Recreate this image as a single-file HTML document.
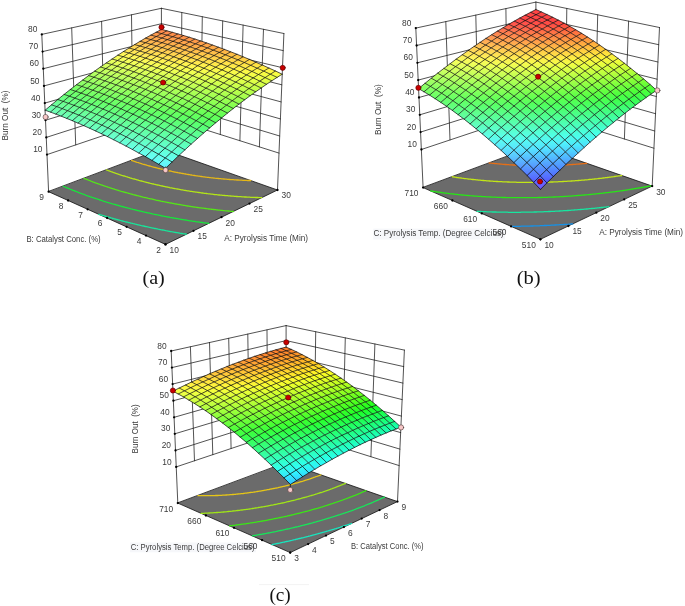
<!DOCTYPE html>
<html><head><meta charset="utf-8"><style>html,body{margin:0;padding:0;background:#fff}svg{display:block}</style></head><body>
<svg width="685" height="606" viewBox="0 0 685 606">
<defs><linearGradient id="A1" gradientUnits="userSpaceOnUse" x1="161.2" y1="33.5" x2="161.9" y2="29.5"><stop stop-color="#ff934d"/><stop offset="1" stop-color="#ff854d"/></linearGradient><linearGradient id="A2" gradientUnits="userSpaceOnUse" x1="155.9" y1="36.4" x2="156.7" y2="32.3"><stop stop-color="#ffa14e"/><stop offset="1" stop-color="#ff934e"/></linearGradient><linearGradient id="A3" gradientUnits="userSpaceOnUse" x1="166.6" y1="35" x2="167.4" y2="30.9"><stop stop-color="#ff944c"/><stop offset="1" stop-color="#ff864c"/></linearGradient><linearGradient id="A4" gradientUnits="userSpaceOnUse" x1="150.5" y1="39.5" x2="151.4" y2="35.2"><stop stop-color="#ffaf50"/><stop offset="1" stop-color="#ffa150"/></linearGradient><linearGradient id="A5" gradientUnits="userSpaceOnUse" x1="161.3" y1="38" x2="162.1" y2="33.7"><stop stop-color="#ffa24e"/><stop offset="1" stop-color="#ff944e"/></linearGradient><linearGradient id="A6" gradientUnits="userSpaceOnUse" x1="172.2" y1="36.6" x2="172.8" y2="32.4"><stop stop-color="#ff964b"/><stop offset="1" stop-color="#ff884b"/></linearGradient><linearGradient id="A7" gradientUnits="userSpaceOnUse" x1="145.1" y1="42.6" x2="146" y2="38.2"><stop stop-color="#ffbe52"/><stop offset="1" stop-color="#ffaf52"/></linearGradient><linearGradient id="A8" gradientUnits="userSpaceOnUse" x1="156" y1="41" x2="156.8" y2="36.6"><stop stop-color="#ffb150"/><stop offset="1" stop-color="#ffa250"/></linearGradient><linearGradient id="A9" gradientUnits="userSpaceOnUse" x1="166.9" y1="39.6" x2="167.6" y2="35.2"><stop stop-color="#ffa44d"/><stop offset="1" stop-color="#ff954d"/></linearGradient><linearGradient id="A10" gradientUnits="userSpaceOnUse" x1="177.8" y1="38.3" x2="178.4" y2="33.9"><stop stop-color="#ff994b"/><stop offset="1" stop-color="#ff8a4b"/></linearGradient><linearGradient id="A11" gradientUnits="userSpaceOnUse" x1="139.6" y1="45.9" x2="140.6" y2="41.4"><stop stop-color="#ffce54"/><stop offset="1" stop-color="#ffbe54"/></linearGradient><linearGradient id="A12" gradientUnits="userSpaceOnUse" x1="150.5" y1="44.2" x2="151.4" y2="39.7"><stop stop-color="#ffc051"/><stop offset="1" stop-color="#ffb051"/></linearGradient><linearGradient id="A13" gradientUnits="userSpaceOnUse" x1="161.5" y1="42.6" x2="162.3" y2="38.1"><stop stop-color="#ffb34f"/><stop offset="1" stop-color="#ffa34f"/></linearGradient><linearGradient id="A14" gradientUnits="userSpaceOnUse" x1="172.5" y1="41.2" x2="173.1" y2="36.8"><stop stop-color="#ffa74d"/><stop offset="1" stop-color="#ff974d"/></linearGradient><linearGradient id="A15" gradientUnits="userSpaceOnUse" x1="183.4" y1="40" x2="184" y2="35.6"><stop stop-color="#ff9c4a"/><stop offset="1" stop-color="#ff8c4a"/></linearGradient><linearGradient id="A16" gradientUnits="userSpaceOnUse" x1="134" y1="49.4" x2="135.1" y2="44.7"><stop stop-color="#ffde56"/><stop offset="1" stop-color="#ffcd56"/></linearGradient><linearGradient id="A17" gradientUnits="userSpaceOnUse" x1="145" y1="47.5" x2="146" y2="42.8"><stop stop-color="#ffcf53"/><stop offset="1" stop-color="#ffbf53"/></linearGradient><linearGradient id="A18" gradientUnits="userSpaceOnUse" x1="156.1" y1="45.8" x2="156.9" y2="41.2"><stop stop-color="#ffc251"/><stop offset="1" stop-color="#ffb151"/></linearGradient><linearGradient id="A19" gradientUnits="userSpaceOnUse" x1="167.1" y1="44.3" x2="167.8" y2="39.7"><stop stop-color="#ffb54e"/><stop offset="1" stop-color="#ffa54e"/></linearGradient><linearGradient id="A20" gradientUnits="userSpaceOnUse" x1="178.1" y1="43" x2="178.8" y2="38.4"><stop stop-color="#ffaa4c"/><stop offset="1" stop-color="#ff9a4c"/></linearGradient><linearGradient id="A21" gradientUnits="userSpaceOnUse" x1="189.2" y1="41.9" x2="189.7" y2="37.3"><stop stop-color="#ffa04a"/><stop offset="1" stop-color="#ff8f4a"/></linearGradient><linearGradient id="A22" gradientUnits="userSpaceOnUse" x1="128.4" y1="52.9" x2="129.5" y2="48.1"><stop stop-color="#ffee57"/><stop offset="1" stop-color="#ffdd57"/></linearGradient><linearGradient id="A23" gradientUnits="userSpaceOnUse" x1="139.5" y1="51" x2="140.5" y2="46.1"><stop stop-color="#ffdf55"/><stop offset="1" stop-color="#ffce55"/></linearGradient><linearGradient id="A24" gradientUnits="userSpaceOnUse" x1="150.6" y1="49.2" x2="151.5" y2="44.4"><stop stop-color="#ffd153"/><stop offset="1" stop-color="#ffc053"/></linearGradient><linearGradient id="A25" gradientUnits="userSpaceOnUse" x1="161.7" y1="47.6" x2="162.4" y2="42.8"><stop stop-color="#ffc450"/><stop offset="1" stop-color="#ffb350"/></linearGradient><linearGradient id="A26" gradientUnits="userSpaceOnUse" x1="172.7" y1="46.1" x2="173.4" y2="41.4"><stop stop-color="#ffb84e"/><stop offset="1" stop-color="#ffa74e"/></linearGradient><linearGradient id="A27" gradientUnits="userSpaceOnUse" x1="183.8" y1="44.9" x2="184.4" y2="40.2"><stop stop-color="#ffad4c"/><stop offset="1" stop-color="#ff9d4c"/></linearGradient><linearGradient id="A28" gradientUnits="userSpaceOnUse" x1="194.9" y1="43.8" x2="195.4" y2="39.1"><stop stop-color="#ffa449"/><stop offset="1" stop-color="#ff9349"/></linearGradient><linearGradient id="A29" gradientUnits="userSpaceOnUse" x1="122.7" y1="56.6" x2="123.9" y2="51.6"><stop stop-color="#fffe59"/><stop offset="1" stop-color="#ffed59"/></linearGradient><linearGradient id="A30" gradientUnits="userSpaceOnUse" x1="133.9" y1="54.5" x2="134.9" y2="49.6"><stop stop-color="#ffef57"/><stop offset="1" stop-color="#ffde57"/></linearGradient><linearGradient id="A31" gradientUnits="userSpaceOnUse" x1="145" y1="52.6" x2="146" y2="47.7"><stop stop-color="#ffe154"/><stop offset="1" stop-color="#ffd054"/></linearGradient><linearGradient id="A32" gradientUnits="userSpaceOnUse" x1="156.2" y1="50.9" x2="157" y2="46"><stop stop-color="#ffd352"/><stop offset="1" stop-color="#ffc252"/></linearGradient><linearGradient id="A33" gradientUnits="userSpaceOnUse" x1="167.3" y1="49.4" x2="168.1" y2="44.5"><stop stop-color="#ffc750"/><stop offset="1" stop-color="#ffb650"/></linearGradient><linearGradient id="A34" gradientUnits="userSpaceOnUse" x1="178.5" y1="48" x2="179.1" y2="43.1"><stop stop-color="#ffbc4d"/><stop offset="1" stop-color="#ffaa4d"/></linearGradient><linearGradient id="A35" gradientUnits="userSpaceOnUse" x1="189.6" y1="46.8" x2="190.2" y2="42"><stop stop-color="#ffb24b"/><stop offset="1" stop-color="#ffa04b"/></linearGradient><linearGradient id="A36" gradientUnits="userSpaceOnUse" x1="200.8" y1="45.8" x2="201.2" y2="41"><stop stop-color="#ffa949"/><stop offset="1" stop-color="#ff9749"/></linearGradient><linearGradient id="A37" gradientUnits="userSpaceOnUse" x1="117" y1="60.4" x2="118.3" y2="55.3"><stop stop-color="#efff5b"/><stop offset="1" stop-color="#fffe5b"/></linearGradient><linearGradient id="A38" gradientUnits="userSpaceOnUse" x1="128.2" y1="58.2" x2="129.3" y2="53.1"><stop stop-color="#feff59"/><stop offset="1" stop-color="#ffee59"/></linearGradient><linearGradient id="A39" gradientUnits="userSpaceOnUse" x1="139.4" y1="56.2" x2="140.4" y2="51.2"><stop stop-color="#fff156"/><stop offset="1" stop-color="#ffdf56"/></linearGradient><linearGradient id="A40" gradientUnits="userSpaceOnUse" x1="150.6" y1="54.4" x2="151.5" y2="49.4"><stop stop-color="#ffe354"/><stop offset="1" stop-color="#ffd154"/></linearGradient><linearGradient id="A41" gradientUnits="userSpaceOnUse" x1="161.8" y1="52.8" x2="162.6" y2="47.7"><stop stop-color="#ffd652"/><stop offset="1" stop-color="#ffc552"/></linearGradient><linearGradient id="A42" gradientUnits="userSpaceOnUse" x1="173" y1="51.3" x2="173.7" y2="46.3"><stop stop-color="#ffcb4f"/><stop offset="1" stop-color="#ffb94f"/></linearGradient><linearGradient id="A43" gradientUnits="userSpaceOnUse" x1="184.3" y1="50" x2="184.9" y2="45"><stop stop-color="#ffc04d"/><stop offset="1" stop-color="#ffae4d"/></linearGradient><linearGradient id="A44" gradientUnits="userSpaceOnUse" x1="195.5" y1="48.8" x2="196" y2="43.9"><stop stop-color="#ffb64a"/><stop offset="1" stop-color="#ffa44a"/></linearGradient><linearGradient id="A45" gradientUnits="userSpaceOnUse" x1="206.7" y1="47.9" x2="207.1" y2="43"><stop stop-color="#ffae48"/><stop offset="1" stop-color="#ff9c48"/></linearGradient><linearGradient id="A46" gradientUnits="userSpaceOnUse" x1="111.2" y1="64.4" x2="112.5" y2="59.1"><stop stop-color="#ddff5d"/><stop offset="1" stop-color="#f0ff5d"/></linearGradient><linearGradient id="A47" gradientUnits="userSpaceOnUse" x1="122.5" y1="62.1" x2="123.7" y2="56.8"><stop stop-color="#edff5a"/><stop offset="1" stop-color="#fffe5a"/></linearGradient><linearGradient id="A48" gradientUnits="userSpaceOnUse" x1="133.7" y1="60" x2="134.8" y2="54.7"><stop stop-color="#fcff58"/><stop offset="1" stop-color="#ffef58"/></linearGradient><linearGradient id="A49" gradientUnits="userSpaceOnUse" x1="145" y1="58" x2="146" y2="52.8"><stop stop-color="#fff356"/><stop offset="1" stop-color="#ffe156"/></linearGradient><linearGradient id="A50" gradientUnits="userSpaceOnUse" x1="156.3" y1="56.3" x2="157.1" y2="51.1"><stop stop-color="#ffe653"/><stop offset="1" stop-color="#ffd453"/></linearGradient><linearGradient id="A51" gradientUnits="userSpaceOnUse" x1="167.5" y1="54.7" x2="168.3" y2="49.5"><stop stop-color="#ffda51"/><stop offset="1" stop-color="#ffc751"/></linearGradient><linearGradient id="A52" gradientUnits="userSpaceOnUse" x1="178.8" y1="53.3" x2="179.5" y2="48.1"><stop stop-color="#ffcf4f"/><stop offset="1" stop-color="#ffbc4f"/></linearGradient><linearGradient id="A53" gradientUnits="userSpaceOnUse" x1="190.1" y1="52" x2="190.7" y2="46.9"><stop stop-color="#ffc54c"/><stop offset="1" stop-color="#ffb24c"/></linearGradient><linearGradient id="A54" gradientUnits="userSpaceOnUse" x1="201.4" y1="51" x2="201.9" y2="45.9"><stop stop-color="#ffbc4a"/><stop offset="1" stop-color="#ffa94a"/></linearGradient><linearGradient id="A55" gradientUnits="userSpaceOnUse" x1="212.7" y1="50.1" x2="213.1" y2="45"><stop stop-color="#ffb448"/><stop offset="1" stop-color="#ffa248"/></linearGradient><linearGradient id="A56" gradientUnits="userSpaceOnUse" x1="105.3" y1="68.5" x2="106.8" y2="63"><stop stop-color="#ccff5f"/><stop offset="1" stop-color="#deff5f"/></linearGradient><linearGradient id="A57" gradientUnits="userSpaceOnUse" x1="116.7" y1="66.1" x2="118" y2="60.7"><stop stop-color="#dcff5c"/><stop offset="1" stop-color="#efff5c"/></linearGradient><linearGradient id="A58" gradientUnits="userSpaceOnUse" x1="128" y1="63.8" x2="129.1" y2="58.5"><stop stop-color="#ecff5a"/><stop offset="1" stop-color="#feff5a"/></linearGradient><linearGradient id="A59" gradientUnits="userSpaceOnUse" x1="139.3" y1="61.8" x2="140.4" y2="56.4"><stop stop-color="#faff58"/><stop offset="1" stop-color="#fff158"/></linearGradient><linearGradient id="A60" gradientUnits="userSpaceOnUse" x1="150.6" y1="59.9" x2="151.6" y2="54.6"><stop stop-color="#fff655"/><stop offset="1" stop-color="#ffe355"/></linearGradient><linearGradient id="A61" gradientUnits="userSpaceOnUse" x1="162" y1="58.2" x2="162.8" y2="52.9"><stop stop-color="#ffea53"/><stop offset="1" stop-color="#ffd753"/></linearGradient><linearGradient id="A62" gradientUnits="userSpaceOnUse" x1="173.3" y1="56.7" x2="174.1" y2="51.4"><stop stop-color="#ffde50"/><stop offset="1" stop-color="#ffcb50"/></linearGradient><linearGradient id="A63" gradientUnits="userSpaceOnUse" x1="184.7" y1="55.3" x2="185.3" y2="50.1"><stop stop-color="#ffd34e"/><stop offset="1" stop-color="#ffc04e"/></linearGradient><linearGradient id="A64" gradientUnits="userSpaceOnUse" x1="196" y1="54.2" x2="196.6" y2="49"><stop stop-color="#ffca4c"/><stop offset="1" stop-color="#ffb74c"/></linearGradient><linearGradient id="A65" gradientUnits="userSpaceOnUse" x1="218.7" y1="52.4" x2="219.1" y2="47.2"><stop stop-color="#ffbb47"/><stop offset="1" stop-color="#ffa847"/></linearGradient><linearGradient id="A66" gradientUnits="userSpaceOnUse" x1="207.4" y1="53.2" x2="207.8" y2="48"><stop stop-color="#ffc249"/><stop offset="1" stop-color="#ffaf49"/></linearGradient><linearGradient id="A67" gradientUnits="userSpaceOnUse" x1="99.4" y1="72.7" x2="100.9" y2="67.1"><stop stop-color="#baff60"/><stop offset="1" stop-color="#cdff60"/></linearGradient><linearGradient id="A68" gradientUnits="userSpaceOnUse" x1="110.8" y1="70.2" x2="112.2" y2="64.6"><stop stop-color="#cbff5e"/><stop offset="1" stop-color="#deff5e"/></linearGradient><linearGradient id="A69" gradientUnits="userSpaceOnUse" x1="122.2" y1="67.9" x2="123.4" y2="62.3"><stop stop-color="#daff5c"/><stop offset="1" stop-color="#edff5c"/></linearGradient><linearGradient id="A70" gradientUnits="userSpaceOnUse" x1="133.6" y1="65.7" x2="134.7" y2="60.2"><stop stop-color="#e9ff59"/><stop offset="1" stop-color="#fcff59"/></linearGradient><linearGradient id="A71" gradientUnits="userSpaceOnUse" x1="145" y1="63.7" x2="146" y2="58.2"><stop stop-color="#f7ff57"/><stop offset="1" stop-color="#fff357"/></linearGradient><linearGradient id="A72" gradientUnits="userSpaceOnUse" x1="156.4" y1="61.9" x2="157.3" y2="56.4"><stop stop-color="#fffa55"/><stop offset="1" stop-color="#ffe655"/></linearGradient><linearGradient id="A73" gradientUnits="userSpaceOnUse" x1="167.8" y1="60.2" x2="168.6" y2="54.8"><stop stop-color="#ffed52"/><stop offset="1" stop-color="#ffda52"/></linearGradient><linearGradient id="A74" gradientUnits="userSpaceOnUse" x1="179.2" y1="58.8" x2="179.9" y2="53.4"><stop stop-color="#ffe250"/><stop offset="1" stop-color="#ffcf50"/></linearGradient><linearGradient id="A75" gradientUnits="userSpaceOnUse" x1="190.6" y1="57.5" x2="191.2" y2="52.1"><stop stop-color="#ffd84e"/><stop offset="1" stop-color="#ffc54e"/></linearGradient><linearGradient id="A76" gradientUnits="userSpaceOnUse" x1="224.8" y1="54.8" x2="225.1" y2="49.5"><stop stop-color="#ffc246"/><stop offset="1" stop-color="#ffae46"/></linearGradient><linearGradient id="A77" gradientUnits="userSpaceOnUse" x1="202" y1="56.4" x2="202.5" y2="51.1"><stop stop-color="#ffd04b"/><stop offset="1" stop-color="#ffbc4b"/></linearGradient><linearGradient id="A78" gradientUnits="userSpaceOnUse" x1="213.4" y1="55.5" x2="213.8" y2="50.2"><stop stop-color="#ffc849"/><stop offset="1" stop-color="#ffb549"/></linearGradient><linearGradient id="A79" gradientUnits="userSpaceOnUse" x1="93.4" y1="77.1" x2="95" y2="71.3"><stop stop-color="#a8ff62"/><stop offset="1" stop-color="#bbff62"/></linearGradient><linearGradient id="A80" gradientUnits="userSpaceOnUse" x1="104.9" y1="74.5" x2="106.3" y2="68.7"><stop stop-color="#b9ff60"/><stop offset="1" stop-color="#ccff60"/></linearGradient><linearGradient id="A81" gradientUnits="userSpaceOnUse" x1="116.3" y1="72" x2="117.6" y2="66.3"><stop stop-color="#c9ff5e"/><stop offset="1" stop-color="#dcff5e"/></linearGradient><linearGradient id="A82" gradientUnits="userSpaceOnUse" x1="127.7" y1="69.7" x2="129" y2="64.1"><stop stop-color="#d8ff5b"/><stop offset="1" stop-color="#ecff5b"/></linearGradient><linearGradient id="A83" gradientUnits="userSpaceOnUse" x1="139.2" y1="67.6" x2="140.3" y2="62"><stop stop-color="#e6ff59"/><stop offset="1" stop-color="#faff59"/></linearGradient><linearGradient id="A84" gradientUnits="userSpaceOnUse" x1="150.7" y1="65.7" x2="151.6" y2="60.1"><stop stop-color="#f4ff56"/><stop offset="1" stop-color="#fff656"/></linearGradient><linearGradient id="A85" gradientUnits="userSpaceOnUse" x1="162.1" y1="63.9" x2="163" y2="58.4"><stop stop-color="#fffe54"/><stop offset="1" stop-color="#ffea54"/></linearGradient><linearGradient id="A86" gradientUnits="userSpaceOnUse" x1="173.6" y1="62.4" x2="174.4" y2="56.8"><stop stop-color="#fff252"/><stop offset="1" stop-color="#ffde52"/></linearGradient><linearGradient id="A87" gradientUnits="userSpaceOnUse" x1="185.1" y1="61" x2="185.8" y2="55.5"><stop stop-color="#ffe84f"/><stop offset="1" stop-color="#ffd44f"/></linearGradient><linearGradient id="A88" gradientUnits="userSpaceOnUse" x1="196.6" y1="59.8" x2="197.1" y2="54.3"><stop stop-color="#ffde4d"/><stop offset="1" stop-color="#ffca4d"/></linearGradient><linearGradient id="A89" gradientUnits="userSpaceOnUse" x1="231" y1="57.2" x2="231.3" y2="51.8"><stop stop-color="#ffc946"/><stop offset="1" stop-color="#ffb546"/></linearGradient><linearGradient id="A90" gradientUnits="userSpaceOnUse" x1="208.1" y1="58.7" x2="208.5" y2="53.3"><stop stop-color="#ffd64b"/><stop offset="1" stop-color="#ffc24b"/></linearGradient><linearGradient id="A91" gradientUnits="userSpaceOnUse" x1="219.5" y1="57.9" x2="219.9" y2="52.5"><stop stop-color="#ffcf48"/><stop offset="1" stop-color="#ffbb48"/></linearGradient><linearGradient id="A92" gradientUnits="userSpaceOnUse" x1="87.4" y1="81.6" x2="89.1" y2="75.7"><stop stop-color="#96ff64"/><stop offset="1" stop-color="#aaff64"/></linearGradient><linearGradient id="A93" gradientUnits="userSpaceOnUse" x1="98.9" y1="78.9" x2="100.4" y2="73"><stop stop-color="#a7ff62"/><stop offset="1" stop-color="#bbff62"/></linearGradient><linearGradient id="A94" gradientUnits="userSpaceOnUse" x1="110.4" y1="76.3" x2="111.8" y2="70.4"><stop stop-color="#b7ff5f"/><stop offset="1" stop-color="#cbff5f"/></linearGradient><linearGradient id="A95" gradientUnits="userSpaceOnUse" x1="121.9" y1="73.9" x2="123.2" y2="68.1"><stop stop-color="#c7ff5d"/><stop offset="1" stop-color="#dbff5d"/></linearGradient><linearGradient id="A96" gradientUnits="userSpaceOnUse" x1="133.4" y1="71.7" x2="134.6" y2="65.9"><stop stop-color="#d5ff5b"/><stop offset="1" stop-color="#e9ff5b"/></linearGradient><linearGradient id="A97" gradientUnits="userSpaceOnUse" x1="144.9" y1="69.6" x2="146" y2="63.9"><stop stop-color="#e3ff58"/><stop offset="1" stop-color="#f7ff58"/></linearGradient><linearGradient id="A98" gradientUnits="userSpaceOnUse" x1="156.5" y1="67.8" x2="157.4" y2="62.1"><stop stop-color="#f0ff56"/><stop offset="1" stop-color="#fffa56"/></linearGradient><linearGradient id="A99" gradientUnits="userSpaceOnUse" x1="168" y1="66.1" x2="168.8" y2="60.4"><stop stop-color="#fcff54"/><stop offset="1" stop-color="#ffee54"/></linearGradient><linearGradient id="A100" gradientUnits="userSpaceOnUse" x1="179.5" y1="64.6" x2="180.3" y2="58.9"><stop stop-color="#fff751"/><stop offset="1" stop-color="#ffe351"/></linearGradient><linearGradient id="A101" gradientUnits="userSpaceOnUse" x1="191.1" y1="63.3" x2="191.7" y2="57.6"><stop stop-color="#ffed4f"/><stop offset="1" stop-color="#ffd94f"/></linearGradient><linearGradient id="A102" gradientUnits="userSpaceOnUse" x1="237.3" y1="59.8" x2="237.5" y2="54.3"><stop stop-color="#ffd245"/><stop offset="1" stop-color="#ffbd45"/></linearGradient><linearGradient id="A103" gradientUnits="userSpaceOnUse" x1="202.6" y1="62.1" x2="203.2" y2="56.5"><stop stop-color="#ffe44c"/><stop offset="1" stop-color="#ffd04c"/></linearGradient><linearGradient id="A104" gradientUnits="userSpaceOnUse" x1="225.7" y1="60.4" x2="226.1" y2="54.8"><stop stop-color="#ffd748"/><stop offset="1" stop-color="#ffc248"/></linearGradient><linearGradient id="A105" gradientUnits="userSpaceOnUse" x1="214.2" y1="61.2" x2="214.6" y2="55.6"><stop stop-color="#ffdd4a"/><stop offset="1" stop-color="#ffc84a"/></linearGradient><linearGradient id="A106" gradientUnits="userSpaceOnUse" x1="81.3" y1="86.3" x2="83.1" y2="80.2"><stop stop-color="#83ff66"/><stop offset="1" stop-color="#98ff66"/></linearGradient><linearGradient id="A107" gradientUnits="userSpaceOnUse" x1="92.8" y1="83.4" x2="94.5" y2="77.4"><stop stop-color="#95ff64"/><stop offset="1" stop-color="#a9ff64"/></linearGradient><linearGradient id="A108" gradientUnits="userSpaceOnUse" x1="104.4" y1="80.7" x2="105.9" y2="74.7"><stop stop-color="#a5ff61"/><stop offset="1" stop-color="#b9ff61"/></linearGradient><linearGradient id="A109" gradientUnits="userSpaceOnUse" x1="115.9" y1="78.2" x2="117.3" y2="72.2"><stop stop-color="#b5ff5f"/><stop offset="1" stop-color="#c9ff5f"/></linearGradient><linearGradient id="A110" gradientUnits="userSpaceOnUse" x1="127.5" y1="75.9" x2="128.8" y2="69.9"><stop stop-color="#c4ff5c"/><stop offset="1" stop-color="#d8ff5c"/></linearGradient><linearGradient id="A111" gradientUnits="userSpaceOnUse" x1="139.1" y1="73.7" x2="140.2" y2="67.8"><stop stop-color="#d2ff5a"/><stop offset="1" stop-color="#e7ff5a"/></linearGradient><linearGradient id="A112" gradientUnits="userSpaceOnUse" x1="150.7" y1="71.8" x2="151.7" y2="65.9"><stop stop-color="#dfff58"/><stop offset="1" stop-color="#f4ff58"/></linearGradient><linearGradient id="A113" gradientUnits="userSpaceOnUse" x1="162.3" y1="70" x2="163.2" y2="64.1"><stop stop-color="#ecff55"/><stop offset="1" stop-color="#fffe55"/></linearGradient><linearGradient id="A114" gradientUnits="userSpaceOnUse" x1="173.9" y1="68.3" x2="174.7" y2="62.5"><stop stop-color="#f7ff53"/><stop offset="1" stop-color="#fff253"/></linearGradient><linearGradient id="A115" gradientUnits="userSpaceOnUse" x1="185.5" y1="66.9" x2="186.2" y2="61.1"><stop stop-color="#fffd51"/><stop offset="1" stop-color="#ffe851"/></linearGradient><linearGradient id="A116" gradientUnits="userSpaceOnUse" x1="243.6" y1="62.5" x2="243.8" y2="56.8"><stop stop-color="#ffdb45"/><stop offset="1" stop-color="#ffc645"/></linearGradient><linearGradient id="A117" gradientUnits="userSpaceOnUse" x1="197.2" y1="65.7" x2="197.7" y2="59.9"><stop stop-color="#fff34e"/><stop offset="1" stop-color="#ffde4e"/></linearGradient><linearGradient id="A118" gradientUnits="userSpaceOnUse" x1="232" y1="63" x2="232.3" y2="57.3"><stop stop-color="#ffdf47"/><stop offset="1" stop-color="#ffca47"/></linearGradient><linearGradient id="A119" gradientUnits="userSpaceOnUse" x1="208.8" y1="64.6" x2="209.3" y2="58.8"><stop stop-color="#ffeb4c"/><stop offset="1" stop-color="#ffd64c"/></linearGradient><linearGradient id="A120" gradientUnits="userSpaceOnUse" x1="220.4" y1="63.7" x2="220.8" y2="58"><stop stop-color="#ffe549"/><stop offset="1" stop-color="#ffcf49"/></linearGradient><linearGradient id="A121" gradientUnits="userSpaceOnUse" x1="75.1" y1="91.1" x2="77" y2="84.9"><stop stop-color="#71ff68"/><stop offset="1" stop-color="#85ff68"/></linearGradient><linearGradient id="A122" gradientUnits="userSpaceOnUse" x1="86.7" y1="88.1" x2="88.5" y2="81.9"><stop stop-color="#82ff65"/><stop offset="1" stop-color="#97ff65"/></linearGradient><linearGradient id="A123" gradientUnits="userSpaceOnUse" x1="98.3" y1="85.3" x2="99.9" y2="79.1"><stop stop-color="#93ff63"/><stop offset="1" stop-color="#a8ff63"/></linearGradient><linearGradient id="A124" gradientUnits="userSpaceOnUse" x1="109.9" y1="82.7" x2="111.4" y2="76.5"><stop stop-color="#a3ff61"/><stop offset="1" stop-color="#b8ff61"/></linearGradient><linearGradient id="A125" gradientUnits="userSpaceOnUse" x1="121.6" y1="80.2" x2="122.9" y2="74.1"><stop stop-color="#b2ff5e"/><stop offset="1" stop-color="#c7ff5e"/></linearGradient><linearGradient id="A126" gradientUnits="userSpaceOnUse" x1="133.2" y1="78" x2="134.4" y2="71.9"><stop stop-color="#c1ff5c"/><stop offset="1" stop-color="#d6ff5c"/></linearGradient><linearGradient id="A127" gradientUnits="userSpaceOnUse" x1="144.9" y1="75.9" x2="146" y2="69.8"><stop stop-color="#ceff59"/><stop offset="1" stop-color="#e3ff59"/></linearGradient><linearGradient id="A128" gradientUnits="userSpaceOnUse" x1="156.6" y1="74" x2="157.5" y2="68"><stop stop-color="#dbff57"/><stop offset="1" stop-color="#f0ff57"/></linearGradient><linearGradient id="A129" gradientUnits="userSpaceOnUse" x1="168.2" y1="72.2" x2="169.1" y2="66.3"><stop stop-color="#e7ff55"/><stop offset="1" stop-color="#fcff55"/></linearGradient><linearGradient id="A130" gradientUnits="userSpaceOnUse" x1="179.9" y1="70.7" x2="180.7" y2="64.7"><stop stop-color="#f1ff52"/><stop offset="1" stop-color="#fff752"/></linearGradient><linearGradient id="A131" gradientUnits="userSpaceOnUse" x1="250" y1="65.3" x2="250.1" y2="59.4"><stop stop-color="#ffe444"/><stop offset="1" stop-color="#ffcf44"/></linearGradient><linearGradient id="A132" gradientUnits="userSpaceOnUse" x1="191.6" y1="69.3" x2="192.3" y2="63.4"><stop stop-color="#fbff50"/><stop offset="1" stop-color="#ffed50"/></linearGradient><linearGradient id="A133" gradientUnits="userSpaceOnUse" x1="238.3" y1="65.7" x2="238.6" y2="59.9"><stop stop-color="#ffe847"/><stop offset="1" stop-color="#ffd247"/></linearGradient><linearGradient id="A134" gradientUnits="userSpaceOnUse" x1="203.3" y1="68.1" x2="203.8" y2="62.2"><stop stop-color="#fffa4e"/><stop offset="1" stop-color="#ffe54e"/></linearGradient><linearGradient id="A135" gradientUnits="userSpaceOnUse" x1="226.6" y1="66.3" x2="227" y2="60.5"><stop stop-color="#ffed49"/><stop offset="1" stop-color="#ffd749"/></linearGradient><linearGradient id="A136" gradientUnits="userSpaceOnUse" x1="215" y1="67.2" x2="215.4" y2="61.3"><stop stop-color="#fff34b"/><stop offset="1" stop-color="#ffdd4b"/></linearGradient><linearGradient id="A137" gradientUnits="userSpaceOnUse" x1="68.9" y1="96.1" x2="70.9" y2="89.7"><stop stop-color="#6aff75"/><stop offset="1" stop-color="#73ff6a"/></linearGradient><linearGradient id="A138" gradientUnits="userSpaceOnUse" x1="80.5" y1="93" x2="82.4" y2="86.6"><stop stop-color="#70ff67"/><stop offset="1" stop-color="#84ff67"/></linearGradient><linearGradient id="A139" gradientUnits="userSpaceOnUse" x1="92.2" y1="90" x2="93.9" y2="83.7"><stop stop-color="#80ff65"/><stop offset="1" stop-color="#95ff65"/></linearGradient><linearGradient id="A140" gradientUnits="userSpaceOnUse" x1="103.9" y1="87.3" x2="105.4" y2="81"><stop stop-color="#91ff62"/><stop offset="1" stop-color="#a6ff62"/></linearGradient><linearGradient id="A141" gradientUnits="userSpaceOnUse" x1="115.6" y1="84.7" x2="117" y2="78.5"><stop stop-color="#a0ff60"/><stop offset="1" stop-color="#b5ff60"/></linearGradient><linearGradient id="A142" gradientUnits="userSpaceOnUse" x1="127.3" y1="82.3" x2="128.6" y2="76.1"><stop stop-color="#afff5e"/><stop offset="1" stop-color="#c4ff5e"/></linearGradient><linearGradient id="A143" gradientUnits="userSpaceOnUse" x1="139" y1="80.1" x2="140.2" y2="73.9"><stop stop-color="#bdff5b"/><stop offset="1" stop-color="#d2ff5b"/></linearGradient><linearGradient id="A144" gradientUnits="userSpaceOnUse" x1="150.7" y1="78.1" x2="151.8" y2="71.9"><stop stop-color="#caff59"/><stop offset="1" stop-color="#e0ff59"/></linearGradient><linearGradient id="A145" gradientUnits="userSpaceOnUse" x1="162.5" y1="76.3" x2="163.4" y2="70.1"><stop stop-color="#d6ff57"/><stop offset="1" stop-color="#ecff57"/></linearGradient><linearGradient id="A146" gradientUnits="userSpaceOnUse" x1="174.2" y1="74.6" x2="175.1" y2="68.5"><stop stop-color="#e1ff54"/><stop offset="1" stop-color="#f7ff54"/></linearGradient><linearGradient id="A147" gradientUnits="userSpaceOnUse" x1="256.5" y1="68.1" x2="256.6" y2="62.2"><stop stop-color="#ffee44"/><stop offset="1" stop-color="#ffd844"/></linearGradient><linearGradient id="A148" gradientUnits="userSpaceOnUse" x1="186" y1="73.1" x2="186.7" y2="67.1"><stop stop-color="#ebff52"/><stop offset="1" stop-color="#fffd52"/></linearGradient><linearGradient id="A149" gradientUnits="userSpaceOnUse" x1="244.7" y1="68.5" x2="244.9" y2="62.5"><stop stop-color="#fff146"/><stop offset="1" stop-color="#ffdb46"/></linearGradient><linearGradient id="A150" gradientUnits="userSpaceOnUse" x1="197.7" y1="71.8" x2="198.4" y2="65.8"><stop stop-color="#f4ff4f"/><stop offset="1" stop-color="#fff44f"/></linearGradient><linearGradient id="A151" gradientUnits="userSpaceOnUse" x1="233" y1="69.1" x2="233.3" y2="63.1"><stop stop-color="#fff548"/><stop offset="1" stop-color="#ffdf48"/></linearGradient><linearGradient id="A152" gradientUnits="userSpaceOnUse" x1="209.5" y1="70.7" x2="210" y2="64.7"><stop stop-color="#fcff4d"/><stop offset="1" stop-color="#ffec4d"/></linearGradient><linearGradient id="A153" gradientUnits="userSpaceOnUse" x1="221.2" y1="69.8" x2="221.6" y2="63.8"><stop stop-color="#fffb4b"/><stop offset="1" stop-color="#ffe54b"/></linearGradient><linearGradient id="A154" gradientUnits="userSpaceOnUse" x1="62.6" y1="101.2" x2="64.7" y2="94.6"><stop stop-color="#6bff8b"/><stop offset="1" stop-color="#6bff76"/></linearGradient><linearGradient id="A155" gradientUnits="userSpaceOnUse" x1="74.3" y1="98" x2="76.2" y2="91.4"><stop stop-color="#69ff75"/><stop offset="1" stop-color="#72ff69"/></linearGradient><linearGradient id="A156" gradientUnits="userSpaceOnUse" x1="86" y1="94.9" x2="87.8" y2="88.4"><stop stop-color="#6eff67"/><stop offset="1" stop-color="#83ff67"/></linearGradient><linearGradient id="A157" gradientUnits="userSpaceOnUse" x1="97.7" y1="92.1" x2="99.4" y2="85.6"><stop stop-color="#7eff64"/><stop offset="1" stop-color="#94ff64"/></linearGradient><linearGradient id="A158" gradientUnits="userSpaceOnUse" x1="109.5" y1="89.4" x2="111" y2="82.9"><stop stop-color="#8eff62"/><stop offset="1" stop-color="#a4ff62"/></linearGradient><linearGradient id="A159" gradientUnits="userSpaceOnUse" x1="121.3" y1="86.9" x2="122.7" y2="80.5"><stop stop-color="#9dff5f"/><stop offset="1" stop-color="#b3ff5f"/></linearGradient><linearGradient id="A160" gradientUnits="userSpaceOnUse" x1="133.1" y1="84.6" x2="134.3" y2="78.2"><stop stop-color="#abff5d"/><stop offset="1" stop-color="#c1ff5d"/></linearGradient><linearGradient id="A161" gradientUnits="userSpaceOnUse" x1="144.9" y1="82.4" x2="146" y2="76.1"><stop stop-color="#b9ff5b"/><stop offset="1" stop-color="#cfff5b"/></linearGradient><linearGradient id="A162" gradientUnits="userSpaceOnUse" x1="156.7" y1="80.5" x2="157.7" y2="74.1"><stop stop-color="#c5ff58"/><stop offset="1" stop-color="#dbff58"/></linearGradient><linearGradient id="A163" gradientUnits="userSpaceOnUse" x1="168.5" y1="78.7" x2="169.4" y2="72.4"><stop stop-color="#d1ff56"/><stop offset="1" stop-color="#e7ff56"/></linearGradient><linearGradient id="A164" gradientUnits="userSpaceOnUse" x1="56.2" y1="106.4" x2="58.4" y2="99.7"><stop stop-color="#6dffa2"/><stop offset="1" stop-color="#6dff8d"/></linearGradient><linearGradient id="A165" gradientUnits="userSpaceOnUse" x1="263" y1="71.1" x2="263.1" y2="65"><stop stop-color="#fff943"/><stop offset="1" stop-color="#ffe243"/></linearGradient><linearGradient id="A166" gradientUnits="userSpaceOnUse" x1="180.3" y1="77.1" x2="181.1" y2="70.8"><stop stop-color="#dbff54"/><stop offset="1" stop-color="#f2ff54"/></linearGradient><linearGradient id="A167" gradientUnits="userSpaceOnUse" x1="251.2" y1="71.4" x2="251.4" y2="65.3"><stop stop-color="#fffb45"/><stop offset="1" stop-color="#ffe445"/></linearGradient><linearGradient id="A168" gradientUnits="userSpaceOnUse" x1="192.1" y1="75.7" x2="192.8" y2="69.5"><stop stop-color="#e5ff51"/><stop offset="1" stop-color="#fbff51"/></linearGradient><linearGradient id="A169" gradientUnits="userSpaceOnUse" x1="239.4" y1="71.9" x2="239.7" y2="65.8"><stop stop-color="#ffff48"/><stop offset="1" stop-color="#ffe848"/></linearGradient><linearGradient id="A170" gradientUnits="userSpaceOnUse" x1="203.9" y1="74.5" x2="204.5" y2="68.3"><stop stop-color="#edff4f"/><stop offset="1" stop-color="#fffa4f"/></linearGradient><linearGradient id="A171" gradientUnits="userSpaceOnUse" x1="227.6" y1="72.6" x2="228" y2="66.4"><stop stop-color="#faff4a"/><stop offset="1" stop-color="#ffed4a"/></linearGradient><linearGradient id="A172" gradientUnits="userSpaceOnUse" x1="215.8" y1="73.4" x2="216.2" y2="67.2"><stop stop-color="#f4ff4d"/><stop offset="1" stop-color="#fff34d"/></linearGradient><linearGradient id="A173" gradientUnits="userSpaceOnUse" x1="68" y1="103.1" x2="70" y2="96.4"><stop stop-color="#6bff8c"/><stop offset="1" stop-color="#6bff76"/></linearGradient><linearGradient id="A174" gradientUnits="userSpaceOnUse" x1="79.7" y1="100" x2="81.7" y2="93.3"><stop stop-color="#68ff76"/><stop offset="1" stop-color="#71ff68"/></linearGradient><linearGradient id="A175" gradientUnits="userSpaceOnUse" x1="91.5" y1="97" x2="93.3" y2="90.3"><stop stop-color="#6cff66"/><stop offset="1" stop-color="#81ff66"/></linearGradient><linearGradient id="A176" gradientUnits="userSpaceOnUse" x1="103.4" y1="94.2" x2="105" y2="87.6"><stop stop-color="#7bff64"/><stop offset="1" stop-color="#91ff64"/></linearGradient><linearGradient id="A177" gradientUnits="userSpaceOnUse" x1="115.2" y1="91.6" x2="116.7" y2="85"><stop stop-color="#8bff61"/><stop offset="1" stop-color="#a1ff61"/></linearGradient><linearGradient id="A178" gradientUnits="userSpaceOnUse" x1="127.1" y1="89.1" x2="128.4" y2="82.6"><stop stop-color="#99ff5f"/><stop offset="1" stop-color="#afff5f"/></linearGradient><linearGradient id="A179" gradientUnits="userSpaceOnUse" x1="138.9" y1="86.9" x2="140.1" y2="80.3"><stop stop-color="#a7ff5d"/><stop offset="1" stop-color="#bdff5d"/></linearGradient><linearGradient id="A180" gradientUnits="userSpaceOnUse" x1="150.8" y1="84.8" x2="151.9" y2="78.3"><stop stop-color="#b4ff5a"/><stop offset="1" stop-color="#caff5a"/></linearGradient><linearGradient id="A181" gradientUnits="userSpaceOnUse" x1="49.8" y1="111.9" x2="52.1" y2="105"><stop stop-color="#6fffb9"/><stop offset="1" stop-color="#6fffa3"/></linearGradient><linearGradient id="A182" gradientUnits="userSpaceOnUse" x1="162.7" y1="82.9" x2="163.6" y2="76.4"><stop stop-color="#c0ff58"/><stop offset="1" stop-color="#d6ff58"/></linearGradient><linearGradient id="A183" gradientUnits="userSpaceOnUse" x1="174.5" y1="81.2" x2="175.4" y2="74.8"><stop stop-color="#cbff55"/><stop offset="1" stop-color="#e1ff55"/></linearGradient><linearGradient id="A184" gradientUnits="userSpaceOnUse" x1="269.6" y1="74.2" x2="269.6" y2="68"><stop stop-color="#f9ff43"/><stop offset="1" stop-color="#ffed43"/></linearGradient><linearGradient id="A185" gradientUnits="userSpaceOnUse" x1="186.4" y1="79.7" x2="187.2" y2="73.3"><stop stop-color="#d5ff53"/><stop offset="1" stop-color="#ecff53"/></linearGradient><linearGradient id="A186" gradientUnits="userSpaceOnUse" x1="257.7" y1="74.4" x2="257.9" y2="68.2"><stop stop-color="#f8ff45"/><stop offset="1" stop-color="#ffef45"/></linearGradient><linearGradient id="A187" gradientUnits="userSpaceOnUse" x1="61.6" y1="108.4" x2="63.8" y2="101.6"><stop stop-color="#6dffa2"/><stop offset="1" stop-color="#6dff8c"/></linearGradient><linearGradient id="A188" gradientUnits="userSpaceOnUse" x1="198.3" y1="78.3" x2="199" y2="72"><stop stop-color="#deff51"/><stop offset="1" stop-color="#f5ff51"/></linearGradient><linearGradient id="A189" gradientUnits="userSpaceOnUse" x1="245.9" y1="74.8" x2="246.1" y2="68.6"><stop stop-color="#f5ff47"/><stop offset="1" stop-color="#fff147"/></linearGradient><linearGradient id="A190" gradientUnits="userSpaceOnUse" x1="210.2" y1="77.2" x2="210.8" y2="70.8"><stop stop-color="#e5ff4e"/><stop offset="1" stop-color="#fcff4e"/></linearGradient><linearGradient id="A191" gradientUnits="userSpaceOnUse" x1="234" y1="75.4" x2="234.3" y2="69.1"><stop stop-color="#f1ff4a"/><stop offset="1" stop-color="#fff54a"/></linearGradient><linearGradient id="A192" gradientUnits="userSpaceOnUse" x1="222.1" y1="76.2" x2="222.5" y2="69.9"><stop stop-color="#ecff4c"/><stop offset="1" stop-color="#fffb4c"/></linearGradient><linearGradient id="A193" gradientUnits="userSpaceOnUse" x1="73.4" y1="105.1" x2="75.4" y2="98.3"><stop stop-color="#6aff8c"/><stop offset="1" stop-color="#6aff76"/></linearGradient><linearGradient id="A194" gradientUnits="userSpaceOnUse" x1="85.3" y1="102" x2="87.1" y2="95.2"><stop stop-color="#68ff77"/><stop offset="1" stop-color="#6fff68"/></linearGradient><linearGradient id="A195" gradientUnits="userSpaceOnUse" x1="97.2" y1="99.1" x2="98.9" y2="92.3"><stop stop-color="#69ff65"/><stop offset="1" stop-color="#7fff65"/></linearGradient><linearGradient id="A196" gradientUnits="userSpaceOnUse" x1="109.1" y1="96.4" x2="110.6" y2="89.6"><stop stop-color="#78ff63"/><stop offset="1" stop-color="#8fff63"/></linearGradient><linearGradient id="A197" gradientUnits="userSpaceOnUse" x1="121" y1="93.8" x2="122.4" y2="87.1"><stop stop-color="#87ff61"/><stop offset="1" stop-color="#9eff61"/></linearGradient><linearGradient id="A198" gradientUnits="userSpaceOnUse" x1="132.9" y1="91.5" x2="134.2" y2="84.8"><stop stop-color="#95ff5e"/><stop offset="1" stop-color="#acff5e"/></linearGradient><linearGradient id="A199" gradientUnits="userSpaceOnUse" x1="144.8" y1="89.3" x2="146" y2="82.6"><stop stop-color="#a2ff5c"/><stop offset="1" stop-color="#b9ff5c"/></linearGradient><linearGradient id="A200" gradientUnits="userSpaceOnUse" x1="156.8" y1="87.3" x2="157.8" y2="80.6"><stop stop-color="#aeff5a"/><stop offset="1" stop-color="#c5ff5a"/></linearGradient><linearGradient id="A201" gradientUnits="userSpaceOnUse" x1="55.1" y1="113.9" x2="57.4" y2="106.8"><stop stop-color="#6effb9"/><stop offset="1" stop-color="#6effa3"/></linearGradient><linearGradient id="A202" gradientUnits="userSpaceOnUse" x1="168.7" y1="85.4" x2="169.7" y2="78.8"><stop stop-color="#baff57"/><stop offset="1" stop-color="#d1ff57"/></linearGradient><linearGradient id="A203" gradientUnits="userSpaceOnUse" x1="276.3" y1="77.4" x2="276.3" y2="71"><stop stop-color="#edff42"/><stop offset="1" stop-color="#fff942"/></linearGradient><linearGradient id="A204" gradientUnits="userSpaceOnUse" x1="180.7" y1="83.8" x2="181.5" y2="77.2"><stop stop-color="#c4ff55"/><stop offset="1" stop-color="#dbff55"/></linearGradient><linearGradient id="A205" gradientUnits="userSpaceOnUse" x1="264.4" y1="77.6" x2="264.4" y2="71.1"><stop stop-color="#edff44"/><stop offset="1" stop-color="#fff944"/></linearGradient><linearGradient id="A206" gradientUnits="userSpaceOnUse" x1="192.6" y1="82.3" x2="193.4" y2="75.8"><stop stop-color="#ceff53"/><stop offset="1" stop-color="#e5ff53"/></linearGradient><linearGradient id="A207" gradientUnits="userSpaceOnUse" x1="252.4" y1="77.9" x2="252.6" y2="71.5"><stop stop-color="#ebff47"/><stop offset="1" stop-color="#fffb47"/></linearGradient><linearGradient id="A208" gradientUnits="userSpaceOnUse" x1="204.6" y1="81.1" x2="205.2" y2="74.6"><stop stop-color="#d6ff50"/><stop offset="1" stop-color="#edff50"/></linearGradient><linearGradient id="A209" gradientUnits="userSpaceOnUse" x1="240.5" y1="78.4" x2="240.8" y2="72"><stop stop-color="#e7ff49"/><stop offset="1" stop-color="#ffff49"/></linearGradient><linearGradient id="A210" gradientUnits="userSpaceOnUse" x1="216.6" y1="80" x2="217.1" y2="73.5"><stop stop-color="#ddff4e"/><stop offset="1" stop-color="#f5ff4e"/></linearGradient><linearGradient id="A211" gradientUnits="userSpaceOnUse" x1="228.5" y1="79.1" x2="228.9" y2="72.6"><stop stop-color="#e3ff4b"/><stop offset="1" stop-color="#fbff4b"/></linearGradient><linearGradient id="A212" gradientUnits="userSpaceOnUse" x1="67" y1="110.5" x2="69.2" y2="103.5"><stop stop-color="#6cffa3"/><stop offset="1" stop-color="#6cff8d"/></linearGradient><linearGradient id="A213" gradientUnits="userSpaceOnUse" x1="78.9" y1="107.3" x2="80.9" y2="100.3"><stop stop-color="#6aff8e"/><stop offset="1" stop-color="#6aff77"/></linearGradient><linearGradient id="A214" gradientUnits="userSpaceOnUse" x1="90.9" y1="104.2" x2="92.7" y2="97.3"><stop stop-color="#67ff79"/><stop offset="1" stop-color="#6dff67"/></linearGradient><linearGradient id="A215" gradientUnits="userSpaceOnUse" x1="102.8" y1="101.4" x2="104.5" y2="94.5"><stop stop-color="#66ff65"/><stop offset="1" stop-color="#7cff65"/></linearGradient><linearGradient id="A216" gradientUnits="userSpaceOnUse" x1="114.8" y1="98.7" x2="116.3" y2="91.8"><stop stop-color="#75ff63"/><stop offset="1" stop-color="#8cff63"/></linearGradient><linearGradient id="A217" gradientUnits="userSpaceOnUse" x1="126.8" y1="96.2" x2="128.2" y2="89.3"><stop stop-color="#83ff60"/><stop offset="1" stop-color="#9aff60"/></linearGradient><linearGradient id="A218" gradientUnits="userSpaceOnUse" x1="138.8" y1="93.9" x2="140.1" y2="87.1"><stop stop-color="#90ff5e"/><stop offset="1" stop-color="#a8ff5e"/></linearGradient><linearGradient id="A219" gradientUnits="userSpaceOnUse" x1="150.8" y1="91.8" x2="152" y2="85"><stop stop-color="#9dff5b"/><stop offset="1" stop-color="#b4ff5b"/></linearGradient><linearGradient id="A220" gradientUnits="userSpaceOnUse" x1="162.8" y1="89.8" x2="163.9" y2="83.1"><stop stop-color="#a9ff59"/><stop offset="1" stop-color="#c0ff59"/></linearGradient><linearGradient id="A221" gradientUnits="userSpaceOnUse" x1="174.9" y1="88.1" x2="175.8" y2="81.3"><stop stop-color="#b3ff57"/><stop offset="1" stop-color="#cbff57"/></linearGradient><linearGradient id="A222" gradientUnits="userSpaceOnUse" x1="271.1" y1="80.8" x2="271.1" y2="74.2"><stop stop-color="#e1ff44"/><stop offset="1" stop-color="#f9ff44"/></linearGradient><linearGradient id="A223" gradientUnits="userSpaceOnUse" x1="186.9" y1="86.5" x2="187.7" y2="79.8"><stop stop-color="#bdff54"/><stop offset="1" stop-color="#d5ff54"/></linearGradient><linearGradient id="A224" gradientUnits="userSpaceOnUse" x1="60.6" y1="116" x2="62.8" y2="108.8"><stop stop-color="#6effba"/><stop offset="1" stop-color="#6effa3"/></linearGradient><linearGradient id="A225" gradientUnits="userSpaceOnUse" x1="259.1" y1="81" x2="259.2" y2="74.5"><stop stop-color="#e0ff46"/><stop offset="1" stop-color="#f8ff46"/></linearGradient><linearGradient id="A226" gradientUnits="userSpaceOnUse" x1="198.9" y1="85.1" x2="199.6" y2="78.5"><stop stop-color="#c6ff52"/><stop offset="1" stop-color="#deff52"/></linearGradient><linearGradient id="A227" gradientUnits="userSpaceOnUse" x1="247.1" y1="81.5" x2="247.3" y2="74.9"><stop stop-color="#ddff49"/><stop offset="1" stop-color="#f5ff49"/></linearGradient><linearGradient id="A228" gradientUnits="userSpaceOnUse" x1="211" y1="83.9" x2="211.5" y2="77.3"><stop stop-color="#cdff50"/><stop offset="1" stop-color="#e5ff50"/></linearGradient><linearGradient id="A229" gradientUnits="userSpaceOnUse" x1="235" y1="82.1" x2="235.4" y2="75.5"><stop stop-color="#d9ff4b"/><stop offset="1" stop-color="#f1ff4b"/></linearGradient><linearGradient id="A230" gradientUnits="userSpaceOnUse" x1="223" y1="82.9" x2="223.5" y2="76.3"><stop stop-color="#d4ff4d"/><stop offset="1" stop-color="#ecff4d"/></linearGradient><linearGradient id="A231" gradientUnits="userSpaceOnUse" x1="72.5" y1="112.6" x2="74.6" y2="105.5"><stop stop-color="#6bffa4"/><stop offset="1" stop-color="#6bff8d"/></linearGradient><linearGradient id="A232" gradientUnits="userSpaceOnUse" x1="84.5" y1="109.5" x2="86.5" y2="102.4"><stop stop-color="#69ff8f"/><stop offset="1" stop-color="#69ff78"/></linearGradient><linearGradient id="A233" gradientUnits="userSpaceOnUse" x1="96.6" y1="106.5" x2="98.3" y2="99.4"><stop stop-color="#67ff7b"/><stop offset="1" stop-color="#6aff67"/></linearGradient><linearGradient id="A234" gradientUnits="userSpaceOnUse" x1="108.6" y1="103.7" x2="110.2" y2="96.7"><stop stop-color="#64ff67"/><stop offset="1" stop-color="#79ff64"/></linearGradient><linearGradient id="A235" gradientUnits="userSpaceOnUse" x1="120.7" y1="101.1" x2="122.1" y2="94.1"><stop stop-color="#70ff62"/><stop offset="1" stop-color="#88ff62"/></linearGradient><linearGradient id="A236" gradientUnits="userSpaceOnUse" x1="132.7" y1="98.7" x2="134.1" y2="91.7"><stop stop-color="#7eff60"/><stop offset="1" stop-color="#96ff60"/></linearGradient><linearGradient id="A237" gradientUnits="userSpaceOnUse" x1="144.8" y1="96.4" x2="146" y2="89.5"><stop stop-color="#8bff5d"/><stop offset="1" stop-color="#a3ff5d"/></linearGradient><linearGradient id="A238" gradientUnits="userSpaceOnUse" x1="156.9" y1="94.4" x2="158" y2="87.4"><stop stop-color="#97ff5b"/><stop offset="1" stop-color="#afff5b"/></linearGradient><linearGradient id="A239" gradientUnits="userSpaceOnUse" x1="169" y1="92.5" x2="170" y2="85.6"><stop stop-color="#a2ff59"/><stop offset="1" stop-color="#baff59"/></linearGradient><linearGradient id="A240" gradientUnits="userSpaceOnUse" x1="181.1" y1="90.8" x2="181.9" y2="83.9"><stop stop-color="#acff56"/><stop offset="1" stop-color="#c5ff56"/></linearGradient><linearGradient id="A241" gradientUnits="userSpaceOnUse" x1="265.8" y1="84.3" x2="265.9" y2="77.6"><stop stop-color="#d4ff46"/><stop offset="1" stop-color="#edff46"/></linearGradient><linearGradient id="A242" gradientUnits="userSpaceOnUse" x1="193.2" y1="89.3" x2="193.9" y2="82.5"><stop stop-color="#b5ff54"/><stop offset="1" stop-color="#ceff54"/></linearGradient><linearGradient id="A243" gradientUnits="userSpaceOnUse" x1="253.7" y1="84.7" x2="253.9" y2="77.9"><stop stop-color="#d2ff48"/><stop offset="1" stop-color="#ebff48"/></linearGradient><linearGradient id="A244" gradientUnits="userSpaceOnUse" x1="205.3" y1="88" x2="205.9" y2="81.2"><stop stop-color="#beff51"/><stop offset="1" stop-color="#d6ff51"/></linearGradient><linearGradient id="A245" gradientUnits="userSpaceOnUse" x1="241.6" y1="85.2" x2="241.9" y2="78.5"><stop stop-color="#cfff4a"/><stop offset="1" stop-color="#e8ff4a"/></linearGradient><linearGradient id="A246" gradientUnits="userSpaceOnUse" x1="217.4" y1="86.9" x2="217.9" y2="80.1"><stop stop-color="#c4ff4f"/><stop offset="1" stop-color="#ddff4f"/></linearGradient><linearGradient id="A247" gradientUnits="userSpaceOnUse" x1="229.5" y1="86" x2="229.9" y2="79.2"><stop stop-color="#caff4d"/><stop offset="1" stop-color="#e3ff4d"/></linearGradient><linearGradient id="A248" gradientUnits="userSpaceOnUse" x1="66.1" y1="118.2" x2="68.3" y2="110.9"><stop stop-color="#6dffbb"/><stop offset="1" stop-color="#6dffa4"/></linearGradient><linearGradient id="A249" gradientUnits="userSpaceOnUse" x1="78.1" y1="114.9" x2="80.2" y2="107.6"><stop stop-color="#6bffa6"/><stop offset="1" stop-color="#6bff8e"/></linearGradient><linearGradient id="A250" gradientUnits="userSpaceOnUse" x1="90.2" y1="111.8" x2="92.1" y2="104.5"><stop stop-color="#69ff91"/><stop offset="1" stop-color="#69ff7a"/></linearGradient><linearGradient id="A251" gradientUnits="userSpaceOnUse" x1="102.3" y1="108.9" x2="104" y2="101.7"><stop stop-color="#66ff7d"/><stop offset="1" stop-color="#67ff66"/></linearGradient><linearGradient id="A252" gradientUnits="userSpaceOnUse" x1="114.4" y1="106.2" x2="116" y2="99"><stop stop-color="#64ff6a"/><stop offset="1" stop-color="#76ff64"/></linearGradient><linearGradient id="A253" gradientUnits="userSpaceOnUse" x1="126.6" y1="103.6" x2="128" y2="96.4"><stop stop-color="#6cff61"/><stop offset="1" stop-color="#84ff61"/></linearGradient><linearGradient id="A254" gradientUnits="userSpaceOnUse" x1="138.7" y1="101.2" x2="140" y2="94.1"><stop stop-color="#79ff5f"/><stop offset="1" stop-color="#91ff5f"/></linearGradient><linearGradient id="A255" gradientUnits="userSpaceOnUse" x1="150.9" y1="99.1" x2="152" y2="92"><stop stop-color="#85ff5d"/><stop offset="1" stop-color="#9eff5d"/></linearGradient><linearGradient id="A256" gradientUnits="userSpaceOnUse" x1="163" y1="97.1" x2="164.1" y2="90"><stop stop-color="#91ff5a"/><stop offset="1" stop-color="#a9ff5a"/></linearGradient><linearGradient id="A257" gradientUnits="userSpaceOnUse" x1="175.2" y1="95.3" x2="176.1" y2="88.2"><stop stop-color="#9bff58"/><stop offset="1" stop-color="#b4ff58"/></linearGradient><linearGradient id="A258" gradientUnits="userSpaceOnUse" x1="187.4" y1="93.7" x2="188.2" y2="86.6"><stop stop-color="#a5ff56"/><stop offset="1" stop-color="#beff56"/></linearGradient><linearGradient id="A259" gradientUnits="userSpaceOnUse" x1="260.4" y1="87.9" x2="260.6" y2="81.1"><stop stop-color="#c6ff47"/><stop offset="1" stop-color="#e0ff47"/></linearGradient><linearGradient id="A260" gradientUnits="userSpaceOnUse" x1="199.6" y1="92.2" x2="200.3" y2="85.3"><stop stop-color="#adff53"/><stop offset="1" stop-color="#c6ff53"/></linearGradient><linearGradient id="A261" gradientUnits="userSpaceOnUse" x1="248.2" y1="88.4" x2="248.5" y2="81.5"><stop stop-color="#c4ff4a"/><stop offset="1" stop-color="#ddff4a"/></linearGradient><linearGradient id="A262" gradientUnits="userSpaceOnUse" x1="211.7" y1="91" x2="212.3" y2="84"><stop stop-color="#b5ff51"/><stop offset="1" stop-color="#ceff51"/></linearGradient><linearGradient id="A263" gradientUnits="userSpaceOnUse" x1="236.1" y1="89.1" x2="236.5" y2="82.2"><stop stop-color="#c0ff4c"/><stop offset="1" stop-color="#d9ff4c"/></linearGradient><linearGradient id="A264" gradientUnits="userSpaceOnUse" x1="223.9" y1="89.9" x2="224.4" y2="83"><stop stop-color="#bbff4f"/><stop offset="1" stop-color="#d4ff4f"/></linearGradient><linearGradient id="A265" gradientUnits="userSpaceOnUse" x1="71.7" y1="120.5" x2="73.8" y2="113"><stop stop-color="#6dffbd"/><stop offset="1" stop-color="#6dffa5"/></linearGradient><linearGradient id="A266" gradientUnits="userSpaceOnUse" x1="83.8" y1="117.3" x2="85.8" y2="109.8"><stop stop-color="#6affa8"/><stop offset="1" stop-color="#6aff90"/></linearGradient><linearGradient id="A267" gradientUnits="userSpaceOnUse" x1="96" y1="114.2" x2="97.8" y2="106.8"><stop stop-color="#68ff94"/><stop offset="1" stop-color="#68ff7c"/></linearGradient><linearGradient id="A268" gradientUnits="userSpaceOnUse" x1="108.1" y1="111.4" x2="109.8" y2="104"><stop stop-color="#66ff80"/><stop offset="1" stop-color="#66ff68"/></linearGradient><linearGradient id="A269" gradientUnits="userSpaceOnUse" x1="120.3" y1="108.7" x2="121.9" y2="101.4"><stop stop-color="#63ff6d"/><stop offset="1" stop-color="#72ff63"/></linearGradient><linearGradient id="A270" gradientUnits="userSpaceOnUse" x1="132.5" y1="106.2" x2="133.9" y2="98.9"><stop stop-color="#67ff61"/><stop offset="1" stop-color="#7fff61"/></linearGradient><linearGradient id="A271" gradientUnits="userSpaceOnUse" x1="144.8" y1="103.9" x2="146" y2="96.6"><stop stop-color="#73ff5f"/><stop offset="1" stop-color="#8cff5f"/></linearGradient><linearGradient id="A272" gradientUnits="userSpaceOnUse" x1="157" y1="101.8" x2="158.1" y2="94.6"><stop stop-color="#7fff5c"/><stop offset="1" stop-color="#98ff5c"/></linearGradient><linearGradient id="A273" gradientUnits="userSpaceOnUse" x1="169.2" y1="99.9" x2="170.3" y2="92.7"><stop stop-color="#8aff5a"/><stop offset="1" stop-color="#a3ff5a"/></linearGradient><linearGradient id="A274" gradientUnits="userSpaceOnUse" x1="181.5" y1="98.2" x2="182.4" y2="91"><stop stop-color="#94ff57"/><stop offset="1" stop-color="#adff57"/></linearGradient><linearGradient id="A275" gradientUnits="userSpaceOnUse" x1="193.7" y1="96.6" x2="194.5" y2="89.5"><stop stop-color="#9dff55"/><stop offset="1" stop-color="#b6ff55"/></linearGradient><linearGradient id="A276" gradientUnits="userSpaceOnUse" x1="255" y1="91.8" x2="255.2" y2="84.7"><stop stop-color="#b8ff49"/><stop offset="1" stop-color="#d2ff49"/></linearGradient><linearGradient id="A277" gradientUnits="userSpaceOnUse" x1="206" y1="95.3" x2="206.7" y2="88.1"><stop stop-color="#a5ff53"/><stop offset="1" stop-color="#beff53"/></linearGradient><linearGradient id="A278" gradientUnits="userSpaceOnUse" x1="242.7" y1="92.3" x2="243.1" y2="85.3"><stop stop-color="#b5ff4c"/><stop offset="1" stop-color="#cfff4c"/></linearGradient><linearGradient id="A279" gradientUnits="userSpaceOnUse" x1="218.2" y1="94.1" x2="218.8" y2="87"><stop stop-color="#abff50"/><stop offset="1" stop-color="#c5ff50"/></linearGradient><linearGradient id="A280" gradientUnits="userSpaceOnUse" x1="230.5" y1="93.1" x2="230.9" y2="86"><stop stop-color="#b1ff4e"/><stop offset="1" stop-color="#cbff4e"/></linearGradient><linearGradient id="A281" gradientUnits="userSpaceOnUse" x1="77.3" y1="122.9" x2="79.4" y2="115.3"><stop stop-color="#6cffbf"/><stop offset="1" stop-color="#6cffa7"/></linearGradient><linearGradient id="A282" gradientUnits="userSpaceOnUse" x1="89.5" y1="119.7" x2="91.5" y2="112.1"><stop stop-color="#6affaa"/><stop offset="1" stop-color="#6aff92"/></linearGradient><linearGradient id="A283" gradientUnits="userSpaceOnUse" x1="101.8" y1="116.8" x2="103.6" y2="109.2"><stop stop-color="#67ff97"/><stop offset="1" stop-color="#67ff7e"/></linearGradient><linearGradient id="A284" gradientUnits="userSpaceOnUse" x1="114" y1="114" x2="115.7" y2="106.4"><stop stop-color="#65ff84"/><stop offset="1" stop-color="#65ff6b"/></linearGradient><linearGradient id="A285" gradientUnits="userSpaceOnUse" x1="126.3" y1="111.4" x2="127.8" y2="103.9"><stop stop-color="#63ff71"/><stop offset="1" stop-color="#6dff63"/></linearGradient><linearGradient id="A286" gradientUnits="userSpaceOnUse" x1="138.6" y1="108.9" x2="140" y2="101.5"><stop stop-color="#61ff60"/><stop offset="1" stop-color="#7aff60"/></linearGradient><linearGradient id="A287" gradientUnits="userSpaceOnUse" x1="150.9" y1="106.7" x2="152.1" y2="99.3"><stop stop-color="#6dff5e"/><stop offset="1" stop-color="#86ff5e"/></linearGradient><linearGradient id="A288" gradientUnits="userSpaceOnUse" x1="163.2" y1="104.7" x2="164.3" y2="97.3"><stop stop-color="#78ff5c"/><stop offset="1" stop-color="#92ff5c"/></linearGradient><linearGradient id="A289" gradientUnits="userSpaceOnUse" x1="175.5" y1="102.8" x2="176.5" y2="95.4"><stop stop-color="#82ff59"/><stop offset="1" stop-color="#9cff59"/></linearGradient><linearGradient id="A290" gradientUnits="userSpaceOnUse" x1="187.9" y1="101.2" x2="188.7" y2="93.8"><stop stop-color="#8cff57"/><stop offset="1" stop-color="#a5ff57"/></linearGradient><linearGradient id="A291" gradientUnits="userSpaceOnUse" x1="200.2" y1="99.7" x2="200.9" y2="92.4"><stop stop-color="#94ff55"/><stop offset="1" stop-color="#aeff55"/></linearGradient><linearGradient id="A292" gradientUnits="userSpaceOnUse" x1="249.5" y1="95.7" x2="249.8" y2="88.5"><stop stop-color="#aaff4b"/><stop offset="1" stop-color="#c4ff4b"/></linearGradient><linearGradient id="A293" gradientUnits="userSpaceOnUse" x1="212.5" y1="98.4" x2="213.1" y2="91.1"><stop stop-color="#9bff52"/><stop offset="1" stop-color="#b5ff52"/></linearGradient><linearGradient id="A294" gradientUnits="userSpaceOnUse" x1="237.2" y1="96.4" x2="237.6" y2="89.2"><stop stop-color="#a6ff4d"/><stop offset="1" stop-color="#c0ff4d"/></linearGradient><linearGradient id="A295" gradientUnits="userSpaceOnUse" x1="224.8" y1="97.3" x2="225.3" y2="90"><stop stop-color="#a1ff50"/><stop offset="1" stop-color="#bbff50"/></linearGradient><linearGradient id="A296" gradientUnits="userSpaceOnUse" x1="83" y1="125.4" x2="85.1" y2="117.6"><stop stop-color="#6cffc1"/><stop offset="1" stop-color="#6cffa9"/></linearGradient><linearGradient id="A297" gradientUnits="userSpaceOnUse" x1="95.3" y1="122.3" x2="97.2" y2="114.5"><stop stop-color="#69ffad"/><stop offset="1" stop-color="#69ff95"/></linearGradient><linearGradient id="A298" gradientUnits="userSpaceOnUse" x1="107.7" y1="119.4" x2="109.4" y2="111.7"><stop stop-color="#67ff9a"/><stop offset="1" stop-color="#67ff81"/></linearGradient><linearGradient id="A299" gradientUnits="userSpaceOnUse" x1="120" y1="116.7" x2="121.6" y2="109"><stop stop-color="#65ff88"/><stop offset="1" stop-color="#65ff6f"/></linearGradient><linearGradient id="A300" gradientUnits="userSpaceOnUse" x1="132.4" y1="114.1" x2="133.8" y2="106.5"><stop stop-color="#62ff76"/><stop offset="1" stop-color="#68ff62"/></linearGradient><linearGradient id="A301" gradientUnits="userSpaceOnUse" x1="144.7" y1="111.8" x2="146.1" y2="104.1"><stop stop-color="#60ff65"/><stop offset="1" stop-color="#74ff60"/></linearGradient><linearGradient id="A302" gradientUnits="userSpaceOnUse" x1="157.1" y1="109.6" x2="158.3" y2="102"><stop stop-color="#66ff5d"/><stop offset="1" stop-color="#80ff5d"/></linearGradient><linearGradient id="A303" gradientUnits="userSpaceOnUse" x1="169.5" y1="107.6" x2="170.6" y2="100.1"><stop stop-color="#71ff5b"/><stop offset="1" stop-color="#8bff5b"/></linearGradient><linearGradient id="A304" gradientUnits="userSpaceOnUse" x1="181.9" y1="105.8" x2="182.8" y2="98.3"><stop stop-color="#7aff59"/><stop offset="1" stop-color="#95ff59"/></linearGradient><linearGradient id="A305" gradientUnits="userSpaceOnUse" x1="194.3" y1="104.3" x2="195.1" y2="96.8"><stop stop-color="#83ff56"/><stop offset="1" stop-color="#9dff56"/></linearGradient><linearGradient id="A306" gradientUnits="userSpaceOnUse" x1="206.7" y1="102.9" x2="207.4" y2="95.4"><stop stop-color="#8bff54"/><stop offset="1" stop-color="#a5ff54"/></linearGradient><linearGradient id="A307" gradientUnits="userSpaceOnUse" x1="219.1" y1="101.6" x2="219.7" y2="94.2"><stop stop-color="#91ff52"/><stop offset="1" stop-color="#acff52"/></linearGradient><linearGradient id="A308" gradientUnits="userSpaceOnUse" x1="243.9" y1="99.8" x2="244.3" y2="92.4"><stop stop-color="#9bff4d"/><stop offset="1" stop-color="#b6ff4d"/></linearGradient><linearGradient id="A309" gradientUnits="userSpaceOnUse" x1="231.5" y1="100.6" x2="232" y2="93.2"><stop stop-color="#97ff4f"/><stop offset="1" stop-color="#b1ff4f"/></linearGradient><linearGradient id="A310" gradientUnits="userSpaceOnUse" x1="88.8" y1="128" x2="90.9" y2="120.1"><stop stop-color="#6bffc4"/><stop offset="1" stop-color="#6bffab"/></linearGradient><linearGradient id="A311" gradientUnits="userSpaceOnUse" x1="101.2" y1="125" x2="103.1" y2="117.1"><stop stop-color="#69ffb1"/><stop offset="1" stop-color="#69ff98"/></linearGradient><linearGradient id="A312" gradientUnits="userSpaceOnUse" x1="113.6" y1="122.1" x2="115.3" y2="114.2"><stop stop-color="#66ff9e"/><stop offset="1" stop-color="#66ff85"/></linearGradient><linearGradient id="A313" gradientUnits="userSpaceOnUse" x1="126.1" y1="119.5" x2="127.6" y2="111.6"><stop stop-color="#64ff8c"/><stop offset="1" stop-color="#64ff73"/></linearGradient><linearGradient id="A314" gradientUnits="userSpaceOnUse" x1="138.5" y1="117" x2="139.9" y2="109.2"><stop stop-color="#62ff7b"/><stop offset="1" stop-color="#62ff62"/></linearGradient><linearGradient id="A315" gradientUnits="userSpaceOnUse" x1="150.9" y1="114.7" x2="152.2" y2="106.9"><stop stop-color="#5fff6a"/><stop offset="1" stop-color="#6eff5f"/></linearGradient><linearGradient id="A316" gradientUnits="userSpaceOnUse" x1="163.4" y1="112.6" x2="164.6" y2="104.9"><stop stop-color="#5fff5d"/><stop offset="1" stop-color="#79ff5d"/></linearGradient><linearGradient id="A317" gradientUnits="userSpaceOnUse" x1="175.9" y1="110.7" x2="176.9" y2="103"><stop stop-color="#69ff5a"/><stop offset="1" stop-color="#83ff5a"/></linearGradient><linearGradient id="A318" gradientUnits="userSpaceOnUse" x1="188.3" y1="109" x2="189.2" y2="101.3"><stop stop-color="#72ff58"/><stop offset="1" stop-color="#8dff58"/></linearGradient><linearGradient id="A319" gradientUnits="userSpaceOnUse" x1="200.8" y1="107.5" x2="201.6" y2="99.8"><stop stop-color="#7aff56"/><stop offset="1" stop-color="#95ff56"/></linearGradient><linearGradient id="A320" gradientUnits="userSpaceOnUse" x1="213.3" y1="106.1" x2="214" y2="98.5"><stop stop-color="#81ff53"/><stop offset="1" stop-color="#9cff53"/></linearGradient><linearGradient id="A321" gradientUnits="userSpaceOnUse" x1="225.8" y1="105" x2="226.3" y2="97.4"><stop stop-color="#87ff51"/><stop offset="1" stop-color="#a2ff51"/></linearGradient><linearGradient id="A322" gradientUnits="userSpaceOnUse" x1="238.2" y1="104.1" x2="238.7" y2="96.5"><stop stop-color="#8cff4f"/><stop offset="1" stop-color="#a7ff4f"/></linearGradient><linearGradient id="A323" gradientUnits="userSpaceOnUse" x1="94.7" y1="130.7" x2="96.7" y2="122.6"><stop stop-color="#6bffc8"/><stop offset="1" stop-color="#6bffae"/></linearGradient><linearGradient id="A324" gradientUnits="userSpaceOnUse" x1="107.2" y1="127.7" x2="109" y2="119.7"><stop stop-color="#68ffb5"/><stop offset="1" stop-color="#68ff9b"/></linearGradient><linearGradient id="A325" gradientUnits="userSpaceOnUse" x1="119.7" y1="125" x2="121.3" y2="116.9"><stop stop-color="#66ffa3"/><stop offset="1" stop-color="#66ff89"/></linearGradient><linearGradient id="A326" gradientUnits="userSpaceOnUse" x1="132.2" y1="122.4" x2="133.7" y2="114.4"><stop stop-color="#63ff91"/><stop offset="1" stop-color="#63ff77"/></linearGradient><linearGradient id="A327" gradientUnits="userSpaceOnUse" x1="144.7" y1="120" x2="146.1" y2="112"><stop stop-color="#61ff80"/><stop offset="1" stop-color="#61ff66"/></linearGradient><linearGradient id="A328" gradientUnits="userSpaceOnUse" x1="157.2" y1="117.7" x2="158.5" y2="109.8"><stop stop-color="#5fff71"/><stop offset="1" stop-color="#67ff5f"/></linearGradient><linearGradient id="A329" gradientUnits="userSpaceOnUse" x1="169.8" y1="115.7" x2="170.9" y2="107.8"><stop stop-color="#5cff61"/><stop offset="1" stop-color="#72ff5c"/></linearGradient><linearGradient id="A330" gradientUnits="userSpaceOnUse" x1="182.3" y1="113.9" x2="183.3" y2="106"><stop stop-color="#61ff5a"/><stop offset="1" stop-color="#7bff5a"/></linearGradient><linearGradient id="A331" gradientUnits="userSpaceOnUse" x1="194.9" y1="112.2" x2="195.7" y2="104.4"><stop stop-color="#69ff58"/><stop offset="1" stop-color="#84ff58"/></linearGradient><linearGradient id="A332" gradientUnits="userSpaceOnUse" x1="207.4" y1="110.8" x2="208.2" y2="103"><stop stop-color="#70ff55"/><stop offset="1" stop-color="#8cff55"/></linearGradient><linearGradient id="A333" gradientUnits="userSpaceOnUse" x1="220" y1="109.5" x2="220.6" y2="101.8"><stop stop-color="#77ff53"/><stop offset="1" stop-color="#92ff53"/></linearGradient><linearGradient id="A334" gradientUnits="userSpaceOnUse" x1="232.5" y1="108.5" x2="233" y2="100.7"><stop stop-color="#7cff50"/><stop offset="1" stop-color="#97ff50"/></linearGradient><linearGradient id="A335" gradientUnits="userSpaceOnUse" x1="100.7" y1="133.5" x2="102.6" y2="125.3"><stop stop-color="#6affcc"/><stop offset="1" stop-color="#6affb2"/></linearGradient><linearGradient id="A336" gradientUnits="userSpaceOnUse" x1="113.2" y1="130.6" x2="115" y2="122.4"><stop stop-color="#68ffb9"/><stop offset="1" stop-color="#68ff9f"/></linearGradient><linearGradient id="A337" gradientUnits="userSpaceOnUse" x1="125.8" y1="127.9" x2="127.4" y2="119.7"><stop stop-color="#65ffa8"/><stop offset="1" stop-color="#65ff8d"/></linearGradient><linearGradient id="A338" gradientUnits="userSpaceOnUse" x1="138.4" y1="125.4" x2="139.9" y2="117.2"><stop stop-color="#63ff97"/><stop offset="1" stop-color="#63ff7c"/></linearGradient><linearGradient id="A339" gradientUnits="userSpaceOnUse" x1="151" y1="123" x2="152.3" y2="114.9"><stop stop-color="#60ff87"/><stop offset="1" stop-color="#60ff6c"/></linearGradient><linearGradient id="A340" gradientUnits="userSpaceOnUse" x1="163.6" y1="120.9" x2="164.8" y2="112.8"><stop stop-color="#5eff77"/><stop offset="1" stop-color="#60ff5e"/></linearGradient><linearGradient id="A341" gradientUnits="userSpaceOnUse" x1="176.2" y1="118.9" x2="177.3" y2="110.9"><stop stop-color="#5cff69"/><stop offset="1" stop-color="#6aff5c"/></linearGradient><linearGradient id="A342" gradientUnits="userSpaceOnUse" x1="188.8" y1="117.2" x2="189.8" y2="109.2"><stop stop-color="#59ff5b"/><stop offset="1" stop-color="#73ff59"/></linearGradient><linearGradient id="A343" gradientUnits="userSpaceOnUse" x1="201.5" y1="115.6" x2="202.3" y2="107.6"><stop stop-color="#5fff57"/><stop offset="1" stop-color="#7bff57"/></linearGradient><linearGradient id="A344" gradientUnits="userSpaceOnUse" x1="214.1" y1="114.2" x2="214.8" y2="106.3"><stop stop-color="#66ff55"/><stop offset="1" stop-color="#82ff55"/></linearGradient><linearGradient id="A345" gradientUnits="userSpaceOnUse" x1="226.7" y1="113.1" x2="227.3" y2="105.1"><stop stop-color="#6cff52"/><stop offset="1" stop-color="#88ff52"/></linearGradient><linearGradient id="A346" gradientUnits="userSpaceOnUse" x1="106.7" y1="136.5" x2="108.6" y2="128.1"><stop stop-color="#69ffd0"/><stop offset="1" stop-color="#69ffb5"/></linearGradient><linearGradient id="A347" gradientUnits="userSpaceOnUse" x1="119.3" y1="133.6" x2="121.1" y2="125.2"><stop stop-color="#67ffbe"/><stop offset="1" stop-color="#67ffa3"/></linearGradient><linearGradient id="A348" gradientUnits="userSpaceOnUse" x1="132" y1="131" x2="133.6" y2="122.6"><stop stop-color="#65ffad"/><stop offset="1" stop-color="#65ff92"/></linearGradient><linearGradient id="A349" gradientUnits="userSpaceOnUse" x1="144.7" y1="128.5" x2="146.1" y2="120.2"><stop stop-color="#62ff9d"/><stop offset="1" stop-color="#62ff81"/></linearGradient><linearGradient id="A350" gradientUnits="userSpaceOnUse" x1="157.3" y1="126.2" x2="158.6" y2="118"><stop stop-color="#60ff8d"/><stop offset="1" stop-color="#60ff72"/></linearGradient><linearGradient id="A351" gradientUnits="userSpaceOnUse" x1="170" y1="124.2" x2="171.2" y2="115.9"><stop stop-color="#5eff7e"/><stop offset="1" stop-color="#5eff63"/></linearGradient><linearGradient id="A352" gradientUnits="userSpaceOnUse" x1="182.7" y1="122.3" x2="183.8" y2="114.1"><stop stop-color="#5bff70"/><stop offset="1" stop-color="#62ff5b"/></linearGradient><linearGradient id="A353" gradientUnits="userSpaceOnUse" x1="195.4" y1="120.6" x2="196.4" y2="112.4"><stop stop-color="#59ff64"/><stop offset="1" stop-color="#6aff59"/></linearGradient><linearGradient id="A354" gradientUnits="userSpaceOnUse" x1="208.2" y1="119.1" x2="208.9" y2="110.9"><stop stop-color="#56ff58"/><stop offset="1" stop-color="#71ff56"/></linearGradient><linearGradient id="A355" gradientUnits="userSpaceOnUse" x1="220.9" y1="117.8" x2="221.5" y2="109.7"><stop stop-color="#5bff54"/><stop offset="1" stop-color="#78ff54"/></linearGradient><linearGradient id="A356" gradientUnits="userSpaceOnUse" x1="112.8" y1="139.5" x2="114.6" y2="130.9"><stop stop-color="#69ffd5"/><stop offset="1" stop-color="#69ffba"/></linearGradient><linearGradient id="A357" gradientUnits="userSpaceOnUse" x1="125.5" y1="136.7" x2="127.2" y2="128.2"><stop stop-color="#66ffc4"/><stop offset="1" stop-color="#66ffa8"/></linearGradient><linearGradient id="A358" gradientUnits="userSpaceOnUse" x1="138.3" y1="134.1" x2="139.8" y2="125.6"><stop stop-color="#64ffb3"/><stop offset="1" stop-color="#64ff98"/></linearGradient><linearGradient id="A359" gradientUnits="userSpaceOnUse" x1="151" y1="131.8" x2="152.4" y2="123.3"><stop stop-color="#62ffa3"/><stop offset="1" stop-color="#62ff87"/></linearGradient><linearGradient id="A360" gradientUnits="userSpaceOnUse" x1="163.8" y1="129.6" x2="165.1" y2="121.1"><stop stop-color="#5fff94"/><stop offset="1" stop-color="#5fff78"/></linearGradient><linearGradient id="A361" gradientUnits="userSpaceOnUse" x1="176.6" y1="127.5" x2="177.7" y2="119.1"><stop stop-color="#5dff86"/><stop offset="1" stop-color="#5dff6a"/></linearGradient><linearGradient id="A362" gradientUnits="userSpaceOnUse" x1="189.4" y1="125.7" x2="190.3" y2="117.4"><stop stop-color="#5bff79"/><stop offset="1" stop-color="#5bff5c"/></linearGradient><linearGradient id="A363" gradientUnits="userSpaceOnUse" x1="202.1" y1="124.1" x2="203" y2="115.8"><stop stop-color="#58ff6d"/><stop offset="1" stop-color="#61ff58"/></linearGradient><linearGradient id="A364" gradientUnits="userSpaceOnUse" x1="214.9" y1="122.7" x2="215.7" y2="114.4"><stop stop-color="#56ff61"/><stop offset="1" stop-color="#67ff56"/></linearGradient><linearGradient id="A365" gradientUnits="userSpaceOnUse" x1="119" y1="142.7" x2="120.8" y2="133.9"><stop stop-color="#68ffda"/><stop offset="1" stop-color="#68ffbf"/></linearGradient><linearGradient id="A366" gradientUnits="userSpaceOnUse" x1="131.8" y1="140" x2="133.5" y2="131.2"><stop stop-color="#66ffca"/><stop offset="1" stop-color="#66ffae"/></linearGradient><linearGradient id="A367" gradientUnits="userSpaceOnUse" x1="144.6" y1="137.4" x2="146.1" y2="128.8"><stop stop-color="#64ffb9"/><stop offset="1" stop-color="#64ff9d"/></linearGradient><linearGradient id="A368" gradientUnits="userSpaceOnUse" x1="157.5" y1="135.1" x2="158.8" y2="126.5"><stop stop-color="#61ffaa"/><stop offset="1" stop-color="#61ff8e"/></linearGradient><linearGradient id="A369" gradientUnits="userSpaceOnUse" x1="170.3" y1="133" x2="171.5" y2="124.4"><stop stop-color="#5fff9c"/><stop offset="1" stop-color="#5fff7f"/></linearGradient><linearGradient id="A370" gradientUnits="userSpaceOnUse" x1="183.2" y1="131.1" x2="184.3" y2="122.5"><stop stop-color="#5cff8e"/><stop offset="1" stop-color="#5cff72"/></linearGradient><linearGradient id="A371" gradientUnits="userSpaceOnUse" x1="196" y1="129.3" x2="197" y2="120.8"><stop stop-color="#5aff82"/><stop offset="1" stop-color="#5aff65"/></linearGradient><linearGradient id="A372" gradientUnits="userSpaceOnUse" x1="208.9" y1="127.8" x2="209.7" y2="119.3"><stop stop-color="#58ff76"/><stop offset="1" stop-color="#58ff59"/></linearGradient><linearGradient id="A373" gradientUnits="userSpaceOnUse" x1="125.2" y1="145.9" x2="127" y2="137"><stop stop-color="#68ffe0"/><stop offset="1" stop-color="#68ffc4"/></linearGradient><linearGradient id="A374" gradientUnits="userSpaceOnUse" x1="138.1" y1="143.3" x2="139.8" y2="134.4"><stop stop-color="#65ffd0"/><stop offset="1" stop-color="#65ffb4"/></linearGradient><linearGradient id="A375" gradientUnits="userSpaceOnUse" x1="151.1" y1="140.8" x2="152.5" y2="132"><stop stop-color="#63ffc0"/><stop offset="1" stop-color="#63ffa4"/></linearGradient><linearGradient id="A376" gradientUnits="userSpaceOnUse" x1="164" y1="138.6" x2="165.3" y2="129.8"><stop stop-color="#61ffb2"/><stop offset="1" stop-color="#61ff95"/></linearGradient><linearGradient id="A377" gradientUnits="userSpaceOnUse" x1="176.9" y1="136.5" x2="178.1" y2="127.8"><stop stop-color="#5effa4"/><stop offset="1" stop-color="#5eff87"/></linearGradient><linearGradient id="A378" gradientUnits="userSpaceOnUse" x1="189.9" y1="134.7" x2="190.9" y2="125.9"><stop stop-color="#5cff97"/><stop offset="1" stop-color="#5cff7a"/></linearGradient><linearGradient id="A379" gradientUnits="userSpaceOnUse" x1="202.8" y1="133" x2="203.7" y2="124.3"><stop stop-color="#5aff8b"/><stop offset="1" stop-color="#5aff6e"/></linearGradient><linearGradient id="A380" gradientUnits="userSpaceOnUse" x1="131.6" y1="149.3" x2="133.3" y2="140.2"><stop stop-color="#67ffe7"/><stop offset="1" stop-color="#67ffca"/></linearGradient><linearGradient id="A381" gradientUnits="userSpaceOnUse" x1="144.6" y1="146.8" x2="146.2" y2="137.7"><stop stop-color="#65ffd7"/><stop offset="1" stop-color="#65ffba"/></linearGradient><linearGradient id="A382" gradientUnits="userSpaceOnUse" x1="157.6" y1="144.4" x2="159" y2="135.4"><stop stop-color="#62ffc8"/><stop offset="1" stop-color="#62ffab"/></linearGradient><linearGradient id="A383" gradientUnits="userSpaceOnUse" x1="170.6" y1="142.2" x2="171.9" y2="133.2"><stop stop-color="#60ffba"/><stop offset="1" stop-color="#60ff9d"/></linearGradient><linearGradient id="A384" gradientUnits="userSpaceOnUse" x1="183.6" y1="140.2" x2="184.8" y2="131.3"><stop stop-color="#5effad"/><stop offset="1" stop-color="#5eff8f"/></linearGradient><linearGradient id="A385" gradientUnits="userSpaceOnUse" x1="196.6" y1="138.4" x2="197.7" y2="129.5"><stop stop-color="#5bffa0"/><stop offset="1" stop-color="#5bff83"/></linearGradient><linearGradient id="A386" gradientUnits="userSpaceOnUse" x1="138" y1="152.8" x2="139.7" y2="143.6"><stop stop-color="#67ffed"/><stop offset="1" stop-color="#67ffd0"/></linearGradient><linearGradient id="A387" gradientUnits="userSpaceOnUse" x1="151.1" y1="150.3" x2="152.6" y2="141.1"><stop stop-color="#64ffde"/><stop offset="1" stop-color="#64ffc1"/></linearGradient><linearGradient id="A388" gradientUnits="userSpaceOnUse" x1="164.2" y1="148" x2="165.6" y2="138.8"><stop stop-color="#62ffd0"/><stop offset="1" stop-color="#62ffb2"/></linearGradient><linearGradient id="A389" gradientUnits="userSpaceOnUse" x1="177.3" y1="145.9" x2="178.5" y2="136.8"><stop stop-color="#60ffc3"/><stop offset="1" stop-color="#60ffa5"/></linearGradient><linearGradient id="A390" gradientUnits="userSpaceOnUse" x1="190.4" y1="144" x2="191.5" y2="134.9"><stop stop-color="#5dffb6"/><stop offset="1" stop-color="#5dff98"/></linearGradient><linearGradient id="A391" gradientUnits="userSpaceOnUse" x1="144.5" y1="156.5" x2="146.2" y2="147"><stop stop-color="#66fff5"/><stop offset="1" stop-color="#66ffd7"/></linearGradient><linearGradient id="A392" gradientUnits="userSpaceOnUse" x1="157.7" y1="154" x2="159.2" y2="144.6"><stop stop-color="#64ffe6"/><stop offset="1" stop-color="#64ffc8"/></linearGradient><linearGradient id="A393" gradientUnits="userSpaceOnUse" x1="170.9" y1="151.8" x2="172.2" y2="142.4"><stop stop-color="#61ffd9"/><stop offset="1" stop-color="#61ffba"/></linearGradient><linearGradient id="A394" gradientUnits="userSpaceOnUse" x1="184.1" y1="149.8" x2="185.3" y2="140.4"><stop stop-color="#5fffcc"/><stop offset="1" stop-color="#5fffad"/></linearGradient><linearGradient id="A395" gradientUnits="userSpaceOnUse" x1="151.1" y1="160.2" x2="152.8" y2="150.6"><stop stop-color="#66fffd"/><stop offset="1" stop-color="#66ffdf"/></linearGradient><linearGradient id="A396" gradientUnits="userSpaceOnUse" x1="164.4" y1="157.9" x2="165.9" y2="148.3"><stop stop-color="#63ffef"/><stop offset="1" stop-color="#63ffd0"/></linearGradient><linearGradient id="A397" gradientUnits="userSpaceOnUse" x1="177.7" y1="155.7" x2="179" y2="146.1"><stop stop-color="#61ffe2"/><stop offset="1" stop-color="#61ffc3"/></linearGradient><linearGradient id="A398" gradientUnits="userSpaceOnUse" x1="157.8" y1="164.1" x2="159.4" y2="154.3"><stop stop-color="#65f9ff"/><stop offset="1" stop-color="#65ffe6"/></linearGradient><linearGradient id="A399" gradientUnits="userSpaceOnUse" x1="171.2" y1="161.8" x2="172.6" y2="152.1"><stop stop-color="#63fff8"/><stop offset="1" stop-color="#63ffd9"/></linearGradient><linearGradient id="A400" gradientUnits="userSpaceOnUse" x1="164.6" y1="168.1" x2="166.2" y2="158.1"><stop stop-color="#64f0ff"/><stop offset="1" stop-color="#64ffef"/></linearGradient><linearGradient id="B401" gradientUnits="userSpaceOnUse" x1="535.9" y1="14.7" x2="536.1" y2="9.5"><stop stop-color="#ff4545"/><stop offset="1" stop-color="#ff4545"/></linearGradient><linearGradient id="B402" gradientUnits="userSpaceOnUse" x1="541.5" y1="17.2" x2="541.6" y2="11.9"><stop stop-color="#ff4444"/><stop offset="1" stop-color="#ff4444"/></linearGradient><linearGradient id="B403" gradientUnits="userSpaceOnUse" x1="530.6" y1="17.5" x2="530.7" y2="12.3"><stop stop-color="#ff4747"/><stop offset="1" stop-color="#ff4747"/></linearGradient><linearGradient id="B404" gradientUnits="userSpaceOnUse" x1="547.1" y1="20" x2="547.1" y2="14.5"><stop stop-color="#ff4444"/><stop offset="1" stop-color="#ff4444"/></linearGradient><linearGradient id="B405" gradientUnits="userSpaceOnUse" x1="536.1" y1="20.1" x2="536.2" y2="14.7"><stop stop-color="#ff4646"/><stop offset="1" stop-color="#ff4646"/></linearGradient><linearGradient id="B406" gradientUnits="userSpaceOnUse" x1="525.1" y1="20.5" x2="525.3" y2="15.1"><stop stop-color="#ff4949"/><stop offset="1" stop-color="#ff4949"/></linearGradient><linearGradient id="B407" gradientUnits="userSpaceOnUse" x1="552.8" y1="22.9" x2="552.8" y2="17.2"><stop stop-color="#ff4343"/><stop offset="1" stop-color="#ff4343"/></linearGradient><linearGradient id="B408" gradientUnits="userSpaceOnUse" x1="541.8" y1="22.9" x2="541.8" y2="17.2"><stop stop-color="#ff4645"/><stop offset="1" stop-color="#ff4545"/></linearGradient><linearGradient id="B409" gradientUnits="userSpaceOnUse" x1="530.7" y1="23.2" x2="530.8" y2="17.5"><stop stop-color="#ff4a48"/><stop offset="1" stop-color="#ff4848"/></linearGradient><linearGradient id="B410" gradientUnits="userSpaceOnUse" x1="519.7" y1="23.6" x2="519.9" y2="18"><stop stop-color="#ff504a"/><stop offset="1" stop-color="#ff4a4a"/></linearGradient><linearGradient id="B411" gradientUnits="userSpaceOnUse" x1="558.6" y1="26" x2="558.4" y2="20.1"><stop stop-color="#ff5242"/><stop offset="1" stop-color="#ff4242"/></linearGradient><linearGradient id="B412" gradientUnits="userSpaceOnUse" x1="547.5" y1="25.9" x2="547.4" y2="20"><stop stop-color="#ff5345"/><stop offset="1" stop-color="#ff4545"/></linearGradient><linearGradient id="B413" gradientUnits="userSpaceOnUse" x1="536.3" y1="26" x2="536.4" y2="20.1"><stop stop-color="#ff5647"/><stop offset="1" stop-color="#ff4747"/></linearGradient><linearGradient id="B414" gradientUnits="userSpaceOnUse" x1="525.2" y1="26.3" x2="525.4" y2="20.5"><stop stop-color="#ff5a4a"/><stop offset="1" stop-color="#ff4a4a"/></linearGradient><linearGradient id="B415" gradientUnits="userSpaceOnUse" x1="514.1" y1="26.9" x2="514.4" y2="21.1"><stop stop-color="#ff614c"/><stop offset="1" stop-color="#ff4c4c"/></linearGradient><linearGradient id="B416" gradientUnits="userSpaceOnUse" x1="564.4" y1="29.2" x2="564.2" y2="23.1"><stop stop-color="#ff6141"/><stop offset="1" stop-color="#ff4441"/></linearGradient><linearGradient id="B417" gradientUnits="userSpaceOnUse" x1="553.2" y1="29" x2="553.1" y2="22.9"><stop stop-color="#ff6144"/><stop offset="1" stop-color="#ff4444"/></linearGradient><linearGradient id="B418" gradientUnits="userSpaceOnUse" x1="542" y1="29" x2="542" y2="22.9"><stop stop-color="#ff6246"/><stop offset="1" stop-color="#ff4746"/></linearGradient><linearGradient id="B419" gradientUnits="userSpaceOnUse" x1="530.9" y1="29.1" x2="531" y2="23.2"><stop stop-color="#ff6649"/><stop offset="1" stop-color="#ff4b49"/></linearGradient><linearGradient id="B420" gradientUnits="userSpaceOnUse" x1="519.7" y1="29.6" x2="519.9" y2="23.6"><stop stop-color="#ff6b4b"/><stop offset="1" stop-color="#ff514b"/></linearGradient><linearGradient id="B421" gradientUnits="userSpaceOnUse" x1="508.5" y1="30.2" x2="508.8" y2="24.3"><stop stop-color="#ff724e"/><stop offset="1" stop-color="#ff594e"/></linearGradient><linearGradient id="B422" gradientUnits="userSpaceOnUse" x1="570.2" y1="32.7" x2="570" y2="26.3"><stop stop-color="#ff7240"/><stop offset="1" stop-color="#ff5340"/></linearGradient><linearGradient id="B423" gradientUnits="userSpaceOnUse" x1="559" y1="32.3" x2="558.9" y2="26"><stop stop-color="#ff7043"/><stop offset="1" stop-color="#ff5243"/></linearGradient><linearGradient id="B424" gradientUnits="userSpaceOnUse" x1="547.8" y1="32.1" x2="547.7" y2="25.9"><stop stop-color="#ff7145"/><stop offset="1" stop-color="#ff5445"/></linearGradient><linearGradient id="B425" gradientUnits="userSpaceOnUse" x1="536.5" y1="32.2" x2="536.6" y2="26"><stop stop-color="#ff7348"/><stop offset="1" stop-color="#ff5648"/></linearGradient><linearGradient id="B426" gradientUnits="userSpaceOnUse" x1="525.3" y1="32.5" x2="525.5" y2="26.3"><stop stop-color="#ff774b"/><stop offset="1" stop-color="#ff5b4b"/></linearGradient><linearGradient id="B427" gradientUnits="userSpaceOnUse" x1="502.9" y1="33.7" x2="503.2" y2="27.7"><stop stop-color="#ff8450"/><stop offset="1" stop-color="#ff6a50"/></linearGradient><linearGradient id="B428" gradientUnits="userSpaceOnUse" x1="514.1" y1="33" x2="514.3" y2="26.9"><stop stop-color="#ff7c4d"/><stop offset="1" stop-color="#ff624d"/></linearGradient><linearGradient id="B429" gradientUnits="userSpaceOnUse" x1="576.1" y1="36.3" x2="575.8" y2="29.7"><stop stop-color="#ff8440"/><stop offset="1" stop-color="#ff6440"/></linearGradient><linearGradient id="B430" gradientUnits="userSpaceOnUse" x1="564.8" y1="35.7" x2="564.6" y2="29.2"><stop stop-color="#ff8142"/><stop offset="1" stop-color="#ff6242"/></linearGradient><linearGradient id="B431" gradientUnits="userSpaceOnUse" x1="553.6" y1="35.4" x2="553.5" y2="29"><stop stop-color="#ff8045"/><stop offset="1" stop-color="#ff6245"/></linearGradient><linearGradient id="B432" gradientUnits="userSpaceOnUse" x1="542.3" y1="35.4" x2="542.3" y2="29"><stop stop-color="#ff8147"/><stop offset="1" stop-color="#ff6347"/></linearGradient><linearGradient id="B433" gradientUnits="userSpaceOnUse" x1="531" y1="35.5" x2="531.1" y2="29.2"><stop stop-color="#ff844a"/><stop offset="1" stop-color="#ff674a"/></linearGradient><linearGradient id="B434" gradientUnits="userSpaceOnUse" x1="497.1" y1="37.4" x2="497.5" y2="31.1"><stop stop-color="#ff9651"/><stop offset="1" stop-color="#ff7b51"/></linearGradient><linearGradient id="B435" gradientUnits="userSpaceOnUse" x1="519.7" y1="35.9" x2="519.9" y2="29.6"><stop stop-color="#ff884c"/><stop offset="1" stop-color="#ff6c4c"/></linearGradient><linearGradient id="B436" gradientUnits="userSpaceOnUse" x1="508.4" y1="36.5" x2="508.7" y2="30.2"><stop stop-color="#ff8e4f"/><stop offset="1" stop-color="#ff734f"/></linearGradient><linearGradient id="B437" gradientUnits="userSpaceOnUse" x1="582.1" y1="40" x2="581.7" y2="33.3"><stop stop-color="#ff983f"/><stop offset="1" stop-color="#ff763f"/></linearGradient><linearGradient id="B438" gradientUnits="userSpaceOnUse" x1="570.8" y1="39.4" x2="570.5" y2="32.7"><stop stop-color="#ff9341"/><stop offset="1" stop-color="#ff7341"/></linearGradient><linearGradient id="B439" gradientUnits="userSpaceOnUse" x1="559.4" y1="38.9" x2="559.3" y2="32.3"><stop stop-color="#ff9144"/><stop offset="1" stop-color="#ff7144"/></linearGradient><linearGradient id="B440" gradientUnits="userSpaceOnUse" x1="548.1" y1="38.7" x2="548" y2="32.1"><stop stop-color="#ff9046"/><stop offset="1" stop-color="#ff7146"/></linearGradient><linearGradient id="B441" gradientUnits="userSpaceOnUse" x1="536.8" y1="38.7" x2="536.8" y2="32.2"><stop stop-color="#ff9249"/><stop offset="1" stop-color="#ff7349"/></linearGradient><linearGradient id="B442" gradientUnits="userSpaceOnUse" x1="491.4" y1="41.1" x2="491.8" y2="34.7"><stop stop-color="#ffa853"/><stop offset="1" stop-color="#ff8d53"/></linearGradient><linearGradient id="B443" gradientUnits="userSpaceOnUse" x1="525.4" y1="39" x2="525.5" y2="32.5"><stop stop-color="#ff954b"/><stop offset="1" stop-color="#ff774b"/></linearGradient><linearGradient id="B444" gradientUnits="userSpaceOnUse" x1="502.7" y1="40.2" x2="503.1" y2="33.7"><stop stop-color="#ffa050"/><stop offset="1" stop-color="#ff8450"/></linearGradient><linearGradient id="B445" gradientUnits="userSpaceOnUse" x1="514.1" y1="39.5" x2="514.3" y2="33"><stop stop-color="#ff9a4e"/><stop offset="1" stop-color="#ff7d4e"/></linearGradient><linearGradient id="B446" gradientUnits="userSpaceOnUse" x1="588.1" y1="44" x2="587.7" y2="37"><stop stop-color="#ffac3e"/><stop offset="1" stop-color="#ff8a3e"/></linearGradient><linearGradient id="B447" gradientUnits="userSpaceOnUse" x1="576.7" y1="43.2" x2="576.4" y2="36.3"><stop stop-color="#ffa741"/><stop offset="1" stop-color="#ff8541"/></linearGradient><linearGradient id="B448" gradientUnits="userSpaceOnUse" x1="565.4" y1="42.6" x2="565.1" y2="35.7"><stop stop-color="#ffa343"/><stop offset="1" stop-color="#ff8243"/></linearGradient><linearGradient id="B449" gradientUnits="userSpaceOnUse" x1="554" y1="42.3" x2="553.8" y2="35.4"><stop stop-color="#ffa146"/><stop offset="1" stop-color="#ff8146"/></linearGradient><linearGradient id="B450" gradientUnits="userSpaceOnUse" x1="542.6" y1="42.1" x2="542.5" y2="35.4"><stop stop-color="#ffa148"/><stop offset="1" stop-color="#ff8148"/></linearGradient><linearGradient id="B451" gradientUnits="userSpaceOnUse" x1="485.5" y1="45" x2="486" y2="38.4"><stop stop-color="#ffbb55"/><stop offset="1" stop-color="#ffa055"/></linearGradient><linearGradient id="B452" gradientUnits="userSpaceOnUse" x1="531.2" y1="42.2" x2="531.2" y2="35.5"><stop stop-color="#ffa34b"/><stop offset="1" stop-color="#ff844b"/></linearGradient><linearGradient id="B453" gradientUnits="userSpaceOnUse" x1="496.9" y1="44" x2="497.3" y2="37.4"><stop stop-color="#ffb352"/><stop offset="1" stop-color="#ff9752"/></linearGradient><linearGradient id="B454" gradientUnits="userSpaceOnUse" x1="519.8" y1="42.6" x2="519.9" y2="35.9"><stop stop-color="#ffa64d"/><stop offset="1" stop-color="#ff894d"/></linearGradient><linearGradient id="B455" gradientUnits="userSpaceOnUse" x1="508.3" y1="43.2" x2="508.6" y2="36.5"><stop stop-color="#ffac50"/><stop offset="1" stop-color="#ff8f50"/></linearGradient><linearGradient id="B456" gradientUnits="userSpaceOnUse" x1="594.2" y1="48.1" x2="593.7" y2="40.9"><stop stop-color="#ffc33d"/><stop offset="1" stop-color="#ff9f3d"/></linearGradient><linearGradient id="B457" gradientUnits="userSpaceOnUse" x1="582.8" y1="47.2" x2="582.4" y2="40"><stop stop-color="#ffbb40"/><stop offset="1" stop-color="#ff9840"/></linearGradient><linearGradient id="B458" gradientUnits="userSpaceOnUse" x1="571.3" y1="46.5" x2="571" y2="39.4"><stop stop-color="#ffb642"/><stop offset="1" stop-color="#ff9442"/></linearGradient><linearGradient id="B459" gradientUnits="userSpaceOnUse" x1="559.9" y1="46" x2="559.7" y2="38.9"><stop stop-color="#ffb345"/><stop offset="1" stop-color="#ff9145"/></linearGradient><linearGradient id="B460" gradientUnits="userSpaceOnUse" x1="548.4" y1="45.7" x2="548.3" y2="38.7"><stop stop-color="#ffb147"/><stop offset="1" stop-color="#ff9147"/></linearGradient><linearGradient id="B461" gradientUnits="userSpaceOnUse" x1="537" y1="45.7" x2="537" y2="38.7"><stop stop-color="#ffb24a"/><stop offset="1" stop-color="#ff924a"/></linearGradient><linearGradient id="B462" gradientUnits="userSpaceOnUse" x1="479.6" y1="49" x2="480.2" y2="42.3"><stop stop-color="#ffcf56"/><stop offset="1" stop-color="#ffb356"/></linearGradient><linearGradient id="B463" gradientUnits="userSpaceOnUse" x1="525.5" y1="45.9" x2="525.6" y2="39"><stop stop-color="#ffb44c"/><stop offset="1" stop-color="#ff954c"/></linearGradient><linearGradient id="B464" gradientUnits="userSpaceOnUse" x1="491.1" y1="47.9" x2="491.5" y2="41.1"><stop stop-color="#ffc654"/><stop offset="1" stop-color="#ffa954"/></linearGradient><linearGradient id="B465" gradientUnits="userSpaceOnUse" x1="514" y1="46.3" x2="514.3" y2="39.5"><stop stop-color="#ffb94f"/><stop offset="1" stop-color="#ff9a4f"/></linearGradient><linearGradient id="B466" gradientUnits="userSpaceOnUse" x1="502.6" y1="47" x2="502.9" y2="40.2"><stop stop-color="#ffbe51"/><stop offset="1" stop-color="#ffa151"/></linearGradient><linearGradient id="B467" gradientUnits="userSpaceOnUse" x1="600.3" y1="52.5" x2="599.7" y2="45"><stop stop-color="#ffda3c"/><stop offset="1" stop-color="#ffb53c"/></linearGradient><linearGradient id="B468" gradientUnits="userSpaceOnUse" x1="588.8" y1="51.4" x2="588.4" y2="44"><stop stop-color="#ffd13f"/><stop offset="1" stop-color="#ffad3f"/></linearGradient><linearGradient id="B469" gradientUnits="userSpaceOnUse" x1="577.4" y1="50.5" x2="577" y2="43.2"><stop stop-color="#ffcb41"/><stop offset="1" stop-color="#ffa741"/></linearGradient><linearGradient id="B470" gradientUnits="userSpaceOnUse" x1="565.9" y1="49.9" x2="565.6" y2="42.6"><stop stop-color="#ffc644"/><stop offset="1" stop-color="#ffa344"/></linearGradient><linearGradient id="B471" gradientUnits="userSpaceOnUse" x1="554.4" y1="49.5" x2="554.2" y2="42.3"><stop stop-color="#ffc346"/><stop offset="1" stop-color="#ffa146"/></linearGradient><linearGradient id="B472" gradientUnits="userSpaceOnUse" x1="542.8" y1="49.3" x2="542.8" y2="42.1"><stop stop-color="#ffc349"/><stop offset="1" stop-color="#ffa149"/></linearGradient><linearGradient id="B473" gradientUnits="userSpaceOnUse" x1="473.7" y1="53.2" x2="474.3" y2="46.3"><stop stop-color="#ffe258"/><stop offset="1" stop-color="#ffc658"/></linearGradient><linearGradient id="B474" gradientUnits="userSpaceOnUse" x1="531.3" y1="49.4" x2="531.4" y2="42.2"><stop stop-color="#ffc44c"/><stop offset="1" stop-color="#ffa34c"/></linearGradient><linearGradient id="B475" gradientUnits="userSpaceOnUse" x1="485.2" y1="52" x2="485.7" y2="45"><stop stop-color="#ffd956"/><stop offset="1" stop-color="#ffbc56"/></linearGradient><linearGradient id="B476" gradientUnits="userSpaceOnUse" x1="519.8" y1="49.7" x2="520" y2="42.6"><stop stop-color="#ffc64e"/><stop offset="1" stop-color="#ffa74e"/></linearGradient><linearGradient id="B477" gradientUnits="userSpaceOnUse" x1="496.7" y1="51" x2="497.1" y2="44"><stop stop-color="#ffd153"/><stop offset="1" stop-color="#ffb353"/></linearGradient><linearGradient id="B478" gradientUnits="userSpaceOnUse" x1="508.3" y1="50.2" x2="508.5" y2="43.2"><stop stop-color="#ffcb51"/><stop offset="1" stop-color="#ffac51"/></linearGradient><linearGradient id="B479" gradientUnits="userSpaceOnUse" x1="606.5" y1="57" x2="605.9" y2="49.3"><stop stop-color="#fff33c"/><stop offset="1" stop-color="#ffcc3c"/></linearGradient><linearGradient id="B480" gradientUnits="userSpaceOnUse" x1="595" y1="55.7" x2="594.5" y2="48.1"><stop stop-color="#ffe93e"/><stop offset="1" stop-color="#ffc33e"/></linearGradient><linearGradient id="B481" gradientUnits="userSpaceOnUse" x1="583.5" y1="54.7" x2="583" y2="47.2"><stop stop-color="#ffe141"/><stop offset="1" stop-color="#ffbc41"/></linearGradient><linearGradient id="B482" gradientUnits="userSpaceOnUse" x1="571.9" y1="54" x2="571.6" y2="46.5"><stop stop-color="#ffdb43"/><stop offset="1" stop-color="#ffb643"/></linearGradient><linearGradient id="B483" gradientUnits="userSpaceOnUse" x1="560.3" y1="53.4" x2="560.1" y2="46"><stop stop-color="#ffd646"/><stop offset="1" stop-color="#ffb346"/></linearGradient><linearGradient id="B484" gradientUnits="userSpaceOnUse" x1="548.8" y1="53.1" x2="548.7" y2="45.7"><stop stop-color="#ffd448"/><stop offset="1" stop-color="#ffb248"/></linearGradient><linearGradient id="B485" gradientUnits="userSpaceOnUse" x1="467.7" y1="57.5" x2="468.3" y2="50.4"><stop stop-color="#fff65a"/><stop offset="1" stop-color="#ffd95a"/></linearGradient><linearGradient id="B486" gradientUnits="userSpaceOnUse" x1="537.2" y1="53" x2="537.2" y2="45.7"><stop stop-color="#ffd44b"/><stop offset="1" stop-color="#ffb24b"/></linearGradient><linearGradient id="B487" gradientUnits="userSpaceOnUse" x1="479.3" y1="56.2" x2="479.8" y2="49.1"><stop stop-color="#ffec57"/><stop offset="1" stop-color="#ffcf57"/></linearGradient><linearGradient id="B488" gradientUnits="userSpaceOnUse" x1="525.6" y1="53.2" x2="525.7" y2="45.9"><stop stop-color="#ffd64d"/><stop offset="1" stop-color="#ffb54d"/></linearGradient><linearGradient id="B489" gradientUnits="userSpaceOnUse" x1="490.8" y1="55.1" x2="491.3" y2="47.9"><stop stop-color="#ffe455"/><stop offset="1" stop-color="#ffc655"/></linearGradient><linearGradient id="B490" gradientUnits="userSpaceOnUse" x1="514" y1="53.6" x2="514.2" y2="46.3"><stop stop-color="#ffd950"/><stop offset="1" stop-color="#ffb950"/></linearGradient><linearGradient id="B491" gradientUnits="userSpaceOnUse" x1="502.4" y1="54.2" x2="502.7" y2="47"><stop stop-color="#ffde52"/><stop offset="1" stop-color="#ffbf52"/></linearGradient><linearGradient id="B492" gradientUnits="userSpaceOnUse" x1="612.7" y1="61.7" x2="612" y2="53.8"><stop stop-color="#f0ff3b"/><stop offset="1" stop-color="#ffe53b"/></linearGradient><linearGradient id="B493" gradientUnits="userSpaceOnUse" x1="601.2" y1="60.3" x2="600.6" y2="52.4"><stop stop-color="#fcff3d"/><stop offset="1" stop-color="#ffda3d"/></linearGradient><linearGradient id="B494" gradientUnits="userSpaceOnUse" x1="589.6" y1="59.1" x2="589.1" y2="51.3"><stop stop-color="#fff840"/><stop offset="1" stop-color="#ffd240"/></linearGradient><linearGradient id="B495" gradientUnits="userSpaceOnUse" x1="578" y1="58.2" x2="577.6" y2="50.5"><stop stop-color="#fff042"/><stop offset="1" stop-color="#ffcb42"/></linearGradient><linearGradient id="B496" gradientUnits="userSpaceOnUse" x1="566.4" y1="57.5" x2="566.1" y2="49.9"><stop stop-color="#ffeb45"/><stop offset="1" stop-color="#ffc645"/></linearGradient><linearGradient id="B497" gradientUnits="userSpaceOnUse" x1="554.8" y1="57.1" x2="554.6" y2="49.5"><stop stop-color="#ffe747"/><stop offset="1" stop-color="#ffc447"/></linearGradient><linearGradient id="B498" gradientUnits="userSpaceOnUse" x1="461.6" y1="62" x2="462.3" y2="54.7"><stop stop-color="#f4ff5c"/><stop offset="1" stop-color="#ffed5c"/></linearGradient><linearGradient id="B499" gradientUnits="userSpaceOnUse" x1="543.1" y1="56.9" x2="543.1" y2="49.3"><stop stop-color="#ffe64a"/><stop offset="1" stop-color="#ffc34a"/></linearGradient><linearGradient id="B500" gradientUnits="userSpaceOnUse" x1="473.3" y1="60.6" x2="473.8" y2="53.2"><stop stop-color="#feff59"/><stop offset="1" stop-color="#ffe259"/></linearGradient><linearGradient id="B501" gradientUnits="userSpaceOnUse" x1="531.5" y1="56.9" x2="531.5" y2="49.4"><stop stop-color="#ffe64c"/><stop offset="1" stop-color="#ffc44c"/></linearGradient><linearGradient id="B502" gradientUnits="userSpaceOnUse" x1="484.9" y1="59.4" x2="485.4" y2="52"><stop stop-color="#fff857"/><stop offset="1" stop-color="#ffd957"/></linearGradient><linearGradient id="B503" gradientUnits="userSpaceOnUse" x1="519.8" y1="57.2" x2="520" y2="49.7"><stop stop-color="#ffe84f"/><stop offset="1" stop-color="#ffc74f"/></linearGradient><linearGradient id="B504" gradientUnits="userSpaceOnUse" x1="496.5" y1="58.4" x2="496.9" y2="51"><stop stop-color="#fff154"/><stop offset="1" stop-color="#ffd154"/></linearGradient><linearGradient id="B505" gradientUnits="userSpaceOnUse" x1="508.2" y1="57.7" x2="508.4" y2="50.2"><stop stop-color="#ffec52"/><stop offset="1" stop-color="#ffcb52"/></linearGradient><linearGradient id="B506" gradientUnits="userSpaceOnUse" x1="619" y1="66.5" x2="618.2" y2="58.4"><stop stop-color="#d4ff3a"/><stop offset="1" stop-color="#feff3a"/></linearGradient><linearGradient id="B507" gradientUnits="userSpaceOnUse" x1="607.4" y1="65" x2="606.8" y2="56.9"><stop stop-color="#e2ff3c"/><stop offset="1" stop-color="#fff33c"/></linearGradient><linearGradient id="B508" gradientUnits="userSpaceOnUse" x1="595.8" y1="63.7" x2="595.2" y2="55.7"><stop stop-color="#edff3f"/><stop offset="1" stop-color="#ffe93f"/></linearGradient><linearGradient id="B509" gradientUnits="userSpaceOnUse" x1="584.2" y1="62.7" x2="583.7" y2="54.7"><stop stop-color="#f6ff42"/><stop offset="1" stop-color="#ffe142"/></linearGradient><linearGradient id="B510" gradientUnits="userSpaceOnUse" x1="572.5" y1="61.8" x2="572.1" y2="53.9"><stop stop-color="#fdff44"/><stop offset="1" stop-color="#ffdb44"/></linearGradient><linearGradient id="B511" gradientUnits="userSpaceOnUse" x1="560.8" y1="61.3" x2="560.6" y2="53.4"><stop stop-color="#fffc47"/><stop offset="1" stop-color="#ffd747"/></linearGradient><linearGradient id="B512" gradientUnits="userSpaceOnUse" x1="455.5" y1="66.6" x2="456.3" y2="59.1"><stop stop-color="#e0ff5d"/><stop offset="1" stop-color="#fdff5d"/></linearGradient><linearGradient id="B513" gradientUnits="userSpaceOnUse" x1="549.1" y1="60.9" x2="549" y2="53.1"><stop stop-color="#fff949"/><stop offset="1" stop-color="#ffd549"/></linearGradient><linearGradient id="B514" gradientUnits="userSpaceOnUse" x1="467.2" y1="65" x2="467.8" y2="57.5"><stop stop-color="#eaff5b"/><stop offset="1" stop-color="#fff65b"/></linearGradient><linearGradient id="B515" gradientUnits="userSpaceOnUse" x1="537.4" y1="60.8" x2="537.4" y2="53"><stop stop-color="#fff84c"/><stop offset="1" stop-color="#ffd44c"/></linearGradient><linearGradient id="B516" gradientUnits="userSpaceOnUse" x1="478.9" y1="63.8" x2="479.4" y2="56.2"><stop stop-color="#f2ff58"/><stop offset="1" stop-color="#ffec58"/></linearGradient><linearGradient id="B517" gradientUnits="userSpaceOnUse" x1="525.7" y1="60.9" x2="525.8" y2="53.2"><stop stop-color="#fff84e"/><stop offset="1" stop-color="#ffd64e"/></linearGradient><linearGradient id="B518" gradientUnits="userSpaceOnUse" x1="490.6" y1="62.7" x2="491" y2="55.1"><stop stop-color="#f9ff56"/><stop offset="1" stop-color="#ffe556"/></linearGradient><linearGradient id="B519" gradientUnits="userSpaceOnUse" x1="514" y1="61.3" x2="514.2" y2="53.6"><stop stop-color="#fffb51"/><stop offset="1" stop-color="#ffd951"/></linearGradient><linearGradient id="B520" gradientUnits="userSpaceOnUse" x1="502.3" y1="61.9" x2="502.6" y2="54.2"><stop stop-color="#ffff53"/><stop offset="1" stop-color="#ffde53"/></linearGradient><linearGradient id="B521" gradientUnits="userSpaceOnUse" x1="625.4" y1="71.6" x2="624.5" y2="63.2"><stop stop-color="#b7ff39"/><stop offset="1" stop-color="#e2ff39"/></linearGradient><linearGradient id="B522" gradientUnits="userSpaceOnUse" x1="613.7" y1="69.9" x2="613" y2="61.6"><stop stop-color="#c6ff3c"/><stop offset="1" stop-color="#f0ff3c"/></linearGradient><linearGradient id="B523" gradientUnits="userSpaceOnUse" x1="602.1" y1="68.5" x2="601.4" y2="60.3"><stop stop-color="#d3ff3e"/><stop offset="1" stop-color="#fcff3e"/></linearGradient><linearGradient id="B524" gradientUnits="userSpaceOnUse" x1="590.4" y1="67.3" x2="589.8" y2="59.1"><stop stop-color="#deff41"/><stop offset="1" stop-color="#fff841"/></linearGradient><linearGradient id="B525" gradientUnits="userSpaceOnUse" x1="578.7" y1="66.3" x2="578.2" y2="58.2"><stop stop-color="#e6ff43"/><stop offset="1" stop-color="#fff143"/></linearGradient><linearGradient id="B526" gradientUnits="userSpaceOnUse" x1="566.9" y1="65.6" x2="566.6" y2="57.5"><stop stop-color="#edff46"/><stop offset="1" stop-color="#ffeb46"/></linearGradient><linearGradient id="B527" gradientUnits="userSpaceOnUse" x1="555.2" y1="65.1" x2="555" y2="57.1"><stop stop-color="#f1ff48"/><stop offset="1" stop-color="#ffe848"/></linearGradient><linearGradient id="B528" gradientUnits="userSpaceOnUse" x1="449.3" y1="71.3" x2="450.1" y2="63.7"><stop stop-color="#cbff5f"/><stop offset="1" stop-color="#e9ff5f"/></linearGradient><linearGradient id="B529" gradientUnits="userSpaceOnUse" x1="543.4" y1="64.9" x2="543.3" y2="56.9"><stop stop-color="#f3ff4b"/><stop offset="1" stop-color="#ffe64b"/></linearGradient><linearGradient id="B530" gradientUnits="userSpaceOnUse" x1="461" y1="69.7" x2="461.7" y2="62"><stop stop-color="#d5ff5d"/><stop offset="1" stop-color="#f4ff5d"/></linearGradient><linearGradient id="B531" gradientUnits="userSpaceOnUse" x1="631.8" y1="76.9" x2="630.8" y2="68.3"><stop stop-color="#98ff38"/><stop offset="1" stop-color="#c5ff38"/></linearGradient><linearGradient id="B532" gradientUnits="userSpaceOnUse" x1="531.7" y1="64.8" x2="531.7" y2="56.9"><stop stop-color="#f4ff4d"/><stop offset="1" stop-color="#ffe64d"/></linearGradient><linearGradient id="B533" gradientUnits="userSpaceOnUse" x1="472.8" y1="68.3" x2="473.4" y2="60.6"><stop stop-color="#deff5a"/><stop offset="1" stop-color="#feff5a"/></linearGradient><linearGradient id="B534" gradientUnits="userSpaceOnUse" x1="519.9" y1="65.1" x2="520" y2="57.2"><stop stop-color="#f3ff50"/><stop offset="1" stop-color="#ffe850"/></linearGradient><linearGradient id="B535" gradientUnits="userSpaceOnUse" x1="484.6" y1="67.1" x2="485" y2="59.4"><stop stop-color="#e6ff57"/><stop offset="1" stop-color="#fff857"/></linearGradient><linearGradient id="B536" gradientUnits="userSpaceOnUse" x1="508.1" y1="65.5" x2="508.3" y2="57.7"><stop stop-color="#f0ff52"/><stop offset="1" stop-color="#ffec52"/></linearGradient><linearGradient id="B537" gradientUnits="userSpaceOnUse" x1="496.3" y1="66.2" x2="496.7" y2="58.4"><stop stop-color="#ecff55"/><stop offset="1" stop-color="#fff155"/></linearGradient><linearGradient id="B538" gradientUnits="userSpaceOnUse" x1="620.1" y1="75.1" x2="619.3" y2="66.5"><stop stop-color="#a9ff3b"/><stop offset="1" stop-color="#d5ff3b"/></linearGradient><linearGradient id="B539" gradientUnits="userSpaceOnUse" x1="608.4" y1="73.5" x2="607.7" y2="65"><stop stop-color="#b8ff3d"/><stop offset="1" stop-color="#e2ff3d"/></linearGradient><linearGradient id="B540" gradientUnits="userSpaceOnUse" x1="596.6" y1="72.1" x2="596" y2="63.7"><stop stop-color="#c4ff40"/><stop offset="1" stop-color="#edff40"/></linearGradient><linearGradient id="B541" gradientUnits="userSpaceOnUse" x1="584.9" y1="71" x2="584.4" y2="62.7"><stop stop-color="#ceff42"/><stop offset="1" stop-color="#f6ff42"/></linearGradient><linearGradient id="B542" gradientUnits="userSpaceOnUse" x1="573.1" y1="70.2" x2="572.7" y2="61.8"><stop stop-color="#d6ff45"/><stop offset="1" stop-color="#fdff45"/></linearGradient><linearGradient id="B543" gradientUnits="userSpaceOnUse" x1="561.3" y1="69.5" x2="561" y2="61.3"><stop stop-color="#dbff48"/><stop offset="1" stop-color="#fffc48"/></linearGradient><linearGradient id="B544" gradientUnits="userSpaceOnUse" x1="443.1" y1="76.2" x2="444" y2="68.4"><stop stop-color="#b6ff61"/><stop offset="1" stop-color="#d5ff61"/></linearGradient><linearGradient id="B545" gradientUnits="userSpaceOnUse" x1="638.3" y1="82.3" x2="637.2" y2="73.5"><stop stop-color="#78ff38"/><stop offset="1" stop-color="#a6ff38"/></linearGradient><linearGradient id="B546" gradientUnits="userSpaceOnUse" x1="549.5" y1="69.1" x2="549.3" y2="60.9"><stop stop-color="#dfff4a"/><stop offset="1" stop-color="#fff94a"/></linearGradient><linearGradient id="B547" gradientUnits="userSpaceOnUse" x1="454.9" y1="74.5" x2="455.6" y2="66.6"><stop stop-color="#c1ff5e"/><stop offset="1" stop-color="#e0ff5e"/></linearGradient><linearGradient id="B548" gradientUnits="userSpaceOnUse" x1="537.7" y1="69" x2="537.6" y2="60.8"><stop stop-color="#e1ff4d"/><stop offset="1" stop-color="#fff84d"/></linearGradient><linearGradient id="B549" gradientUnits="userSpaceOnUse" x1="466.7" y1="73" x2="467.3" y2="65.1"><stop stop-color="#caff5c"/><stop offset="1" stop-color="#eaff5c"/></linearGradient><linearGradient id="B550" gradientUnits="userSpaceOnUse" x1="525.8" y1="69" x2="525.9" y2="60.9"><stop stop-color="#e1ff4f"/><stop offset="1" stop-color="#fff84f"/></linearGradient><linearGradient id="B551" gradientUnits="userSpaceOnUse" x1="478.5" y1="71.7" x2="479" y2="63.8"><stop stop-color="#d2ff59"/><stop offset="1" stop-color="#f2ff59"/></linearGradient><linearGradient id="B552" gradientUnits="userSpaceOnUse" x1="514" y1="69.3" x2="514.2" y2="61.3"><stop stop-color="#e0ff52"/><stop offset="1" stop-color="#fffb52"/></linearGradient><linearGradient id="B553" gradientUnits="userSpaceOnUse" x1="490.3" y1="70.7" x2="490.7" y2="62.7"><stop stop-color="#d8ff57"/><stop offset="1" stop-color="#f9ff57"/></linearGradient><linearGradient id="B554" gradientUnits="userSpaceOnUse" x1="626.5" y1="80.4" x2="625.6" y2="71.6"><stop stop-color="#8bff3a"/><stop offset="1" stop-color="#b7ff3a"/></linearGradient><linearGradient id="B555" gradientUnits="userSpaceOnUse" x1="502.2" y1="69.9" x2="502.4" y2="61.9"><stop stop-color="#ddff54"/><stop offset="1" stop-color="#ffff54"/></linearGradient><linearGradient id="B556" gradientUnits="userSpaceOnUse" x1="614.8" y1="78.6" x2="614" y2="69.9"><stop stop-color="#9bff3d"/><stop offset="1" stop-color="#c7ff3d"/></linearGradient><linearGradient id="B557" gradientUnits="userSpaceOnUse" x1="603" y1="77.2" x2="602.3" y2="68.5"><stop stop-color="#a8ff3f"/><stop offset="1" stop-color="#d3ff3f"/></linearGradient><linearGradient id="B558" gradientUnits="userSpaceOnUse" x1="591.2" y1="75.9" x2="590.6" y2="67.3"><stop stop-color="#b4ff42"/><stop offset="1" stop-color="#deff42"/></linearGradient><linearGradient id="B559" gradientUnits="userSpaceOnUse" x1="579.3" y1="74.9" x2="578.9" y2="66.3"><stop stop-color="#bdff44"/><stop offset="1" stop-color="#e6ff44"/></linearGradient><linearGradient id="B560" gradientUnits="userSpaceOnUse" x1="644.8" y1="88" x2="643.6" y2="78.9"><stop stop-color="#56ff37"/><stop offset="1" stop-color="#86ff37"/></linearGradient><linearGradient id="B561" gradientUnits="userSpaceOnUse" x1="567.5" y1="74.1" x2="567.1" y2="65.6"><stop stop-color="#c4ff47"/><stop offset="1" stop-color="#edff47"/></linearGradient><linearGradient id="B562" gradientUnits="userSpaceOnUse" x1="436.7" y1="81.3" x2="437.7" y2="73.2"><stop stop-color="#a1ff62"/><stop offset="1" stop-color="#c0ff62"/></linearGradient><linearGradient id="B563" gradientUnits="userSpaceOnUse" x1="555.6" y1="73.6" x2="555.4" y2="65.1"><stop stop-color="#caff49"/><stop offset="1" stop-color="#f1ff49"/></linearGradient><linearGradient id="B564" gradientUnits="userSpaceOnUse" x1="448.6" y1="79.4" x2="449.4" y2="71.3"><stop stop-color="#acff60"/><stop offset="1" stop-color="#cbff60"/></linearGradient><linearGradient id="B565" gradientUnits="userSpaceOnUse" x1="633" y1="85.9" x2="632" y2="76.8"><stop stop-color="#6aff39"/><stop offset="1" stop-color="#99ff39"/></linearGradient><linearGradient id="B566" gradientUnits="userSpaceOnUse" x1="543.7" y1="73.3" x2="543.6" y2="64.9"><stop stop-color="#cdff4c"/><stop offset="1" stop-color="#f3ff4c"/></linearGradient><linearGradient id="B567" gradientUnits="userSpaceOnUse" x1="460.5" y1="77.8" x2="461.2" y2="69.7"><stop stop-color="#b5ff5d"/><stop offset="1" stop-color="#d6ff5d"/></linearGradient><linearGradient id="B568" gradientUnits="userSpaceOnUse" x1="531.8" y1="73.2" x2="531.8" y2="64.8"><stop stop-color="#cfff4e"/><stop offset="1" stop-color="#f4ff4e"/></linearGradient><linearGradient id="B569" gradientUnits="userSpaceOnUse" x1="472.4" y1="76.4" x2="472.9" y2="68.3"><stop stop-color="#bdff5b"/><stop offset="1" stop-color="#deff5b"/></linearGradient><linearGradient id="B570" gradientUnits="userSpaceOnUse" x1="519.9" y1="73.4" x2="520" y2="65.1"><stop stop-color="#ceff51"/><stop offset="1" stop-color="#f3ff51"/></linearGradient><linearGradient id="B571" gradientUnits="userSpaceOnUse" x1="484.2" y1="75.3" x2="484.7" y2="67.1"><stop stop-color="#c4ff58"/><stop offset="1" stop-color="#e6ff58"/></linearGradient><linearGradient id="B572" gradientUnits="userSpaceOnUse" x1="508" y1="73.8" x2="508.2" y2="65.5"><stop stop-color="#ccff53"/><stop offset="1" stop-color="#f0ff53"/></linearGradient><linearGradient id="B573" gradientUnits="userSpaceOnUse" x1="496.1" y1="74.4" x2="496.5" y2="66.2"><stop stop-color="#c9ff56"/><stop offset="1" stop-color="#ecff56"/></linearGradient><linearGradient id="B574" gradientUnits="userSpaceOnUse" x1="621.2" y1="84" x2="620.3" y2="75"><stop stop-color="#7cff3c"/><stop offset="1" stop-color="#aaff3c"/></linearGradient><linearGradient id="B575" gradientUnits="userSpaceOnUse" x1="609.4" y1="82.4" x2="608.6" y2="73.5"><stop stop-color="#8bff3e"/><stop offset="1" stop-color="#b8ff3e"/></linearGradient><linearGradient id="B576" gradientUnits="userSpaceOnUse" x1="597.5" y1="81" x2="596.8" y2="72.1"><stop stop-color="#99ff41"/><stop offset="1" stop-color="#c4ff41"/></linearGradient><linearGradient id="B577" gradientUnits="userSpaceOnUse" x1="585.6" y1="79.8" x2="585.1" y2="71"><stop stop-color="#a3ff43"/><stop offset="1" stop-color="#ceff43"/></linearGradient><linearGradient id="B578" gradientUnits="userSpaceOnUse" x1="651.4" y1="93.8" x2="650.1" y2="84.5"><stop stop-color="#36ff39"/><stop offset="1" stop-color="#64ff36"/></linearGradient><linearGradient id="B579" gradientUnits="userSpaceOnUse" x1="573.7" y1="78.9" x2="573.3" y2="70.1"><stop stop-color="#acff46"/><stop offset="1" stop-color="#d6ff46"/></linearGradient><linearGradient id="B580" gradientUnits="userSpaceOnUse" x1="430.4" y1="86.4" x2="431.4" y2="78.2"><stop stop-color="#8cff64"/><stop offset="1" stop-color="#abff64"/></linearGradient><linearGradient id="B581" gradientUnits="userSpaceOnUse" x1="639.6" y1="91.6" x2="638.4" y2="82.3"><stop stop-color="#49ff38"/><stop offset="1" stop-color="#79ff38"/></linearGradient><linearGradient id="B582" gradientUnits="userSpaceOnUse" x1="561.8" y1="78.2" x2="561.5" y2="69.5"><stop stop-color="#b3ff48"/><stop offset="1" stop-color="#dcff48"/></linearGradient><linearGradient id="B583" gradientUnits="userSpaceOnUse" x1="442.3" y1="84.5" x2="443.2" y2="76.2"><stop stop-color="#97ff62"/><stop offset="1" stop-color="#b7ff62"/></linearGradient><linearGradient id="B584" gradientUnits="userSpaceOnUse" x1="549.8" y1="77.8" x2="549.6" y2="69.1"><stop stop-color="#b8ff4b"/><stop offset="1" stop-color="#dfff4b"/></linearGradient><linearGradient id="B585" gradientUnits="userSpaceOnUse" x1="454.2" y1="82.8" x2="455" y2="74.5"><stop stop-color="#a0ff5f"/><stop offset="1" stop-color="#c1ff5f"/></linearGradient><linearGradient id="B586" gradientUnits="userSpaceOnUse" x1="537.9" y1="77.5" x2="537.8" y2="69"><stop stop-color="#bbff4d"/><stop offset="1" stop-color="#e1ff4d"/></linearGradient><linearGradient id="B587" gradientUnits="userSpaceOnUse" x1="466.1" y1="81.3" x2="466.8" y2="73"><stop stop-color="#a9ff5d"/><stop offset="1" stop-color="#caff5d"/></linearGradient><linearGradient id="B588" gradientUnits="userSpaceOnUse" x1="627.7" y1="89.6" x2="626.7" y2="80.4"><stop stop-color="#5cff3b"/><stop offset="1" stop-color="#8bff3b"/></linearGradient><linearGradient id="B589" gradientUnits="userSpaceOnUse" x1="525.9" y1="77.6" x2="526" y2="69"><stop stop-color="#bcff50"/><stop offset="1" stop-color="#e2ff50"/></linearGradient><linearGradient id="B590" gradientUnits="userSpaceOnUse" x1="478.1" y1="80.1" x2="478.6" y2="71.7"><stop stop-color="#afff5a"/><stop offset="1" stop-color="#d2ff5a"/></linearGradient><linearGradient id="B591" gradientUnits="userSpaceOnUse" x1="514" y1="77.9" x2="514.1" y2="69.3"><stop stop-color="#bbff53"/><stop offset="1" stop-color="#e0ff53"/></linearGradient><linearGradient id="B592" gradientUnits="userSpaceOnUse" x1="490.1" y1="79.1" x2="490.4" y2="70.7"><stop stop-color="#b5ff58"/><stop offset="1" stop-color="#d8ff58"/></linearGradient><linearGradient id="B593" gradientUnits="userSpaceOnUse" x1="502" y1="78.4" x2="502.3" y2="69.9"><stop stop-color="#b9ff55"/><stop offset="1" stop-color="#ddff55"/></linearGradient><linearGradient id="B594" gradientUnits="userSpaceOnUse" x1="615.8" y1="87.8" x2="614.9" y2="78.6"><stop stop-color="#6dff3e"/><stop offset="1" stop-color="#9bff3e"/></linearGradient><linearGradient id="B595" gradientUnits="userSpaceOnUse" x1="603.9" y1="86.2" x2="603.2" y2="77.1"><stop stop-color="#7cff40"/><stop offset="1" stop-color="#a9ff40"/></linearGradient><linearGradient id="B596" gradientUnits="userSpaceOnUse" x1="592" y1="84.9" x2="591.3" y2="75.9"><stop stop-color="#88ff43"/><stop offset="1" stop-color="#b4ff43"/></linearGradient><linearGradient id="B597" gradientUnits="userSpaceOnUse" x1="580" y1="83.9" x2="579.5" y2="74.9"><stop stop-color="#93ff45"/><stop offset="1" stop-color="#bdff45"/></linearGradient><linearGradient id="B598" gradientUnits="userSpaceOnUse" x1="646.2" y1="97.5" x2="644.9" y2="88"><stop stop-color="#38ff49"/><stop offset="1" stop-color="#57ff38"/></linearGradient><linearGradient id="B599" gradientUnits="userSpaceOnUse" x1="423.9" y1="91.8" x2="425.1" y2="83.3"><stop stop-color="#77ff66"/><stop offset="1" stop-color="#96ff66"/></linearGradient><linearGradient id="B600" gradientUnits="userSpaceOnUse" x1="568" y1="83" x2="567.6" y2="74.1"><stop stop-color="#9bff48"/><stop offset="1" stop-color="#c5ff48"/></linearGradient><linearGradient id="B601" gradientUnits="userSpaceOnUse" x1="435.9" y1="89.7" x2="436.9" y2="81.3"><stop stop-color="#82ff63"/><stop offset="1" stop-color="#a2ff63"/></linearGradient><linearGradient id="B602" gradientUnits="userSpaceOnUse" x1="556" y1="82.4" x2="555.8" y2="73.6"><stop stop-color="#a1ff4a"/><stop offset="1" stop-color="#caff4a"/></linearGradient><linearGradient id="B603" gradientUnits="userSpaceOnUse" x1="634.3" y1="95.3" x2="633.1" y2="85.9"><stop stop-color="#3bff3a"/><stop offset="1" stop-color="#6bff3a"/></linearGradient><linearGradient id="B604" gradientUnits="userSpaceOnUse" x1="447.9" y1="87.9" x2="448.7" y2="79.4"><stop stop-color="#8bff61"/><stop offset="1" stop-color="#acff61"/></linearGradient><linearGradient id="B605" gradientUnits="userSpaceOnUse" x1="544" y1="82.1" x2="543.9" y2="73.3"><stop stop-color="#a5ff4d"/><stop offset="1" stop-color="#cdff4d"/></linearGradient><linearGradient id="B606" gradientUnits="userSpaceOnUse" x1="459.9" y1="86.4" x2="460.6" y2="77.8"><stop stop-color="#94ff5e"/><stop offset="1" stop-color="#b6ff5e"/></linearGradient><linearGradient id="B607" gradientUnits="userSpaceOnUse" x1="532" y1="82" x2="532" y2="73.2"><stop stop-color="#a8ff4f"/><stop offset="1" stop-color="#cfff4f"/></linearGradient><linearGradient id="B608" gradientUnits="userSpaceOnUse" x1="471.9" y1="85" x2="472.5" y2="76.5"><stop stop-color="#9bff5c"/><stop offset="1" stop-color="#beff5c"/></linearGradient><linearGradient id="B609" gradientUnits="userSpaceOnUse" x1="520" y1="82.1" x2="520.1" y2="73.4"><stop stop-color="#a8ff52"/><stop offset="1" stop-color="#cfff52"/></linearGradient><linearGradient id="B610" gradientUnits="userSpaceOnUse" x1="483.9" y1="83.9" x2="484.3" y2="75.3"><stop stop-color="#a0ff59"/><stop offset="1" stop-color="#c4ff59"/></linearGradient><linearGradient id="B611" gradientUnits="userSpaceOnUse" x1="508" y1="82.5" x2="508.1" y2="73.8"><stop stop-color="#a7ff54"/><stop offset="1" stop-color="#cdff54"/></linearGradient><linearGradient id="B612" gradientUnits="userSpaceOnUse" x1="495.9" y1="83.1" x2="496.2" y2="74.4"><stop stop-color="#a5ff57"/><stop offset="1" stop-color="#c9ff57"/></linearGradient><linearGradient id="B613" gradientUnits="userSpaceOnUse" x1="622.3" y1="93.4" x2="621.4" y2="84"><stop stop-color="#4eff3d"/><stop offset="1" stop-color="#7dff3d"/></linearGradient><linearGradient id="B614" gradientUnits="userSpaceOnUse" x1="610.4" y1="91.7" x2="609.5" y2="82.4"><stop stop-color="#5eff3f"/><stop offset="1" stop-color="#8cff3f"/></linearGradient><linearGradient id="B615" gradientUnits="userSpaceOnUse" x1="598.4" y1="90.3" x2="597.7" y2="81"><stop stop-color="#6cff42"/><stop offset="1" stop-color="#99ff42"/></linearGradient><linearGradient id="B616" gradientUnits="userSpaceOnUse" x1="586.4" y1="89" x2="585.8" y2="79.8"><stop stop-color="#78ff44"/><stop offset="1" stop-color="#a4ff44"/></linearGradient><linearGradient id="B617" gradientUnits="userSpaceOnUse" x1="574.3" y1="88.1" x2="573.9" y2="78.9"><stop stop-color="#81ff47"/><stop offset="1" stop-color="#adff47"/></linearGradient><linearGradient id="B618" gradientUnits="userSpaceOnUse" x1="640.9" y1="101.3" x2="639.7" y2="91.6"><stop stop-color="#39ff5b"/><stop offset="1" stop-color="#4aff39"/></linearGradient><linearGradient id="B619" gradientUnits="userSpaceOnUse" x1="562.3" y1="87.3" x2="561.9" y2="78.2"><stop stop-color="#89ff49"/><stop offset="1" stop-color="#b3ff49"/></linearGradient><linearGradient id="B620" gradientUnits="userSpaceOnUse" x1="429.5" y1="95.1" x2="430.5" y2="86.5"><stop stop-color="#6dff65"/><stop offset="1" stop-color="#8dff65"/></linearGradient><linearGradient id="B621" gradientUnits="userSpaceOnUse" x1="550.2" y1="86.8" x2="550" y2="77.8"><stop stop-color="#8fff4c"/><stop offset="1" stop-color="#b8ff4c"/></linearGradient><linearGradient id="B622" gradientUnits="userSpaceOnUse" x1="441.5" y1="93.2" x2="442.4" y2="84.5"><stop stop-color="#76ff63"/><stop offset="1" stop-color="#98ff63"/></linearGradient><linearGradient id="B623" gradientUnits="userSpaceOnUse" x1="538.1" y1="86.6" x2="538" y2="77.5"><stop stop-color="#92ff4e"/><stop offset="1" stop-color="#bbff4e"/></linearGradient><linearGradient id="B624" gradientUnits="userSpaceOnUse" x1="453.6" y1="91.5" x2="454.3" y2="82.8"><stop stop-color="#7fff60"/><stop offset="1" stop-color="#a1ff60"/></linearGradient><linearGradient id="B625" gradientUnits="userSpaceOnUse" x1="628.9" y1="99.2" x2="627.8" y2="89.6"><stop stop-color="#3cff4b"/><stop offset="1" stop-color="#5dff3c"/></linearGradient><linearGradient id="B626" gradientUnits="userSpaceOnUse" x1="526.1" y1="86.6" x2="526.1" y2="77.6"><stop stop-color="#94ff51"/><stop offset="1" stop-color="#bcff51"/></linearGradient><linearGradient id="B627" gradientUnits="userSpaceOnUse" x1="465.6" y1="90.1" x2="466.2" y2="81.3"><stop stop-color="#86ff5e"/><stop offset="1" stop-color="#a9ff5e"/></linearGradient><linearGradient id="B628" gradientUnits="userSpaceOnUse" x1="514" y1="86.8" x2="514.1" y2="77.9"><stop stop-color="#95ff53"/><stop offset="1" stop-color="#bbff53"/></linearGradient><linearGradient id="B629" gradientUnits="userSpaceOnUse" x1="477.7" y1="88.9" x2="478.2" y2="80.1"><stop stop-color="#8cff5b"/><stop offset="1" stop-color="#b0ff5b"/></linearGradient><linearGradient id="B630" gradientUnits="userSpaceOnUse" x1="501.9" y1="87.3" x2="502.1" y2="78.4"><stop stop-color="#93ff56"/><stop offset="1" stop-color="#b9ff56"/></linearGradient><linearGradient id="B631" gradientUnits="userSpaceOnUse" x1="489.8" y1="88" x2="490.2" y2="79.1"><stop stop-color="#90ff58"/><stop offset="1" stop-color="#b5ff58"/></linearGradient><linearGradient id="B632" gradientUnits="userSpaceOnUse" x1="616.9" y1="97.4" x2="615.9" y2="87.8"><stop stop-color="#3eff3f"/><stop offset="1" stop-color="#6eff3e"/></linearGradient><linearGradient id="B633" gradientUnits="userSpaceOnUse" x1="604.8" y1="95.8" x2="604" y2="86.2"><stop stop-color="#4eff41"/><stop offset="1" stop-color="#7cff41"/></linearGradient><linearGradient id="B634" gradientUnits="userSpaceOnUse" x1="592.8" y1="94.4" x2="592.1" y2="84.9"><stop stop-color="#5bff43"/><stop offset="1" stop-color="#89ff43"/></linearGradient><linearGradient id="B635" gradientUnits="userSpaceOnUse" x1="580.7" y1="93.3" x2="580.1" y2="83.9"><stop stop-color="#66ff46"/><stop offset="1" stop-color="#93ff46"/></linearGradient><linearGradient id="B636" gradientUnits="userSpaceOnUse" x1="568.6" y1="92.4" x2="568.2" y2="83"><stop stop-color="#70ff49"/><stop offset="1" stop-color="#9bff49"/></linearGradient><linearGradient id="B637" gradientUnits="userSpaceOnUse" x1="556.5" y1="91.8" x2="556.2" y2="82.4"><stop stop-color="#77ff4b"/><stop offset="1" stop-color="#a1ff4b"/></linearGradient><linearGradient id="B638" gradientUnits="userSpaceOnUse" x1="635.5" y1="105.2" x2="634.3" y2="95.3"><stop stop-color="#3bff6c"/><stop offset="1" stop-color="#3cff3b"/></linearGradient><linearGradient id="B639" gradientUnits="userSpaceOnUse" x1="435.1" y1="98.7" x2="436" y2="89.7"><stop stop-color="#64ff68"/><stop offset="1" stop-color="#83ff64"/></linearGradient><linearGradient id="B640" gradientUnits="userSpaceOnUse" x1="544.3" y1="91.4" x2="544.1" y2="82.1"><stop stop-color="#7cff4e"/><stop offset="1" stop-color="#a6ff4e"/></linearGradient><linearGradient id="B641" gradientUnits="userSpaceOnUse" x1="447.2" y1="96.9" x2="448" y2="87.9"><stop stop-color="#6aff62"/><stop offset="1" stop-color="#8cff62"/></linearGradient><linearGradient id="B642" gradientUnits="userSpaceOnUse" x1="532.2" y1="91.2" x2="532.1" y2="82"><stop stop-color="#7fff50"/><stop offset="1" stop-color="#a8ff50"/></linearGradient><linearGradient id="B643" gradientUnits="userSpaceOnUse" x1="459.3" y1="95.4" x2="460" y2="86.4"><stop stop-color="#71ff5f"/><stop offset="1" stop-color="#94ff5f"/></linearGradient><linearGradient id="B644" gradientUnits="userSpaceOnUse" x1="520" y1="91.3" x2="520.1" y2="82.1"><stop stop-color="#81ff53"/><stop offset="1" stop-color="#a9ff53"/></linearGradient><linearGradient id="B645" gradientUnits="userSpaceOnUse" x1="471.4" y1="94.1" x2="472" y2="85"><stop stop-color="#77ff5d"/><stop offset="1" stop-color="#9bff5d"/></linearGradient><linearGradient id="B646" gradientUnits="userSpaceOnUse" x1="623.4" y1="103.2" x2="622.4" y2="93.4"><stop stop-color="#3eff5e"/><stop offset="1" stop-color="#4eff3e"/></linearGradient><linearGradient id="B647" gradientUnits="userSpaceOnUse" x1="507.9" y1="91.6" x2="508.1" y2="82.5"><stop stop-color="#81ff55"/><stop offset="1" stop-color="#a8ff55"/></linearGradient><linearGradient id="B648" gradientUnits="userSpaceOnUse" x1="483.6" y1="93" x2="484" y2="83.9"><stop stop-color="#7cff5a"/><stop offset="1" stop-color="#a1ff5a"/></linearGradient><linearGradient id="B649" gradientUnits="userSpaceOnUse" x1="495.7" y1="92.2" x2="496" y2="83.1"><stop stop-color="#7fff58"/><stop offset="1" stop-color="#a5ff58"/></linearGradient><linearGradient id="B650" gradientUnits="userSpaceOnUse" x1="611.4" y1="101.5" x2="610.5" y2="91.7"><stop stop-color="#40ff52"/><stop offset="1" stop-color="#5fff40"/></linearGradient><linearGradient id="B651" gradientUnits="userSpaceOnUse" x1="599.2" y1="100" x2="598.5" y2="90.2"><stop stop-color="#43ff48"/><stop offset="1" stop-color="#6cff43"/></linearGradient><linearGradient id="B652" gradientUnits="userSpaceOnUse" x1="587.1" y1="98.7" x2="586.5" y2="89"><stop stop-color="#4aff45"/><stop offset="1" stop-color="#78ff45"/></linearGradient><linearGradient id="B653" gradientUnits="userSpaceOnUse" x1="574.9" y1="97.7" x2="574.4" y2="88.1"><stop stop-color="#55ff48"/><stop offset="1" stop-color="#82ff48"/></linearGradient><linearGradient id="B654" gradientUnits="userSpaceOnUse" x1="562.8" y1="96.9" x2="562.4" y2="87.3"><stop stop-color="#5dff4a"/><stop offset="1" stop-color="#8aff4a"/></linearGradient><linearGradient id="B655" gradientUnits="userSpaceOnUse" x1="550.6" y1="96.4" x2="550.3" y2="86.8"><stop stop-color="#64ff4d"/><stop offset="1" stop-color="#8fff4d"/></linearGradient><linearGradient id="B656" gradientUnits="userSpaceOnUse" x1="440.7" y1="102.4" x2="441.6" y2="93.2"><stop stop-color="#64ff73"/><stop offset="1" stop-color="#77ff64"/></linearGradient><linearGradient id="B657" gradientUnits="userSpaceOnUse" x1="630.1" y1="109.3" x2="628.9" y2="99.2"><stop stop-color="#3dff7f"/><stop offset="1" stop-color="#3dff4c"/></linearGradient><linearGradient id="B658" gradientUnits="userSpaceOnUse" x1="538.4" y1="96.1" x2="538.2" y2="86.6"><stop stop-color="#69ff4f"/><stop offset="1" stop-color="#93ff4f"/></linearGradient><linearGradient id="B659" gradientUnits="userSpaceOnUse" x1="452.9" y1="100.7" x2="453.7" y2="91.6"><stop stop-color="#61ff66"/><stop offset="1" stop-color="#7fff61"/></linearGradient><linearGradient id="B660" gradientUnits="userSpaceOnUse" x1="526.2" y1="96" x2="526.2" y2="86.6"><stop stop-color="#6cff52"/><stop offset="1" stop-color="#95ff52"/></linearGradient><linearGradient id="B661" gradientUnits="userSpaceOnUse" x1="465.1" y1="99.3" x2="465.7" y2="90.1"><stop stop-color="#62ff5e"/><stop offset="1" stop-color="#87ff5e"/></linearGradient><linearGradient id="B662" gradientUnits="userSpaceOnUse" x1="514" y1="96.2" x2="514.1" y2="86.8"><stop stop-color="#6dff54"/><stop offset="1" stop-color="#95ff54"/></linearGradient><linearGradient id="B663" gradientUnits="userSpaceOnUse" x1="477.3" y1="98.2" x2="477.8" y2="88.9"><stop stop-color="#67ff5c"/><stop offset="1" stop-color="#8dff5c"/></linearGradient><linearGradient id="B664" gradientUnits="userSpaceOnUse" x1="501.7" y1="96.6" x2="502" y2="87.3"><stop stop-color="#6dff57"/><stop offset="1" stop-color="#94ff57"/></linearGradient><linearGradient id="B665" gradientUnits="userSpaceOnUse" x1="489.5" y1="97.3" x2="489.9" y2="88"><stop stop-color="#6bff59"/><stop offset="1" stop-color="#91ff59"/></linearGradient><linearGradient id="B666" gradientUnits="userSpaceOnUse" x1="617.9" y1="107.4" x2="616.9" y2="97.4"><stop stop-color="#3fff71"/><stop offset="1" stop-color="#3fff3f"/></linearGradient><linearGradient id="B667" gradientUnits="userSpaceOnUse" x1="605.8" y1="105.8" x2="604.9" y2="95.8"><stop stop-color="#42ff65"/><stop offset="1" stop-color="#4fff42"/></linearGradient><linearGradient id="B668" gradientUnits="userSpaceOnUse" x1="593.6" y1="104.3" x2="592.9" y2="94.4"><stop stop-color="#44ff5c"/><stop offset="1" stop-color="#5cff44"/></linearGradient><linearGradient id="B669" gradientUnits="userSpaceOnUse" x1="581.4" y1="103.2" x2="580.8" y2="93.3"><stop stop-color="#47ff55"/><stop offset="1" stop-color="#67ff47"/></linearGradient><linearGradient id="B670" gradientUnits="userSpaceOnUse" x1="569.1" y1="102.2" x2="568.7" y2="92.4"><stop stop-color="#49ff50"/><stop offset="1" stop-color="#70ff49"/></linearGradient><linearGradient id="B671" gradientUnits="userSpaceOnUse" x1="556.9" y1="101.5" x2="556.6" y2="91.8"><stop stop-color="#4cff4d"/><stop offset="1" stop-color="#77ff4c"/></linearGradient><linearGradient id="B672" gradientUnits="userSpaceOnUse" x1="544.6" y1="101.1" x2="544.4" y2="91.4"><stop stop-color="#51ff4e"/><stop offset="1" stop-color="#7dff4e"/></linearGradient><linearGradient id="B673" gradientUnits="userSpaceOnUse" x1="446.4" y1="106.3" x2="447.3" y2="96.9"><stop stop-color="#63ff7f"/><stop offset="1" stop-color="#6aff63"/></linearGradient><linearGradient id="B674" gradientUnits="userSpaceOnUse" x1="532.4" y1="100.9" x2="532.3" y2="91.2"><stop stop-color="#55ff51"/><stop offset="1" stop-color="#80ff51"/></linearGradient><linearGradient id="B675" gradientUnits="userSpaceOnUse" x1="624.6" y1="113.5" x2="623.5" y2="103.2"><stop stop-color="#3fff92"/><stop offset="1" stop-color="#3fff5f"/></linearGradient><linearGradient id="B676" gradientUnits="userSpaceOnUse" x1="458.7" y1="104.8" x2="459.4" y2="95.4"><stop stop-color="#60ff73"/><stop offset="1" stop-color="#72ff60"/></linearGradient><linearGradient id="B677" gradientUnits="userSpaceOnUse" x1="520.1" y1="100.9" x2="520.1" y2="91.3"><stop stop-color="#58ff54"/><stop offset="1" stop-color="#82ff54"/></linearGradient><linearGradient id="B678" gradientUnits="userSpaceOnUse" x1="471" y1="103.5" x2="471.5" y2="94.1"><stop stop-color="#5eff69"/><stop offset="1" stop-color="#78ff5e"/></linearGradient><linearGradient id="B679" gradientUnits="userSpaceOnUse" x1="507.8" y1="101.2" x2="508" y2="91.6"><stop stop-color="#59ff56"/><stop offset="1" stop-color="#81ff56"/></linearGradient><linearGradient id="B680" gradientUnits="userSpaceOnUse" x1="483.2" y1="102.5" x2="483.7" y2="93"><stop stop-color="#5bff60"/><stop offset="1" stop-color="#7dff5b"/></linearGradient><linearGradient id="B681" gradientUnits="userSpaceOnUse" x1="495.5" y1="101.7" x2="495.8" y2="92.2"><stop stop-color="#59ff59"/><stop offset="1" stop-color="#80ff59"/></linearGradient><linearGradient id="B682" gradientUnits="userSpaceOnUse" x1="612.4" y1="111.7" x2="611.4" y2="101.5"><stop stop-color="#41ff84"/><stop offset="1" stop-color="#41ff53"/></linearGradient><linearGradient id="B683" gradientUnits="userSpaceOnUse" x1="600.1" y1="110.2" x2="599.3" y2="100"><stop stop-color="#44ff7a"/><stop offset="1" stop-color="#44ff49"/></linearGradient><linearGradient id="B684" gradientUnits="userSpaceOnUse" x1="587.9" y1="108.9" x2="587.2" y2="98.7"><stop stop-color="#46ff71"/><stop offset="1" stop-color="#4bff46"/></linearGradient><linearGradient id="B685" gradientUnits="userSpaceOnUse" x1="575.6" y1="107.8" x2="575" y2="97.7"><stop stop-color="#49ff6a"/><stop offset="1" stop-color="#56ff49"/></linearGradient><linearGradient id="B686" gradientUnits="userSpaceOnUse" x1="563.3" y1="106.9" x2="562.9" y2="96.9"><stop stop-color="#4bff66"/><stop offset="1" stop-color="#5eff4b"/></linearGradient><linearGradient id="B687" gradientUnits="userSpaceOnUse" x1="551" y1="106.3" x2="550.7" y2="96.4"><stop stop-color="#4eff63"/><stop offset="1" stop-color="#65ff4e"/></linearGradient><linearGradient id="B688" gradientUnits="userSpaceOnUse" x1="538.6" y1="106" x2="538.5" y2="96.1"><stop stop-color="#50ff63"/><stop offset="1" stop-color="#6aff50"/></linearGradient><linearGradient id="B689" gradientUnits="userSpaceOnUse" x1="452.2" y1="110.4" x2="453" y2="100.7"><stop stop-color="#62ff8c"/><stop offset="1" stop-color="#62ff67"/></linearGradient><linearGradient id="B690" gradientUnits="userSpaceOnUse" x1="526.3" y1="105.9" x2="526.2" y2="96"><stop stop-color="#53ff64"/><stop offset="1" stop-color="#6dff53"/></linearGradient><linearGradient id="B691" gradientUnits="userSpaceOnUse" x1="464.6" y1="109" x2="465.2" y2="99.3"><stop stop-color="#5fff82"/><stop offset="1" stop-color="#63ff5f"/></linearGradient><linearGradient id="B692" gradientUnits="userSpaceOnUse" x1="514" y1="106" x2="514" y2="96.2"><stop stop-color="#55ff67"/><stop offset="1" stop-color="#6eff55"/></linearGradient><linearGradient id="B693" gradientUnits="userSpaceOnUse" x1="476.9" y1="107.9" x2="477.4" y2="98.2"><stop stop-color="#5dff79"/><stop offset="1" stop-color="#68ff5d"/></linearGradient><linearGradient id="B694" gradientUnits="userSpaceOnUse" x1="501.6" y1="106.4" x2="501.8" y2="96.6"><stop stop-color="#58ff6b"/><stop offset="1" stop-color="#6dff58"/></linearGradient><linearGradient id="B695" gradientUnits="userSpaceOnUse" x1="619" y1="117.9" x2="618" y2="107.4"><stop stop-color="#40ffa5"/><stop offset="1" stop-color="#40ff72"/></linearGradient><linearGradient id="B696" gradientUnits="userSpaceOnUse" x1="489.3" y1="107" x2="489.6" y2="97.3"><stop stop-color="#5aff71"/><stop offset="1" stop-color="#6bff5a"/></linearGradient><linearGradient id="B697" gradientUnits="userSpaceOnUse" x1="606.7" y1="116.2" x2="605.8" y2="105.8"><stop stop-color="#43ff98"/><stop offset="1" stop-color="#43ff66"/></linearGradient><linearGradient id="B698" gradientUnits="userSpaceOnUse" x1="594.4" y1="114.7" x2="593.6" y2="104.3"><stop stop-color="#45ff8e"/><stop offset="1" stop-color="#45ff5d"/></linearGradient><linearGradient id="B699" gradientUnits="userSpaceOnUse" x1="582.1" y1="113.5" x2="581.4" y2="103.2"><stop stop-color="#48ff86"/><stop offset="1" stop-color="#48ff56"/></linearGradient><linearGradient id="B700" gradientUnits="userSpaceOnUse" x1="569.7" y1="112.5" x2="569.2" y2="102.2"><stop stop-color="#4aff80"/><stop offset="1" stop-color="#4aff51"/></linearGradient><linearGradient id="B701" gradientUnits="userSpaceOnUse" x1="557.4" y1="111.8" x2="557" y2="101.5"><stop stop-color="#4dff7c"/><stop offset="1" stop-color="#4dff4e"/></linearGradient><linearGradient id="B702" gradientUnits="userSpaceOnUse" x1="545" y1="111.3" x2="544.7" y2="101.1"><stop stop-color="#4fff7a"/><stop offset="1" stop-color="#52ff4f"/></linearGradient><linearGradient id="B703" gradientUnits="userSpaceOnUse" x1="532.6" y1="111" x2="532.4" y2="100.9"><stop stop-color="#52ff7a"/><stop offset="1" stop-color="#56ff52"/></linearGradient><linearGradient id="B704" gradientUnits="userSpaceOnUse" x1="520.2" y1="111" x2="520.2" y2="100.9"><stop stop-color="#54ff7b"/><stop offset="1" stop-color="#59ff54"/></linearGradient><linearGradient id="B705" gradientUnits="userSpaceOnUse" x1="458.1" y1="114.7" x2="458.8" y2="104.8"><stop stop-color="#61ff9b"/><stop offset="1" stop-color="#61ff74"/></linearGradient><linearGradient id="B706" gradientUnits="userSpaceOnUse" x1="507.7" y1="111.3" x2="507.9" y2="101.2"><stop stop-color="#57ff7e"/><stop offset="1" stop-color="#5aff57"/></linearGradient><linearGradient id="B707" gradientUnits="userSpaceOnUse" x1="470.5" y1="113.5" x2="471" y2="103.5"><stop stop-color="#5fff91"/><stop offset="1" stop-color="#5fff6a"/></linearGradient><linearGradient id="B708" gradientUnits="userSpaceOnUse" x1="495.3" y1="111.8" x2="495.6" y2="101.7"><stop stop-color="#5aff83"/><stop offset="1" stop-color="#5aff5a"/></linearGradient><linearGradient id="B709" gradientUnits="userSpaceOnUse" x1="482.9" y1="112.5" x2="483.3" y2="102.5"><stop stop-color="#5cff89"/><stop offset="1" stop-color="#5cff61"/></linearGradient><linearGradient id="B710" gradientUnits="userSpaceOnUse" x1="613.4" y1="122.5" x2="612.4" y2="111.7"><stop stop-color="#42ffb9"/><stop offset="1" stop-color="#42ff85"/></linearGradient><linearGradient id="B711" gradientUnits="userSpaceOnUse" x1="601" y1="120.8" x2="600.2" y2="110.2"><stop stop-color="#44ffad"/><stop offset="1" stop-color="#44ff7a"/></linearGradient><linearGradient id="B712" gradientUnits="userSpaceOnUse" x1="588.6" y1="119.5" x2="587.9" y2="108.9"><stop stop-color="#47ffa3"/><stop offset="1" stop-color="#47ff72"/></linearGradient><linearGradient id="B713" gradientUnits="userSpaceOnUse" x1="576.2" y1="118.3" x2="575.6" y2="107.8"><stop stop-color="#4aff9c"/><stop offset="1" stop-color="#4aff6b"/></linearGradient><linearGradient id="B714" gradientUnits="userSpaceOnUse" x1="563.8" y1="117.4" x2="563.3" y2="106.9"><stop stop-color="#4cff96"/><stop offset="1" stop-color="#4cff67"/></linearGradient><linearGradient id="B715" gradientUnits="userSpaceOnUse" x1="551.4" y1="116.8" x2="551" y2="106.3"><stop stop-color="#4fff92"/><stop offset="1" stop-color="#4fff64"/></linearGradient><linearGradient id="B716" gradientUnits="userSpaceOnUse" x1="538.9" y1="116.4" x2="538.7" y2="106"><stop stop-color="#51ff91"/><stop offset="1" stop-color="#51ff63"/></linearGradient><linearGradient id="B717" gradientUnits="userSpaceOnUse" x1="526.4" y1="116.3" x2="526.3" y2="105.9"><stop stop-color="#54ff91"/><stop offset="1" stop-color="#54ff64"/></linearGradient><linearGradient id="B718" gradientUnits="userSpaceOnUse" x1="513.9" y1="116.3" x2="514" y2="106"><stop stop-color="#56ff93"/><stop offset="1" stop-color="#56ff67"/></linearGradient><linearGradient id="B719" gradientUnits="userSpaceOnUse" x1="464" y1="119.2" x2="464.6" y2="109"><stop stop-color="#60ffaa"/><stop offset="1" stop-color="#60ff82"/></linearGradient><linearGradient id="B720" gradientUnits="userSpaceOnUse" x1="501.5" y1="116.7" x2="501.7" y2="106.4"><stop stop-color="#59ff96"/><stop offset="1" stop-color="#59ff6c"/></linearGradient><linearGradient id="B721" gradientUnits="userSpaceOnUse" x1="476.5" y1="118.1" x2="477" y2="107.9"><stop stop-color="#5effa2"/><stop offset="1" stop-color="#5eff7a"/></linearGradient><linearGradient id="B722" gradientUnits="userSpaceOnUse" x1="489" y1="117.3" x2="489.3" y2="107"><stop stop-color="#5bff9b"/><stop offset="1" stop-color="#5bff72"/></linearGradient><linearGradient id="B723" gradientUnits="userSpaceOnUse" x1="607.7" y1="127.1" x2="606.7" y2="116.2"><stop stop-color="#44ffcd"/><stop offset="1" stop-color="#44ff99"/></linearGradient><linearGradient id="B724" gradientUnits="userSpaceOnUse" x1="595.3" y1="125.6" x2="594.4" y2="114.7"><stop stop-color="#46ffc2"/><stop offset="1" stop-color="#46ff8f"/></linearGradient><linearGradient id="B725" gradientUnits="userSpaceOnUse" x1="582.8" y1="124.3" x2="582.1" y2="113.5"><stop stop-color="#49ffb8"/><stop offset="1" stop-color="#49ff87"/></linearGradient><linearGradient id="B726" gradientUnits="userSpaceOnUse" x1="570.3" y1="123.3" x2="569.8" y2="112.5"><stop stop-color="#4bffb1"/><stop offset="1" stop-color="#4bff81"/></linearGradient><linearGradient id="B727" gradientUnits="userSpaceOnUse" x1="557.8" y1="122.5" x2="557.4" y2="111.8"><stop stop-color="#4effac"/><stop offset="1" stop-color="#4eff7d"/></linearGradient><linearGradient id="B728" gradientUnits="userSpaceOnUse" x1="545.3" y1="122" x2="545" y2="111.3"><stop stop-color="#50ffa9"/><stop offset="1" stop-color="#50ff7b"/></linearGradient><linearGradient id="B729" gradientUnits="userSpaceOnUse" x1="532.8" y1="121.7" x2="532.6" y2="111"><stop stop-color="#53ffa8"/><stop offset="1" stop-color="#53ff7a"/></linearGradient><linearGradient id="B730" gradientUnits="userSpaceOnUse" x1="520.2" y1="121.6" x2="520.2" y2="111"><stop stop-color="#55ffa8"/><stop offset="1" stop-color="#55ff7c"/></linearGradient><linearGradient id="B731" gradientUnits="userSpaceOnUse" x1="507.7" y1="121.8" x2="507.8" y2="111.3"><stop stop-color="#58ffab"/><stop offset="1" stop-color="#58ff7f"/></linearGradient><linearGradient id="B732" gradientUnits="userSpaceOnUse" x1="470" y1="123.9" x2="470.6" y2="113.5"><stop stop-color="#5fffbb"/><stop offset="1" stop-color="#5fff92"/></linearGradient><linearGradient id="B733" gradientUnits="userSpaceOnUse" x1="495.1" y1="122.3" x2="495.4" y2="111.8"><stop stop-color="#5affae"/><stop offset="1" stop-color="#5aff84"/></linearGradient><linearGradient id="B734" gradientUnits="userSpaceOnUse" x1="482.6" y1="122.9" x2="483" y2="112.5"><stop stop-color="#5dffb4"/><stop offset="1" stop-color="#5dff8a"/></linearGradient><linearGradient id="B735" gradientUnits="userSpaceOnUse" x1="602" y1="132" x2="601" y2="120.8"><stop stop-color="#45ffe1"/><stop offset="1" stop-color="#45ffad"/></linearGradient><linearGradient id="B736" gradientUnits="userSpaceOnUse" x1="589.4" y1="130.6" x2="588.6" y2="119.5"><stop stop-color="#48ffd7"/><stop offset="1" stop-color="#48ffa4"/></linearGradient><linearGradient id="B737" gradientUnits="userSpaceOnUse" x1="576.9" y1="129.4" x2="576.2" y2="118.3"><stop stop-color="#4affce"/><stop offset="1" stop-color="#4aff9c"/></linearGradient><linearGradient id="B738" gradientUnits="userSpaceOnUse" x1="564.3" y1="128.4" x2="563.8" y2="117.4"><stop stop-color="#4dffc8"/><stop offset="1" stop-color="#4dff97"/></linearGradient><linearGradient id="B739" gradientUnits="userSpaceOnUse" x1="551.8" y1="127.7" x2="551.4" y2="116.8"><stop stop-color="#50ffc3"/><stop offset="1" stop-color="#50ff93"/></linearGradient><linearGradient id="B740" gradientUnits="userSpaceOnUse" x1="539.2" y1="127.3" x2="538.9" y2="116.4"><stop stop-color="#52ffc0"/><stop offset="1" stop-color="#52ff91"/></linearGradient><linearGradient id="B741" gradientUnits="userSpaceOnUse" x1="526.6" y1="127.1" x2="526.4" y2="116.3"><stop stop-color="#55ffbf"/><stop offset="1" stop-color="#55ff91"/></linearGradient><linearGradient id="B742" gradientUnits="userSpaceOnUse" x1="513.9" y1="127.1" x2="514" y2="116.3"><stop stop-color="#57ffc0"/><stop offset="1" stop-color="#57ff93"/></linearGradient><linearGradient id="B743" gradientUnits="userSpaceOnUse" x1="501.3" y1="127.4" x2="501.5" y2="116.7"><stop stop-color="#5affc3"/><stop offset="1" stop-color="#5aff97"/></linearGradient><linearGradient id="B744" gradientUnits="userSpaceOnUse" x1="476.1" y1="128.8" x2="476.5" y2="118.1"><stop stop-color="#5fffcc"/><stop offset="1" stop-color="#5fffa3"/></linearGradient><linearGradient id="B745" gradientUnits="userSpaceOnUse" x1="488.7" y1="128" x2="489" y2="117.3"><stop stop-color="#5cffc7"/><stop offset="1" stop-color="#5cff9c"/></linearGradient><linearGradient id="B746" gradientUnits="userSpaceOnUse" x1="596.1" y1="137" x2="595.2" y2="125.6"><stop stop-color="#47fff6"/><stop offset="1" stop-color="#47ffc2"/></linearGradient><linearGradient id="B747" gradientUnits="userSpaceOnUse" x1="583.5" y1="135.6" x2="582.8" y2="124.3"><stop stop-color="#4affec"/><stop offset="1" stop-color="#4affb9"/></linearGradient><linearGradient id="B748" gradientUnits="userSpaceOnUse" x1="570.9" y1="134.6" x2="570.3" y2="123.3"><stop stop-color="#4cffe4"/><stop offset="1" stop-color="#4cffb2"/></linearGradient><linearGradient id="B749" gradientUnits="userSpaceOnUse" x1="558.3" y1="133.7" x2="557.8" y2="122.5"><stop stop-color="#4fffde"/><stop offset="1" stop-color="#4fffad"/></linearGradient><linearGradient id="B750" gradientUnits="userSpaceOnUse" x1="545.6" y1="133.1" x2="545.3" y2="122"><stop stop-color="#51ffda"/><stop offset="1" stop-color="#51ffaa"/></linearGradient><linearGradient id="B751" gradientUnits="userSpaceOnUse" x1="533" y1="132.8" x2="532.8" y2="121.7"><stop stop-color="#54ffd8"/><stop offset="1" stop-color="#54ffa8"/></linearGradient><linearGradient id="B752" gradientUnits="userSpaceOnUse" x1="520.3" y1="132.7" x2="520.2" y2="121.6"><stop stop-color="#56ffd7"/><stop offset="1" stop-color="#56ffa9"/></linearGradient><linearGradient id="B753" gradientUnits="userSpaceOnUse" x1="507.6" y1="132.8" x2="507.7" y2="121.8"><stop stop-color="#59ffd8"/><stop offset="1" stop-color="#59ffab"/></linearGradient><linearGradient id="B754" gradientUnits="userSpaceOnUse" x1="494.9" y1="133.2" x2="495.1" y2="122.3"><stop stop-color="#5bffdb"/><stop offset="1" stop-color="#5bffaf"/></linearGradient><linearGradient id="B755" gradientUnits="userSpaceOnUse" x1="482.2" y1="133.9" x2="482.6" y2="122.9"><stop stop-color="#5effdf"/><stop offset="1" stop-color="#5effb4"/></linearGradient><linearGradient id="B756" gradientUnits="userSpaceOnUse" x1="590.2" y1="142.1" x2="589.4" y2="130.6"><stop stop-color="#49f2ff"/><stop offset="1" stop-color="#49ffd7"/></linearGradient><linearGradient id="B757" gradientUnits="userSpaceOnUse" x1="577.6" y1="140.9" x2="576.8" y2="129.4"><stop stop-color="#4bfcff"/><stop offset="1" stop-color="#4bffce"/></linearGradient><linearGradient id="B758" gradientUnits="userSpaceOnUse" x1="564.9" y1="139.9" x2="564.3" y2="128.4"><stop stop-color="#4efffb"/><stop offset="1" stop-color="#4effc8"/></linearGradient><linearGradient id="B759" gradientUnits="userSpaceOnUse" x1="552.2" y1="139.2" x2="551.7" y2="127.7"><stop stop-color="#50fff5"/><stop offset="1" stop-color="#50ffc3"/></linearGradient><linearGradient id="B760" gradientUnits="userSpaceOnUse" x1="539.4" y1="138.7" x2="539.1" y2="127.3"><stop stop-color="#53fff1"/><stop offset="1" stop-color="#53ffc1"/></linearGradient><linearGradient id="B761" gradientUnits="userSpaceOnUse" x1="526.7" y1="138.4" x2="526.5" y2="127.1"><stop stop-color="#55ffef"/><stop offset="1" stop-color="#55ffc0"/></linearGradient><linearGradient id="B762" gradientUnits="userSpaceOnUse" x1="514" y1="138.4" x2="513.9" y2="127.1"><stop stop-color="#58ffef"/><stop offset="1" stop-color="#58ffc1"/></linearGradient><linearGradient id="B763" gradientUnits="userSpaceOnUse" x1="501.2" y1="138.7" x2="501.3" y2="127.4"><stop stop-color="#5bfff1"/><stop offset="1" stop-color="#5bffc3"/></linearGradient><linearGradient id="B764" gradientUnits="userSpaceOnUse" x1="488.5" y1="139.2" x2="488.7" y2="128"><stop stop-color="#5dfff4"/><stop offset="1" stop-color="#5dffc7"/></linearGradient><linearGradient id="B765" gradientUnits="userSpaceOnUse" x1="584.3" y1="147.5" x2="583.5" y2="135.7"><stop stop-color="#4bdcff"/><stop offset="1" stop-color="#4bffec"/></linearGradient><linearGradient id="B766" gradientUnits="userSpaceOnUse" x1="571.5" y1="146.3" x2="570.9" y2="134.6"><stop stop-color="#4de6ff"/><stop offset="1" stop-color="#4dffe4"/></linearGradient><linearGradient id="B767" gradientUnits="userSpaceOnUse" x1="558.8" y1="145.4" x2="558.2" y2="133.7"><stop stop-color="#50edff"/><stop offset="1" stop-color="#50ffde"/></linearGradient><linearGradient id="B768" gradientUnits="userSpaceOnUse" x1="546" y1="144.8" x2="545.6" y2="133.1"><stop stop-color="#52f2ff"/><stop offset="1" stop-color="#52ffda"/></linearGradient><linearGradient id="B769" gradientUnits="userSpaceOnUse" x1="533.2" y1="144.4" x2="532.9" y2="132.8"><stop stop-color="#55f5ff"/><stop offset="1" stop-color="#55ffd8"/></linearGradient><linearGradient id="B770" gradientUnits="userSpaceOnUse" x1="520.4" y1="144.3" x2="520.3" y2="132.7"><stop stop-color="#57f7ff"/><stop offset="1" stop-color="#57ffd7"/></linearGradient><linearGradient id="B771" gradientUnits="userSpaceOnUse" x1="507.5" y1="144.4" x2="507.6" y2="132.8"><stop stop-color="#5af7ff"/><stop offset="1" stop-color="#5affd9"/></linearGradient><linearGradient id="B772" gradientUnits="userSpaceOnUse" x1="494.7" y1="144.7" x2="494.9" y2="133.2"><stop stop-color="#5cf5ff"/><stop offset="1" stop-color="#5cffdb"/></linearGradient><linearGradient id="B773" gradientUnits="userSpaceOnUse" x1="578.3" y1="152.9" x2="577.5" y2="140.9"><stop stop-color="#4cc6ff"/><stop offset="1" stop-color="#4cfcff"/></linearGradient><linearGradient id="B774" gradientUnits="userSpaceOnUse" x1="565.4" y1="151.9" x2="564.8" y2="139.9"><stop stop-color="#4fcfff"/><stop offset="1" stop-color="#4ffffb"/></linearGradient><linearGradient id="B775" gradientUnits="userSpaceOnUse" x1="552.6" y1="151.1" x2="552.1" y2="139.2"><stop stop-color="#51d6ff"/><stop offset="1" stop-color="#51fff5"/></linearGradient><linearGradient id="B776" gradientUnits="userSpaceOnUse" x1="539.7" y1="150.6" x2="539.4" y2="138.7"><stop stop-color="#54dbff"/><stop offset="1" stop-color="#54fff1"/></linearGradient><linearGradient id="B777" gradientUnits="userSpaceOnUse" x1="526.8" y1="150.3" x2="526.7" y2="138.4"><stop stop-color="#56deff"/><stop offset="1" stop-color="#56ffef"/></linearGradient><linearGradient id="B778" gradientUnits="userSpaceOnUse" x1="514" y1="150.2" x2="513.9" y2="138.4"><stop stop-color="#59dfff"/><stop offset="1" stop-color="#59ffef"/></linearGradient><linearGradient id="B779" gradientUnits="userSpaceOnUse" x1="501.1" y1="150.4" x2="501.2" y2="138.7"><stop stop-color="#5bdeff"/><stop offset="1" stop-color="#5bfff1"/></linearGradient><linearGradient id="B780" gradientUnits="userSpaceOnUse" x1="572.2" y1="158.6" x2="571.4" y2="146.3"><stop stop-color="#4eb0ff"/><stop offset="1" stop-color="#4ee6ff"/></linearGradient><linearGradient id="B781" gradientUnits="userSpaceOnUse" x1="559.2" y1="157.7" x2="558.7" y2="145.4"><stop stop-color="#51b8ff"/><stop offset="1" stop-color="#51edff"/></linearGradient><linearGradient id="B782" gradientUnits="userSpaceOnUse" x1="546.3" y1="157" x2="545.9" y2="144.8"><stop stop-color="#53bfff"/><stop offset="1" stop-color="#53f2ff"/></linearGradient><linearGradient id="B783" gradientUnits="userSpaceOnUse" x1="533.4" y1="156.5" x2="533.1" y2="144.4"><stop stop-color="#56c3ff"/><stop offset="1" stop-color="#56f5ff"/></linearGradient><linearGradient id="B784" gradientUnits="userSpaceOnUse" x1="520.4" y1="156.3" x2="520.3" y2="144.3"><stop stop-color="#58c6ff"/><stop offset="1" stop-color="#58f7ff"/></linearGradient><linearGradient id="B785" gradientUnits="userSpaceOnUse" x1="507.5" y1="156.4" x2="507.5" y2="144.4"><stop stop-color="#5bc7ff"/><stop offset="1" stop-color="#5bf7ff"/></linearGradient><linearGradient id="B786" gradientUnits="userSpaceOnUse" x1="566" y1="164.4" x2="565.3" y2="151.9"><stop stop-color="#5099ff"/><stop offset="1" stop-color="#50cfff"/></linearGradient><linearGradient id="B787" gradientUnits="userSpaceOnUse" x1="553" y1="163.6" x2="552.5" y2="151.1"><stop stop-color="#52a1ff"/><stop offset="1" stop-color="#52d6ff"/></linearGradient><linearGradient id="B788" gradientUnits="userSpaceOnUse" x1="540" y1="163" x2="539.6" y2="150.6"><stop stop-color="#55a7ff"/><stop offset="1" stop-color="#55dbff"/></linearGradient><linearGradient id="B789" gradientUnits="userSpaceOnUse" x1="527" y1="162.6" x2="526.8" y2="150.3"><stop stop-color="#57abff"/><stop offset="1" stop-color="#57deff"/></linearGradient><linearGradient id="B790" gradientUnits="userSpaceOnUse" x1="514" y1="162.6" x2="513.9" y2="150.2"><stop stop-color="#5aaeff"/><stop offset="1" stop-color="#5adfff"/></linearGradient><linearGradient id="B791" gradientUnits="userSpaceOnUse" x1="559.7" y1="170.4" x2="559.1" y2="157.7"><stop stop-color="#5183ff"/><stop offset="1" stop-color="#51b9ff"/></linearGradient><linearGradient id="B792" gradientUnits="userSpaceOnUse" x1="546.7" y1="169.7" x2="546.2" y2="157"><stop stop-color="#548aff"/><stop offset="1" stop-color="#54bfff"/></linearGradient><linearGradient id="B793" gradientUnits="userSpaceOnUse" x1="533.6" y1="169.2" x2="533.3" y2="156.5"><stop stop-color="#568fff"/><stop offset="1" stop-color="#56c3ff"/></linearGradient><linearGradient id="B794" gradientUnits="userSpaceOnUse" x1="520.5" y1="168.9" x2="520.3" y2="156.3"><stop stop-color="#5993ff"/><stop offset="1" stop-color="#59c6ff"/></linearGradient><linearGradient id="B795" gradientUnits="userSpaceOnUse" x1="553.4" y1="176.6" x2="552.8" y2="163.6"><stop stop-color="#536bff"/><stop offset="1" stop-color="#53a2ff"/></linearGradient><linearGradient id="B796" gradientUnits="userSpaceOnUse" x1="540.3" y1="175.9" x2="539.9" y2="163"><stop stop-color="#5672ff"/><stop offset="1" stop-color="#56a8ff"/></linearGradient><linearGradient id="B797" gradientUnits="userSpaceOnUse" x1="527.1" y1="175.5" x2="526.9" y2="162.6"><stop stop-color="#5878ff"/><stop offset="1" stop-color="#58acff"/></linearGradient><linearGradient id="B798" gradientUnits="userSpaceOnUse" x1="547.1" y1="182.9" x2="546.5" y2="169.7"><stop stop-color="#5655ff"/><stop offset="1" stop-color="#558bff"/></linearGradient><linearGradient id="B799" gradientUnits="userSpaceOnUse" x1="533.8" y1="182.4" x2="533.5" y2="169.2"><stop stop-color="#575bff"/><stop offset="1" stop-color="#5790ff"/></linearGradient><linearGradient id="B800" gradientUnits="userSpaceOnUse" x1="540.6" y1="189.4" x2="540.1" y2="175.9"><stop stop-color="#7157ff"/><stop offset="1" stop-color="#5773ff"/></linearGradient><linearGradient id="C801" gradientUnits="userSpaceOnUse" x1="286.6" y1="350.7" x2="285.8" y2="347.1"><stop stop-color="#ff832b"/><stop offset="1" stop-color="#ff772b"/></linearGradient><linearGradient id="C802" gradientUnits="userSpaceOnUse" x1="291.9" y1="353.2" x2="291.1" y2="349.5"><stop stop-color="#ff8f2a"/><stop offset="1" stop-color="#ff812a"/></linearGradient><linearGradient id="C803" gradientUnits="userSpaceOnUse" x1="281.4" y1="352.1" x2="280.7" y2="348.5"><stop stop-color="#ff852c"/><stop offset="1" stop-color="#ff782c"/></linearGradient><linearGradient id="C804" gradientUnits="userSpaceOnUse" x1="297.3" y1="355.9" x2="296.4" y2="352"><stop stop-color="#ff9d28"/><stop offset="1" stop-color="#ff8e28"/></linearGradient><linearGradient id="C805" gradientUnits="userSpaceOnUse" x1="286.8" y1="354.7" x2="286" y2="350.8"><stop stop-color="#ff912b"/><stop offset="1" stop-color="#ff832b"/></linearGradient><linearGradient id="C806" gradientUnits="userSpaceOnUse" x1="276.2" y1="353.7" x2="275.6" y2="349.9"><stop stop-color="#ff882d"/><stop offset="1" stop-color="#ff7b2d"/></linearGradient><linearGradient id="C807" gradientUnits="userSpaceOnUse" x1="302.7" y1="358.8" x2="301.7" y2="354.7"><stop stop-color="#ffac27"/><stop offset="1" stop-color="#ff9c27"/></linearGradient><linearGradient id="C808" gradientUnits="userSpaceOnUse" x1="292.1" y1="357.4" x2="291.3" y2="353.3"><stop stop-color="#ff9f2a"/><stop offset="1" stop-color="#ff8f2a"/></linearGradient><linearGradient id="C809" gradientUnits="userSpaceOnUse" x1="281.6" y1="356.2" x2="280.9" y2="352.2"><stop stop-color="#ff942c"/><stop offset="1" stop-color="#ff852c"/></linearGradient><linearGradient id="C810" gradientUnits="userSpaceOnUse" x1="271" y1="355.3" x2="270.4" y2="351.4"><stop stop-color="#ff8c2f"/><stop offset="1" stop-color="#ff7e2f"/></linearGradient><linearGradient id="C811" gradientUnits="userSpaceOnUse" x1="308.2" y1="361.8" x2="307.1" y2="357.5"><stop stop-color="#ffbd26"/><stop offset="1" stop-color="#ffab26"/></linearGradient><linearGradient id="C812" gradientUnits="userSpaceOnUse" x1="297.6" y1="360.2" x2="296.6" y2="356"><stop stop-color="#ffae29"/><stop offset="1" stop-color="#ff9d29"/></linearGradient><linearGradient id="C813" gradientUnits="userSpaceOnUse" x1="286.9" y1="358.9" x2="286.2" y2="354.8"><stop stop-color="#ffa22b"/><stop offset="1" stop-color="#ff922b"/></linearGradient><linearGradient id="C814" gradientUnits="userSpaceOnUse" x1="276.3" y1="357.8" x2="275.7" y2="353.8"><stop stop-color="#ff982e"/><stop offset="1" stop-color="#ff882e"/></linearGradient><linearGradient id="C815" gradientUnits="userSpaceOnUse" x1="265.7" y1="357" x2="265.1" y2="352.9"><stop stop-color="#ff9030"/><stop offset="1" stop-color="#ff8230"/></linearGradient><linearGradient id="C816" gradientUnits="userSpaceOnUse" x1="313.7" y1="365" x2="312.6" y2="360.5"><stop stop-color="#ffd025"/><stop offset="1" stop-color="#ffbc25"/></linearGradient><linearGradient id="C817" gradientUnits="userSpaceOnUse" x1="303" y1="363.3" x2="302" y2="358.9"><stop stop-color="#ffbf28"/><stop offset="1" stop-color="#ffac28"/></linearGradient><linearGradient id="C818" gradientUnits="userSpaceOnUse" x1="292.4" y1="361.8" x2="291.5" y2="357.5"><stop stop-color="#ffb12a"/><stop offset="1" stop-color="#ff9f2a"/></linearGradient><linearGradient id="C819" gradientUnits="userSpaceOnUse" x1="281.7" y1="360.6" x2="281" y2="356.3"><stop stop-color="#ffa52d"/><stop offset="1" stop-color="#ff942d"/></linearGradient><linearGradient id="C820" gradientUnits="userSpaceOnUse" x1="271" y1="359.6" x2="270.4" y2="355.4"><stop stop-color="#ff9c2f"/><stop offset="1" stop-color="#ff8c2f"/></linearGradient><linearGradient id="C821" gradientUnits="userSpaceOnUse" x1="260.3" y1="358.8" x2="259.8" y2="354.6"><stop stop-color="#ff9532"/><stop offset="1" stop-color="#ff8632"/></linearGradient><linearGradient id="C822" gradientUnits="userSpaceOnUse" x1="319.3" y1="368.3" x2="318.1" y2="363.7"><stop stop-color="#ffe424"/><stop offset="1" stop-color="#ffcf24"/></linearGradient><linearGradient id="C823" gradientUnits="userSpaceOnUse" x1="308.6" y1="366.5" x2="307.5" y2="361.9"><stop stop-color="#ffd127"/><stop offset="1" stop-color="#ffbd27"/></linearGradient><linearGradient id="C824" gradientUnits="userSpaceOnUse" x1="297.9" y1="364.9" x2="296.9" y2="360.4"><stop stop-color="#ffc129"/><stop offset="1" stop-color="#ffae29"/></linearGradient><linearGradient id="C825" gradientUnits="userSpaceOnUse" x1="287.1" y1="363.5" x2="286.3" y2="359"><stop stop-color="#ffb42c"/><stop offset="1" stop-color="#ffa22c"/></linearGradient><linearGradient id="C826" gradientUnits="userSpaceOnUse" x1="276.4" y1="362.3" x2="275.7" y2="357.9"><stop stop-color="#ffa92e"/><stop offset="1" stop-color="#ff982e"/></linearGradient><linearGradient id="C827" gradientUnits="userSpaceOnUse" x1="265.6" y1="361.4" x2="265.1" y2="357"><stop stop-color="#ffa130"/><stop offset="1" stop-color="#ff9030"/></linearGradient><linearGradient id="C828" gradientUnits="userSpaceOnUse" x1="254.9" y1="360.6" x2="254.5" y2="356.4"><stop stop-color="#ff9a33"/><stop offset="1" stop-color="#ff8b33"/></linearGradient><linearGradient id="C829" gradientUnits="userSpaceOnUse" x1="324.9" y1="371.9" x2="323.6" y2="367.1"><stop stop-color="#fffa23"/><stop offset="1" stop-color="#ffe323"/></linearGradient><linearGradient id="C830" gradientUnits="userSpaceOnUse" x1="314.2" y1="369.9" x2="313" y2="365.1"><stop stop-color="#ffe526"/><stop offset="1" stop-color="#ffd026"/></linearGradient><linearGradient id="C831" gradientUnits="userSpaceOnUse" x1="303.4" y1="368.1" x2="302.4" y2="363.4"><stop stop-color="#ffd428"/><stop offset="1" stop-color="#ffbf28"/></linearGradient><linearGradient id="C832" gradientUnits="userSpaceOnUse" x1="292.6" y1="366.6" x2="291.7" y2="361.9"><stop stop-color="#ffc52b"/><stop offset="1" stop-color="#ffb12b"/></linearGradient><linearGradient id="C833" gradientUnits="userSpaceOnUse" x1="281.8" y1="365.2" x2="281.1" y2="360.7"><stop stop-color="#ffb82d"/><stop offset="1" stop-color="#ffa52d"/></linearGradient><linearGradient id="C834" gradientUnits="userSpaceOnUse" x1="271" y1="364.1" x2="270.4" y2="359.6"><stop stop-color="#ffae2f"/><stop offset="1" stop-color="#ff9c2f"/></linearGradient><linearGradient id="C835" gradientUnits="userSpaceOnUse" x1="260.2" y1="363.3" x2="259.7" y2="358.8"><stop stop-color="#ffa632"/><stop offset="1" stop-color="#ff9532"/></linearGradient><linearGradient id="C836" gradientUnits="userSpaceOnUse" x1="330.6" y1="375.6" x2="329.2" y2="370.6"><stop stop-color="#edff22"/><stop offset="1" stop-color="#fff922"/></linearGradient><linearGradient id="C837" gradientUnits="userSpaceOnUse" x1="249.4" y1="362.6" x2="249" y2="358.2"><stop stop-color="#ffa034"/><stop offset="1" stop-color="#ff9034"/></linearGradient><linearGradient id="C838" gradientUnits="userSpaceOnUse" x1="319.8" y1="373.4" x2="318.6" y2="368.5"><stop stop-color="#fffb25"/><stop offset="1" stop-color="#ffe425"/></linearGradient><linearGradient id="C839" gradientUnits="userSpaceOnUse" x1="309" y1="371.5" x2="307.9" y2="366.7"><stop stop-color="#ffe827"/><stop offset="1" stop-color="#ffd227"/></linearGradient><linearGradient id="C840" gradientUnits="userSpaceOnUse" x1="298.2" y1="369.8" x2="297.2" y2="365"><stop stop-color="#ffd72a"/><stop offset="1" stop-color="#ffc22a"/></linearGradient><linearGradient id="C841" gradientUnits="userSpaceOnUse" x1="287.3" y1="368.3" x2="286.5" y2="363.6"><stop stop-color="#ffc82c"/><stop offset="1" stop-color="#ffb42c"/></linearGradient><linearGradient id="C842" gradientUnits="userSpaceOnUse" x1="276.5" y1="367.1" x2="275.8" y2="362.4"><stop stop-color="#ffbc2e"/><stop offset="1" stop-color="#ffa92e"/></linearGradient><linearGradient id="C843" gradientUnits="userSpaceOnUse" x1="336.3" y1="379.5" x2="334.9" y2="374.3"><stop stop-color="#d4ff21"/><stop offset="1" stop-color="#edff21"/></linearGradient><linearGradient id="C844" gradientUnits="userSpaceOnUse" x1="265.6" y1="366" x2="265" y2="361.4"><stop stop-color="#ffb331"/><stop offset="1" stop-color="#ffa131"/></linearGradient><linearGradient id="C845" gradientUnits="userSpaceOnUse" x1="254.7" y1="365.2" x2="254.3" y2="360.7"><stop stop-color="#ffac33"/><stop offset="1" stop-color="#ff9b33"/></linearGradient><linearGradient id="C846" gradientUnits="userSpaceOnUse" x1="325.5" y1="377.2" x2="324.2" y2="372.1"><stop stop-color="#ecff24"/><stop offset="1" stop-color="#fffa24"/></linearGradient><linearGradient id="C847" gradientUnits="userSpaceOnUse" x1="243.8" y1="364.7" x2="243.5" y2="360.2"><stop stop-color="#ffa736"/><stop offset="1" stop-color="#ff9736"/></linearGradient><linearGradient id="C848" gradientUnits="userSpaceOnUse" x1="314.7" y1="375.1" x2="313.5" y2="370"><stop stop-color="#fffd26"/><stop offset="1" stop-color="#ffe526"/></linearGradient><linearGradient id="C849" gradientUnits="userSpaceOnUse" x1="303.8" y1="373.3" x2="302.7" y2="368.3"><stop stop-color="#ffea29"/><stop offset="1" stop-color="#ffd429"/></linearGradient><linearGradient id="C850" gradientUnits="userSpaceOnUse" x1="292.9" y1="371.6" x2="292" y2="366.7"><stop stop-color="#ffda2b"/><stop offset="1" stop-color="#ffc52b"/></linearGradient><linearGradient id="C851" gradientUnits="userSpaceOnUse" x1="282" y1="370.2" x2="281.2" y2="365.3"><stop stop-color="#ffcd2d"/><stop offset="1" stop-color="#ffb82d"/></linearGradient><linearGradient id="C852" gradientUnits="userSpaceOnUse" x1="342.1" y1="383.6" x2="340.6" y2="378.2"><stop stop-color="#b9ff20"/><stop offset="1" stop-color="#d4ff20"/></linearGradient><linearGradient id="C853" gradientUnits="userSpaceOnUse" x1="271.1" y1="369" x2="270.4" y2="364.2"><stop stop-color="#ffc230"/><stop offset="1" stop-color="#ffae30"/></linearGradient><linearGradient id="C854" gradientUnits="userSpaceOnUse" x1="260.1" y1="368.1" x2="259.6" y2="363.3"><stop stop-color="#ffb932"/><stop offset="1" stop-color="#ffa632"/></linearGradient><linearGradient id="C855" gradientUnits="userSpaceOnUse" x1="331.3" y1="381.1" x2="329.8" y2="375.8"><stop stop-color="#d3ff23"/><stop offset="1" stop-color="#edff23"/></linearGradient><linearGradient id="C856" gradientUnits="userSpaceOnUse" x1="249.2" y1="367.3" x2="248.8" y2="362.6"><stop stop-color="#ffb335"/><stop offset="1" stop-color="#ffa135"/></linearGradient><linearGradient id="C857" gradientUnits="userSpaceOnUse" x1="238.2" y1="366.8" x2="238" y2="362.2"><stop stop-color="#ffae37"/><stop offset="1" stop-color="#ff9d37"/></linearGradient><linearGradient id="C858" gradientUnits="userSpaceOnUse" x1="320.4" y1="378.9" x2="319.1" y2="373.6"><stop stop-color="#eaff25"/><stop offset="1" stop-color="#fffb25"/></linearGradient><linearGradient id="C859" gradientUnits="userSpaceOnUse" x1="309.4" y1="376.9" x2="308.3" y2="371.7"><stop stop-color="#feff28"/><stop offset="1" stop-color="#ffe828"/></linearGradient><linearGradient id="C860" gradientUnits="userSpaceOnUse" x1="298.5" y1="375.1" x2="297.5" y2="370"><stop stop-color="#ffee2a"/><stop offset="1" stop-color="#ffd72a"/></linearGradient><linearGradient id="C861" gradientUnits="userSpaceOnUse" x1="348" y1="387.8" x2="346.3" y2="382.3"><stop stop-color="#9cff1f"/><stop offset="1" stop-color="#b9ff1f"/></linearGradient><linearGradient id="C862" gradientUnits="userSpaceOnUse" x1="287.5" y1="373.5" x2="286.7" y2="368.5"><stop stop-color="#ffde2c"/><stop offset="1" stop-color="#ffc82c"/></linearGradient><linearGradient id="C863" gradientUnits="userSpaceOnUse" x1="276.6" y1="372.2" x2="275.8" y2="367.2"><stop stop-color="#ffd22f"/><stop offset="1" stop-color="#ffbd2f"/></linearGradient><linearGradient id="C864" gradientUnits="userSpaceOnUse" x1="337.1" y1="385.2" x2="335.6" y2="379.7"><stop stop-color="#b8ff22"/><stop offset="1" stop-color="#d4ff22"/></linearGradient><linearGradient id="C865" gradientUnits="userSpaceOnUse" x1="265.6" y1="371.1" x2="265" y2="366.1"><stop stop-color="#ffc731"/><stop offset="1" stop-color="#ffb331"/></linearGradient><linearGradient id="C866" gradientUnits="userSpaceOnUse" x1="254.6" y1="370.2" x2="254.1" y2="365.3"><stop stop-color="#ffbf34"/><stop offset="1" stop-color="#ffac34"/></linearGradient><linearGradient id="C867" gradientUnits="userSpaceOnUse" x1="326.1" y1="382.8" x2="324.8" y2="377.4"><stop stop-color="#d1ff24"/><stop offset="1" stop-color="#ecff24"/></linearGradient><linearGradient id="C868" gradientUnits="userSpaceOnUse" x1="243.6" y1="369.5" x2="243.2" y2="364.7"><stop stop-color="#ffba36"/><stop offset="1" stop-color="#ffa736"/></linearGradient><linearGradient id="C869" gradientUnits="userSpaceOnUse" x1="232.6" y1="369.1" x2="232.3" y2="364.3"><stop stop-color="#ffb638"/><stop offset="1" stop-color="#ffa538"/></linearGradient><linearGradient id="C870" gradientUnits="userSpaceOnUse" x1="315.2" y1="380.7" x2="313.9" y2="375.3"><stop stop-color="#e7ff27"/><stop offset="1" stop-color="#fffd27"/></linearGradient><linearGradient id="C871" gradientUnits="userSpaceOnUse" x1="304.2" y1="378.7" x2="303.1" y2="373.4"><stop stop-color="#fbff29"/><stop offset="1" stop-color="#ffea29"/></linearGradient><linearGradient id="C872" gradientUnits="userSpaceOnUse" x1="353.9" y1="392.3" x2="352.1" y2="386.5"><stop stop-color="#7eff1e"/><stop offset="1" stop-color="#9cff1e"/></linearGradient><linearGradient id="C873" gradientUnits="userSpaceOnUse" x1="293.2" y1="377" x2="292.2" y2="371.7"><stop stop-color="#fff22b"/><stop offset="1" stop-color="#ffda2b"/></linearGradient><linearGradient id="C874" gradientUnits="userSpaceOnUse" x1="342.9" y1="389.5" x2="341.3" y2="383.8"><stop stop-color="#9cff21"/><stop offset="1" stop-color="#b9ff21"/></linearGradient><linearGradient id="C875" gradientUnits="userSpaceOnUse" x1="282.1" y1="375.5" x2="281.3" y2="370.3"><stop stop-color="#ffe32e"/><stop offset="1" stop-color="#ffcd2e"/></linearGradient><linearGradient id="C876" gradientUnits="userSpaceOnUse" x1="271.1" y1="374.2" x2="270.4" y2="369.1"><stop stop-color="#ffd730"/><stop offset="1" stop-color="#ffc230"/></linearGradient><linearGradient id="C877" gradientUnits="userSpaceOnUse" x1="331.9" y1="387" x2="330.5" y2="381.3"><stop stop-color="#b7ff23"/><stop offset="1" stop-color="#d3ff23"/></linearGradient><linearGradient id="C878" gradientUnits="userSpaceOnUse" x1="260" y1="373.2" x2="259.5" y2="368.1"><stop stop-color="#ffce33"/><stop offset="1" stop-color="#ffb933"/></linearGradient><linearGradient id="C879" gradientUnits="userSpaceOnUse" x1="249" y1="372.4" x2="248.5" y2="367.4"><stop stop-color="#ffc635"/><stop offset="1" stop-color="#ffb335"/></linearGradient><linearGradient id="C880" gradientUnits="userSpaceOnUse" x1="320.9" y1="384.6" x2="319.6" y2="379.1"><stop stop-color="#cfff25"/><stop offset="1" stop-color="#eaff25"/></linearGradient><linearGradient id="C881" gradientUnits="userSpaceOnUse" x1="237.9" y1="371.8" x2="237.6" y2="366.9"><stop stop-color="#ffc137"/><stop offset="1" stop-color="#ffaf37"/></linearGradient><linearGradient id="C882" gradientUnits="userSpaceOnUse" x1="226.8" y1="371.4" x2="226.6" y2="366.6"><stop stop-color="#ffbf3a"/><stop offset="1" stop-color="#ffad3a"/></linearGradient><linearGradient id="C883" gradientUnits="userSpaceOnUse" x1="359.9" y1="396.9" x2="358" y2="391"><stop stop-color="#5eff1d"/><stop offset="1" stop-color="#7dff1d"/></linearGradient><linearGradient id="C884" gradientUnits="userSpaceOnUse" x1="309.9" y1="382.5" x2="308.7" y2="377"><stop stop-color="#e4ff28"/><stop offset="1" stop-color="#feff28"/></linearGradient><linearGradient id="C885" gradientUnits="userSpaceOnUse" x1="298.8" y1="380.7" x2="297.8" y2="375.2"><stop stop-color="#f7ff2a"/><stop offset="1" stop-color="#ffee2a"/></linearGradient><linearGradient id="C886" gradientUnits="userSpaceOnUse" x1="348.9" y1="394" x2="347.1" y2="388.1"><stop stop-color="#7eff20"/><stop offset="1" stop-color="#9cff20"/></linearGradient><linearGradient id="C887" gradientUnits="userSpaceOnUse" x1="287.8" y1="379" x2="286.8" y2="373.6"><stop stop-color="#fff72d"/><stop offset="1" stop-color="#ffdf2d"/></linearGradient><linearGradient id="C888" gradientUnits="userSpaceOnUse" x1="276.7" y1="377.6" x2="275.9" y2="372.3"><stop stop-color="#ffe92f"/><stop offset="1" stop-color="#ffd22f"/></linearGradient><linearGradient id="C889" gradientUnits="userSpaceOnUse" x1="337.8" y1="391.3" x2="336.2" y2="385.4"><stop stop-color="#9bff22"/><stop offset="1" stop-color="#b8ff22"/></linearGradient><linearGradient id="C890" gradientUnits="userSpaceOnUse" x1="265.6" y1="376.4" x2="264.9" y2="371.1"><stop stop-color="#ffde32"/><stop offset="1" stop-color="#ffc732"/></linearGradient><linearGradient id="C891" gradientUnits="userSpaceOnUse" x1="326.8" y1="388.8" x2="325.3" y2="383"><stop stop-color="#b5ff24"/><stop offset="1" stop-color="#d1ff24"/></linearGradient><linearGradient id="C892" gradientUnits="userSpaceOnUse" x1="254.4" y1="375.4" x2="253.9" y2="370.2"><stop stop-color="#ffd534"/><stop offset="1" stop-color="#ffc034"/></linearGradient><linearGradient id="C893" gradientUnits="userSpaceOnUse" x1="243.3" y1="374.7" x2="242.9" y2="369.6"><stop stop-color="#ffce36"/><stop offset="1" stop-color="#ffba36"/></linearGradient><linearGradient id="C894" gradientUnits="userSpaceOnUse" x1="365.9" y1="401.7" x2="363.9" y2="395.6"><stop stop-color="#3cff1c"/><stop offset="1" stop-color="#5dff1c"/></linearGradient><linearGradient id="C895" gradientUnits="userSpaceOnUse" x1="232.2" y1="374.2" x2="231.9" y2="369.1"><stop stop-color="#ffca39"/><stop offset="1" stop-color="#ffb639"/></linearGradient><linearGradient id="C896" gradientUnits="userSpaceOnUse" x1="315.7" y1="386.5" x2="314.4" y2="380.8"><stop stop-color="#ccff27"/><stop offset="1" stop-color="#e8ff27"/></linearGradient><linearGradient id="C897" gradientUnits="userSpaceOnUse" x1="221" y1="373.9" x2="220.9" y2="368.9"><stop stop-color="#ffc73b"/><stop offset="1" stop-color="#ffb53b"/></linearGradient><linearGradient id="C898" gradientUnits="userSpaceOnUse" x1="304.6" y1="384.5" x2="303.4" y2="378.9"><stop stop-color="#e1ff29"/><stop offset="1" stop-color="#fbff29"/></linearGradient><linearGradient id="C899" gradientUnits="userSpaceOnUse" x1="354.8" y1="398.7" x2="353" y2="392.6"><stop stop-color="#5eff1f"/><stop offset="1" stop-color="#7eff1f"/></linearGradient><linearGradient id="C900" gradientUnits="userSpaceOnUse" x1="293.4" y1="382.7" x2="292.4" y2="377.1"><stop stop-color="#f3ff2c"/><stop offset="1" stop-color="#fff22c"/></linearGradient><linearGradient id="C901" gradientUnits="userSpaceOnUse" x1="343.8" y1="395.8" x2="342.1" y2="389.8"><stop stop-color="#7dff21"/><stop offset="1" stop-color="#9cff21"/></linearGradient><linearGradient id="C902" gradientUnits="userSpaceOnUse" x1="282.3" y1="381.1" x2="281.4" y2="375.6"><stop stop-color="#fffc2e"/><stop offset="1" stop-color="#ffe32e"/></linearGradient><linearGradient id="C903" gradientUnits="userSpaceOnUse" x1="271.1" y1="379.8" x2="270.4" y2="374.3"><stop stop-color="#ffef31"/><stop offset="1" stop-color="#ffd731"/></linearGradient><linearGradient id="C904" gradientUnits="userSpaceOnUse" x1="332.6" y1="393.2" x2="331.1" y2="387.2"><stop stop-color="#99ff23"/><stop offset="1" stop-color="#b7ff23"/></linearGradient><linearGradient id="C905" gradientUnits="userSpaceOnUse" x1="260" y1="378.6" x2="259.3" y2="373.3"><stop stop-color="#ffe433"/><stop offset="1" stop-color="#ffce33"/></linearGradient><linearGradient id="C906" gradientUnits="userSpaceOnUse" x1="371.9" y1="406.7" x2="369.8" y2="400.4"><stop stop-color="#1bff1e"/><stop offset="1" stop-color="#3bff1b"/></linearGradient><linearGradient id="C907" gradientUnits="userSpaceOnUse" x1="248.8" y1="377.7" x2="248.3" y2="372.4"><stop stop-color="#ffdc35"/><stop offset="1" stop-color="#ffc735"/></linearGradient><linearGradient id="C908" gradientUnits="userSpaceOnUse" x1="321.5" y1="390.7" x2="320.1" y2="384.8"><stop stop-color="#b2ff26"/><stop offset="1" stop-color="#cfff26"/></linearGradient><linearGradient id="C909" gradientUnits="userSpaceOnUse" x1="237.6" y1="377.1" x2="237.2" y2="371.8"><stop stop-color="#ffd638"/><stop offset="1" stop-color="#ffc238"/></linearGradient><linearGradient id="C910" gradientUnits="userSpaceOnUse" x1="226.4" y1="376.6" x2="226.1" y2="371.5"><stop stop-color="#ffd23a"/><stop offset="1" stop-color="#ffbf3a"/></linearGradient><linearGradient id="C911" gradientUnits="userSpaceOnUse" x1="360.8" y1="403.5" x2="358.9" y2="397.2"><stop stop-color="#3cff1e"/><stop offset="1" stop-color="#5eff1e"/></linearGradient><linearGradient id="C912" gradientUnits="userSpaceOnUse" x1="215.2" y1="376.4" x2="215.1" y2="371.3"><stop stop-color="#ffd13d"/><stop offset="1" stop-color="#ffbe3d"/></linearGradient><linearGradient id="C913" gradientUnits="userSpaceOnUse" x1="310.4" y1="388.5" x2="309.1" y2="382.7"><stop stop-color="#c8ff28"/><stop offset="1" stop-color="#e4ff28"/></linearGradient><linearGradient id="C914" gradientUnits="userSpaceOnUse" x1="299.2" y1="386.6" x2="298.1" y2="380.8"><stop stop-color="#dcff2b"/><stop offset="1" stop-color="#f7ff2b"/></linearGradient><linearGradient id="C915" gradientUnits="userSpaceOnUse" x1="349.7" y1="400.5" x2="347.9" y2="394.3"><stop stop-color="#5dff20"/><stop offset="1" stop-color="#7eff20"/></linearGradient><linearGradient id="C916" gradientUnits="userSpaceOnUse" x1="288" y1="384.8" x2="287" y2="379.1"><stop stop-color="#eeff2d"/><stop offset="1" stop-color="#fff72d"/></linearGradient><linearGradient id="C917" gradientUnits="userSpaceOnUse" x1="338.6" y1="397.7" x2="337" y2="391.5"><stop stop-color="#7bff22"/><stop offset="1" stop-color="#9bff22"/></linearGradient><linearGradient id="C918" gradientUnits="userSpaceOnUse" x1="276.8" y1="383.3" x2="275.9" y2="377.7"><stop stop-color="#fcff30"/><stop offset="1" stop-color="#ffe930"/></linearGradient><linearGradient id="C919" gradientUnits="userSpaceOnUse" x1="378" y1="412" x2="375.8" y2="405.4"><stop stop-color="#1aff42"/><stop offset="1" stop-color="#1aff1d"/></linearGradient><linearGradient id="C920" gradientUnits="userSpaceOnUse" x1="265.5" y1="382" x2="264.8" y2="376.5"><stop stop-color="#fff632"/><stop offset="1" stop-color="#ffde32"/></linearGradient><linearGradient id="C921" gradientUnits="userSpaceOnUse" x1="327.4" y1="395.1" x2="325.9" y2="389"><stop stop-color="#96ff25"/><stop offset="1" stop-color="#b5ff25"/></linearGradient><linearGradient id="C922" gradientUnits="userSpaceOnUse" x1="254.3" y1="381" x2="253.7" y2="375.5"><stop stop-color="#ffec34"/><stop offset="1" stop-color="#ffd534"/></linearGradient><linearGradient id="C923" gradientUnits="userSpaceOnUse" x1="366.9" y1="408.6" x2="364.8" y2="402.1"><stop stop-color="#1dff20"/><stop offset="1" stop-color="#3cff1d"/></linearGradient><linearGradient id="C924" gradientUnits="userSpaceOnUse" x1="243" y1="380.2" x2="242.6" y2="374.7"><stop stop-color="#ffe437"/><stop offset="1" stop-color="#ffce37"/></linearGradient><linearGradient id="C925" gradientUnits="userSpaceOnUse" x1="316.2" y1="392.8" x2="314.9" y2="386.7"><stop stop-color="#afff27"/><stop offset="1" stop-color="#ccff27"/></linearGradient><linearGradient id="C926" gradientUnits="userSpaceOnUse" x1="231.8" y1="379.6" x2="231.5" y2="374.2"><stop stop-color="#ffdf39"/><stop offset="1" stop-color="#ffca39"/></linearGradient><linearGradient id="C927" gradientUnits="userSpaceOnUse" x1="220.5" y1="379.2" x2="220.3" y2="373.9"><stop stop-color="#ffdc3c"/><stop offset="1" stop-color="#ffc73c"/></linearGradient><linearGradient id="C928" gradientUnits="userSpaceOnUse" x1="209.2" y1="379.1" x2="209.2" y2="373.8"><stop stop-color="#ffdb3e"/><stop offset="1" stop-color="#ffc73e"/></linearGradient><linearGradient id="C929" gradientUnits="userSpaceOnUse" x1="355.8" y1="405.4" x2="353.9" y2="398.9"><stop stop-color="#3cff1f"/><stop offset="1" stop-color="#5eff1f"/></linearGradient><linearGradient id="C930" gradientUnits="userSpaceOnUse" x1="305" y1="390.6" x2="303.8" y2="384.7"><stop stop-color="#c4ff2a"/><stop offset="1" stop-color="#e1ff2a"/></linearGradient><linearGradient id="C931" gradientUnits="userSpaceOnUse" x1="293.7" y1="388.7" x2="292.7" y2="382.8"><stop stop-color="#d7ff2c"/><stop offset="1" stop-color="#f3ff2c"/></linearGradient><linearGradient id="C932" gradientUnits="userSpaceOnUse" x1="344.6" y1="402.4" x2="342.8" y2="396"><stop stop-color="#5cff21"/><stop offset="1" stop-color="#7dff21"/></linearGradient><linearGradient id="C933" gradientUnits="userSpaceOnUse" x1="384.2" y1="417.3" x2="381.8" y2="410.6"><stop stop-color="#19ff67"/><stop offset="1" stop-color="#19ff41"/></linearGradient><linearGradient id="C934" gradientUnits="userSpaceOnUse" x1="282.5" y1="387.1" x2="281.5" y2="381.2"><stop stop-color="#e8ff2f"/><stop offset="1" stop-color="#fffc2f"/></linearGradient><linearGradient id="C935" gradientUnits="userSpaceOnUse" x1="271.2" y1="385.6" x2="270.4" y2="379.9"><stop stop-color="#f6ff31"/><stop offset="1" stop-color="#ffef31"/></linearGradient><linearGradient id="C936" gradientUnits="userSpaceOnUse" x1="333.4" y1="399.7" x2="331.8" y2="393.4"><stop stop-color="#79ff24"/><stop offset="1" stop-color="#99ff24"/></linearGradient><linearGradient id="C937" gradientUnits="userSpaceOnUse" x1="373.1" y1="413.8" x2="370.8" y2="407.1"><stop stop-color="#1cff43"/><stop offset="1" stop-color="#1cff1e"/></linearGradient><linearGradient id="C938" gradientUnits="userSpaceOnUse" x1="259.9" y1="384.4" x2="259.2" y2="378.7"><stop stop-color="#fffd33"/><stop offset="1" stop-color="#ffe433"/></linearGradient><linearGradient id="C939" gradientUnits="userSpaceOnUse" x1="322.1" y1="397.2" x2="320.7" y2="390.9"><stop stop-color="#93ff26"/><stop offset="1" stop-color="#b2ff26"/></linearGradient><linearGradient id="C940" gradientUnits="userSpaceOnUse" x1="248.6" y1="383.4" x2="248" y2="377.8"><stop stop-color="#fff436"/><stop offset="1" stop-color="#ffdc36"/></linearGradient><linearGradient id="C941" gradientUnits="userSpaceOnUse" x1="237.2" y1="382.7" x2="236.8" y2="377.1"><stop stop-color="#ffed38"/><stop offset="1" stop-color="#ffd638"/></linearGradient><linearGradient id="C942" gradientUnits="userSpaceOnUse" x1="361.9" y1="410.5" x2="359.8" y2="403.8"><stop stop-color="#1eff23"/><stop offset="1" stop-color="#3cff1e"/></linearGradient><linearGradient id="C943" gradientUnits="userSpaceOnUse" x1="225.9" y1="382.2" x2="225.6" y2="376.7"><stop stop-color="#ffe83b"/><stop offset="1" stop-color="#ffd33b"/></linearGradient><linearGradient id="C944" gradientUnits="userSpaceOnUse" x1="310.8" y1="394.9" x2="309.5" y2="388.7"><stop stop-color="#abff29"/><stop offset="1" stop-color="#c9ff29"/></linearGradient><linearGradient id="C945" gradientUnits="userSpaceOnUse" x1="214.6" y1="381.9" x2="214.4" y2="376.5"><stop stop-color="#ffe63d"/><stop offset="1" stop-color="#ffd13d"/></linearGradient><linearGradient id="C946" gradientUnits="userSpaceOnUse" x1="203.2" y1="381.9" x2="203.2" y2="376.5"><stop stop-color="#ffe53f"/><stop offset="1" stop-color="#ffd13f"/></linearGradient><linearGradient id="C947" gradientUnits="userSpaceOnUse" x1="390.4" y1="422.9" x2="387.9" y2="416"><stop stop-color="#18ff8e"/><stop offset="1" stop-color="#18ff66"/></linearGradient><linearGradient id="C948" gradientUnits="userSpaceOnUse" x1="299.5" y1="392.8" x2="298.4" y2="386.7"><stop stop-color="#bfff2b"/><stop offset="1" stop-color="#dcff2b"/></linearGradient><linearGradient id="C949" gradientUnits="userSpaceOnUse" x1="350.6" y1="407.3" x2="348.8" y2="400.8"><stop stop-color="#3bff20"/><stop offset="1" stop-color="#5dff20"/></linearGradient><linearGradient id="C950" gradientUnits="userSpaceOnUse" x1="288.2" y1="391" x2="287.2" y2="385"><stop stop-color="#d2ff2d"/><stop offset="1" stop-color="#eeff2d"/></linearGradient><linearGradient id="C951" gradientUnits="userSpaceOnUse" x1="339.4" y1="404.4" x2="337.7" y2="397.9"><stop stop-color="#5aff23"/><stop offset="1" stop-color="#7bff23"/></linearGradient><linearGradient id="C952" gradientUnits="userSpaceOnUse" x1="379.2" y1="419.2" x2="376.9" y2="412.3"><stop stop-color="#1aff68"/><stop offset="1" stop-color="#1aff42"/></linearGradient><linearGradient id="C953" gradientUnits="userSpaceOnUse" x1="276.9" y1="389.4" x2="276" y2="383.4"><stop stop-color="#e1ff30"/><stop offset="1" stop-color="#fcff30"/></linearGradient><linearGradient id="C954" gradientUnits="userSpaceOnUse" x1="265.5" y1="388" x2="264.8" y2="382.1"><stop stop-color="#efff32"/><stop offset="1" stop-color="#fff632"/></linearGradient><linearGradient id="C955" gradientUnits="userSpaceOnUse" x1="328.1" y1="401.8" x2="326.5" y2="395.3"><stop stop-color="#76ff25"/><stop offset="1" stop-color="#96ff25"/></linearGradient><linearGradient id="C956" gradientUnits="userSpaceOnUse" x1="254.1" y1="386.9" x2="253.5" y2="381.1"><stop stop-color="#f9ff35"/><stop offset="1" stop-color="#ffec35"/></linearGradient><linearGradient id="C957" gradientUnits="userSpaceOnUse" x1="368" y1="415.7" x2="365.8" y2="408.9"><stop stop-color="#1dff46"/><stop offset="1" stop-color="#1dff21"/></linearGradient><linearGradient id="C958" gradientUnits="userSpaceOnUse" x1="242.8" y1="386" x2="242.3" y2="380.2"><stop stop-color="#fffc37"/><stop offset="1" stop-color="#ffe437"/></linearGradient><linearGradient id="C959" gradientUnits="userSpaceOnUse" x1="316.7" y1="399.3" x2="315.3" y2="392.9"><stop stop-color="#8fff28"/><stop offset="1" stop-color="#afff28"/></linearGradient><linearGradient id="C960" gradientUnits="userSpaceOnUse" x1="231.4" y1="385.3" x2="231" y2="379.6"><stop stop-color="#fff63a"/><stop offset="1" stop-color="#ffdf3a"/></linearGradient><linearGradient id="C961" gradientUnits="userSpaceOnUse" x1="396.7" y1="428.7" x2="394" y2="421.6"><stop stop-color="#17ffb7"/><stop offset="1" stop-color="#17ff8d"/></linearGradient><linearGradient id="C962" gradientUnits="userSpaceOnUse" x1="220" y1="384.9" x2="219.8" y2="379.2"><stop stop-color="#fff23c"/><stop offset="1" stop-color="#ffdc3c"/></linearGradient><linearGradient id="C963" gradientUnits="userSpaceOnUse" x1="356.7" y1="412.5" x2="354.7" y2="405.7"><stop stop-color="#1fff27"/><stop offset="1" stop-color="#3cff1f"/></linearGradient><linearGradient id="C964" gradientUnits="userSpaceOnUse" x1="208.6" y1="384.7" x2="208.5" y2="379.1"><stop stop-color="#fff03e"/><stop offset="1" stop-color="#ffdb3e"/></linearGradient><linearGradient id="C965" gradientUnits="userSpaceOnUse" x1="305.4" y1="397.1" x2="304.1" y2="390.8"><stop stop-color="#a6ff2a"/><stop offset="1" stop-color="#c4ff2a"/></linearGradient><linearGradient id="C966" gradientUnits="userSpaceOnUse" x1="197.2" y1="384.7" x2="197.2" y2="379.2"><stop stop-color="#fff041"/><stop offset="1" stop-color="#ffdc41"/></linearGradient><linearGradient id="C967" gradientUnits="userSpaceOnUse" x1="294" y1="395.1" x2="292.9" y2="388.9"><stop stop-color="#baff2c"/><stop offset="1" stop-color="#d7ff2c"/></linearGradient><linearGradient id="C968" gradientUnits="userSpaceOnUse" x1="385.5" y1="424.9" x2="383" y2="417.8"><stop stop-color="#19ff8f"/><stop offset="1" stop-color="#19ff67"/></linearGradient><linearGradient id="C969" gradientUnits="userSpaceOnUse" x1="345.4" y1="409.4" x2="343.6" y2="402.7"><stop stop-color="#39ff22"/><stop offset="1" stop-color="#5cff22"/></linearGradient><linearGradient id="C970" gradientUnits="userSpaceOnUse" x1="282.6" y1="393.4" x2="281.7" y2="387.2"><stop stop-color="#cbff2f"/><stop offset="1" stop-color="#e8ff2f"/></linearGradient><linearGradient id="C971" gradientUnits="userSpaceOnUse" x1="334.1" y1="406.6" x2="332.4" y2="399.9"><stop stop-color="#57ff24"/><stop offset="1" stop-color="#79ff24"/></linearGradient><linearGradient id="C972" gradientUnits="userSpaceOnUse" x1="271.2" y1="391.8" x2="270.4" y2="385.7"><stop stop-color="#daff31"/><stop offset="1" stop-color="#f6ff31"/></linearGradient><linearGradient id="C973" gradientUnits="userSpaceOnUse" x1="374.2" y1="421.2" x2="371.9" y2="414.2"><stop stop-color="#1cff6b"/><stop offset="1" stop-color="#1cff44"/></linearGradient><linearGradient id="C974" gradientUnits="userSpaceOnUse" x1="259.8" y1="390.5" x2="259.1" y2="384.5"><stop stop-color="#e7ff34"/><stop offset="1" stop-color="#fffd34"/></linearGradient><linearGradient id="C975" gradientUnits="userSpaceOnUse" x1="322.7" y1="404" x2="321.2" y2="397.4"><stop stop-color="#72ff27"/><stop offset="1" stop-color="#93ff27"/></linearGradient><linearGradient id="C976" gradientUnits="userSpaceOnUse" x1="248.4" y1="389.5" x2="247.8" y2="383.5"><stop stop-color="#f1ff36"/><stop offset="1" stop-color="#fff436"/></linearGradient><linearGradient id="C977" gradientUnits="userSpaceOnUse" x1="362.9" y1="417.8" x2="360.8" y2="410.8"><stop stop-color="#1eff49"/><stop offset="1" stop-color="#1eff24"/></linearGradient><linearGradient id="C978" gradientUnits="userSpaceOnUse" x1="236.9" y1="388.6" x2="236.5" y2="382.7"><stop stop-color="#f9ff39"/><stop offset="1" stop-color="#ffed39"/></linearGradient><linearGradient id="C979" gradientUnits="userSpaceOnUse" x1="311.3" y1="401.6" x2="310" y2="395.1"><stop stop-color="#8bff29"/><stop offset="1" stop-color="#abff29"/></linearGradient><linearGradient id="C980" gradientUnits="userSpaceOnUse" x1="225.4" y1="388.1" x2="225.1" y2="382.2"><stop stop-color="#feff3b"/><stop offset="1" stop-color="#ffe83b"/></linearGradient><linearGradient id="C981" gradientUnits="userSpaceOnUse" x1="214" y1="387.7" x2="213.8" y2="381.9"><stop stop-color="#fffc3d"/><stop offset="1" stop-color="#ffe63d"/></linearGradient><linearGradient id="C982" gradientUnits="userSpaceOnUse" x1="391.8" y1="430.7" x2="389.1" y2="423.4"><stop stop-color="#18ffb8"/><stop offset="1" stop-color="#18ff8e"/></linearGradient><linearGradient id="C983" gradientUnits="userSpaceOnUse" x1="202.5" y1="387.6" x2="202.5" y2="381.9"><stop stop-color="#fffb40"/><stop offset="1" stop-color="#ffe540"/></linearGradient><linearGradient id="C984" gradientUnits="userSpaceOnUse" x1="351.5" y1="414.6" x2="349.6" y2="407.6"><stop stop-color="#21ff2b"/><stop offset="1" stop-color="#3bff21"/></linearGradient><linearGradient id="C985" gradientUnits="userSpaceOnUse" x1="191.1" y1="387.7" x2="191.2" y2="382"><stop stop-color="#fffb42"/><stop offset="1" stop-color="#ffe642"/></linearGradient><linearGradient id="C986" gradientUnits="userSpaceOnUse" x1="299.9" y1="399.4" x2="298.7" y2="393"><stop stop-color="#a1ff2b"/><stop offset="1" stop-color="#c0ff2b"/></linearGradient><linearGradient id="C987" gradientUnits="userSpaceOnUse" x1="288.4" y1="397.5" x2="287.4" y2="391.1"><stop stop-color="#b4ff2e"/><stop offset="1" stop-color="#d2ff2e"/></linearGradient><linearGradient id="C988" gradientUnits="userSpaceOnUse" x1="340.2" y1="411.6" x2="338.4" y2="404.7"><stop stop-color="#36ff23"/><stop offset="1" stop-color="#5aff23"/></linearGradient><linearGradient id="C989" gradientUnits="userSpaceOnUse" x1="380.5" y1="426.9" x2="378" y2="419.6"><stop stop-color="#1bff91"/><stop offset="1" stop-color="#1bff69"/></linearGradient><linearGradient id="C990" gradientUnits="userSpaceOnUse" x1="277" y1="395.8" x2="276" y2="389.5"><stop stop-color="#c5ff30"/><stop offset="1" stop-color="#e1ff30"/></linearGradient><linearGradient id="C991" gradientUnits="userSpaceOnUse" x1="328.7" y1="408.8" x2="327.1" y2="402"><stop stop-color="#54ff26"/><stop offset="1" stop-color="#76ff26"/></linearGradient><linearGradient id="C992" gradientUnits="userSpaceOnUse" x1="265.5" y1="394.4" x2="264.7" y2="388.1"><stop stop-color="#d3ff33"/><stop offset="1" stop-color="#efff33"/></linearGradient><linearGradient id="C993" gradientUnits="userSpaceOnUse" x1="369.1" y1="423.3" x2="366.9" y2="416.1"><stop stop-color="#1dff6e"/><stop offset="1" stop-color="#1dff46"/></linearGradient><linearGradient id="C994" gradientUnits="userSpaceOnUse" x1="254" y1="393.1" x2="253.3" y2="387"><stop stop-color="#dfff35"/><stop offset="1" stop-color="#f9ff35"/></linearGradient><linearGradient id="C995" gradientUnits="userSpaceOnUse" x1="317.3" y1="406.3" x2="315.8" y2="399.5"><stop stop-color="#6eff28"/><stop offset="1" stop-color="#90ff28"/></linearGradient><linearGradient id="C996" gradientUnits="userSpaceOnUse" x1="242.5" y1="392.2" x2="242" y2="386.1"><stop stop-color="#e8ff38"/><stop offset="1" stop-color="#fffc38"/></linearGradient><linearGradient id="C997" gradientUnits="userSpaceOnUse" x1="231" y1="391.4" x2="230.6" y2="385.4"><stop stop-color="#efff3a"/><stop offset="1" stop-color="#fff63a"/></linearGradient><linearGradient id="C998" gradientUnits="userSpaceOnUse" x1="357.7" y1="419.9" x2="355.6" y2="412.8"><stop stop-color="#20ff4e"/><stop offset="1" stop-color="#20ff27"/></linearGradient><linearGradient id="C999" gradientUnits="userSpaceOnUse" x1="219.5" y1="390.9" x2="219.2" y2="384.9"><stop stop-color="#f4ff3c"/><stop offset="1" stop-color="#fff23c"/></linearGradient><linearGradient id="C1000" gradientUnits="userSpaceOnUse" x1="305.8" y1="403.9" x2="304.5" y2="397.3"><stop stop-color="#86ff2a"/><stop offset="1" stop-color="#a6ff2a"/></linearGradient><linearGradient id="C1001" gradientUnits="userSpaceOnUse" x1="207.9" y1="390.6" x2="207.8" y2="384.7"><stop stop-color="#f7ff3f"/><stop offset="1" stop-color="#fff03f"/></linearGradient><linearGradient id="C1002" gradientUnits="userSpaceOnUse" x1="196.4" y1="390.6" x2="196.4" y2="384.7"><stop stop-color="#f8ff41"/><stop offset="1" stop-color="#fff041"/></linearGradient><linearGradient id="C1003" gradientUnits="userSpaceOnUse" x1="184.9" y1="390.8" x2="185" y2="385"><stop stop-color="#f7ff44"/><stop offset="1" stop-color="#fff244"/></linearGradient><linearGradient id="C1004" gradientUnits="userSpaceOnUse" x1="386.8" y1="432.7" x2="384.2" y2="425.3"><stop stop-color="#1affba"/><stop offset="1" stop-color="#1aff8f"/></linearGradient><linearGradient id="C1005" gradientUnits="userSpaceOnUse" x1="294.3" y1="401.9" x2="293.2" y2="395.3"><stop stop-color="#9bff2d"/><stop offset="1" stop-color="#baff2d"/></linearGradient><linearGradient id="C1006" gradientUnits="userSpaceOnUse" x1="346.3" y1="416.8" x2="344.4" y2="409.7"><stop stop-color="#22ff30"/><stop offset="1" stop-color="#39ff22"/></linearGradient><linearGradient id="C1007" gradientUnits="userSpaceOnUse" x1="282.8" y1="400" x2="281.8" y2="393.5"><stop stop-color="#adff2f"/><stop offset="1" stop-color="#ccff2f"/></linearGradient><linearGradient id="C1008" gradientUnits="userSpaceOnUse" x1="334.8" y1="413.8" x2="333.1" y2="406.8"><stop stop-color="#33ff25"/><stop offset="1" stop-color="#57ff25"/></linearGradient><linearGradient id="C1009" gradientUnits="userSpaceOnUse" x1="375.4" y1="429" x2="373" y2="421.6"><stop stop-color="#1cff94"/><stop offset="1" stop-color="#1cff6b"/></linearGradient><linearGradient id="C1010" gradientUnits="userSpaceOnUse" x1="271.3" y1="398.4" x2="270.4" y2="391.9"><stop stop-color="#bdff32"/><stop offset="1" stop-color="#daff32"/></linearGradient><linearGradient id="C1011" gradientUnits="userSpaceOnUse" x1="259.7" y1="397" x2="259" y2="390.6"><stop stop-color="#cbff34"/><stop offset="1" stop-color="#e7ff34"/></linearGradient><linearGradient id="C1012" gradientUnits="userSpaceOnUse" x1="323.3" y1="411.1" x2="321.8" y2="404.2"><stop stop-color="#50ff27"/><stop offset="1" stop-color="#73ff27"/></linearGradient><linearGradient id="C1013" gradientUnits="userSpaceOnUse" x1="363.9" y1="425.5" x2="361.7" y2="418.1"><stop stop-color="#1fff72"/><stop offset="1" stop-color="#1fff4a"/></linearGradient><linearGradient id="C1014" gradientUnits="userSpaceOnUse" x1="248.1" y1="395.9" x2="247.5" y2="389.6"><stop stop-color="#d6ff37"/><stop offset="1" stop-color="#f1ff37"/></linearGradient><linearGradient id="C1015" gradientUnits="userSpaceOnUse" x1="236.6" y1="395" x2="236.1" y2="388.7"><stop stop-color="#dfff39"/><stop offset="1" stop-color="#f9ff39"/></linearGradient><linearGradient id="C1016" gradientUnits="userSpaceOnUse" x1="311.8" y1="408.6" x2="310.4" y2="401.8"><stop stop-color="#69ff29"/><stop offset="1" stop-color="#8bff29"/></linearGradient><linearGradient id="C1017" gradientUnits="userSpaceOnUse" x1="225" y1="394.3" x2="224.6" y2="388.1"><stop stop-color="#e5ff3b"/><stop offset="1" stop-color="#feff3b"/></linearGradient><linearGradient id="C1018" gradientUnits="userSpaceOnUse" x1="213.4" y1="393.9" x2="213.2" y2="387.7"><stop stop-color="#eaff3e"/><stop offset="1" stop-color="#fffc3e"/></linearGradient><linearGradient id="C1019" gradientUnits="userSpaceOnUse" x1="352.5" y1="422.1" x2="350.4" y2="414.9"><stop stop-color="#21ff52"/><stop offset="1" stop-color="#21ff2c"/></linearGradient><linearGradient id="C1020" gradientUnits="userSpaceOnUse" x1="300.3" y1="406.4" x2="299" y2="399.6"><stop stop-color="#80ff2c"/><stop offset="1" stop-color="#a1ff2c"/></linearGradient><linearGradient id="C1021" gradientUnits="userSpaceOnUse" x1="201.8" y1="393.7" x2="201.7" y2="387.6"><stop stop-color="#ecff40"/><stop offset="1" stop-color="#fffb40"/></linearGradient><linearGradient id="C1022" gradientUnits="userSpaceOnUse" x1="190.2" y1="393.7" x2="190.3" y2="387.7"><stop stop-color="#edff43"/><stop offset="1" stop-color="#fffb43"/></linearGradient><linearGradient id="C1023" gradientUnits="userSpaceOnUse" x1="178.6" y1="394" x2="178.8" y2="388"><stop stop-color="#ebff45"/><stop offset="1" stop-color="#fffe45"/></linearGradient><linearGradient id="C1024" gradientUnits="userSpaceOnUse" x1="288.7" y1="404.4" x2="287.6" y2="397.7"><stop stop-color="#94ff2e"/><stop offset="1" stop-color="#b4ff2e"/></linearGradient><linearGradient id="C1025" gradientUnits="userSpaceOnUse" x1="381.7" y1="434.9" x2="379.2" y2="427.3"><stop stop-color="#1bffbc"/><stop offset="1" stop-color="#1bff92"/></linearGradient><linearGradient id="C1026" gradientUnits="userSpaceOnUse" x1="341" y1="419" x2="339.1" y2="411.8"><stop stop-color="#24ff36"/><stop offset="1" stop-color="#37ff24"/></linearGradient><linearGradient id="C1027" gradientUnits="userSpaceOnUse" x1="277.1" y1="402.6" x2="276.1" y2="396"><stop stop-color="#a6ff31"/><stop offset="1" stop-color="#c5ff31"/></linearGradient><linearGradient id="C1028" gradientUnits="userSpaceOnUse" x1="329.4" y1="416.2" x2="327.7" y2="409"><stop stop-color="#30ff26"/><stop offset="1" stop-color="#54ff26"/></linearGradient><linearGradient id="C1029" gradientUnits="userSpaceOnUse" x1="370.2" y1="431.2" x2="367.9" y2="423.7"><stop stop-color="#1eff98"/><stop offset="1" stop-color="#1eff6e"/></linearGradient><linearGradient id="C1030" gradientUnits="userSpaceOnUse" x1="265.5" y1="401.1" x2="264.6" y2="394.5"><stop stop-color="#b5ff33"/><stop offset="1" stop-color="#d3ff33"/></linearGradient><linearGradient id="C1031" gradientUnits="userSpaceOnUse" x1="253.9" y1="399.8" x2="253.1" y2="393.2"><stop stop-color="#c2ff35"/><stop offset="1" stop-color="#dfff35"/></linearGradient><linearGradient id="C1032" gradientUnits="userSpaceOnUse" x1="317.9" y1="413.5" x2="316.3" y2="406.5"><stop stop-color="#4bff28"/><stop offset="1" stop-color="#6eff28"/></linearGradient><linearGradient id="C1033" gradientUnits="userSpaceOnUse" x1="242.2" y1="398.7" x2="241.6" y2="392.2"><stop stop-color="#cdff38"/><stop offset="1" stop-color="#e8ff38"/></linearGradient><linearGradient id="C1034" gradientUnits="userSpaceOnUse" x1="358.7" y1="427.7" x2="356.6" y2="420.2"><stop stop-color="#20ff76"/><stop offset="1" stop-color="#20ff4e"/></linearGradient><linearGradient id="C1035" gradientUnits="userSpaceOnUse" x1="230.6" y1="397.9" x2="230.1" y2="391.5"><stop stop-color="#d5ff3a"/><stop offset="1" stop-color="#efff3a"/></linearGradient><linearGradient id="C1036" gradientUnits="userSpaceOnUse" x1="306.3" y1="411.1" x2="304.9" y2="404.1"><stop stop-color="#64ff2b"/><stop offset="1" stop-color="#86ff2b"/></linearGradient><linearGradient id="C1037" gradientUnits="userSpaceOnUse" x1="218.9" y1="397.3" x2="218.6" y2="390.9"><stop stop-color="#dbff3d"/><stop offset="1" stop-color="#f4ff3d"/></linearGradient><linearGradient id="C1038" gradientUnits="userSpaceOnUse" x1="207.3" y1="396.9" x2="207.1" y2="390.6"><stop stop-color="#dfff3f"/><stop offset="1" stop-color="#f7ff3f"/></linearGradient><linearGradient id="C1039" gradientUnits="userSpaceOnUse" x1="195.6" y1="396.8" x2="195.6" y2="390.6"><stop stop-color="#e1ff42"/><stop offset="1" stop-color="#f8ff42"/></linearGradient><linearGradient id="C1040" gradientUnits="userSpaceOnUse" x1="347.2" y1="424.5" x2="345.2" y2="417"><stop stop-color="#22ff58"/><stop offset="1" stop-color="#22ff31"/></linearGradient><linearGradient id="C1041" gradientUnits="userSpaceOnUse" x1="183.9" y1="396.9" x2="184" y2="390.8"><stop stop-color="#e0ff44"/><stop offset="1" stop-color="#f7ff44"/></linearGradient><linearGradient id="C1042" gradientUnits="userSpaceOnUse" x1="294.6" y1="409" x2="293.4" y2="402"><stop stop-color="#7aff2d"/><stop offset="1" stop-color="#9bff2d"/></linearGradient><linearGradient id="C1043" gradientUnits="userSpaceOnUse" x1="283" y1="407" x2="281.9" y2="400.2"><stop stop-color="#8dff30"/><stop offset="1" stop-color="#adff30"/></linearGradient><linearGradient id="C1044" gradientUnits="userSpaceOnUse" x1="376.6" y1="437.2" x2="374.1" y2="429.4"><stop stop-color="#1dffc0"/><stop offset="1" stop-color="#1dff94"/></linearGradient><linearGradient id="C1045" gradientUnits="userSpaceOnUse" x1="335.6" y1="421.4" x2="333.8" y2="414.1"><stop stop-color="#25ff3c"/><stop offset="1" stop-color="#34ff25"/></linearGradient><linearGradient id="C1046" gradientUnits="userSpaceOnUse" x1="271.3" y1="405.3" x2="270.4" y2="398.5"><stop stop-color="#9eff32"/><stop offset="1" stop-color="#bdff32"/></linearGradient><linearGradient id="C1047" gradientUnits="userSpaceOnUse" x1="324" y1="418.7" x2="322.3" y2="411.4"><stop stop-color="#2bff27"/><stop offset="1" stop-color="#50ff27"/></linearGradient><linearGradient id="C1048" gradientUnits="userSpaceOnUse" x1="259.6" y1="403.9" x2="258.8" y2="397.1"><stop stop-color="#adff34"/><stop offset="1" stop-color="#cbff34"/></linearGradient><linearGradient id="C1049" gradientUnits="userSpaceOnUse" x1="365" y1="433.5" x2="362.7" y2="425.8"><stop stop-color="#1fff9c"/><stop offset="1" stop-color="#1fff72"/></linearGradient><linearGradient id="C1050" gradientUnits="userSpaceOnUse" x1="247.9" y1="402.6" x2="247.3" y2="396"><stop stop-color="#b9ff37"/><stop offset="1" stop-color="#d6ff37"/></linearGradient><linearGradient id="C1051" gradientUnits="userSpaceOnUse" x1="312.3" y1="416.1" x2="310.8" y2="408.9"><stop stop-color="#46ff2a"/><stop offset="1" stop-color="#6aff2a"/></linearGradient><linearGradient id="C1052" gradientUnits="userSpaceOnUse" x1="236.2" y1="401.6" x2="235.7" y2="395"><stop stop-color="#c3ff39"/><stop offset="1" stop-color="#dfff39"/></linearGradient><linearGradient id="C1053" gradientUnits="userSpaceOnUse" x1="353.4" y1="430.1" x2="351.3" y2="422.5"><stop stop-color="#21ff7b"/><stop offset="1" stop-color="#21ff53"/></linearGradient><linearGradient id="C1054" gradientUnits="userSpaceOnUse" x1="224.5" y1="400.9" x2="224.1" y2="394.3"><stop stop-color="#caff3c"/><stop offset="1" stop-color="#e5ff3c"/></linearGradient><linearGradient id="C1055" gradientUnits="userSpaceOnUse" x1="212.8" y1="400.4" x2="212.5" y2="393.9"><stop stop-color="#d0ff3e"/><stop offset="1" stop-color="#eaff3e"/></linearGradient><linearGradient id="C1056" gradientUnits="userSpaceOnUse" x1="300.6" y1="413.7" x2="299.3" y2="406.6"><stop stop-color="#5eff2c"/><stop offset="1" stop-color="#80ff2c"/></linearGradient><linearGradient id="C1057" gradientUnits="userSpaceOnUse" x1="201.1" y1="400.1" x2="200.9" y2="393.7"><stop stop-color="#d3ff41"/><stop offset="1" stop-color="#ecff41"/></linearGradient><linearGradient id="C1058" gradientUnits="userSpaceOnUse" x1="189.3" y1="400.1" x2="189.3" y2="393.7"><stop stop-color="#d4ff43"/><stop offset="1" stop-color="#edff43"/></linearGradient><linearGradient id="C1059" gradientUnits="userSpaceOnUse" x1="341.8" y1="426.9" x2="339.8" y2="419.3"><stop stop-color="#24ff5e"/><stop offset="1" stop-color="#24ff36"/></linearGradient><linearGradient id="C1060" gradientUnits="userSpaceOnUse" x1="288.9" y1="411.6" x2="287.7" y2="404.5"><stop stop-color="#73ff2f"/><stop offset="1" stop-color="#95ff2f"/></linearGradient><linearGradient id="C1061" gradientUnits="userSpaceOnUse" x1="277.2" y1="409.8" x2="276.2" y2="402.8"><stop stop-color="#86ff31"/><stop offset="1" stop-color="#a6ff31"/></linearGradient><linearGradient id="C1062" gradientUnits="userSpaceOnUse" x1="330.1" y1="424" x2="328.4" y2="416.4"><stop stop-color="#26ff43"/><stop offset="1" stop-color="#30ff26"/></linearGradient><linearGradient id="C1063" gradientUnits="userSpaceOnUse" x1="371.4" y1="439.5" x2="368.9" y2="431.6"><stop stop-color="#1effc3"/><stop offset="1" stop-color="#1eff98"/></linearGradient><linearGradient id="C1064" gradientUnits="userSpaceOnUse" x1="265.5" y1="408.1" x2="264.6" y2="401.2"><stop stop-color="#96ff33"/><stop offset="1" stop-color="#b5ff33"/></linearGradient><linearGradient id="C1065" gradientUnits="userSpaceOnUse" x1="253.7" y1="406.7" x2="252.9" y2="399.9"><stop stop-color="#a4ff36"/><stop offset="1" stop-color="#c2ff36"/></linearGradient><linearGradient id="C1066" gradientUnits="userSpaceOnUse" x1="318.4" y1="421.2" x2="316.8" y2="413.8"><stop stop-color="#29ff2b"/><stop offset="1" stop-color="#4bff29"/></linearGradient><linearGradient id="C1067" gradientUnits="userSpaceOnUse" x1="359.7" y1="435.9" x2="357.5" y2="428.1"><stop stop-color="#20ffa1"/><stop offset="1" stop-color="#20ff76"/></linearGradient><linearGradient id="C1068" gradientUnits="userSpaceOnUse" x1="241.9" y1="405.6" x2="241.3" y2="398.8"><stop stop-color="#afff38"/><stop offset="1" stop-color="#cdff38"/></linearGradient><linearGradient id="C1069" gradientUnits="userSpaceOnUse" x1="230.2" y1="404.7" x2="229.7" y2="397.9"><stop stop-color="#b9ff3b"/><stop offset="1" stop-color="#d5ff3b"/></linearGradient><linearGradient id="C1070" gradientUnits="userSpaceOnUse" x1="306.7" y1="418.7" x2="305.2" y2="411.3"><stop stop-color="#40ff2b"/><stop offset="1" stop-color="#64ff2b"/></linearGradient><linearGradient id="C1071" gradientUnits="userSpaceOnUse" x1="218.4" y1="404" x2="218" y2="397.3"><stop stop-color="#bfff3d"/><stop offset="1" stop-color="#dbff3d"/></linearGradient><linearGradient id="C1072" gradientUnits="userSpaceOnUse" x1="348.1" y1="432.6" x2="346" y2="424.8"><stop stop-color="#23ff81"/><stop offset="1" stop-color="#23ff58"/></linearGradient><linearGradient id="C1073" gradientUnits="userSpaceOnUse" x1="206.6" y1="403.6" x2="206.3" y2="396.9"><stop stop-color="#c4ff40"/><stop offset="1" stop-color="#dfff40"/></linearGradient><linearGradient id="C1074" gradientUnits="userSpaceOnUse" x1="295" y1="416.5" x2="293.6" y2="409.1"><stop stop-color="#57ff2e"/><stop offset="1" stop-color="#7aff2e"/></linearGradient><linearGradient id="C1075" gradientUnits="userSpaceOnUse" x1="194.8" y1="403.4" x2="194.7" y2="396.8"><stop stop-color="#c7ff42"/><stop offset="1" stop-color="#e1ff42"/></linearGradient><linearGradient id="C1076" gradientUnits="userSpaceOnUse" x1="283.2" y1="414.4" x2="282" y2="407.2"><stop stop-color="#6cff30"/><stop offset="1" stop-color="#8eff30"/></linearGradient><linearGradient id="C1077" gradientUnits="userSpaceOnUse" x1="336.4" y1="429.5" x2="334.4" y2="421.7"><stop stop-color="#25ff65"/><stop offset="1" stop-color="#25ff3d"/></linearGradient><linearGradient id="C1078" gradientUnits="userSpaceOnUse" x1="271.4" y1="412.6" x2="270.4" y2="405.5"><stop stop-color="#7eff32"/><stop offset="1" stop-color="#9fff32"/></linearGradient><linearGradient id="C1079" gradientUnits="userSpaceOnUse" x1="324.6" y1="426.6" x2="322.9" y2="418.9"><stop stop-color="#28ff4b"/><stop offset="1" stop-color="#2bff28"/></linearGradient><linearGradient id="C1080" gradientUnits="userSpaceOnUse" x1="366.1" y1="442" x2="363.7" y2="433.9"><stop stop-color="#1fffc8"/><stop offset="1" stop-color="#1fff9c"/></linearGradient><linearGradient id="C1081" gradientUnits="userSpaceOnUse" x1="259.6" y1="411.1" x2="258.7" y2="404"><stop stop-color="#8dff35"/><stop offset="1" stop-color="#adff35"/></linearGradient><linearGradient id="C1082" gradientUnits="userSpaceOnUse" x1="247.7" y1="409.8" x2="247" y2="402.7"><stop stop-color="#9aff37"/><stop offset="1" stop-color="#b9ff37"/></linearGradient><linearGradient id="C1083" gradientUnits="userSpaceOnUse" x1="312.8" y1="423.9" x2="311.3" y2="416.3"><stop stop-color="#2aff34"/><stop offset="1" stop-color="#46ff2a"/></linearGradient><linearGradient id="C1084" gradientUnits="userSpaceOnUse" x1="235.9" y1="408.7" x2="235.3" y2="401.7"><stop stop-color="#a5ff3a"/><stop offset="1" stop-color="#c3ff3a"/></linearGradient><linearGradient id="C1085" gradientUnits="userSpaceOnUse" x1="354.4" y1="438.5" x2="352.2" y2="430.5"><stop stop-color="#22ffa6"/><stop offset="1" stop-color="#22ff7c"/></linearGradient><linearGradient id="C1086" gradientUnits="userSpaceOnUse" x1="224" y1="407.8" x2="223.6" y2="400.9"><stop stop-color="#aeff3c"/><stop offset="1" stop-color="#caff3c"/></linearGradient><linearGradient id="C1087" gradientUnits="userSpaceOnUse" x1="301" y1="421.5" x2="299.6" y2="413.9"><stop stop-color="#39ff2d"/><stop offset="1" stop-color="#5eff2d"/></linearGradient><linearGradient id="C1088" gradientUnits="userSpaceOnUse" x1="212.2" y1="407.2" x2="211.8" y2="400.4"><stop stop-color="#b4ff3f"/><stop offset="1" stop-color="#d0ff3f"/></linearGradient><linearGradient id="C1089" gradientUnits="userSpaceOnUse" x1="200.3" y1="406.9" x2="200.1" y2="400.1"><stop stop-color="#b8ff41"/><stop offset="1" stop-color="#d3ff41"/></linearGradient><linearGradient id="C1090" gradientUnits="userSpaceOnUse" x1="342.6" y1="435.2" x2="340.6" y2="427.2"><stop stop-color="#24ff88"/><stop offset="1" stop-color="#24ff5e"/></linearGradient><linearGradient id="C1091" gradientUnits="userSpaceOnUse" x1="289.2" y1="419.3" x2="287.9" y2="411.8"><stop stop-color="#50ff2f"/><stop offset="1" stop-color="#73ff2f"/></linearGradient><linearGradient id="C1092" gradientUnits="userSpaceOnUse" x1="277.3" y1="417.3" x2="276.2" y2="409.9"><stop stop-color="#64ff31"/><stop offset="1" stop-color="#86ff31"/></linearGradient><linearGradient id="C1093" gradientUnits="userSpaceOnUse" x1="330.8" y1="432.1" x2="329" y2="424.2"><stop stop-color="#27ff6c"/><stop offset="1" stop-color="#27ff44"/></linearGradient><linearGradient id="C1094" gradientUnits="userSpaceOnUse" x1="265.5" y1="415.6" x2="264.5" y2="408.3"><stop stop-color="#75ff34"/><stop offset="1" stop-color="#96ff34"/></linearGradient><linearGradient id="C1095" gradientUnits="userSpaceOnUse" x1="319" y1="429.3" x2="317.3" y2="421.5"><stop stop-color="#29ff53"/><stop offset="1" stop-color="#29ff2c"/></linearGradient><linearGradient id="C1096" gradientUnits="userSpaceOnUse" x1="253.6" y1="414.1" x2="252.7" y2="406.9"><stop stop-color="#84ff36"/><stop offset="1" stop-color="#a4ff36"/></linearGradient><linearGradient id="C1097" gradientUnits="userSpaceOnUse" x1="360.8" y1="444.5" x2="358.4" y2="436.3"><stop stop-color="#21ffcd"/><stop offset="1" stop-color="#21ffa1"/></linearGradient><linearGradient id="C1098" gradientUnits="userSpaceOnUse" x1="241.7" y1="412.9" x2="241" y2="405.7"><stop stop-color="#90ff39"/><stop offset="1" stop-color="#afff39"/></linearGradient><linearGradient id="C1099" gradientUnits="userSpaceOnUse" x1="307.2" y1="426.7" x2="305.6" y2="418.9"><stop stop-color="#2cff3d"/><stop offset="1" stop-color="#40ff2c"/></linearGradient><linearGradient id="C1100" gradientUnits="userSpaceOnUse" x1="229.8" y1="411.9" x2="229.2" y2="404.8"><stop stop-color="#9aff3b"/><stop offset="1" stop-color="#b9ff3b"/></linearGradient><linearGradient id="C1101" gradientUnits="userSpaceOnUse" x1="349" y1="441.1" x2="346.8" y2="432.9"><stop stop-color="#23ffad"/><stop offset="1" stop-color="#23ff81"/></linearGradient><linearGradient id="C1102" gradientUnits="userSpaceOnUse" x1="217.8" y1="411.1" x2="217.4" y2="404.1"><stop stop-color="#a2ff3d"/><stop offset="1" stop-color="#c0ff3d"/></linearGradient><linearGradient id="C1103" gradientUnits="userSpaceOnUse" x1="295.3" y1="424.3" x2="293.9" y2="416.6"><stop stop-color="#32ff2e"/><stop offset="1" stop-color="#57ff2e"/></linearGradient><linearGradient id="C1104" gradientUnits="userSpaceOnUse" x1="205.9" y1="410.6" x2="205.6" y2="403.6"><stop stop-color="#a8ff40"/><stop offset="1" stop-color="#c4ff40"/></linearGradient><linearGradient id="C1105" gradientUnits="userSpaceOnUse" x1="337.1" y1="437.9" x2="335.1" y2="429.8"><stop stop-color="#26ff8f"/><stop offset="1" stop-color="#26ff65"/></linearGradient><linearGradient id="C1106" gradientUnits="userSpaceOnUse" x1="283.4" y1="422.2" x2="282.1" y2="414.6"><stop stop-color="#48ff30"/><stop offset="1" stop-color="#6cff30"/></linearGradient><linearGradient id="C1107" gradientUnits="userSpaceOnUse" x1="271.4" y1="420.3" x2="270.3" y2="412.8"><stop stop-color="#5bff33"/><stop offset="1" stop-color="#7eff33"/></linearGradient><linearGradient id="C1108" gradientUnits="userSpaceOnUse" x1="325.3" y1="434.9" x2="323.4" y2="426.8"><stop stop-color="#28ff74"/><stop offset="1" stop-color="#28ff4b"/></linearGradient><linearGradient id="C1109" gradientUnits="userSpaceOnUse" x1="259.5" y1="418.7" x2="258.5" y2="411.2"><stop stop-color="#6cff35"/><stop offset="1" stop-color="#8dff35"/></linearGradient><linearGradient id="C1110" gradientUnits="userSpaceOnUse" x1="247.5" y1="417.3" x2="246.7" y2="409.9"><stop stop-color="#7aff38"/><stop offset="1" stop-color="#9bff38"/></linearGradient><linearGradient id="C1111" gradientUnits="userSpaceOnUse" x1="313.4" y1="432.1" x2="311.7" y2="424.1"><stop stop-color="#2aff5c"/><stop offset="1" stop-color="#2aff34"/></linearGradient><linearGradient id="C1112" gradientUnits="userSpaceOnUse" x1="355.4" y1="447.2" x2="353" y2="438.8"><stop stop-color="#22ffd3"/><stop offset="1" stop-color="#22ffa7"/></linearGradient><linearGradient id="C1113" gradientUnits="userSpaceOnUse" x1="235.5" y1="416.1" x2="234.9" y2="408.8"><stop stop-color="#86ff3a"/><stop offset="1" stop-color="#a5ff3a"/></linearGradient><linearGradient id="C1114" gradientUnits="userSpaceOnUse" x1="301.4" y1="429.6" x2="299.9" y2="421.7"><stop stop-color="#2dff47"/><stop offset="1" stop-color="#3aff2d"/></linearGradient><linearGradient id="C1115" gradientUnits="userSpaceOnUse" x1="223.5" y1="415.2" x2="223" y2="407.9"><stop stop-color="#8fff3c"/><stop offset="1" stop-color="#aeff3c"/></linearGradient><linearGradient id="C1116" gradientUnits="userSpaceOnUse" x1="211.6" y1="414.5" x2="211.2" y2="407.3"><stop stop-color="#97ff3f"/><stop offset="1" stop-color="#b4ff3f"/></linearGradient><linearGradient id="C1117" gradientUnits="userSpaceOnUse" x1="343.5" y1="443.8" x2="341.3" y2="435.5"><stop stop-color="#25ffb3"/><stop offset="1" stop-color="#25ff88"/></linearGradient><linearGradient id="C1118" gradientUnits="userSpaceOnUse" x1="289.5" y1="427.3" x2="288.1" y2="419.5"><stop stop-color="#2fff34"/><stop offset="1" stop-color="#50ff2f"/></linearGradient><linearGradient id="C1119" gradientUnits="userSpaceOnUse" x1="277.5" y1="425.3" x2="276.3" y2="417.5"><stop stop-color="#40ff32"/><stop offset="1" stop-color="#64ff32"/></linearGradient><linearGradient id="C1120" gradientUnits="userSpaceOnUse" x1="331.6" y1="440.7" x2="329.6" y2="432.4"><stop stop-color="#27ff97"/><stop offset="1" stop-color="#27ff6c"/></linearGradient><linearGradient id="C1121" gradientUnits="userSpaceOnUse" x1="265.5" y1="423.4" x2="264.4" y2="415.7"><stop stop-color="#52ff34"/><stop offset="1" stop-color="#75ff34"/></linearGradient><linearGradient id="C1122" gradientUnits="userSpaceOnUse" x1="319.6" y1="437.8" x2="317.8" y2="429.5"><stop stop-color="#29ff7d"/><stop offset="1" stop-color="#29ff53"/></linearGradient><linearGradient id="C1123" gradientUnits="userSpaceOnUse" x1="253.4" y1="421.9" x2="252.5" y2="414.2"><stop stop-color="#62ff37"/><stop offset="1" stop-color="#84ff37"/></linearGradient><linearGradient id="C1124" gradientUnits="userSpaceOnUse" x1="241.4" y1="420.5" x2="240.6" y2="413"><stop stop-color="#70ff39"/><stop offset="1" stop-color="#90ff39"/></linearGradient><linearGradient id="C1125" gradientUnits="userSpaceOnUse" x1="307.6" y1="435.1" x2="306" y2="426.9"><stop stop-color="#2cff65"/><stop offset="1" stop-color="#2cff3d"/></linearGradient><linearGradient id="C1126" gradientUnits="userSpaceOnUse" x1="229.3" y1="419.5" x2="228.7" y2="412"><stop stop-color="#7bff3b"/><stop offset="1" stop-color="#9bff3b"/></linearGradient><linearGradient id="C1127" gradientUnits="userSpaceOnUse" x1="349.9" y1="450" x2="347.6" y2="441.5"><stop stop-color="#24ffda"/><stop offset="1" stop-color="#24ffad"/></linearGradient><linearGradient id="C1128" gradientUnits="userSpaceOnUse" x1="217.3" y1="418.6" x2="216.8" y2="411.2"><stop stop-color="#84ff3e"/><stop offset="1" stop-color="#a3ff3e"/></linearGradient><linearGradient id="C1129" gradientUnits="userSpaceOnUse" x1="295.6" y1="432.6" x2="294.1" y2="424.5"><stop stop-color="#2eff51"/><stop offset="1" stop-color="#33ff2e"/></linearGradient><linearGradient id="C1130" gradientUnits="userSpaceOnUse" x1="337.9" y1="446.7" x2="335.8" y2="438.2"><stop stop-color="#26ffbb"/><stop offset="1" stop-color="#26ff8f"/></linearGradient><linearGradient id="C1131" gradientUnits="userSpaceOnUse" x1="283.6" y1="430.4" x2="282.3" y2="422.4"><stop stop-color="#31ff3f"/><stop offset="1" stop-color="#48ff31"/></linearGradient><linearGradient id="C1132" gradientUnits="userSpaceOnUse" x1="271.5" y1="428.4" x2="270.3" y2="420.5"><stop stop-color="#37ff33"/><stop offset="1" stop-color="#5bff33"/></linearGradient><linearGradient id="C1133" gradientUnits="userSpaceOnUse" x1="325.9" y1="443.6" x2="324" y2="435.2"><stop stop-color="#28ff9f"/><stop offset="1" stop-color="#28ff74"/></linearGradient><linearGradient id="C1134" gradientUnits="userSpaceOnUse" x1="259.4" y1="426.7" x2="258.4" y2="418.8"><stop stop-color="#48ff36"/><stop offset="1" stop-color="#6cff36"/></linearGradient><linearGradient id="C1135" gradientUnits="userSpaceOnUse" x1="313.9" y1="440.7" x2="312.1" y2="432.4"><stop stop-color="#2bff86"/><stop offset="1" stop-color="#2bff5c"/></linearGradient><linearGradient id="C1136" gradientUnits="userSpaceOnUse" x1="247.3" y1="425.2" x2="246.4" y2="417.4"><stop stop-color="#58ff38"/><stop offset="1" stop-color="#7aff38"/></linearGradient><linearGradient id="C1137" gradientUnits="userSpaceOnUse" x1="235.2" y1="423.9" x2="234.5" y2="416.2"><stop stop-color="#65ff3a"/><stop offset="1" stop-color="#86ff3a"/></linearGradient><linearGradient id="C1138" gradientUnits="userSpaceOnUse" x1="301.8" y1="438.1" x2="300.2" y2="429.8"><stop stop-color="#2dff6f"/><stop offset="1" stop-color="#2dff47"/></linearGradient><linearGradient id="C1139" gradientUnits="userSpaceOnUse" x1="223.1" y1="422.9" x2="222.5" y2="415.3"><stop stop-color="#6fff3d"/><stop offset="1" stop-color="#90ff3d"/></linearGradient><linearGradient id="C1140" gradientUnits="userSpaceOnUse" x1="344.4" y1="452.9" x2="342.1" y2="444.2"><stop stop-color="#25ffe1"/><stop offset="1" stop-color="#25ffb4"/></linearGradient><linearGradient id="C1141" gradientUnits="userSpaceOnUse" x1="289.7" y1="435.7" x2="288.3" y2="427.5"><stop stop-color="#30ff5b"/><stop offset="1" stop-color="#30ff34"/></linearGradient><linearGradient id="C1142" gradientUnits="userSpaceOnUse" x1="332.3" y1="449.7" x2="330.2" y2="441"><stop stop-color="#27ffc3"/><stop offset="1" stop-color="#27ff97"/></linearGradient><linearGradient id="C1143" gradientUnits="userSpaceOnUse" x1="277.6" y1="433.6" x2="276.3" y2="425.4"><stop stop-color="#32ff4a"/><stop offset="1" stop-color="#40ff32"/></linearGradient><linearGradient id="C1144" gradientUnits="userSpaceOnUse" x1="265.5" y1="431.7" x2="264.3" y2="423.6"><stop stop-color="#35ff3c"/><stop offset="1" stop-color="#52ff35"/></linearGradient><linearGradient id="C1145" gradientUnits="userSpaceOnUse" x1="320.2" y1="446.6" x2="318.3" y2="438"><stop stop-color="#2affa8"/><stop offset="1" stop-color="#2aff7d"/></linearGradient><linearGradient id="C1146" gradientUnits="userSpaceOnUse" x1="253.3" y1="430" x2="252.3" y2="422"><stop stop-color="#3eff37"/><stop offset="1" stop-color="#62ff37"/></linearGradient><linearGradient id="C1147" gradientUnits="userSpaceOnUse" x1="308.1" y1="443.8" x2="306.4" y2="435.3"><stop stop-color="#2cff8f"/><stop offset="1" stop-color="#2cff66"/></linearGradient><linearGradient id="C1148" gradientUnits="userSpaceOnUse" x1="241.1" y1="428.6" x2="240.3" y2="420.7"><stop stop-color="#4dff39"/><stop offset="1" stop-color="#70ff39"/></linearGradient><linearGradient id="C1149" gradientUnits="userSpaceOnUse" x1="228.9" y1="427.4" x2="228.2" y2="419.6"><stop stop-color="#59ff3c"/><stop offset="1" stop-color="#7bff3c"/></linearGradient><linearGradient id="C1150" gradientUnits="userSpaceOnUse" x1="296" y1="441.3" x2="294.4" y2="432.8"><stop stop-color="#2fff7a"/><stop offset="1" stop-color="#2fff51"/></linearGradient><linearGradient id="C1151" gradientUnits="userSpaceOnUse" x1="338.8" y1="455.9" x2="336.5" y2="447"><stop stop-color="#26ffe9"/><stop offset="1" stop-color="#26ffbb"/></linearGradient><linearGradient id="C1152" gradientUnits="userSpaceOnUse" x1="283.8" y1="439" x2="282.4" y2="430.6"><stop stop-color="#31ff67"/><stop offset="1" stop-color="#31ff3f"/></linearGradient><linearGradient id="C1153" gradientUnits="userSpaceOnUse" x1="271.6" y1="436.9" x2="270.3" y2="428.6"><stop stop-color="#34ff56"/><stop offset="1" stop-color="#37ff34"/></linearGradient><linearGradient id="C1154" gradientUnits="userSpaceOnUse" x1="326.6" y1="452.7" x2="324.6" y2="443.9"><stop stop-color="#29ffcc"/><stop offset="1" stop-color="#29ff9f"/></linearGradient><linearGradient id="C1155" gradientUnits="userSpaceOnUse" x1="259.3" y1="435.1" x2="258.3" y2="426.8"><stop stop-color="#36ff48"/><stop offset="1" stop-color="#49ff36"/></linearGradient><linearGradient id="C1156" gradientUnits="userSpaceOnUse" x1="314.5" y1="449.8" x2="312.6" y2="441"><stop stop-color="#2bffb1"/><stop offset="1" stop-color="#2bff86"/></linearGradient><linearGradient id="C1157" gradientUnits="userSpaceOnUse" x1="247.1" y1="433.5" x2="246.2" y2="425.3"><stop stop-color="#38ff3d"/><stop offset="1" stop-color="#58ff38"/></linearGradient><linearGradient id="C1158" gradientUnits="userSpaceOnUse" x1="234.8" y1="432.2" x2="234" y2="424"><stop stop-color="#42ff3b"/><stop offset="1" stop-color="#65ff3b"/></linearGradient><linearGradient id="C1159" gradientUnits="userSpaceOnUse" x1="302.2" y1="447.1" x2="300.6" y2="438.4"><stop stop-color="#2eff9a"/><stop offset="1" stop-color="#2eff6f"/></linearGradient><linearGradient id="C1160" gradientUnits="userSpaceOnUse" x1="290" y1="444.6" x2="288.5" y2="436"><stop stop-color="#30ff85"/><stop offset="1" stop-color="#30ff5c"/></linearGradient><linearGradient id="C1161" gradientUnits="userSpaceOnUse" x1="333.1" y1="459.1" x2="330.9" y2="450"><stop stop-color="#28fff1"/><stop offset="1" stop-color="#28ffc3"/></linearGradient><linearGradient id="C1162" gradientUnits="userSpaceOnUse" x1="277.7" y1="442.3" x2="276.4" y2="433.8"><stop stop-color="#32ff73"/><stop offset="1" stop-color="#32ff4b"/></linearGradient><linearGradient id="C1163" gradientUnits="userSpaceOnUse" x1="265.5" y1="440.4" x2="264.3" y2="431.9"><stop stop-color="#35ff63"/><stop offset="1" stop-color="#35ff3c"/></linearGradient><linearGradient id="C1164" gradientUnits="userSpaceOnUse" x1="320.9" y1="455.9" x2="318.9" y2="446.9"><stop stop-color="#2affd5"/><stop offset="1" stop-color="#2affa8"/></linearGradient><linearGradient id="C1165" gradientUnits="userSpaceOnUse" x1="253.2" y1="438.6" x2="252.1" y2="430.2"><stop stop-color="#37ff56"/><stop offset="1" stop-color="#3fff37"/></linearGradient><linearGradient id="C1166" gradientUnits="userSpaceOnUse" x1="308.6" y1="453" x2="306.8" y2="444.1"><stop stop-color="#2dffbb"/><stop offset="1" stop-color="#2dff90"/></linearGradient><linearGradient id="C1167" gradientUnits="userSpaceOnUse" x1="240.8" y1="437.1" x2="239.9" y2="428.7"><stop stop-color="#3aff4b"/><stop offset="1" stop-color="#4dff3a"/></linearGradient><linearGradient id="C1168" gradientUnits="userSpaceOnUse" x1="296.3" y1="450.4" x2="294.7" y2="441.5"><stop stop-color="#2fffa5"/><stop offset="1" stop-color="#2fff7a"/></linearGradient><linearGradient id="C1169" gradientUnits="userSpaceOnUse" x1="284" y1="448" x2="282.5" y2="439.2"><stop stop-color="#31ff90"/><stop offset="1" stop-color="#31ff67"/></linearGradient><linearGradient id="C1170" gradientUnits="userSpaceOnUse" x1="327.3" y1="462.3" x2="325.2" y2="453.1"><stop stop-color="#29fffa"/><stop offset="1" stop-color="#29ffcc"/></linearGradient><linearGradient id="C1171" gradientUnits="userSpaceOnUse" x1="271.6" y1="445.8" x2="270.3" y2="437.1"><stop stop-color="#34ff7f"/><stop offset="1" stop-color="#34ff57"/></linearGradient><linearGradient id="C1172" gradientUnits="userSpaceOnUse" x1="259.3" y1="443.9" x2="258.1" y2="435.2"><stop stop-color="#36ff70"/><stop offset="1" stop-color="#36ff49"/></linearGradient><linearGradient id="C1173" gradientUnits="userSpaceOnUse" x1="315" y1="459.3" x2="313" y2="450.1"><stop stop-color="#2cffdf"/><stop offset="1" stop-color="#2cffb2"/></linearGradient><linearGradient id="C1174" gradientUnits="userSpaceOnUse" x1="246.9" y1="442.2" x2="245.9" y2="433.6"><stop stop-color="#39ff63"/><stop offset="1" stop-color="#39ff3d"/></linearGradient><linearGradient id="C1175" gradientUnits="userSpaceOnUse" x1="302.7" y1="456.4" x2="300.9" y2="447.3"><stop stop-color="#2effc6"/><stop offset="1" stop-color="#2eff9a"/></linearGradient><linearGradient id="C1176" gradientUnits="userSpaceOnUse" x1="290.3" y1="453.9" x2="288.7" y2="444.8"><stop stop-color="#30ffb0"/><stop offset="1" stop-color="#30ff85"/></linearGradient><linearGradient id="C1177" gradientUnits="userSpaceOnUse" x1="277.9" y1="451.5" x2="276.4" y2="442.6"><stop stop-color="#33ff9d"/><stop offset="1" stop-color="#33ff73"/></linearGradient><linearGradient id="C1178" gradientUnits="userSpaceOnUse" x1="321.5" y1="465.7" x2="319.4" y2="456.3"><stop stop-color="#2bfaff"/><stop offset="1" stop-color="#2bffd5"/></linearGradient><linearGradient id="C1179" gradientUnits="userSpaceOnUse" x1="265.5" y1="449.4" x2="264.2" y2="440.5"><stop stop-color="#35ff8c"/><stop offset="1" stop-color="#35ff63"/></linearGradient><linearGradient id="C1180" gradientUnits="userSpaceOnUse" x1="253" y1="447.6" x2="251.9" y2="438.8"><stop stop-color="#38ff7d"/><stop offset="1" stop-color="#38ff56"/></linearGradient><linearGradient id="C1181" gradientUnits="userSpaceOnUse" x1="309.1" y1="462.7" x2="307.2" y2="453.3"><stop stop-color="#2dffe9"/><stop offset="1" stop-color="#2dffbc"/></linearGradient><linearGradient id="C1182" gradientUnits="userSpaceOnUse" x1="296.7" y1="459.9" x2="294.9" y2="450.7"><stop stop-color="#2fffd1"/><stop offset="1" stop-color="#2fffa5"/></linearGradient><linearGradient id="C1183" gradientUnits="userSpaceOnUse" x1="284.2" y1="457.4" x2="282.6" y2="448.2"><stop stop-color="#32ffbc"/><stop offset="1" stop-color="#32ff91"/></linearGradient><linearGradient id="C1184" gradientUnits="userSpaceOnUse" x1="271.7" y1="455.2" x2="270.3" y2="446"><stop stop-color="#34ffa9"/><stop offset="1" stop-color="#34ff7f"/></linearGradient><linearGradient id="C1185" gradientUnits="userSpaceOnUse" x1="259.2" y1="453.2" x2="258" y2="444.1"><stop stop-color="#37ff99"/><stop offset="1" stop-color="#37ff70"/></linearGradient><linearGradient id="C1186" gradientUnits="userSpaceOnUse" x1="315.6" y1="469.2" x2="313.5" y2="459.6"><stop stop-color="#2cf0ff"/><stop offset="1" stop-color="#2cffdf"/></linearGradient><linearGradient id="C1187" gradientUnits="userSpaceOnUse" x1="303.1" y1="466.2" x2="301.2" y2="456.7"><stop stop-color="#2efff4"/><stop offset="1" stop-color="#2effc6"/></linearGradient><linearGradient id="C1188" gradientUnits="userSpaceOnUse" x1="290.6" y1="463.6" x2="288.9" y2="454.1"><stop stop-color="#31ffdd"/><stop offset="1" stop-color="#31ffb0"/></linearGradient><linearGradient id="C1189" gradientUnits="userSpaceOnUse" x1="278.1" y1="461.1" x2="276.5" y2="451.8"><stop stop-color="#33ffc8"/><stop offset="1" stop-color="#33ff9d"/></linearGradient><linearGradient id="C1190" gradientUnits="userSpaceOnUse" x1="265.5" y1="459" x2="264.1" y2="449.6"><stop stop-color="#36ffb6"/><stop offset="1" stop-color="#36ff8c"/></linearGradient><linearGradient id="C1191" gradientUnits="userSpaceOnUse" x1="309.6" y1="472.8" x2="307.6" y2="463"><stop stop-color="#2de5ff"/><stop offset="1" stop-color="#2dffe9"/></linearGradient><linearGradient id="C1192" gradientUnits="userSpaceOnUse" x1="297" y1="469.9" x2="295.2" y2="460.2"><stop stop-color="#30feff"/><stop offset="1" stop-color="#30ffd1"/></linearGradient><linearGradient id="C1193" gradientUnits="userSpaceOnUse" x1="284.4" y1="467.3" x2="282.7" y2="457.7"><stop stop-color="#32ffe9"/><stop offset="1" stop-color="#32ffbc"/></linearGradient><linearGradient id="C1194" gradientUnits="userSpaceOnUse" x1="271.8" y1="465" x2="270.3" y2="455.4"><stop stop-color="#35ffd5"/><stop offset="1" stop-color="#35ffa9"/></linearGradient><linearGradient id="C1195" gradientUnits="userSpaceOnUse" x1="303.6" y1="476.5" x2="301.5" y2="466.6"><stop stop-color="#2fdaff"/><stop offset="1" stop-color="#2ffff4"/></linearGradient><linearGradient id="C1196" gradientUnits="userSpaceOnUse" x1="290.9" y1="473.7" x2="289.1" y2="463.9"><stop stop-color="#31f2ff"/><stop offset="1" stop-color="#31ffdd"/></linearGradient><linearGradient id="C1197" gradientUnits="userSpaceOnUse" x1="278.2" y1="471.2" x2="276.6" y2="461.4"><stop stop-color="#34fff6"/><stop offset="1" stop-color="#34ffc9"/></linearGradient><linearGradient id="C1198" gradientUnits="userSpaceOnUse" x1="297.4" y1="480.4" x2="295.4" y2="470.2"><stop stop-color="#30ceff"/><stop offset="1" stop-color="#30feff"/></linearGradient><linearGradient id="C1199" gradientUnits="userSpaceOnUse" x1="284.7" y1="477.7" x2="282.9" y2="467.6"><stop stop-color="#33e6ff"/><stop offset="1" stop-color="#33ffe9"/></linearGradient><linearGradient id="C1200" gradientUnits="userSpaceOnUse" x1="291.2" y1="484.4" x2="289.3" y2="474.1"><stop stop-color="#32c2ff"/><stop offset="1" stop-color="#32f2ff"/></linearGradient></defs>
<rect width="685" height="606" fill="#fff"/>
<g stroke-linecap="round">
<line x1="47" y1="154.6" x2="161.6" y2="115.9" stroke="#1a1a1a" stroke-width="0.75"/>
<line x1="161.6" y1="115.9" x2="279" y2="153.1" stroke="#1a1a1a" stroke-width="0.75"/>
<line x1="46.3" y1="137.4" x2="161.6" y2="100.5" stroke="#1a1a1a" stroke-width="0.75"/>
<line x1="161.6" y1="100.5" x2="279.7" y2="136" stroke="#1a1a1a" stroke-width="0.75"/>
<line x1="45.5" y1="120.2" x2="161.6" y2="85.2" stroke="#1a1a1a" stroke-width="0.75"/>
<line x1="161.6" y1="85.2" x2="280.4" y2="118.9" stroke="#1a1a1a" stroke-width="0.75"/>
<line x1="44.8" y1="103.1" x2="161.5" y2="69.8" stroke="#1a1a1a" stroke-width="0.75"/>
<line x1="161.5" y1="69.8" x2="281.1" y2="101.9" stroke="#1a1a1a" stroke-width="0.75"/>
<line x1="44" y1="85.9" x2="161.5" y2="54.4" stroke="#1a1a1a" stroke-width="0.75"/>
<line x1="161.5" y1="54.4" x2="281.8" y2="84.8" stroke="#1a1a1a" stroke-width="0.75"/>
<line x1="43.3" y1="68.7" x2="161.5" y2="39" stroke="#1a1a1a" stroke-width="0.75"/>
<line x1="161.5" y1="39" x2="282.5" y2="67.7" stroke="#1a1a1a" stroke-width="0.75"/>
<line x1="42.6" y1="51.6" x2="161.5" y2="23.7" stroke="#1a1a1a" stroke-width="0.75"/>
<line x1="161.5" y1="23.7" x2="283.2" y2="50.6" stroke="#1a1a1a" stroke-width="0.75"/>
<line x1="41.8" y1="34.4" x2="161.4" y2="8.3" stroke="#1a1a1a" stroke-width="0.75"/>
<line x1="161.4" y1="8.3" x2="283.9" y2="33.5" stroke="#1a1a1a" stroke-width="0.75"/>
<line x1="75.7" y1="144.9" x2="71.7" y2="27.9" stroke="#1a1a1a" stroke-width="0.75"/>
<line x1="104.3" y1="135.2" x2="101.6" y2="21.4" stroke="#1a1a1a" stroke-width="0.75"/>
<line x1="133" y1="125.6" x2="131.5" y2="14.8" stroke="#1a1a1a" stroke-width="0.75"/>
<line x1="181.2" y1="122.1" x2="181.8" y2="12.5" stroke="#1a1a1a" stroke-width="0.75"/>
<line x1="200.7" y1="128.3" x2="202.3" y2="16.7" stroke="#1a1a1a" stroke-width="0.75"/>
<line x1="220.3" y1="134.5" x2="222.7" y2="20.9" stroke="#1a1a1a" stroke-width="0.75"/>
<line x1="239.9" y1="140.7" x2="243.1" y2="25.1" stroke="#1a1a1a" stroke-width="0.75"/>
<line x1="259.4" y1="146.9" x2="263.5" y2="29.3" stroke="#1a1a1a" stroke-width="0.75"/>
<line x1="48.6" y1="191.7" x2="41.8" y2="34.4" stroke="#1a1a1a" stroke-width="0.75"/>
<line x1="161.7" y1="149.1" x2="161.4" y2="8.3" stroke="#1a1a1a" stroke-width="0.75"/>
<line x1="277.5" y1="190" x2="283.9" y2="33.5" stroke="#1a1a1a" stroke-width="0.75"/>
<polygon points="48.6,191.7 165.5,244.4 277.5,190 161.7,149.1" fill="#6b6b6b" stroke="#111" stroke-width="0.8"/>
<path d="M98.8,214.3 L99,214.4 L99.8,214.6 L100.7,214.9 L101.6,215.2 L102.5,215.4 L103.3,215.7 L103.5,215.7 L104.2,215.9 L105.1,216.2 L106,216.5 L106.9,216.7 L107.8,217 L107.9,217 L108.7,217.2 L109.6,217.5 L110.5,217.7 L111.4,218 L112.1,218.2 L112.3,218.3 L113.2,218.5 L114.2,218.8 L115.1,219 L116,219.3 L116.1,219.3 L117,219.5 L117.9,219.8 L118.8,220 L119.8,220.3 L120,220.3 L120.7,220.5 L121.7,220.8 L122.6,221 L123.6,221.3 L123.8,221.3 L124.5,221.5 L125.5,221.8 L126.5,222 L127.4,222.2 L127.4,222.2 L128.4,222.5 L129.4,222.7 L130.4,223 L131,223.1 L131.4,223.2 L132.3,223.4 L133.3,223.7 L134.3,223.9 L134.5,224 L135.3,224.2 L136.3,224.4 L137.3,224.6 L137.8,224.8 L138.3,224.9 L139.4,225.1 L140.4,225.3 L141.1,225.5 L141.4,225.6 L142.4,225.8 L143.4,226 L144.4,226.2 L144.5,226.3 L145.5,226.5 L146.5,226.7 L147.6,226.9 L147.6,226.9 L148.6,227.2 L149.7,227.4 L150.7,227.6 L150.7,227.6 L151.8,227.8 L152.9,228.1 L153.7,228.2 L153.9,228.3 L155,228.5 L156.1,228.7 L156.7,228.9 L157.1,228.9 L158.2,229.2 L159.3,229.4 L159.7,229.5 L160.4,229.6 L161.5,229.8 L162.6,230 L162.6,230 L163.7,230.2 L164.8,230.4 L165.5,230.6 L165.9,230.7 L167,230.9 L168.1,231.1 L168.3,231.1 L169.2,231.3 L170.3,231.5 L171.1,231.6 L171.5,231.7 L172.6,231.9 L173.7,232.1 L173.8,232.1 L174.9,232.3 L176,232.5 L176.5,232.6 L177.2,232.7 L178.3,232.9 L179.2,233 L179.5,233.1 L180.6,233.3 L181.8,233.5 L181.9,233.5 L182.9,233.7 L184.1,233.9 L184.5,233.9 L185.3,234 L186.5,234.2" fill="none" stroke="#17e69a" stroke-width="1.3"/>
<path d="M63.2,186.2 L63.8,186.5 L64.5,186.8 L65.1,187 L65.8,187.3 L66.4,187.6 L67.1,187.9 L67.8,188.2 L68.4,188.4 L69.1,188.7 L69.8,189 L70.5,189.3 L71.1,189.5 L71.8,189.8 L72.5,190.1 L73.2,190.4 L73.9,190.6 L74.6,190.9 L75,191.1 L75.3,191.2 L76,191.5 L76.7,191.7 L77.4,192 L78.1,192.3 L78.8,192.6 L79.5,192.8 L80.2,193.1 L81,193.4 L81.7,193.6 L82.4,193.9 L83.2,194.2 L83.9,194.4 L84.6,194.7 L85.4,195 L85.6,195.1 L86.1,195.3 L86.9,195.5 L87.6,195.8 L88.4,196.1 L89.1,196.3 L89.9,196.6 L90.6,196.8 L91.4,197.1 L92.2,197.4 L93,197.6 L93.1,197.7 L93.7,197.9 L94.5,198.2 L95.3,198.4 L96.1,198.7 L96.9,198.9 L97.7,199.2 L98.5,199.5 L99.3,199.7 L99.4,199.8 L100.1,200 L100.9,200.2 L101.7,200.5 L102.5,200.8 L103.3,201 L104.1,201.3 L104.9,201.5 L104.9,201.5 L105.8,201.8 L106.6,202 L107.4,202.3 L108.3,202.5 L109.1,202.8 L109.9,203 L109.9,203 L110.8,203.3 L111.6,203.5 L112.5,203.8 L113.3,204 L114.2,204.3 L114.6,204.4 L115.1,204.5 L115.9,204.8 L116.8,205 L117.7,205.3 L118.5,205.5 L118.9,205.6 L119.4,205.8 L120.3,206 L121.2,206.3 L122.1,206.5 L123,206.7 L123.1,206.8 L123.9,207 L124.8,207.2 L125.7,207.5 L126.6,207.7 L127.1,207.8 L127.5,207.9 L128.4,208.2 L129.3,208.4 L130.2,208.6 L130.9,208.8 L131.2,208.9 L132.1,209.1 L133,209.4 L134,209.6 L134.6,209.7 L134.9,209.8 L135.8,210 L136.8,210.3 L137.7,210.5 L138.1,210.6 L138.7,210.7 L139.6,211 L140.6,211.2 L141.6,211.4 L141.6,211.4 L142.5,211.6 L143.5,211.9 L144.5,212.1 L144.9,212.2 L145.5,212.3 L146.4,212.5 L147.4,212.8 L148.2,212.9 L148.4,213 L149.4,213.2 L150.4,213.4 L151.4,213.6 L151.4,213.6 L152.4,213.8 L153.4,214.1 L154.4,214.3 L154.5,214.3 L155.4,214.5 L156.5,214.7 L157.5,214.9 L157.5,214.9 L158.5,215.1 L159.5,215.3 L160.5,215.5 L160.6,215.5 L161.6,215.8 L162.6,216 L163.4,216.1 L163.7,216.2 L164.7,216.4 L165.8,216.6 L166.3,216.7 L166.8,216.8 L167.9,217 L169,217.2 L169.1,217.2 L170,217.4 L171.1,217.6 L171.9,217.7 L172.2,217.8 L173.3,218 L174.4,218.2 L174.7,218.2 L175.4,218.4 L176.5,218.5 L177.3,218.7 L177.6,218.7 L178.7,218.9 L179.8,219.1 L180,219.1 L180.9,219.3 L182.1,219.5 L182.6,219.6 L183.2,219.7 L184.3,219.9 L185.2,220 L185.4,220 L186.5,220.2 L187.7,220.4 L187.7,220.4 L188.8,220.6 L190,220.8 L190.2,220.8 L191.1,220.9 L192.3,221.1 L192.7,221.2 L193.4,221.3 L194.6,221.4 L195.2,221.5 L195.7,221.6 L196.9,221.8 L197.6,221.9 L198.1,221.9 L199.2,222.1 L200,222.2 L200.4,222.3 L201.6,222.4 L202.3,222.5 L202.8,222.6 L204,222.8 L204.7,222.9 L205.2,222.9 L206.4,223.1 L207,223.2 L207.6,223.2 L208.8,223.4" fill="none" stroke="#17e63a" stroke-width="1.3"/>
<path d="M84,178.4 L84.6,178.6 L85.3,178.9 L86,179.2 L86.6,179.4 L87.3,179.7 L88,180 L88.6,180.2 L89.3,180.5 L90,180.7 L90.7,181 L91.4,181.3 L92,181.5 L92.7,181.8 L93.4,182.1 L94.1,182.3 L94.8,182.6 L95.5,182.8 L96.2,183.1 L97,183.3 L97.7,183.6 L98.4,183.9 L99.1,184.1 L99.3,184.2 L99.8,184.4 L100.6,184.6 L101.3,184.9 L102,185.1 L102.8,185.4 L103.5,185.6 L104.2,185.9 L105,186.2 L105.7,186.4 L106.5,186.7 L107.3,186.9 L107.3,186.9 L108,187.2 L108.8,187.4 L109.5,187.7 L110.3,187.9 L111.1,188.1 L111.9,188.4 L112.6,188.6 L113.4,188.9 L113.6,188.9 L114.2,189.1 L115,189.4 L115.8,189.6 L116.6,189.9 L117.4,190.1 L118.2,190.3 L119,190.6 L119.1,190.6 L119.8,190.8 L120.6,191.1 L121.4,191.3 L122.3,191.5 L123.1,191.8 L123.9,192 L124,192 L124.7,192.3 L125.6,192.5 L126.4,192.7 L127.3,193 L128.1,193.2 L128.5,193.3 L129,193.4 L129.8,193.7 L130.7,193.9 L131.5,194.1 L132.4,194.4 L132.8,194.5 L133.2,194.6 L134.1,194.8 L135,195 L135.9,195.3 L136.7,195.5 L136.8,195.5 L137.6,195.7 L138.5,195.9 L139.4,196.2 L140.3,196.4 L140.6,196.5 L141.2,196.6 L142.1,196.8 L143,197.1 L143.9,197.3 L144.2,197.3 L144.8,197.5 L145.7,197.7 L146.7,197.9 L147.6,198.1 L147.7,198.2 L148.5,198.4 L149.4,198.6 L150.4,198.8 L151.1,198.9 L151.3,199 L152.3,199.2 L153.2,199.4 L154.2,199.6 L154.3,199.7 L155.1,199.8 L156.1,200.1 L157,200.3 L157.5,200.4 L158,200.5 L159,200.7 L159.9,200.9 L160.6,201 L160.9,201.1 L161.9,201.3 L162.9,201.5 L163.6,201.6 L163.9,201.7 L164.9,201.9 L165.9,202.1 L166.5,202.2 L166.9,202.3 L167.9,202.5 L168.9,202.7 L169.4,202.8 L169.9,202.9 L170.9,203 L171.9,203.2 L172.2,203.3 L172.9,203.4 L174,203.6 L175,203.8 L175,203.8 L176,204 L177.1,204.2 L177.7,204.3 L178.1,204.4 L179.2,204.5 L180.2,204.7 L180.3,204.7 L181.3,204.9 L182.3,205.1 L182.9,205.2 L183.4,205.3 L184.5,205.4 L185.5,205.6 L185.5,205.6 L186.6,205.8 L187.7,206 L188,206 L188.8,206.1 L189.9,206.3 L190.5,206.4 L190.9,206.5 L192,206.6 L192.9,206.8 L193.1,206.8 L194.3,207 L195.4,207.1 L195.4,207.1 L196.5,207.3 L197.6,207.5 L197.7,207.5 L198.7,207.6 L199.8,207.8 L200.1,207.8 L201,207.9 L202.1,208.1 L202.4,208.1 L203.3,208.2 L204.4,208.4 L204.7,208.4 L205.6,208.5 L206.7,208.7 L206.9,208.7 L207.9,208.8 L209,209 L209.1,209 L210.2,209.1 L211.3,209.2 L211.4,209.3 L212.6,209.4 L213.5,209.5 L213.7,209.5 L214.9,209.7 L215.7,209.7 L216.1,209.8 L217.3,209.9 L217.8,210 L218.5,210.1 L219.7,210.2 L219.9,210.2 L220.9,210.3 L222,210.4 L222.1,210.4 L223.4,210.6 L224,210.6 L224.6,210.7 L225.8,210.8 L226.1,210.8 L227.1,210.9 L228.1,211 L228.3,211 L229.5,211.1 L230.1,211.2 L230.8,211.3 L232,211.4 L232.1,211.4 L233.3,211.5" fill="none" stroke="#54e617" stroke-width="1.3"/>
<path d="M106.4,169.9 L107.1,170.2 L107.8,170.4 L108.4,170.7 L109.1,170.9 L109.8,171.2 L110.5,171.4 L111.2,171.7 L111.9,171.9 L112.5,172.1 L113.2,172.4 L113.9,172.6 L114.6,172.9 L115.3,173.1 L116,173.4 L116.8,173.6 L117.5,173.9 L118.2,174.1 L118.7,174.3 L118.9,174.3 L119.6,174.6 L120.4,174.8 L121.1,175.1 L121.8,175.3 L122.6,175.5 L123.3,175.8 L124.1,176 L124.8,176.2 L125.6,176.5 L126,176.6 L126.3,176.7 L127.1,176.9 L127.8,177.2 L128.6,177.4 L129.4,177.6 L130.1,177.9 L130.9,178.1 L131.7,178.3 L131.8,178.4 L132.5,178.6 L133.3,178.8 L134.1,179 L134.9,179.2 L135.7,179.5 L136.5,179.7 L136.9,179.8 L137.3,179.9 L138.1,180.1 L138.9,180.4 L139.7,180.6 L140.5,180.8 L141.3,181 L141.4,181 L142.2,181.2 L143,181.5 L143.8,181.7 L144.7,181.9 L145.5,182.1 L145.6,182.1 L146.4,182.3 L147.2,182.5 L148.1,182.7 L148.9,183 L149.5,183.1 L149.8,183.2 L150.6,183.4 L151.5,183.6 L152.4,183.8 L153.2,184 L153.3,184 L154.1,184.2 L155,184.4 L155.9,184.6 L156.7,184.8 L156.8,184.8 L157.7,185 L158.6,185.2 L159.5,185.4 L160.1,185.6 L160.4,185.6 L161.3,185.8 L162.2,186 L163.1,186.2 L163.3,186.3 L164.1,186.4 L165,186.6 L165.9,186.8 L166.4,186.9 L166.9,187 L167.8,187.2 L168.7,187.4 L169.4,187.5 L169.7,187.6 L170.6,187.8 L171.6,187.9 L172.3,188.1 L172.5,188.1 L173.5,188.3 L174.5,188.5 L175.1,188.6 L175.4,188.7 L176.4,188.9 L177.4,189 L177.9,189.1 L178.4,189.2 L179.4,189.4 L180.4,189.6 L180.6,189.6 L181.4,189.8 L182.4,189.9 L183.2,190.1 L183.4,190.1 L184.4,190.3 L185.4,190.4 L185.8,190.5 L186.4,190.6 L187.4,190.8 L188.3,190.9 L188.4,190.9 L189.5,191.1 L190.5,191.3 L190.8,191.3 L191.5,191.4 L192.6,191.6 L193.2,191.7 L193.6,191.8 L194.7,191.9 L195.6,192 L195.7,192.1 L196.8,192.2 L197.9,192.4 L198,192.4 L198.9,192.5 L200,192.7 L200.3,192.7 L201.1,192.8 L202.2,193 L202.5,193 L203.3,193.1 L204.4,193.3 L204.8,193.3 L205.5,193.4 L206.6,193.5 L207,193.6 L207.7,193.7 L208.8,193.8 L209.1,193.9 L209.9,193.9 L211,194.1 L211.3,194.1 L212.2,194.2 L213.3,194.3 L213.4,194.3 L214.4,194.5 L215.4,194.6 L215.6,194.6 L216.7,194.7 L217.5,194.8 L217.9,194.8 L219,195 L219.5,195 L220.2,195.1 L221.4,195.2 L221.5,195.2 L222.5,195.3 L223.5,195.4 L223.7,195.4 L224.9,195.5 L225.4,195.6 L226.1,195.6 L227.3,195.7 L227.4,195.7 L228.5,195.8 L229.3,195.9 L229.7,195.9 L230.9,196 L231.2,196.1 L232.1,196.1 L233,196.2 L233.3,196.2 L234.6,196.3 L234.9,196.3 L235.8,196.4 L236.7,196.5 L237,196.5 L238.3,196.6 L238.5,196.6 L239.5,196.7 L240.3,196.7 L240.8,196.7 L242.1,196.8 L242.1,196.8 L243.3,196.9 L243.8,196.9 L244.6,197 L245.6,197 L245.9,197 L247.2,197.1 L247.3,197.1 L248.5,197.2 L249,197.2 L249.8,197.2 L250.7,197.3 L251.1,197.3 L252.3,197.3 L252.4,197.3 L253.7,197.4 L254,197.4 L255.1,197.4 L255.6,197.5 L256.4,197.5 L257.2,197.5 L257.7,197.5 L258.9,197.6 L259.1,197.6 L260.4,197.6 L260.5,197.6 L261.8,197.6" fill="none" stroke="#b3e617" stroke-width="1.3"/>
<path d="M131.5,160.5 L132.2,160.7 L132.9,160.9 L133.6,161.1 L134.3,161.4 L135,161.6 L135.7,161.8 L136.4,162.1 L137,162.3 L137.1,162.3 L137.8,162.5 L138.5,162.7 L139.2,163 L139.9,163.2 L140.6,163.4 L141.4,163.6 L142.1,163.9 L142.8,164.1 L143.6,164.3 L144.3,164.5 L144.4,164.5 L145.1,164.7 L145.8,165 L146.6,165.2 L147.3,165.4 L148.1,165.6 L148.8,165.8 L149.6,166 L150,166.1 L150.4,166.2 L151.2,166.5 L151.9,166.7 L152.7,166.9 L153.5,167.1 L154.3,167.3 L154.7,167.4 L155.1,167.5 L155.9,167.7 L156.7,167.9 L157.5,168.1 L158.3,168.3 L158.9,168.5 L159.1,168.5 L159.9,168.7 L160.8,168.9 L161.6,169.1 L162.4,169.3 L162.8,169.4 L163.3,169.5 L164.1,169.7 L164.9,169.9 L165.8,170.1 L166.4,170.2 L166.6,170.3 L167.5,170.5 L168.4,170.7 L169.2,170.9 L169.8,171 L170.1,171 L171,171.2 L171.8,171.4 L172.7,171.6 L173,171.6 L173.6,171.8 L174.5,172 L175.4,172.1 L176,172.3 L176.3,172.3 L177.2,172.5 L178.1,172.7 L178.9,172.8 L179,172.9 L179.9,173 L180.8,173.2 L181.7,173.4 L181.8,173.4 L182.7,173.5 L183.6,173.7 L184.5,173.9 L184.6,173.9 L185.5,174 L186.5,174.2 L187.1,174.3 L187.4,174.4 L188.4,174.5 L189.3,174.7 L189.7,174.7 L190.3,174.9 L191.3,175 L192.2,175.2 L192.2,175.2 L193.2,175.3 L194.2,175.5 L194.6,175.5 L195.2,175.6 L196.2,175.8 L196.9,175.9 L197.2,175.9 L198.2,176.1 L199.2,176.2 L199.3,176.2 L200.2,176.4 L201.2,176.5 L201.5,176.5 L202.3,176.6 L203.3,176.8 L203.7,176.8 L204.3,176.9 L205.4,177.1 L205.9,177.1 L206.4,177.2 L207.5,177.3 L208,177.4 L208.5,177.4 L209.6,177.6 L210.1,177.6 L210.6,177.7 L211.7,177.8 L212.2,177.9 L212.8,177.9 L213.9,178.1 L214.2,178.1 L215,178.2 L216.1,178.3 L216.2,178.3 L217.2,178.4 L218.2,178.5 L218.3,178.5 L219.4,178.6 L220.1,178.7 L220.5,178.7 L221.6,178.8 L222,178.9 L222.7,178.9 L223.8,179 L223.9,179 L225,179.1 L225.7,179.2 L226.2,179.2 L227.3,179.3 L227.5,179.3 L228.5,179.4 L229.3,179.5 L229.6,179.5 L230.8,179.6 L231.1,179.6 L232,179.7 L232.8,179.7 L233.2,179.7 L234.4,179.8 L234.5,179.8 L235.6,179.9 L236.2,179.9 L236.8,180 L237.9,180 L238,180 L239.2,180.1 L239.6,180.1 L240.4,180.2 L241.2,180.2 L241.7,180.2 L242.9,180.3 L242.9,180.3 L244.2,180.3 L244.5,180.3 L245.4,180.4 L246,180.4 L246.7,180.4 L247.6,180.5 L248,180.5 L249.2,180.5 L249.2,180.5 L250.5,180.5 L250.7,180.6" fill="none" stroke="#e6b817" stroke-width="1.3"/>
<circle cx="165.5" cy="244.4" r="1.15" fill="#000"/>
<circle cx="146" cy="235.6" r="1.15" fill="#000"/>
<circle cx="126.6" cy="226.8" r="1.15" fill="#000"/>
<circle cx="107.1" cy="218" r="1.15" fill="#000"/>
<circle cx="87.6" cy="209.3" r="1.15" fill="#000"/>
<circle cx="68.1" cy="200.5" r="1.15" fill="#000"/>
<circle cx="48.6" cy="191.7" r="1.15" fill="#000"/>
<circle cx="165.5" cy="244.4" r="1.15" fill="#000"/>
<circle cx="193.5" cy="230.8" r="1.15" fill="#000"/>
<circle cx="221.5" cy="217.2" r="1.15" fill="#000"/>
<circle cx="249.5" cy="203.6" r="1.15" fill="#000"/>
<circle cx="277.5" cy="190" r="1.15" fill="#000"/>
<circle cx="47" cy="154.6" r="1.15" fill="#000"/>
<circle cx="46.3" cy="137.4" r="1.15" fill="#000"/>
<circle cx="45.5" cy="120.2" r="1.15" fill="#000"/>
<circle cx="44.8" cy="103.1" r="1.15" fill="#000"/>
<circle cx="44" cy="85.9" r="1.15" fill="#000"/>
<circle cx="43.3" cy="68.7" r="1.15" fill="#000"/>
<circle cx="42.6" cy="51.6" r="1.15" fill="#000"/>
<circle cx="41.8" cy="34.4" r="1.15" fill="#000"/>
<polygon points="161.6,33.6 166.9,30.8 161.5,29.4 156.2,32.2" fill="url(#A1)"/>
<polygon points="156.3,36.5 161.6,33.6 156.2,32.2 150.9,35.1" fill="url(#A2)"/>
<polygon points="167.1,35.1 172.4,32.3 166.9,30.8 161.6,33.6" fill="url(#A3)"/>
<polygon points="150.9,39.6 156.3,36.5 150.9,35.1 145.5,38.1" fill="url(#A4)"/>
<polygon points="161.8,38 167.1,35.1 161.6,33.6 156.3,36.5" fill="url(#A5)"/>
<polygon points="172.7,36.7 177.9,33.9 172.4,32.3 167.1,35.1" fill="url(#A6)"/>
<polygon points="145.5,42.7 150.9,39.6 145.5,38.1 140.1,41.3" fill="url(#A7)"/>
<polygon points="156.4,41.1 161.8,38 156.3,36.5 150.9,39.6" fill="url(#A8)"/>
<polygon points="167.3,39.6 172.7,36.7 167.1,35.1 161.8,38" fill="url(#A9)"/>
<polygon points="178.3,38.3 183.5,35.5 177.9,33.9 172.7,36.7" fill="url(#A10)"/>
<polygon points="140,46 145.5,42.7 140.1,41.3 134.6,44.6" fill="url(#A11)"/>
<polygon points="151,44.3 156.4,41.1 150.9,39.6 145.5,42.7" fill="url(#A12)"/>
<polygon points="162,42.7 167.3,39.6 161.8,38 156.4,41.1" fill="url(#A13)"/>
<polygon points="172.9,41.3 178.3,38.3 172.7,36.7 167.3,39.6" fill="url(#A14)"/>
<polygon points="183.9,40.1 189.2,37.2 183.5,35.5 178.3,38.3" fill="url(#A15)"/>
<polygon points="134.5,49.5 140,46 134.6,44.6 129.1,48" fill="url(#A16)"/>
<polygon points="145.5,47.6 151,44.3 145.5,42.7 140,46" fill="url(#A17)"/>
<polygon points="156.5,45.9 162,42.7 156.4,41.1 151,44.3" fill="url(#A18)"/>
<polygon points="167.6,44.4 172.9,41.3 167.3,39.6 162,42.7" fill="url(#A19)"/>
<polygon points="178.6,43.1 183.9,40.1 178.3,38.3 172.9,41.3" fill="url(#A20)"/>
<polygon points="189.7,41.9 194.9,39 189.2,37.2 183.9,40.1" fill="url(#A21)"/>
<polygon points="128.9,53 134.5,49.5 129.1,48 123.5,51.5" fill="url(#A22)"/>
<polygon points="139.9,51.1 145.5,47.6 140,46 134.5,49.5" fill="url(#A23)"/>
<polygon points="151,49.3 156.5,45.9 151,44.3 145.5,47.6" fill="url(#A24)"/>
<polygon points="162.1,47.6 167.6,44.4 162,42.7 156.5,45.9" fill="url(#A25)"/>
<polygon points="173.2,46.2 178.6,43.1 172.9,41.3 167.6,44.4" fill="url(#A26)"/>
<polygon points="184.3,44.9 189.7,41.9 183.9,40.1 178.6,43.1" fill="url(#A27)"/>
<polygon points="195.5,43.8 200.7,40.9 194.9,39 189.7,41.9" fill="url(#A28)"/>
<polygon points="123.2,56.7 128.9,53 123.5,51.5 117.8,55.2" fill="url(#A29)"/>
<polygon points="134.3,54.6 139.9,51.1 134.5,49.5 128.9,53" fill="url(#A30)"/>
<polygon points="145.5,52.7 151,49.3 145.5,47.6 139.9,51.1" fill="url(#A31)"/>
<polygon points="156.6,51 162.1,47.6 156.5,45.9 151,49.3" fill="url(#A32)"/>
<polygon points="167.8,49.5 173.2,46.2 167.6,44.4 162.1,47.6" fill="url(#A33)"/>
<polygon points="179,48.1 184.3,44.9 178.6,43.1 173.2,46.2" fill="url(#A34)"/>
<polygon points="190.1,46.9 195.5,43.8 189.7,41.9 184.3,44.9" fill="url(#A35)"/>
<polygon points="201.3,45.8 206.6,42.9 200.7,40.9 195.5,43.8" fill="url(#A36)"/>
<polygon points="117.5,60.5 123.2,56.7 117.8,55.2 112.1,59" fill="url(#A37)"/>
<polygon points="128.7,58.4 134.3,54.6 128.9,53 123.2,56.7" fill="url(#A38)"/>
<polygon points="139.9,56.3 145.5,52.7 139.9,51.1 134.3,54.6" fill="url(#A39)"/>
<polygon points="151.1,54.5 156.6,51 151,49.3 145.5,52.7" fill="url(#A40)"/>
<polygon points="162.3,52.8 167.8,49.5 162.1,47.6 156.6,51" fill="url(#A41)"/>
<polygon points="173.5,51.3 179,48.1 173.2,46.2 167.8,49.5" fill="url(#A42)"/>
<polygon points="184.8,50 190.1,46.9 184.3,44.9 179,48.1" fill="url(#A43)"/>
<polygon points="196,48.9 201.3,45.8 195.5,43.8 190.1,46.9" fill="url(#A44)"/>
<polygon points="207.3,47.9 212.5,45 206.6,42.9 201.3,45.8" fill="url(#A45)"/>
<polygon points="111.7,64.5 117.5,60.5 112.1,59 106.3,62.9" fill="url(#A46)"/>
<polygon points="122.9,62.2 128.7,58.4 123.2,56.7 117.5,60.5" fill="url(#A47)"/>
<polygon points="134.2,60.1 139.9,56.3 134.3,54.6 128.7,58.4" fill="url(#A48)"/>
<polygon points="145.5,58.1 151.1,54.5 145.5,52.7 139.9,56.3" fill="url(#A49)"/>
<polygon points="156.8,56.3 162.3,52.8 156.6,51 151.1,54.5" fill="url(#A50)"/>
<polygon points="168,54.7 173.5,51.3 167.8,49.5 162.3,52.8" fill="url(#A51)"/>
<polygon points="179.3,53.3 184.8,50 179,48.1 173.5,51.3" fill="url(#A52)"/>
<polygon points="190.6,52.1 196,48.9 190.1,46.9 184.8,50" fill="url(#A53)"/>
<polygon points="201.9,51 207.3,47.9 201.3,45.8 196,48.9" fill="url(#A54)"/>
<polygon points="213.2,50.1 218.5,47.2 212.5,45 207.3,47.9" fill="url(#A55)"/>
<polygon points="105.8,68.6 111.7,64.5 106.3,62.9 100.4,67" fill="url(#A56)"/>
<polygon points="117.1,66.2 122.9,62.2 117.5,60.5 111.7,64.5" fill="url(#A57)"/>
<polygon points="128.5,64 134.2,60.1 128.7,58.4 122.9,62.2" fill="url(#A58)"/>
<polygon points="139.8,61.9 145.5,58.1 139.9,56.3 134.2,60.1" fill="url(#A59)"/>
<polygon points="151.1,60 156.8,56.3 151.1,54.5 145.5,58.1" fill="url(#A60)"/>
<polygon points="162.5,58.3 168,54.7 162.3,52.8 156.8,56.3" fill="url(#A61)"/>
<polygon points="173.8,56.8 179.3,53.3 173.5,51.3 168,54.7" fill="url(#A62)"/>
<polygon points="185.2,55.4 190.6,52.1 184.8,50 179.3,53.3" fill="url(#A63)"/>
<polygon points="196.6,54.2 201.9,51 196,48.9 190.6,52.1" fill="url(#A64)"/>
<polygon points="219.3,52.4 224.5,49.4 218.5,47.2 213.2,50.1" fill="url(#A65)"/>
<polygon points="207.9,53.2 213.2,50.1 207.3,47.9 201.9,51" fill="url(#A66)"/>
<polygon points="99.9,72.8 105.8,68.6 100.4,67 94.5,71.2" fill="url(#A67)"/>
<polygon points="111.3,70.3 117.1,66.2 111.7,64.5 105.8,68.6" fill="url(#A68)"/>
<polygon points="122.7,68 128.5,64 122.9,62.2 117.1,66.2" fill="url(#A69)"/>
<polygon points="134.1,65.8 139.8,61.9 134.2,60.1 128.5,64" fill="url(#A70)"/>
<polygon points="145.5,63.8 151.1,60 145.5,58.1 139.8,61.9" fill="url(#A71)"/>
<polygon points="156.9,62 162.5,58.3 156.8,56.3 151.1,60" fill="url(#A72)"/>
<polygon points="168.3,60.3 173.8,56.8 168,54.7 162.5,58.3" fill="url(#A73)"/>
<polygon points="179.7,58.9 185.2,55.4 179.3,53.3 173.8,56.8" fill="url(#A74)"/>
<polygon points="191.1,57.6 196.6,54.2 190.6,52.1 185.2,55.4" fill="url(#A75)"/>
<polygon points="225.4,54.8 230.7,51.8 224.5,49.4 219.3,52.4" fill="url(#A76)"/>
<polygon points="202.6,56.5 207.9,53.2 201.9,51 196.6,54.2" fill="url(#A77)"/>
<polygon points="214,55.5 219.3,52.4 213.2,50.1 207.9,53.2" fill="url(#A78)"/>
<polygon points="93.9,77.2 99.9,72.8 94.5,71.2 88.6,75.6" fill="url(#A79)"/>
<polygon points="105.4,74.6 111.3,70.3 105.8,68.6 99.9,72.8" fill="url(#A80)"/>
<polygon points="116.8,72.1 122.7,68 117.1,66.2 111.3,70.3" fill="url(#A81)"/>
<polygon points="128.2,69.8 134.1,65.8 128.5,64 122.7,68" fill="url(#A82)"/>
<polygon points="139.7,67.7 145.5,63.8 139.8,61.9 134.1,65.8" fill="url(#A83)"/>
<polygon points="151.2,65.8 156.9,62 151.1,60 145.5,63.8" fill="url(#A84)"/>
<polygon points="162.7,64 168.3,60.3 162.5,58.3 156.9,62" fill="url(#A85)"/>
<polygon points="174.2,62.4 179.7,58.9 173.8,56.8 168.3,60.3" fill="url(#A86)"/>
<polygon points="185.7,61.1 191.1,57.6 185.2,55.4 179.7,58.9" fill="url(#A87)"/>
<polygon points="197.2,59.8 202.6,56.5 196.6,54.2 191.1,57.6" fill="url(#A88)"/>
<polygon points="231.6,57.3 236.9,54.2 230.7,51.8 225.4,54.8" fill="url(#A89)"/>
<polygon points="208.7,58.8 214,55.5 207.9,53.2 202.6,56.5" fill="url(#A90)"/>
<polygon points="220.2,57.9 225.4,54.8 219.3,52.4 214,55.5" fill="url(#A91)"/>
<polygon points="87.9,81.8 93.9,77.2 88.6,75.6 82.6,80.1" fill="url(#A92)"/>
<polygon points="99.4,79 105.4,74.6 99.9,72.8 93.9,77.2" fill="url(#A93)"/>
<polygon points="110.9,76.4 116.8,72.1 111.3,70.3 105.4,74.6" fill="url(#A94)"/>
<polygon points="122.4,74 128.2,69.8 122.7,68 116.8,72.1" fill="url(#A95)"/>
<polygon points="133.9,71.8 139.7,67.7 134.1,65.8 128.2,69.8" fill="url(#A96)"/>
<polygon points="145.4,69.7 151.2,65.8 145.5,63.8 139.7,67.7" fill="url(#A97)"/>
<polygon points="157,67.9 162.7,64 156.9,62 151.2,65.8" fill="url(#A98)"/>
<polygon points="168.5,66.2 174.2,62.4 168.3,60.3 162.7,64" fill="url(#A99)"/>
<polygon points="180.1,64.7 185.7,61.1 179.7,58.9 174.2,62.4" fill="url(#A100)"/>
<polygon points="191.7,63.3 197.2,59.8 191.1,57.6 185.7,61.1" fill="url(#A101)"/>
<polygon points="237.9,59.8 243.1,56.8 236.9,54.2 231.6,57.3" fill="url(#A102)"/>
<polygon points="203.2,62.2 208.7,58.8 202.6,56.5 197.2,59.8" fill="url(#A103)"/>
<polygon points="226.4,60.4 231.6,57.3 225.4,54.8 220.2,57.9" fill="url(#A104)"/>
<polygon points="214.8,61.2 220.2,57.9 214,55.5 208.7,58.8" fill="url(#A105)"/>
<polygon points="81.8,86.4 87.9,81.8 82.6,80.1 76.5,84.7" fill="url(#A106)"/>
<polygon points="93.3,83.6 99.4,79 93.9,77.2 87.9,81.8" fill="url(#A107)"/>
<polygon points="104.9,80.9 110.9,76.4 105.4,74.6 99.4,79" fill="url(#A108)"/>
<polygon points="116.5,78.3 122.4,74 116.8,72.1 110.9,76.4" fill="url(#A109)"/>
<polygon points="128,76 133.9,71.8 128.2,69.8 122.4,74" fill="url(#A110)"/>
<polygon points="139.6,73.8 145.4,69.7 139.7,67.7 133.9,71.8" fill="url(#A111)"/>
<polygon points="151.2,71.8 157,67.9 151.2,65.8 145.4,69.7" fill="url(#A112)"/>
<polygon points="162.9,70 168.5,66.2 162.7,64 157,67.9" fill="url(#A113)"/>
<polygon points="174.5,68.4 180.1,64.7 174.2,62.4 168.5,66.2" fill="url(#A114)"/>
<polygon points="186.1,67 191.7,63.3 185.7,61.1 180.1,64.7" fill="url(#A115)"/>
<polygon points="244.3,62.5 249.5,59.4 243.1,56.8 237.9,59.8" fill="url(#A116)"/>
<polygon points="197.7,65.7 203.2,62.2 197.2,59.8 191.7,63.3" fill="url(#A117)"/>
<polygon points="232.6,63 237.9,59.8 231.6,57.3 226.4,60.4" fill="url(#A118)"/>
<polygon points="209.4,64.6 214.8,61.2 208.7,58.8 203.2,62.2" fill="url(#A119)"/>
<polygon points="221,63.8 226.4,60.4 220.2,57.9 214.8,61.2" fill="url(#A120)"/>
<polygon points="75.7,91.3 81.8,86.4 76.5,84.7 70.3,89.5" fill="url(#A121)"/>
<polygon points="87.2,88.3 93.3,83.6 87.9,81.8 81.8,86.4" fill="url(#A122)"/>
<polygon points="98.8,85.5 104.9,80.9 99.4,79 93.3,83.6" fill="url(#A123)"/>
<polygon points="110.5,82.8 116.5,78.3 110.9,76.4 104.9,80.9" fill="url(#A124)"/>
<polygon points="122.1,80.4 128,76 122.4,74 116.5,78.3" fill="url(#A125)"/>
<polygon points="133.8,78.1 139.6,73.8 133.9,71.8 128,76" fill="url(#A126)"/>
<polygon points="145.4,76 151.2,71.8 145.4,69.7 139.6,73.8" fill="url(#A127)"/>
<polygon points="157.1,74.1 162.9,70 157,67.9 151.2,71.8" fill="url(#A128)"/>
<polygon points="168.8,72.3 174.5,68.4 168.5,66.2 162.9,70" fill="url(#A129)"/>
<polygon points="180.5,70.8 186.1,67 180.1,64.7 174.5,68.4" fill="url(#A130)"/>
<polygon points="250.7,65.3 255.9,62.2 249.5,59.4 244.3,62.5" fill="url(#A131)"/>
<polygon points="192.2,69.4 197.7,65.7 191.7,63.3 186.1,67" fill="url(#A132)"/>
<polygon points="239,65.7 244.3,62.5 237.9,59.8 232.6,63" fill="url(#A133)"/>
<polygon points="203.9,68.2 209.4,64.6 203.2,62.2 197.7,65.7" fill="url(#A134)"/>
<polygon points="227.3,66.4 232.6,63 226.4,60.4 221,63.8" fill="url(#A135)"/>
<polygon points="215.6,67.2 221,63.8 214.8,61.2 209.4,64.6" fill="url(#A136)"/>
<polygon points="69.4,96.2 75.7,91.3 70.3,89.5 64.1,94.4" fill="url(#A137)"/>
<polygon points="81.1,93.1 87.2,88.3 81.8,86.4 75.7,91.3" fill="url(#A138)"/>
<polygon points="92.7,90.2 98.8,85.5 93.3,83.6 87.2,88.3" fill="url(#A139)"/>
<polygon points="104.4,87.4 110.5,82.8 104.9,80.9 98.8,85.5" fill="url(#A140)"/>
<polygon points="116.1,84.9 122.1,80.4 116.5,78.3 110.5,82.8" fill="url(#A141)"/>
<polygon points="127.8,82.5 133.8,78.1 128,76 122.1,80.4" fill="url(#A142)"/>
<polygon points="139.6,80.2 145.4,76 139.6,73.8 133.8,78.1" fill="url(#A143)"/>
<polygon points="151.3,78.2 157.1,74.1 151.2,71.8 145.4,76" fill="url(#A144)"/>
<polygon points="163.1,76.4 168.8,72.3 162.9,70 157.1,74.1" fill="url(#A145)"/>
<polygon points="174.8,74.7 180.5,70.8 174.5,68.4 168.8,72.3" fill="url(#A146)"/>
<polygon points="257.2,68.2 262.3,65 255.9,62.2 250.7,65.3" fill="url(#A147)"/>
<polygon points="186.6,73.2 192.2,69.4 186.1,67 180.5,70.8" fill="url(#A148)"/>
<polygon points="245.4,68.5 250.7,65.3 244.3,62.5 239,65.7" fill="url(#A149)"/>
<polygon points="198.3,71.9 203.9,68.2 197.7,65.7 192.2,69.4" fill="url(#A150)"/>
<polygon points="233.6,69.1 239,65.7 232.6,63 227.3,66.4" fill="url(#A151)"/>
<polygon points="210.1,70.8 215.6,67.2 209.4,64.6 203.9,68.2" fill="url(#A152)"/>
<polygon points="221.9,69.9 227.3,66.4 221,63.8 215.6,67.2" fill="url(#A153)"/>
<polygon points="63.2,101.4 69.4,96.2 64.1,94.4 57.8,99.5" fill="url(#A154)"/>
<polygon points="74.8,98.1 81.1,93.1 75.7,91.3 69.4,96.2" fill="url(#A155)"/>
<polygon points="86.6,95.1 92.7,90.2 87.2,88.3 81.1,93.1" fill="url(#A156)"/>
<polygon points="98.3,92.2 104.4,87.4 98.8,85.5 92.7,90.2" fill="url(#A157)"/>
<polygon points="110.1,89.5 116.1,84.9 110.5,82.8 104.4,87.4" fill="url(#A158)"/>
<polygon points="121.8,87 127.8,82.5 122.1,80.4 116.1,84.9" fill="url(#A159)"/>
<polygon points="133.6,84.7 139.6,80.2 133.8,78.1 127.8,82.5" fill="url(#A160)"/>
<polygon points="145.4,82.5 151.3,78.2 145.4,76 139.6,80.2" fill="url(#A161)"/>
<polygon points="157.2,80.5 163.1,76.4 157.1,74.1 151.3,78.2" fill="url(#A162)"/>
<polygon points="169.1,78.8 174.8,74.7 168.8,72.3 163.1,76.4" fill="url(#A163)"/>
<polygon points="56.8,106.6 63.2,101.4 57.8,99.5 51.5,104.8" fill="url(#A164)"/>
<polygon points="263.7,71.1 268.9,68 262.3,65 257.2,68.2" fill="url(#A165)"/>
<polygon points="180.9,77.2 186.6,73.2 180.5,70.8 174.8,74.7" fill="url(#A166)"/>
<polygon points="251.9,71.4 257.2,68.2 250.7,65.3 245.4,68.5" fill="url(#A167)"/>
<polygon points="192.7,75.7 198.3,71.9 192.2,69.4 186.6,73.2" fill="url(#A168)"/>
<polygon points="240.1,71.9 245.4,68.5 239,65.7 233.6,69.1" fill="url(#A169)"/>
<polygon points="204.6,74.5 210.1,70.8 203.9,68.2 198.3,71.9" fill="url(#A170)"/>
<polygon points="228.2,72.6 233.6,69.1 227.3,66.4 221.9,69.9" fill="url(#A171)"/>
<polygon points="216.4,73.5 221.9,69.9 215.6,67.2 210.1,70.8" fill="url(#A172)"/>
<polygon points="68.5,103.3 74.8,98.1 69.4,96.2 63.2,101.4" fill="url(#A173)"/>
<polygon points="80.3,100.1 86.6,95.1 81.1,93.1 74.8,98.1" fill="url(#A174)"/>
<polygon points="92.1,97.1 98.3,92.2 92.7,90.2 86.6,95.1" fill="url(#A175)"/>
<polygon points="103.9,94.3 110.1,89.5 104.4,87.4 98.3,92.2" fill="url(#A176)"/>
<polygon points="115.8,91.7 121.8,87 116.1,84.9 110.1,89.5" fill="url(#A177)"/>
<polygon points="127.6,89.2 133.6,84.7 127.8,82.5 121.8,87" fill="url(#A178)"/>
<polygon points="139.5,87 145.4,82.5 139.6,80.2 133.6,84.7" fill="url(#A179)"/>
<polygon points="151.4,84.9 157.2,80.5 151.3,78.2 145.4,82.5" fill="url(#A180)"/>
<polygon points="50.4,112.1 56.8,106.6 51.5,104.8 45.1,110.2" fill="url(#A181)"/>
<polygon points="163.2,83 169.1,78.8 163.1,76.4 157.2,80.5" fill="url(#A182)"/>
<polygon points="175.1,81.3 180.9,77.2 174.8,74.7 169.1,78.8" fill="url(#A183)"/>
<polygon points="270.3,74.2 275.5,71 268.9,68 263.7,71.1" fill="url(#A184)"/>
<polygon points="187.1,79.7 192.7,75.7 186.6,73.2 180.9,77.2" fill="url(#A185)"/>
<polygon points="258.5,74.5 263.7,71.1 257.2,68.2 251.9,71.4" fill="url(#A186)"/>
<polygon points="62.2,108.6 68.5,103.3 63.2,101.4 56.8,106.6" fill="url(#A187)"/>
<polygon points="199,78.4 204.6,74.5 198.3,71.9 192.7,75.7" fill="url(#A188)"/>
<polygon points="246.6,74.9 251.9,71.4 245.4,68.5 240.1,71.9" fill="url(#A189)"/>
<polygon points="210.9,77.2 216.4,73.5 210.1,70.8 204.6,74.5" fill="url(#A190)"/>
<polygon points="234.7,75.5 240.1,71.9 233.6,69.1 228.2,72.6" fill="url(#A191)"/>
<polygon points="222.8,76.3 228.2,72.6 221.9,69.9 216.4,73.5" fill="url(#A192)"/>
<polygon points="74,105.3 80.3,100.1 74.8,98.1 68.5,103.3" fill="url(#A193)"/>
<polygon points="85.9,102.2 92.1,97.1 86.6,95.1 80.3,100.1" fill="url(#A194)"/>
<polygon points="97.7,99.3 103.9,94.3 98.3,92.2 92.1,97.1" fill="url(#A195)"/>
<polygon points="109.6,96.5 115.8,91.7 110.1,89.5 103.9,94.3" fill="url(#A196)"/>
<polygon points="121.5,94 127.6,89.2 121.8,87 115.8,91.7" fill="url(#A197)"/>
<polygon points="133.5,91.6 139.5,87 133.6,84.7 127.6,89.2" fill="url(#A198)"/>
<polygon points="145.4,89.4 151.4,84.9 145.4,82.5 139.5,87" fill="url(#A199)"/>
<polygon points="157.4,87.3 163.2,83 157.2,80.5 151.4,84.9" fill="url(#A200)"/>
<polygon points="55.8,114.1 62.2,108.6 56.8,106.6 50.4,112.1" fill="url(#A201)"/>
<polygon points="169.3,85.5 175.1,81.3 169.1,78.8 163.2,83" fill="url(#A202)"/>
<polygon points="277.1,77.4 282.2,74.2 275.5,71 270.3,74.2" fill="url(#A203)"/>
<polygon points="181.3,83.9 187.1,79.7 180.9,77.2 175.1,81.3" fill="url(#A204)"/>
<polygon points="265.1,77.6 270.3,74.2 263.7,71.1 258.5,74.5" fill="url(#A205)"/>
<polygon points="193.3,82.4 199,78.4 192.7,75.7 187.1,79.7" fill="url(#A206)"/>
<polygon points="253.2,77.9 258.5,74.5 251.9,71.4 246.6,74.9" fill="url(#A207)"/>
<polygon points="205.3,81.1 210.9,77.2 204.6,74.5 199,78.4" fill="url(#A208)"/>
<polygon points="241.2,78.4 246.6,74.9 240.1,71.9 234.7,75.5" fill="url(#A209)"/>
<polygon points="217.2,80 222.8,76.3 216.4,73.5 210.9,77.2" fill="url(#A210)"/>
<polygon points="229.2,79.1 234.7,75.5 228.2,72.6 222.8,76.3" fill="url(#A211)"/>
<polygon points="67.6,110.7 74,105.3 68.5,103.3 62.2,108.6" fill="url(#A212)"/>
<polygon points="79.5,107.4 85.9,102.2 80.3,100.1 74,105.3" fill="url(#A213)"/>
<polygon points="91.5,104.4 97.7,99.3 92.1,97.1 85.9,102.2" fill="url(#A214)"/>
<polygon points="103.4,101.5 109.6,96.5 103.9,94.3 97.7,99.3" fill="url(#A215)"/>
<polygon points="115.4,98.8 121.5,94 115.8,91.7 109.6,96.5" fill="url(#A216)"/>
<polygon points="127.4,96.3 133.5,91.6 127.6,89.2 121.5,94" fill="url(#A217)"/>
<polygon points="139.4,94 145.4,89.4 139.5,87 133.5,91.6" fill="url(#A218)"/>
<polygon points="151.4,91.9 157.4,87.3 151.4,84.9 145.4,89.4" fill="url(#A219)"/>
<polygon points="163.5,89.9 169.3,85.5 163.2,83 157.4,87.3" fill="url(#A220)"/>
<polygon points="175.5,88.1 181.3,83.9 175.1,81.3 169.3,85.5" fill="url(#A221)"/>
<polygon points="271.8,80.8 277.1,77.4 270.3,74.2 265.1,77.6" fill="url(#A222)"/>
<polygon points="187.5,86.6 193.3,82.4 187.1,79.7 181.3,83.9" fill="url(#A223)"/>
<polygon points="61.2,116.2 67.6,110.7 62.2,108.6 55.8,114.1" fill="url(#A224)"/>
<polygon points="259.8,81.1 265.1,77.6 258.5,74.5 253.2,77.9" fill="url(#A225)"/>
<polygon points="199.6,85.2 205.3,81.1 199,78.4 193.3,82.4" fill="url(#A226)"/>
<polygon points="247.8,81.5 253.2,77.9 246.6,74.9 241.2,78.4" fill="url(#A227)"/>
<polygon points="211.6,84 217.2,80 210.9,77.2 205.3,81.1" fill="url(#A228)"/>
<polygon points="235.7,82.1 241.2,78.4 234.7,75.5 229.2,79.1" fill="url(#A229)"/>
<polygon points="223.7,83 229.2,79.1 222.8,76.3 217.2,80" fill="url(#A230)"/>
<polygon points="73.2,112.8 79.5,107.4 74,105.3 67.6,110.7" fill="url(#A231)"/>
<polygon points="85.2,109.6 91.5,104.4 85.9,102.2 79.5,107.4" fill="url(#A232)"/>
<polygon points="97.2,106.7 103.4,101.5 97.7,99.3 91.5,104.4" fill="url(#A233)"/>
<polygon points="109.2,103.9 115.4,98.8 109.6,96.5 103.4,101.5" fill="url(#A234)"/>
<polygon points="121.3,101.2 127.4,96.3 121.5,94 115.4,98.8" fill="url(#A235)"/>
<polygon points="133.3,98.8 139.4,94 133.5,91.6 127.4,96.3" fill="url(#A236)"/>
<polygon points="145.4,96.5 151.4,91.9 145.4,89.4 139.4,94" fill="url(#A237)"/>
<polygon points="157.5,94.5 163.5,89.9 157.4,87.3 151.4,91.9" fill="url(#A238)"/>
<polygon points="169.6,92.6 175.5,88.1 169.3,85.5 163.5,89.9" fill="url(#A239)"/>
<polygon points="181.7,90.9 187.5,86.6 181.3,83.9 175.5,88.1" fill="url(#A240)"/>
<polygon points="266.5,84.3 271.8,80.8 265.1,77.6 259.8,81.1" fill="url(#A241)"/>
<polygon points="193.8,89.4 199.6,85.2 193.3,82.4 187.5,86.6" fill="url(#A242)"/>
<polygon points="254.4,84.7 259.8,81.1 253.2,77.9 247.8,81.5" fill="url(#A243)"/>
<polygon points="206,88.1 211.6,84 205.3,81.1 199.6,85.2" fill="url(#A244)"/>
<polygon points="242.3,85.2 247.8,81.5 241.2,78.4 235.7,82.1" fill="url(#A245)"/>
<polygon points="218.1,86.9 223.7,83 217.2,80 211.6,84" fill="url(#A246)"/>
<polygon points="230.2,86 235.7,82.1 229.2,79.1 223.7,83" fill="url(#A247)"/>
<polygon points="66.7,118.4 73.2,112.8 67.6,110.7 61.2,116.2" fill="url(#A248)"/>
<polygon points="78.8,115.1 85.2,109.6 79.5,107.4 73.2,112.8" fill="url(#A249)"/>
<polygon points="90.8,112 97.2,106.7 91.5,104.4 85.2,109.6" fill="url(#A250)"/>
<polygon points="102.9,109 109.2,103.9 103.4,101.5 97.2,106.7" fill="url(#A251)"/>
<polygon points="115,106.3 121.3,101.2 115.4,98.8 109.2,103.9" fill="url(#A252)"/>
<polygon points="127.2,103.7 133.3,98.8 127.4,96.3 121.3,101.2" fill="url(#A253)"/>
<polygon points="139.3,101.4 145.4,96.5 139.4,94 133.3,98.8" fill="url(#A254)"/>
<polygon points="151.5,99.2 157.5,94.5 151.4,91.9 145.4,96.5" fill="url(#A255)"/>
<polygon points="163.7,97.2 169.6,92.6 163.5,89.9 157.5,94.5" fill="url(#A256)"/>
<polygon points="175.8,95.4 181.7,90.9 175.5,88.1 169.6,92.6" fill="url(#A257)"/>
<polygon points="188,93.7 193.8,89.4 187.5,86.6 181.7,90.9" fill="url(#A258)"/>
<polygon points="261.2,88 266.5,84.3 259.8,81.1 254.4,84.7" fill="url(#A259)"/>
<polygon points="200.2,92.3 206,88.1 199.6,85.2 193.8,89.4" fill="url(#A260)"/>
<polygon points="249,88.5 254.4,84.7 247.8,81.5 242.3,85.2" fill="url(#A261)"/>
<polygon points="212.4,91.1 218.1,86.9 211.6,84 206,88.1" fill="url(#A262)"/>
<polygon points="236.8,89.1 242.3,85.2 235.7,82.1 230.2,86" fill="url(#A263)"/>
<polygon points="224.6,90 230.2,86 223.7,83 218.1,86.9" fill="url(#A264)"/>
<polygon points="72.3,120.7 78.8,115.1 73.2,112.8 66.7,118.4" fill="url(#A265)"/>
<polygon points="84.4,117.4 90.8,112 85.2,109.6 78.8,115.1" fill="url(#A266)"/>
<polygon points="96.6,114.4 102.9,109 97.2,106.7 90.8,112" fill="url(#A267)"/>
<polygon points="108.8,111.5 115,106.3 109.2,103.9 102.9,109" fill="url(#A268)"/>
<polygon points="121,108.8 127.2,103.7 121.3,101.2 115,106.3" fill="url(#A269)"/>
<polygon points="133.2,106.3 139.3,101.4 133.3,98.8 127.2,103.7" fill="url(#A270)"/>
<polygon points="145.4,104 151.5,99.2 145.4,96.5 139.3,101.4" fill="url(#A271)"/>
<polygon points="157.6,101.9 163.7,97.2 157.5,94.5 151.5,99.2" fill="url(#A272)"/>
<polygon points="169.9,100 175.8,95.4 169.6,92.6 163.7,97.2" fill="url(#A273)"/>
<polygon points="182.2,98.2 188,93.7 181.7,90.9 175.8,95.4" fill="url(#A274)"/>
<polygon points="194.4,96.7 200.2,92.3 193.8,89.4 188,93.7" fill="url(#A275)"/>
<polygon points="255.7,91.8 261.2,88 254.4,84.7 249,88.5" fill="url(#A276)"/>
<polygon points="206.7,95.3 212.4,91.1 206,88.1 200.2,92.3" fill="url(#A277)"/>
<polygon points="243.5,92.4 249,88.5 242.3,85.2 236.8,89.1" fill="url(#A278)"/>
<polygon points="219,94.2 224.6,90 218.1,86.9 212.4,91.1" fill="url(#A279)"/>
<polygon points="231.2,93.2 236.8,89.1 230.2,86 224.6,90" fill="url(#A280)"/>
<polygon points="78,123.1 84.4,117.4 78.8,115.1 72.3,120.7" fill="url(#A281)"/>
<polygon points="90.2,119.9 96.6,114.4 90.8,112 84.4,117.4" fill="url(#A282)"/>
<polygon points="102.4,116.9 108.8,111.5 102.9,109 96.6,114.4" fill="url(#A283)"/>
<polygon points="114.7,114.1 121,108.8 115,106.3 108.8,111.5" fill="url(#A284)"/>
<polygon points="126.9,111.5 133.2,106.3 127.2,103.7 121,108.8" fill="url(#A285)"/>
<polygon points="139.2,109.1 145.4,104 139.3,101.4 133.2,106.3" fill="url(#A286)"/>
<polygon points="151.5,106.8 157.6,101.9 151.5,99.2 145.4,104" fill="url(#A287)"/>
<polygon points="163.9,104.8 169.9,100 163.7,97.2 157.6,101.9" fill="url(#A288)"/>
<polygon points="176.2,102.9 182.2,98.2 175.8,95.4 169.9,100" fill="url(#A289)"/>
<polygon points="188.5,101.2 194.4,96.7 188,93.7 182.2,98.2" fill="url(#A290)"/>
<polygon points="200.9,99.7 206.7,95.3 200.2,92.3 194.4,96.7" fill="url(#A291)"/>
<polygon points="250.2,95.7 255.7,91.8 249,88.5 243.5,92.4" fill="url(#A292)"/>
<polygon points="213.2,98.5 219,94.2 212.4,91.1 206.7,95.3" fill="url(#A293)"/>
<polygon points="237.9,96.5 243.5,92.4 236.8,89.1 231.2,93.2" fill="url(#A294)"/>
<polygon points="225.6,97.4 231.2,93.2 224.6,90 219,94.2" fill="url(#A295)"/>
<polygon points="83.7,125.6 90.2,119.9 84.4,117.4 78,123.1" fill="url(#A296)"/>
<polygon points="96,122.5 102.4,116.9 96.6,114.4 90.2,119.9" fill="url(#A297)"/>
<polygon points="108.3,119.5 114.7,114.1 108.8,111.5 102.4,116.9" fill="url(#A298)"/>
<polygon points="120.7,116.8 126.9,111.5 121,108.8 114.7,114.1" fill="url(#A299)"/>
<polygon points="133,114.2 139.2,109.1 133.2,106.3 126.9,111.5" fill="url(#A300)"/>
<polygon points="145.4,111.9 151.5,106.8 145.4,104 139.2,109.1" fill="url(#A301)"/>
<polygon points="157.8,109.7 163.9,104.8 157.6,101.9 151.5,106.8" fill="url(#A302)"/>
<polygon points="170.2,107.7 176.2,102.9 169.9,100 163.9,104.8" fill="url(#A303)"/>
<polygon points="182.6,105.9 188.5,101.2 182.2,98.2 176.2,102.9" fill="url(#A304)"/>
<polygon points="195,104.3 200.9,99.7 194.4,96.7 188.5,101.2" fill="url(#A305)"/>
<polygon points="207.4,102.9 213.2,98.5 206.7,95.3 200.9,99.7" fill="url(#A306)"/>
<polygon points="219.8,101.7 225.6,97.4 219,94.2 213.2,98.5" fill="url(#A307)"/>
<polygon points="244.7,99.8 250.2,95.7 243.5,92.4 237.9,96.5" fill="url(#A308)"/>
<polygon points="232.3,100.7 237.9,96.5 231.2,93.2 225.6,97.4" fill="url(#A309)"/>
<polygon points="89.5,128.2 96,122.5 90.2,119.9 83.7,125.6" fill="url(#A310)"/>
<polygon points="101.9,125.1 108.3,119.5 102.4,116.9 96,122.5" fill="url(#A311)"/>
<polygon points="114.3,122.3 120.7,116.8 114.7,114.1 108.3,119.5" fill="url(#A312)"/>
<polygon points="126.7,119.6 133,114.2 126.9,111.5 120.7,116.8" fill="url(#A313)"/>
<polygon points="139.2,117.1 145.4,111.9 139.2,109.1 133,114.2" fill="url(#A314)"/>
<polygon points="151.6,114.8 157.8,109.7 151.5,106.8 145.4,111.9" fill="url(#A315)"/>
<polygon points="164.1,112.7 170.2,107.7 163.9,104.8 157.8,109.7" fill="url(#A316)"/>
<polygon points="176.6,110.8 182.6,105.9 176.2,102.9 170.2,107.7" fill="url(#A317)"/>
<polygon points="189.1,109.1 195,104.3 188.5,101.2 182.6,105.9" fill="url(#A318)"/>
<polygon points="201.5,107.5 207.4,102.9 200.9,99.7 195,104.3" fill="url(#A319)"/>
<polygon points="214,106.2 219.8,101.7 213.2,98.5 207.4,102.9" fill="url(#A320)"/>
<polygon points="226.5,105.1 232.3,100.7 225.6,97.4 219.8,101.7" fill="url(#A321)"/>
<polygon points="239,104.1 244.7,99.8 237.9,96.5 232.3,100.7" fill="url(#A322)"/>
<polygon points="95.4,130.9 101.9,125.1 96,122.5 89.5,128.2" fill="url(#A323)"/>
<polygon points="107.9,127.9 114.3,122.3 108.3,119.5 101.9,125.1" fill="url(#A324)"/>
<polygon points="120.4,125.1 126.7,119.6 120.7,116.8 114.3,122.3" fill="url(#A325)"/>
<polygon points="132.9,122.5 139.2,117.1 133,114.2 126.7,119.6" fill="url(#A326)"/>
<polygon points="145.4,120.1 151.6,114.8 145.4,111.9 139.2,117.1" fill="url(#A327)"/>
<polygon points="157.9,117.8 164.1,112.7 157.8,109.7 151.6,114.8" fill="url(#A328)"/>
<polygon points="170.5,115.8 176.6,110.8 170.2,107.7 164.1,112.7" fill="url(#A329)"/>
<polygon points="183,114 189.1,109.1 182.6,105.9 176.6,110.8" fill="url(#A330)"/>
<polygon points="195.6,112.3 201.5,107.5 195,104.3 189.1,109.1" fill="url(#A331)"/>
<polygon points="208.2,110.9 214,106.2 207.4,102.9 201.5,107.5" fill="url(#A332)"/>
<polygon points="220.7,109.6 226.5,105.1 219.8,101.7 214,106.2" fill="url(#A333)"/>
<polygon points="233.3,108.5 239,104.1 232.3,100.7 226.5,105.1" fill="url(#A334)"/>
<polygon points="101.4,133.7 107.9,127.9 101.9,125.1 95.4,130.9" fill="url(#A335)"/>
<polygon points="113.9,130.8 120.4,125.1 114.3,122.3 107.9,127.9" fill="url(#A336)"/>
<polygon points="126.5,128 132.9,122.5 126.7,119.6 120.4,125.1" fill="url(#A337)"/>
<polygon points="139.1,125.5 145.4,120.1 139.2,117.1 132.9,122.5" fill="url(#A338)"/>
<polygon points="151.7,123.2 157.9,117.8 151.6,114.8 145.4,120.1" fill="url(#A339)"/>
<polygon points="164.3,121 170.5,115.8 164.1,112.7 157.9,117.8" fill="url(#A340)"/>
<polygon points="176.9,119 183,114 176.6,110.8 170.5,115.8" fill="url(#A341)"/>
<polygon points="189.6,117.3 195.6,112.3 189.1,109.1 183,114" fill="url(#A342)"/>
<polygon points="202.2,115.7 208.2,110.9 201.5,107.5 195.6,112.3" fill="url(#A343)"/>
<polygon points="214.9,114.3 220.7,109.6 214,106.2 208.2,110.9" fill="url(#A344)"/>
<polygon points="227.5,113.1 233.3,108.5 226.5,105.1 220.7,109.6" fill="url(#A345)"/>
<polygon points="107.4,136.6 113.9,130.8 107.9,127.9 101.4,133.7" fill="url(#A346)"/>
<polygon points="120,133.8 126.5,128 120.4,125.1 113.9,130.8" fill="url(#A347)"/>
<polygon points="132.7,131.1 139.1,125.5 132.9,122.5 126.5,128" fill="url(#A348)"/>
<polygon points="145.4,128.6 151.7,123.2 145.4,120.1 139.1,125.5" fill="url(#A349)"/>
<polygon points="158.1,126.4 164.3,121 157.9,117.8 151.7,123.2" fill="url(#A350)"/>
<polygon points="170.8,124.3 176.9,119 170.5,115.8 164.3,121" fill="url(#A351)"/>
<polygon points="183.5,122.4 189.6,117.3 183,114 176.9,119" fill="url(#A352)"/>
<polygon points="196.2,120.7 202.2,115.7 195.6,112.3 189.6,117.3" fill="url(#A353)"/>
<polygon points="208.9,119.2 214.9,114.3 208.2,110.9 202.2,115.7" fill="url(#A354)"/>
<polygon points="221.7,117.9 227.5,113.1 220.7,109.6 214.9,114.3" fill="url(#A355)"/>
<polygon points="113.5,139.7 120,133.8 113.9,130.8 107.4,136.6" fill="url(#A356)"/>
<polygon points="126.3,136.9 132.7,131.1 126.5,128 120,133.8" fill="url(#A357)"/>
<polygon points="139,134.3 145.4,128.6 139.1,125.5 132.7,131.1" fill="url(#A358)"/>
<polygon points="151.8,131.9 158.1,126.4 151.7,123.2 145.4,128.6" fill="url(#A359)"/>
<polygon points="164.5,129.7 170.8,124.3 164.3,121 158.1,126.4" fill="url(#A360)"/>
<polygon points="177.3,127.7 183.5,122.4 176.9,119 170.8,124.3" fill="url(#A361)"/>
<polygon points="190.1,125.8 196.2,120.7 189.6,117.3 183.5,122.4" fill="url(#A362)"/>
<polygon points="202.9,124.2 208.9,119.2 202.2,115.7 196.2,120.7" fill="url(#A363)"/>
<polygon points="215.7,122.8 221.7,117.9 214.9,114.3 208.9,119.2" fill="url(#A364)"/>
<polygon points="119.7,142.8 126.3,136.9 120,133.8 113.5,139.7" fill="url(#A365)"/>
<polygon points="132.5,140.1 139,134.3 132.7,131.1 126.3,136.9" fill="url(#A366)"/>
<polygon points="145.4,137.6 151.8,131.9 145.4,128.6 139,134.3" fill="url(#A367)"/>
<polygon points="158.2,135.2 164.5,129.7 158.1,126.4 151.8,131.9" fill="url(#A368)"/>
<polygon points="171.1,133.1 177.3,127.7 170.8,124.3 164.5,129.7" fill="url(#A369)"/>
<polygon points="184,131.2 190.1,125.8 183.5,122.4 177.3,127.7" fill="url(#A370)"/>
<polygon points="196.8,129.4 202.9,124.2 196.2,120.7 190.1,125.8" fill="url(#A371)"/>
<polygon points="209.7,127.9 215.7,122.8 208.9,119.2 202.9,124.2" fill="url(#A372)"/>
<polygon points="126,146.1 132.5,140.1 126.3,136.9 119.7,142.8" fill="url(#A373)"/>
<polygon points="138.9,143.4 145.4,137.6 139,134.3 132.5,140.1" fill="url(#A374)"/>
<polygon points="151.8,141 158.2,135.2 151.8,131.9 145.4,137.6" fill="url(#A375)"/>
<polygon points="164.8,138.7 171.1,133.1 164.5,129.7 158.2,135.2" fill="url(#A376)"/>
<polygon points="177.7,136.6 184,131.2 177.3,127.7 171.1,133.1" fill="url(#A377)"/>
<polygon points="190.7,134.8 196.8,129.4 190.1,125.8 184,131.2" fill="url(#A378)"/>
<polygon points="203.6,133.1 209.7,127.9 202.9,124.2 196.8,129.4" fill="url(#A379)"/>
<polygon points="132.4,149.5 138.9,143.4 132.5,140.1 126,146.1" fill="url(#A380)"/>
<polygon points="145.4,146.9 151.8,141 145.4,137.6 138.9,143.4" fill="url(#A381)"/>
<polygon points="158.4,144.5 164.8,138.7 158.2,135.2 151.8,141" fill="url(#A382)"/>
<polygon points="171.4,142.3 177.7,136.6 171.1,133.1 164.8,138.7" fill="url(#A383)"/>
<polygon points="184.4,140.3 190.7,134.8 184,131.2 177.7,136.6" fill="url(#A384)"/>
<polygon points="197.5,138.5 203.6,133.1 196.8,129.4 190.7,134.8" fill="url(#A385)"/>
<polygon points="138.8,153 145.4,146.9 138.9,143.4 132.4,149.5" fill="url(#A386)"/>
<polygon points="151.9,150.5 158.4,144.5 151.8,141 145.4,146.9" fill="url(#A387)"/>
<polygon points="165,148.2 171.4,142.3 164.8,138.7 158.4,144.5" fill="url(#A388)"/>
<polygon points="178.1,146 184.4,140.3 177.7,136.6 171.4,142.3" fill="url(#A389)"/>
<polygon points="191.2,144.1 197.5,138.5 190.7,134.8 184.4,140.3" fill="url(#A390)"/>
<polygon points="145.4,156.6 151.9,150.5 145.4,146.9 138.8,153" fill="url(#A391)"/>
<polygon points="158.5,154.2 165,148.2 158.4,144.5 151.9,150.5" fill="url(#A392)"/>
<polygon points="171.7,151.9 178.1,146 171.4,142.3 165,148.2" fill="url(#A393)"/>
<polygon points="184.9,149.9 191.2,144.1 184.4,140.3 178.1,146" fill="url(#A394)"/>
<polygon points="152,160.4 158.5,154.2 151.9,150.5 145.4,156.6" fill="url(#A395)"/>
<polygon points="165.3,158 171.7,151.9 165,148.2 158.5,154.2" fill="url(#A396)"/>
<polygon points="178.5,155.8 184.9,149.9 178.1,146 171.7,151.9" fill="url(#A397)"/>
<polygon points="158.7,164.3 165.3,158 158.5,154.2 152,160.4" fill="url(#A398)"/>
<polygon points="172.1,162 178.5,155.8 171.7,151.9 165.3,158" fill="url(#A399)"/>
<polygon points="165.5,168.3 172.1,162 165.3,158 158.7,164.3" fill="url(#A400)"/>
<path d="M165.5,168.3 158.7,164.3 152,160.4 145.4,156.6 138.8,153 132.4,149.5 126,146.1 119.7,142.8 113.5,139.7 107.4,136.6 101.4,133.7 95.4,130.9 89.5,128.2 83.7,125.6 78,123.1 72.3,120.7 66.7,118.4 61.2,116.2 55.8,114.1 50.4,112.1 45.1,110.2M165.5,168.3 172.1,162 178.5,155.8 184.9,149.9 191.2,144.1 197.5,138.5 203.6,133.1 209.7,127.9 215.7,122.8 221.7,117.9 227.5,113.1 233.3,108.5 239,104.1 244.7,99.8 250.2,95.7 255.7,91.8 261.2,88 266.5,84.3 271.8,80.8 277.1,77.4 282.2,74.2M172.1,162 165.3,158 158.5,154.2 151.9,150.5 145.4,146.9 138.9,143.4 132.5,140.1 126.3,136.9 120,133.8 113.9,130.8 107.9,127.9 101.9,125.1 96,122.5 90.2,119.9 84.4,117.4 78.8,115.1 73.2,112.8 67.6,110.7 62.2,108.6 56.8,106.6 51.5,104.8M158.7,164.3 165.3,158 171.7,151.9 178.1,146 184.4,140.3 190.7,134.8 196.8,129.4 202.9,124.2 208.9,119.2 214.9,114.3 220.7,109.6 226.5,105.1 232.3,100.7 237.9,96.5 243.5,92.4 249,88.5 254.4,84.7 259.8,81.1 265.1,77.6 270.3,74.2 275.5,71M178.5,155.8 171.7,151.9 165,148.2 158.4,144.5 151.8,141 145.4,137.6 139,134.3 132.7,131.1 126.5,128 120.4,125.1 114.3,122.3 108.3,119.5 102.4,116.9 96.6,114.4 90.8,112 85.2,109.6 79.5,107.4 74,105.3 68.5,103.3 63.2,101.4 57.8,99.5M152,160.4 158.5,154.2 165,148.2 171.4,142.3 177.7,136.6 184,131.2 190.1,125.8 196.2,120.7 202.2,115.7 208.2,110.9 214,106.2 219.8,101.7 225.6,97.4 231.2,93.2 236.8,89.1 242.3,85.2 247.8,81.5 253.2,77.9 258.5,74.5 263.7,71.1 268.9,68M184.9,149.9 178.1,146 171.4,142.3 164.8,138.7 158.2,135.2 151.8,131.9 145.4,128.6 139.1,125.5 132.9,122.5 126.7,119.6 120.7,116.8 114.7,114.1 108.8,111.5 102.9,109 97.2,106.7 91.5,104.4 85.9,102.2 80.3,100.1 74.8,98.1 69.4,96.2 64.1,94.4M145.4,156.6 151.9,150.5 158.4,144.5 164.8,138.7 171.1,133.1 177.3,127.7 183.5,122.4 189.6,117.3 195.6,112.3 201.5,107.5 207.4,102.9 213.2,98.5 219,94.2 224.6,90 230.2,86 235.7,82.1 241.2,78.4 246.6,74.9 251.9,71.4 257.2,68.2 262.3,65M191.2,144.1 184.4,140.3 177.7,136.6 171.1,133.1 164.5,129.7 158.1,126.4 151.7,123.2 145.4,120.1 139.2,117.1 133,114.2 126.9,111.5 121,108.8 115,106.3 109.2,103.9 103.4,101.5 97.7,99.3 92.1,97.1 86.6,95.1 81.1,93.1 75.7,91.3 70.3,89.5M138.8,153 145.4,146.9 151.8,141 158.2,135.2 164.5,129.7 170.8,124.3 176.9,119 183,114 189.1,109.1 195,104.3 200.9,99.7 206.7,95.3 212.4,91.1 218.1,86.9 223.7,83 229.2,79.1 234.7,75.5 240.1,71.9 245.4,68.5 250.7,65.3 255.9,62.2M197.5,138.5 190.7,134.8 184,131.2 177.3,127.7 170.8,124.3 164.3,121 157.9,117.8 151.6,114.8 145.4,111.9 139.2,109.1 133.2,106.3 127.2,103.7 121.3,101.2 115.4,98.8 109.6,96.5 103.9,94.3 98.3,92.2 92.7,90.2 87.2,88.3 81.8,86.4 76.5,84.7M132.4,149.5 138.9,143.4 145.4,137.6 151.8,131.9 158.1,126.4 164.3,121 170.5,115.8 176.6,110.8 182.6,105.9 188.5,101.2 194.4,96.7 200.2,92.3 206,88.1 211.6,84 217.2,80 222.8,76.3 228.2,72.6 233.6,69.1 239,65.7 244.3,62.5 249.5,59.4M203.6,133.1 196.8,129.4 190.1,125.8 183.5,122.4 176.9,119 170.5,115.8 164.1,112.7 157.8,109.7 151.5,106.8 145.4,104 139.3,101.4 133.3,98.8 127.4,96.3 121.5,94 115.8,91.7 110.1,89.5 104.4,87.4 98.8,85.5 93.3,83.6 87.9,81.8 82.6,80.1M126,146.1 132.5,140.1 139,134.3 145.4,128.6 151.7,123.2 157.9,117.8 164.1,112.7 170.2,107.7 176.2,102.9 182.2,98.2 188,93.7 193.8,89.4 199.6,85.2 205.3,81.1 210.9,77.2 216.4,73.5 221.9,69.9 227.3,66.4 232.6,63 237.9,59.8 243.1,56.8M209.7,127.9 202.9,124.2 196.2,120.7 189.6,117.3 183,114 176.6,110.8 170.2,107.7 163.9,104.8 157.6,101.9 151.5,99.2 145.4,96.5 139.4,94 133.5,91.6 127.6,89.2 121.8,87 116.1,84.9 110.5,82.8 104.9,80.9 99.4,79 93.9,77.2 88.6,75.6M119.7,142.8 126.3,136.9 132.7,131.1 139.1,125.5 145.4,120.1 151.6,114.8 157.8,109.7 163.9,104.8 169.9,100 175.8,95.4 181.7,90.9 187.5,86.6 193.3,82.4 199,78.4 204.6,74.5 210.1,70.8 215.6,67.2 221,63.8 226.4,60.4 231.6,57.3 236.9,54.2M215.7,122.8 208.9,119.2 202.2,115.7 195.6,112.3 189.1,109.1 182.6,105.9 176.2,102.9 169.9,100 163.7,97.2 157.5,94.5 151.4,91.9 145.4,89.4 139.5,87 133.6,84.7 127.8,82.5 122.1,80.4 116.5,78.3 110.9,76.4 105.4,74.6 99.9,72.8 94.5,71.2M113.5,139.7 120,133.8 126.5,128 132.9,122.5 139.2,117.1 145.4,111.9 151.5,106.8 157.6,101.9 163.7,97.2 169.6,92.6 175.5,88.1 181.3,83.9 187.1,79.7 192.7,75.7 198.3,71.9 203.9,68.2 209.4,64.6 214.8,61.2 220.2,57.9 225.4,54.8 230.7,51.8M221.7,117.9 214.9,114.3 208.2,110.9 201.5,107.5 195,104.3 188.5,101.2 182.2,98.2 175.8,95.4 169.6,92.6 163.5,89.9 157.4,87.3 151.4,84.9 145.4,82.5 139.6,80.2 133.8,78.1 128,76 122.4,74 116.8,72.1 111.3,70.3 105.8,68.6 100.4,67M107.4,136.6 113.9,130.8 120.4,125.1 126.7,119.6 133,114.2 139.2,109.1 145.4,104 151.5,99.2 157.5,94.5 163.5,89.9 169.3,85.5 175.1,81.3 180.9,77.2 186.6,73.2 192.2,69.4 197.7,65.7 203.2,62.2 208.7,58.8 214,55.5 219.3,52.4 224.5,49.4M227.5,113.1 220.7,109.6 214,106.2 207.4,102.9 200.9,99.7 194.4,96.7 188,93.7 181.7,90.9 175.5,88.1 169.3,85.5 163.2,83 157.2,80.5 151.3,78.2 145.4,76 139.6,73.8 133.9,71.8 128.2,69.8 122.7,68 117.1,66.2 111.7,64.5 106.3,62.9M101.4,133.7 107.9,127.9 114.3,122.3 120.7,116.8 126.9,111.5 133.2,106.3 139.3,101.4 145.4,96.5 151.4,91.9 157.4,87.3 163.2,83 169.1,78.8 174.8,74.7 180.5,70.8 186.1,67 191.7,63.3 197.2,59.8 202.6,56.5 207.9,53.2 213.2,50.1 218.5,47.2M233.3,108.5 226.5,105.1 219.8,101.7 213.2,98.5 206.7,95.3 200.2,92.3 193.8,89.4 187.5,86.6 181.3,83.9 175.1,81.3 169.1,78.8 163.1,76.4 157.1,74.1 151.2,71.8 145.4,69.7 139.7,67.7 134.1,65.8 128.5,64 122.9,62.2 117.5,60.5 112.1,59M95.4,130.9 101.9,125.1 108.3,119.5 114.7,114.1 121,108.8 127.2,103.7 133.3,98.8 139.4,94 145.4,89.4 151.4,84.9 157.2,80.5 163.1,76.4 168.8,72.3 174.5,68.4 180.1,64.7 185.7,61.1 191.1,57.6 196.6,54.2 201.9,51 207.3,47.9 212.5,45M239,104.1 232.3,100.7 225.6,97.4 219,94.2 212.4,91.1 206,88.1 199.6,85.2 193.3,82.4 187.1,79.7 180.9,77.2 174.8,74.7 168.8,72.3 162.9,70 157,67.9 151.2,65.8 145.5,63.8 139.8,61.9 134.2,60.1 128.7,58.4 123.2,56.7 117.8,55.2M89.5,128.2 96,122.5 102.4,116.9 108.8,111.5 115,106.3 121.3,101.2 127.4,96.3 133.5,91.6 139.5,87 145.4,82.5 151.3,78.2 157.1,74.1 162.9,70 168.5,66.2 174.2,62.4 179.7,58.9 185.2,55.4 190.6,52.1 196,48.9 201.3,45.8 206.6,42.9M244.7,99.8 237.9,96.5 231.2,93.2 224.6,90 218.1,86.9 211.6,84 205.3,81.1 199,78.4 192.7,75.7 186.6,73.2 180.5,70.8 174.5,68.4 168.5,66.2 162.7,64 156.9,62 151.1,60 145.5,58.1 139.9,56.3 134.3,54.6 128.9,53 123.5,51.5M83.7,125.6 90.2,119.9 96.6,114.4 102.9,109 109.2,103.9 115.4,98.8 121.5,94 127.6,89.2 133.6,84.7 139.6,80.2 145.4,76 151.2,71.8 157,67.9 162.7,64 168.3,60.3 173.8,56.8 179.3,53.3 184.8,50 190.1,46.9 195.5,43.8 200.7,40.9M250.2,95.7 243.5,92.4 236.8,89.1 230.2,86 223.7,83 217.2,80 210.9,77.2 204.6,74.5 198.3,71.9 192.2,69.4 186.1,67 180.1,64.7 174.2,62.4 168.3,60.3 162.5,58.3 156.8,56.3 151.1,54.5 145.5,52.7 139.9,51.1 134.5,49.5 129.1,48M78,123.1 84.4,117.4 90.8,112 97.2,106.7 103.4,101.5 109.6,96.5 115.8,91.7 121.8,87 127.8,82.5 133.8,78.1 139.6,73.8 145.4,69.7 151.2,65.8 156.9,62 162.5,58.3 168,54.7 173.5,51.3 179,48.1 184.3,44.9 189.7,41.9 194.9,39M255.7,91.8 249,88.5 242.3,85.2 235.7,82.1 229.2,79.1 222.8,76.3 216.4,73.5 210.1,70.8 203.9,68.2 197.7,65.7 191.7,63.3 185.7,61.1 179.7,58.9 173.8,56.8 168,54.7 162.3,52.8 156.6,51 151,49.3 145.5,47.6 140,46 134.6,44.6M72.3,120.7 78.8,115.1 85.2,109.6 91.5,104.4 97.7,99.3 103.9,94.3 110.1,89.5 116.1,84.9 122.1,80.4 128,76 133.9,71.8 139.7,67.7 145.5,63.8 151.1,60 156.8,56.3 162.3,52.8 167.8,49.5 173.2,46.2 178.6,43.1 183.9,40.1 189.2,37.2M261.2,88 254.4,84.7 247.8,81.5 241.2,78.4 234.7,75.5 228.2,72.6 221.9,69.9 215.6,67.2 209.4,64.6 203.2,62.2 197.2,59.8 191.1,57.6 185.2,55.4 179.3,53.3 173.5,51.3 167.8,49.5 162.1,47.6 156.5,45.9 151,44.3 145.5,42.7 140.1,41.3M66.7,118.4 73.2,112.8 79.5,107.4 85.9,102.2 92.1,97.1 98.3,92.2 104.4,87.4 110.5,82.8 116.5,78.3 122.4,74 128.2,69.8 134.1,65.8 139.8,61.9 145.5,58.1 151.1,54.5 156.6,51 162.1,47.6 167.6,44.4 172.9,41.3 178.3,38.3 183.5,35.5M266.5,84.3 259.8,81.1 253.2,77.9 246.6,74.9 240.1,71.9 233.6,69.1 227.3,66.4 221,63.8 214.8,61.2 208.7,58.8 202.6,56.5 196.6,54.2 190.6,52.1 184.8,50 179,48.1 173.2,46.2 167.6,44.4 162,42.7 156.4,41.1 150.9,39.6 145.5,38.1M61.2,116.2 67.6,110.7 74,105.3 80.3,100.1 86.6,95.1 92.7,90.2 98.8,85.5 104.9,80.9 110.9,76.4 116.8,72.1 122.7,68 128.5,64 134.2,60.1 139.9,56.3 145.5,52.7 151,49.3 156.5,45.9 162,42.7 167.3,39.6 172.7,36.7 177.9,33.9M271.8,80.8 265.1,77.6 258.5,74.5 251.9,71.4 245.4,68.5 239,65.7 232.6,63 226.4,60.4 220.2,57.9 214,55.5 207.9,53.2 201.9,51 196,48.9 190.1,46.9 184.3,44.9 178.6,43.1 172.9,41.3 167.3,39.6 161.8,38 156.3,36.5 150.9,35.1M55.8,114.1 62.2,108.6 68.5,103.3 74.8,98.1 81.1,93.1 87.2,88.3 93.3,83.6 99.4,79 105.4,74.6 111.3,70.3 117.1,66.2 122.9,62.2 128.7,58.4 134.3,54.6 139.9,51.1 145.5,47.6 151,44.3 156.4,41.1 161.8,38 167.1,35.1 172.4,32.3M277.1,77.4 270.3,74.2 263.7,71.1 257.2,68.2 250.7,65.3 244.3,62.5 237.9,59.8 231.6,57.3 225.4,54.8 219.3,52.4 213.2,50.1 207.3,47.9 201.3,45.8 195.5,43.8 189.7,41.9 183.9,40.1 178.3,38.3 172.7,36.7 167.1,35.1 161.6,33.6 156.2,32.2M50.4,112.1 56.8,106.6 63.2,101.4 69.4,96.2 75.7,91.3 81.8,86.4 87.9,81.8 93.9,77.2 99.9,72.8 105.8,68.6 111.7,64.5 117.5,60.5 123.2,56.7 128.9,53 134.5,49.5 140,46 145.5,42.7 150.9,39.6 156.3,36.5 161.6,33.6 166.9,30.8M282.2,74.2 275.5,71 268.9,68 262.3,65 255.9,62.2 249.5,59.4 243.1,56.8 236.9,54.2 230.7,51.8 224.5,49.4 218.5,47.2 212.5,45 206.6,42.9 200.7,40.9 194.9,39 189.2,37.2 183.5,35.5 177.9,33.9 172.4,32.3 166.9,30.8 161.5,29.4M45.1,110.2 51.5,104.8 57.8,99.5 64.1,94.4 70.3,89.5 76.5,84.7 82.6,80.1 88.6,75.6 94.5,71.2 100.4,67 106.3,62.9 112.1,59 117.8,55.2 123.5,51.5 129.1,48 134.6,44.6 140.1,41.3 145.5,38.1 150.9,35.1 156.2,32.2 161.5,29.4" fill="none" stroke="#000" stroke-opacity="0.8" stroke-width="0.85"/>
<line x1="165.6" y1="167.0" x2="165.6" y2="170.1" stroke="#222" stroke-width="0.95"/>
<circle cx="165.6" cy="170.1" r="2.6" fill="#f8c8c8" stroke="#3a2a2a" stroke-width="0.55"/>
<circle cx="45.6" cy="117.0" r="2.6" fill="#f8c8c8" stroke="#3a2a2a" stroke-width="0.55"/>
<circle cx="161.5" cy="27.2" r="2.6" fill="#c80000" stroke="#5a0000" stroke-width="0.6"/>
<circle cx="163.1" cy="82.5" r="2.6" fill="#c80000" stroke="#5a0000" stroke-width="0.6"/>
<circle cx="282.7" cy="67.8" r="2.6" fill="#c80000" stroke="#5a0000" stroke-width="0.6"/>
<line x1="421.4" y1="149.5" x2="535.9" y2="111.3" stroke="#1a1a1a" stroke-width="0.75"/>
<line x1="535.9" y1="111.3" x2="653.9" y2="148.2" stroke="#1a1a1a" stroke-width="0.75"/>
<line x1="420.6" y1="132.1" x2="535.9" y2="95.7" stroke="#1a1a1a" stroke-width="0.75"/>
<line x1="535.9" y1="95.7" x2="654.7" y2="131" stroke="#1a1a1a" stroke-width="0.75"/>
<line x1="419.8" y1="114.8" x2="535.9" y2="80.1" stroke="#1a1a1a" stroke-width="0.75"/>
<line x1="535.9" y1="80.1" x2="655.5" y2="113.7" stroke="#1a1a1a" stroke-width="0.75"/>
<line x1="419" y1="97.5" x2="535.9" y2="64.5" stroke="#1a1a1a" stroke-width="0.75"/>
<line x1="535.9" y1="64.5" x2="656.3" y2="96.5" stroke="#1a1a1a" stroke-width="0.75"/>
<line x1="418.2" y1="80.1" x2="535.9" y2="48.9" stroke="#1a1a1a" stroke-width="0.75"/>
<line x1="535.9" y1="48.9" x2="657.1" y2="79.2" stroke="#1a1a1a" stroke-width="0.75"/>
<line x1="417.4" y1="62.8" x2="535.9" y2="33.3" stroke="#1a1a1a" stroke-width="0.75"/>
<line x1="535.9" y1="33.3" x2="657.9" y2="62" stroke="#1a1a1a" stroke-width="0.75"/>
<line x1="416.6" y1="45.5" x2="535.9" y2="17.7" stroke="#1a1a1a" stroke-width="0.75"/>
<line x1="535.9" y1="17.7" x2="658.7" y2="44.7" stroke="#1a1a1a" stroke-width="0.75"/>
<line x1="415.8" y1="28.1" x2="535.9" y2="2.1" stroke="#1a1a1a" stroke-width="0.75"/>
<line x1="535.9" y1="2.1" x2="659.5" y2="27.5" stroke="#1a1a1a" stroke-width="0.75"/>
<line x1="450" y1="139.9" x2="445.8" y2="21.6" stroke="#1a1a1a" stroke-width="0.75"/>
<line x1="478.6" y1="130.4" x2="475.8" y2="15.1" stroke="#1a1a1a" stroke-width="0.75"/>
<line x1="507.3" y1="120.8" x2="505.9" y2="8.6" stroke="#1a1a1a" stroke-width="0.75"/>
<line x1="565.4" y1="120.5" x2="566.8" y2="8.4" stroke="#1a1a1a" stroke-width="0.75"/>
<line x1="594.9" y1="129.7" x2="597.7" y2="14.8" stroke="#1a1a1a" stroke-width="0.75"/>
<line x1="624.4" y1="139" x2="628.6" y2="21.1" stroke="#1a1a1a" stroke-width="0.75"/>
<line x1="423.1" y1="187.6" x2="415.8" y2="28.1" stroke="#1a1a1a" stroke-width="0.75"/>
<line x1="536" y1="145.6" x2="535.9" y2="2.1" stroke="#1a1a1a" stroke-width="0.75"/>
<line x1="652.2" y1="186.1" x2="659.5" y2="27.5" stroke="#1a1a1a" stroke-width="0.75"/>
<polygon points="423.1,187.6 540.4,239.3 652.2,186.1 536,145.6" fill="#6b6b6b" stroke="#111" stroke-width="0.8"/>
<path d="M511,226.3 L511.7,226.3 L512.6,226.3 L513.3,226.3 L514.2,226.3 L514.9,226.3 L515.8,226.3 L516.5,226.3 L517.3,226.3 L518.1,226.3 L518.9,226.3 L519.7,226.3 L520.5,226.3 L521.3,226.2 L522,226.2 L522.9,226.2 L523.5,226.2 L524.5,226.2 L525.1,226.2 L526.2,226.1 L526.6,226.1 L527.8,226.1 L528.1,226.1 L529.4,226.1 L529.6,226.1 L531.1,226 L531.1,226 L532.6,226 L532.7,226 L534.1,225.9 L534.4,225.9 L535.6,225.9 L536.1,225.9 L537.1,225.8 L537.7,225.8 L538.6,225.8 L539.4,225.8 L540.1,225.7 L541.1,225.7 L541.5,225.7 L542.8,225.6 L543,225.6 L544.5,225.6 L544.5,225.5 L545.9,225.5 L546.2,225.5 L547.4,225.4 L548,225.4 L548.8,225.4 L549.7,225.3 L550.2,225.3 L551.4,225.2 L551.7,225.2 L553.1,225.1 L553.2,225.1 L554.5,225.1 L554.9,225 L555.9,225 L556.7,224.9 L557.3,224.9 L558.4,224.8 L558.7,224.8 L560.1,224.7 L560.2,224.7 L561.5,224.7 L562,224.6 L562.9,224.6 L563.8,224.5 L564.3,224.5 L565.6,224.4 L565.7,224.4 L567,224.3 L567.4,224.3 L568.4,224.2 L569.2,224.1 L569.8,224.1 L571,224 L571.1,224 L572.5,223.9 L572.8,223.9" fill="none" stroke="#1791e6" stroke-width="1.3"/>
<path d="M477,211.3 L477.7,211.4 L478.7,211.4 L479,211.4 L480.4,211.5 L480.5,211.5 L481.7,211.6 L482.2,211.6 L483.1,211.6 L483.9,211.7 L484.5,211.7 L485.6,211.7 L485.8,211.7 L487.2,211.8 L487.3,211.8 L488.6,211.8 L489,211.8 L490,211.9 L490.7,211.9 L491.4,211.9 L492.3,212 L492.8,212 L494,212 L494.2,212 L495.6,212 L495.7,212 L497,212.1 L497.3,212.1 L498.5,212.1 L498.9,212.1 L499.9,212.1 L500.6,212.1 L501.3,212.2 L502.2,212.2 L502.8,212.2 L503.8,212.2 L504.3,212.2 L505.4,212.2 L505.7,212.2 L507,212.2 L507.2,212.2 L508.6,212.3 L508.7,212.3 L510.1,212.3 L510.1,212.3 L511.6,212.3 L511.7,212.3 L513.1,212.3 L513.3,212.3 L514.6,212.3 L514.8,212.3 L516.1,212.3 L516.4,212.3 L517.6,212.3 L517.9,212.3 L519.1,212.3 L519.4,212.3 L520.7,212.3 L521,212.2 L522.2,212.2 L522.5,212.2 L523.8,212.2 L524,212.2 L525.3,212.2 L525.5,212.2 L526.9,212.2 L527,212.2 L528.4,212.2 L528.5,212.2 L530,212.1 L530,212.1 L531.4,212.1 L531.6,212.1 L532.9,212.1 L533.1,212.1 L534.4,212 L534.7,212 L535.8,212 L536.3,212 L537.3,211.9 L537.9,211.9 L538.7,211.9 L539.5,211.9 L540.2,211.9 L541.2,211.8 L541.6,211.8 L542.8,211.8 L543,211.8 L544.4,211.7 L544.4,211.7 L545.9,211.6 L546.1,211.6 L547.3,211.6 L547.7,211.6 L548.7,211.5 L549.4,211.5 L550.1,211.5 L551,211.4 L551.5,211.4 L552.7,211.3 L552.8,211.3 L554.2,211.3 L554.4,211.3 L555.6,211.2 L556.1,211.2 L557,211.1 L557.8,211.1 L558.3,211.1 L559.5,211 L559.7,211 L561,210.9 L561.2,210.9 L562.4,210.8 L562.9,210.8 L563.7,210.7 L564.7,210.7 L565.1,210.7 L566.4,210.6 L566.4,210.6 L567.7,210.5 L568.2,210.5 L569,210.4 L569.9,210.3 L570.4,210.3 L571.7,210.2 L571.7,210.2 L573,210.1 L573.4,210.1 L574.3,210 L575.2,209.9 L575.6,209.9 L576.9,209.8 L577,209.8 L578.1,209.7 L578.8,209.7 L579.4,209.6 L580.6,209.5 L580.7,209.5 L582,209.4 L582.5,209.4 L583.2,209.3 L584.3,209.2 L584.5,209.2 L585.7,209.1 L586.1,209 L587,209 L588,208.9 L588.2,208.8 L589.5,208.7 L589.8,208.7 L590.7,208.6 L591.7,208.5 L592,208.5 L593.2,208.4 L593.6,208.3 L594.4,208.3 L595.5,208.1 L595.6,208.1 L596.8,208 L597.4,207.9 L598,207.9 L599.2,207.8 L599.3,207.7 L600.4,207.6 L601.2,207.5 L601.6,207.5 L602.8,207.4 L603.2,207.3 L604,207.2 L605.1,207.1 L605.2,207.1 L606.4,207 L607.1,206.9 L607.5,206.8 L608.7,206.7 L609,206.6" fill="none" stroke="#17e6a0" stroke-width="1.3"/>
<path d="M430.7,190.9 L431,191 L432,191.1 L433,191.3 L433.1,191.3 L434.1,191.5 L435.1,191.6 L435.3,191.7 L436.1,191.8 L437.1,191.9 L437.6,192 L438.2,192.1 L439.2,192.2 L439.8,192.3 L440.2,192.4 L441.3,192.5 L441.9,192.6 L442.3,192.7 L443.4,192.8 L444.1,192.9 L444.5,193 L445.5,193.1 L446.2,193.2 L446.6,193.2 L447.7,193.4 L448.3,193.4 L448.8,193.5 L449.9,193.6 L450.3,193.7 L451,193.8 L452.1,193.9 L452.4,193.9 L453.2,194 L454.3,194.2 L454.4,194.2 L455.4,194.3 L456.4,194.4 L456.6,194.4 L457.7,194.5 L458.3,194.6 L458.8,194.6 L460,194.8 L460.3,194.8 L461.1,194.9 L462.2,195 L462.3,195 L463.4,195.1 L464.1,195.2 L464.6,195.2 L465.8,195.3 L466,195.3 L466.9,195.4 L467.9,195.5 L468.1,195.5 L469.3,195.6 L469.7,195.6 L470.5,195.7 L471.6,195.8 L471.7,195.8 L472.9,195.9 L473.4,195.9 L474.1,196 L475.2,196.1 L475.4,196.1 L476.6,196.2 L477,196.2 L477.8,196.3 L478.8,196.3 L479.1,196.3 L480.3,196.4 L480.5,196.4 L481.5,196.5 L482.3,196.6 L482.8,196.6 L484,196.7 L484.1,196.7 L485.3,196.7 L485.7,196.8 L486.6,196.8 L487.4,196.8 L487.9,196.9 L489.2,196.9 L489.2,196.9 L490.5,197 L490.8,197 L491.8,197.1 L492.5,197.1 L493.1,197.1 L494.2,197.2 L494.4,197.2 L495.7,197.2 L495.8,197.2 L497,197.3 L497.5,197.3 L498.4,197.3 L499.1,197.4 L499.7,197.4 L500.7,197.4 L501,197.4 L502.4,197.5 L502.4,197.5 L503.7,197.5 L504,197.5 L505.1,197.5 L505.5,197.5 L506.5,197.6 L507.1,197.6 L507.9,197.6 L508.7,197.6 L509.2,197.6 L510.3,197.6 L510.6,197.6 L511.8,197.7 L512,197.7 L513.4,197.7 L513.4,197.7 L514.8,197.7 L514.9,197.7 L516.3,197.7 L516.4,197.7 L517.7,197.7 L518,197.7 L519.1,197.7 L519.5,197.7 L520.6,197.7 L521,197.7 L522,197.7 L522.5,197.7 L523.5,197.7 L524,197.7 L524.9,197.7 L525.5,197.7 L526.4,197.7 L526.9,197.7 L527.9,197.7 L528.4,197.7 L529.3,197.7 L529.9,197.7 L530.8,197.7 L531.3,197.7 L532.3,197.7 L532.8,197.7 L533.8,197.6 L534.2,197.6 L535.3,197.6 L535.6,197.6 L536.9,197.6 L537,197.6 L538.4,197.5 L538.5,197.5 L539.9,197.5 L539.9,197.5 L541.3,197.5 L541.5,197.5 L542.7,197.4 L543,197.4 L544.1,197.4 L544.6,197.4 L545.4,197.3 L546.2,197.3 L546.8,197.3 L547.7,197.3 L548.2,197.2 L549.3,197.2 L549.5,197.2 L550.9,197.1 L550.9,197.1 L552.2,197.1 L552.5,197.1 L553.6,197 L554.1,197 L554.9,197 L555.7,196.9 L556.3,196.9 L557.4,196.8 L557.6,196.8 L558.9,196.8 L559,196.8 L560.2,196.7 L560.7,196.7 L561.5,196.6 L562.3,196.6 L562.8,196.6 L564,196.5 L564.1,196.5 L565.4,196.4 L565.6,196.4 L566.7,196.3 L567.3,196.3 L568,196.2 L569,196.2 L569.3,196.2 L570.5,196.1 L570.7,196.1 L571.8,196 L572.4,195.9 L573,195.9 L574.2,195.8 L574.3,195.8 L575.5,195.7 L575.9,195.7 L576.8,195.6 L577.6,195.5 L578,195.5 L579.2,195.4 L579.4,195.4 L580.5,195.3 L581.1,195.3 L581.7,195.2 L582.9,195.1 L582.9,195.1 L584.1,195 L584.7,195 L585.3,194.9 L586.5,194.8 L586.5,194.8 L587.7,194.7 L588.3,194.6 L588.9,194.6 L590.1,194.5 L590.1,194.5 L591.3,194.4 L591.9,194.3 L592.5,194.2 L593.6,194.1 L593.8,194.1 L594.8,194 L595.6,193.9 L595.9,193.9 L597.1,193.8 L597.5,193.7 L598.3,193.6 L599.4,193.5 L599.4,193.5 L600.5,193.4 L601.3,193.3 L601.7,193.3 L602.8,193.1 L603.2,193.1 L603.9,193 L605.1,192.9 L605.1,192.9 L606.2,192.7 L607,192.6 L607.3,192.6 L608.4,192.5 L609,192.4 L609.5,192.3 L610.6,192.2 L610.9,192.2 L611.7,192.1 L612.8,191.9 L612.9,191.9 L613.9,191.8 L614.9,191.6 L615,191.6 L616.1,191.5 L616.9,191.4 L617.1,191.3 L618.2,191.2 L618.9,191.1 L619.3,191.1 L620.3,190.9 L621,190.8 L621.4,190.8 L622.4,190.6 L623,190.5 L623.5,190.5 L624.5,190.3 L625.1,190.2 L625.6,190.1 L626.6,190 L627.2,189.9 L627.6,189.8 L628.7,189.7 L629.3,189.6 L629.7,189.5 L630.7,189.4 L631.4,189.2 L631.7,189.2 L632.7,189 L633.6,188.9 L633.7,188.9 L634.7,188.7 L635.7,188.5 L635.8,188.5 L636.7,188.4 L637.7,188.2 L638,188.2 L638.7,188 L639.7,187.9 L640.2,187.8 L640.7,187.7 L641.7,187.5 L642.4,187.4 L642.6,187.4 L643.6,187.2 L644.6,187 L644.7,187 L645.5,186.9 L646.5,186.7 L647,186.6 L647.4,186.5 L648.4,186.3 L649.3,186.2 L649.3,186.1 L650.3,186 L651.2,185.8" fill="none" stroke="#28e617" stroke-width="1.3"/>
<path d="M452.2,176.7 L452.5,176.8 L453.2,176.9 L454.2,177 L454.8,177.1 L455.1,177.2 L456.1,177.3 L457,177.5 L457.1,177.5 L458.1,177.6 L459.1,177.8 L459.2,177.8 L460.1,177.9 L461.1,178 L461.4,178.1 L462.1,178.2 L463.2,178.3 L463.5,178.4 L464.2,178.5 L465.2,178.6 L465.5,178.6 L466.3,178.7 L467.3,178.8 L467.6,178.9 L468.3,179 L469.4,179.1 L469.6,179.1 L470.5,179.2 L471.5,179.3 L471.5,179.3 L472.6,179.5 L473.5,179.5 L473.7,179.6 L474.8,179.7 L475.4,179.7 L475.9,179.8 L477,179.9 L477.3,179.9 L478.1,180 L479.2,180.1 L479.2,180.1 L480.3,180.2 L481,180.3 L481.4,180.3 L482.6,180.4 L482.9,180.5 L483.7,180.5 L484.7,180.6 L484.8,180.6 L486,180.7 L486.5,180.8 L487.1,180.8 L488.2,180.9 L488.3,180.9 L489.5,181 L490,181 L490.6,181.1 L491.7,181.1 L491.8,181.1 L493,181.2 L493.4,181.3 L494.2,181.3 L495.1,181.4 L495.4,181.4 L496.6,181.5 L496.8,181.5 L497.8,181.5 L498.5,181.6 L499,181.6 L500.2,181.6 L500.3,181.7 L501.5,181.7 L501.8,181.7 L502.7,181.8 L503.4,181.8 L504,181.8 L505.1,181.9 L505.2,181.9 L506.5,181.9 L506.7,181.9 L507.8,182 L508.3,182 L509,182 L509.8,182.1 L510.3,182.1 L511.4,182.1 L511.6,182.1 L512.9,182.2 L513,182.2 L514.2,182.2 L514.5,182.2 L515.5,182.2 L516,182.2 L516.8,182.3 L517.6,182.3 L518.2,182.3 L519.1,182.3 L519.5,182.3 L520.6,182.3 L520.8,182.3 L522.1,182.4 L522.2,182.4 L523.5,182.4 L523.6,182.4 L524.9,182.4 L525,182.4 L526.3,182.4 L526.5,182.4 L527.6,182.4 L528,182.4 L529,182.4 L529.4,182.4 L530.4,182.4 L530.8,182.4 L531.8,182.4 L532.3,182.4 L533.2,182.4 L533.7,182.4 L534.7,182.4 L535.1,182.4 L536.1,182.4 L536.5,182.4 L537.5,182.4 L537.9,182.4 L539,182.3 L539.3,182.3 L540.4,182.3 L540.7,182.3 L541.9,182.3 L542,182.3 L543.3,182.3 L543.4,182.3 L544.7,182.2 L544.8,182.2 L546.1,182.2 L546.3,182.2 L547.4,182.2 L547.8,182.1 L548.8,182.1 L549.3,182.1 L550.1,182.1 L550.8,182 L551.4,182 L552.3,182 L552.7,182 L553.9,181.9 L554,181.9 L555.3,181.9 L555.4,181.9 L556.6,181.8 L556.9,181.8 L557.9,181.8 L558.5,181.7 L559.2,181.7 L560.1,181.7 L560.4,181.6 L561.7,181.6 L561.7,181.6 L563,181.5 L563.2,181.5 L564.2,181.4 L564.8,181.4 L565.4,181.4 L566.5,181.3 L566.7,181.3 L567.9,181.2 L568.1,181.2 L569.1,181.1 L569.7,181.1 L570.4,181.1 L571.4,181 L571.6,181 L572.8,180.9 L573,180.9 L574,180.8 L574.7,180.8 L575.2,180.7 L576.4,180.6 L576.4,180.6 L577.6,180.6 L578,180.5 L578.7,180.5 L579.7,180.4 L579.9,180.4 L581.1,180.3 L581.5,180.2 L582.2,180.2 L583.2,180.1 L583.4,180.1 L584.5,180 L584.9,179.9 L585.7,179.9 L586.7,179.8 L586.8,179.8 L588,179.7 L588.4,179.6 L589.1,179.5 L590.2,179.4 L590.2,179.4 L591.3,179.3 L592,179.3 L592.5,179.2 L593.6,179.1 L593.8,179.1 L594.7,179 L595.6,178.9 L595.8,178.9 L596.9,178.8 L597.5,178.7 L598,178.6 L599,178.5 L599.3,178.5 L600.1,178.4 L601.2,178.3 L601.2,178.3 L602.3,178.1 L603.1,178 L603.3,178 L604.4,177.9 L605,177.8 L605.4,177.7 L606.5,177.6 L606.9,177.6 L607.5,177.5 L608.6,177.4 L608.9,177.3 L609.6,177.2 L610.6,177.1 L610.8,177.1 L611.7,176.9 L612.7,176.8 L612.8,176.8 L613.7,176.7 L614.7,176.5 L614.8,176.5 L615.7,176.4 L616.7,176.2 L616.8,176.2 L617.7,176.1 L618.7,175.9 L618.8,175.9 L619.7,175.8 L620.7,175.6 L620.9,175.6 L621.7,175.5" fill="none" stroke="#c2e617" stroke-width="1.3"/>
<path d="M489.2,163 L490.3,163.1 L490.7,163.1 L491.3,163.2 L492.3,163.3 L492.6,163.3 L493.3,163.4 L494.4,163.5 L494.5,163.5 L495.4,163.6 L496.3,163.7 L496.5,163.7 L497.5,163.8 L498.1,163.9 L498.6,163.9 L499.7,164 L499.9,164 L500.7,164.1 L501.7,164.2 L501.8,164.2 L502.9,164.3 L503.4,164.3 L504,164.4 L505.1,164.5 L505.1,164.5 L506.3,164.5 L506.8,164.6 L507.4,164.6 L508.5,164.7 L508.5,164.7 L509.6,164.8 L510.1,164.8 L510.8,164.8 L511.8,164.9 L511.9,164.9 L513.1,165 L513.4,165 L514.3,165 L515,165.1 L515.4,165.1 L516.6,165.2 L516.6,165.2 L517.8,165.2 L518.1,165.2 L519,165.3 L519.7,165.3 L520.2,165.3 L521.2,165.3 L521.4,165.4 L522.7,165.4 L522.7,165.4 L523.9,165.4 L524.2,165.4 L525.1,165.5 L525.7,165.5 L526.4,165.5 L527.2,165.5 L527.6,165.5 L528.6,165.6 L528.9,165.6 L530.1,165.6 L530.2,165.6 L531.5,165.6 L531.5,165.6 L532.7,165.6 L533,165.6 L534,165.6 L534.4,165.6 L535.4,165.7 L535.8,165.7 L536.7,165.7 L537.2,165.7 L538,165.7 L538.5,165.7 L539.3,165.7 L539.9,165.7 L540.7,165.7 L541.3,165.7 L542,165.6 L542.6,165.6 L543.4,165.6 L544,165.6 L544.8,165.6 L545.3,165.6 L546.1,165.6 L546.6,165.6 L547.5,165.6 L547.9,165.6 L548.9,165.5 L549.2,165.5 L550.4,165.5 L550.5,165.5 L551.8,165.5 L551.8,165.5 L553.1,165.4 L553.2,165.4 L554.3,165.4 L554.7,165.4 L555.6,165.4 L556.1,165.3 L556.8,165.3 L557.6,165.3 L558.1,165.3 L559.1,165.2 L559.3,165.2 L560.5,165.2 L560.5,165.2 L561.8,165.1 L562,165.1 L563,165.1 L563.6,165 L564.2,165 L565.1,164.9 L565.4,164.9 L566.6,164.9 L566.6,164.9 L567.7,164.8 L568.2,164.8 L568.9,164.7 L569.7,164.7 L570.1,164.7 L571.2,164.6 L571.3,164.6 L572.4,164.5 L572.9,164.5 L573.5,164.4 L574.5,164.4 L574.7,164.3 L575.8,164.3 L576.1,164.2 L576.9,164.2 L577.8,164.1 L578.1,164.1 L579.2,164 L579.4,164 L580.3,163.9 L581.1,163.8 L581.4,163.8 L582.5,163.7 L582.7,163.7 L583.6,163.6 L584.4,163.5 L584.6,163.5 L585.7,163.4 L586.2,163.4 L586.8,163.3" fill="none" stroke="#e66f17" stroke-width="1.3"/>
<circle cx="540.4" cy="239.3" r="1.15" fill="#000"/>
<circle cx="511.1" cy="226.4" r="1.15" fill="#000"/>
<circle cx="481.8" cy="213.4" r="1.15" fill="#000"/>
<circle cx="452.4" cy="200.5" r="1.15" fill="#000"/>
<circle cx="423.1" cy="187.6" r="1.15" fill="#000"/>
<circle cx="540.4" cy="239.3" r="1.15" fill="#000"/>
<circle cx="568.4" cy="226" r="1.15" fill="#000"/>
<circle cx="596.3" cy="212.7" r="1.15" fill="#000"/>
<circle cx="624.2" cy="199.4" r="1.15" fill="#000"/>
<circle cx="652.2" cy="186.1" r="1.15" fill="#000"/>
<circle cx="421.4" cy="149.5" r="1.15" fill="#000"/>
<circle cx="420.6" cy="132.1" r="1.15" fill="#000"/>
<circle cx="419.8" cy="114.8" r="1.15" fill="#000"/>
<circle cx="419" cy="97.5" r="1.15" fill="#000"/>
<circle cx="418.2" cy="80.1" r="1.15" fill="#000"/>
<circle cx="417.4" cy="62.8" r="1.15" fill="#000"/>
<circle cx="416.6" cy="45.5" r="1.15" fill="#000"/>
<circle cx="415.8" cy="28.1" r="1.15" fill="#000"/>
<polygon points="536.1,14.7 541.4,11.9 535.9,9.5 530.6,12.3" fill="url(#B401)"/>
<polygon points="541.7,17.2 547,14.5 541.4,11.9 536.1,14.7" fill="url(#B402)"/>
<polygon points="530.7,17.5 536.1,14.7 530.6,12.3 525.2,15.1" fill="url(#B403)"/>
<polygon points="547.3,20 552.6,17.2 547,14.5 541.7,17.2" fill="url(#B404)"/>
<polygon points="536.3,20.1 541.7,17.2 536.1,14.7 530.7,17.5" fill="url(#B405)"/>
<polygon points="525.3,20.5 530.7,17.5 525.2,15.1 519.8,18" fill="url(#B406)"/>
<polygon points="553,22.9 558.3,20.1 552.6,17.2 547.3,20" fill="url(#B407)"/>
<polygon points="541.9,22.9 547.3,20 541.7,17.2 536.3,20.1" fill="url(#B408)"/>
<polygon points="530.8,23.2 536.3,20.1 530.7,17.5 525.3,20.5" fill="url(#B409)"/>
<polygon points="519.8,23.6 525.3,20.5 519.8,18 514.3,21.1" fill="url(#B410)"/>
<polygon points="558.7,26 564,23.1 558.3,20.1 553,22.9" fill="url(#B411)"/>
<polygon points="547.6,25.9 553,22.9 547.3,20 541.9,22.9" fill="url(#B412)"/>
<polygon points="536.5,26 541.9,22.9 536.3,20.1 530.8,23.2" fill="url(#B413)"/>
<polygon points="525.4,26.3 530.8,23.2 525.3,20.5 519.8,23.6" fill="url(#B414)"/>
<polygon points="514.2,26.9 519.8,23.6 514.3,21.1 508.7,24.3" fill="url(#B415)"/>
<polygon points="564.5,29.2 569.8,26.3 564,23.1 558.7,26" fill="url(#B416)"/>
<polygon points="553.3,29 558.7,26 553,22.9 547.6,25.9" fill="url(#B417)"/>
<polygon points="542.2,29 547.6,25.9 541.9,22.9 536.5,26" fill="url(#B418)"/>
<polygon points="531,29.2 536.5,26 530.8,23.2 525.4,26.3" fill="url(#B419)"/>
<polygon points="519.8,29.6 525.4,26.3 519.8,23.6 514.2,26.9" fill="url(#B420)"/>
<polygon points="508.6,30.2 514.2,26.9 508.7,24.3 503.1,27.7" fill="url(#B421)"/>
<polygon points="570.4,32.7 575.7,29.7 569.8,26.3 564.5,29.2" fill="url(#B422)"/>
<polygon points="559.1,32.3 564.5,29.2 558.7,26 553.3,29" fill="url(#B423)"/>
<polygon points="547.9,32.1 553.3,29 547.6,25.9 542.2,29" fill="url(#B424)"/>
<polygon points="536.7,32.2 542.2,29 536.5,26 531,29.2" fill="url(#B425)"/>
<polygon points="525.4,32.5 531,29.2 525.4,26.3 519.8,29.6" fill="url(#B426)"/>
<polygon points="503,33.7 508.6,30.2 503.1,27.7 497.4,31.1" fill="url(#B427)"/>
<polygon points="514.2,33 519.8,29.6 514.2,26.9 508.6,30.2" fill="url(#B428)"/>
<polygon points="576.3,36.3 581.6,33.3 575.7,29.7 570.4,32.7" fill="url(#B429)"/>
<polygon points="565,35.7 570.4,32.7 564.5,29.2 559.1,32.3" fill="url(#B430)"/>
<polygon points="553.7,35.4 559.1,32.3 553.3,29 547.9,32.1" fill="url(#B431)"/>
<polygon points="542.4,35.4 547.9,32.1 542.2,29 536.7,32.2" fill="url(#B432)"/>
<polygon points="531.1,35.5 536.7,32.2 531,29.2 525.4,32.5" fill="url(#B433)"/>
<polygon points="497.2,37.4 503,33.7 497.4,31.1 491.7,34.7" fill="url(#B434)"/>
<polygon points="519.8,35.9 525.4,32.5 519.8,29.6 514.2,33" fill="url(#B435)"/>
<polygon points="508.5,36.5 514.2,33 508.6,30.2 503,33.7" fill="url(#B436)"/>
<polygon points="582.2,40 587.5,37 581.6,33.3 576.3,36.3" fill="url(#B437)"/>
<polygon points="570.9,39.4 576.3,36.3 570.4,32.7 565,35.7" fill="url(#B438)"/>
<polygon points="559.6,38.9 565,35.7 559.1,32.3 553.7,35.4" fill="url(#B439)"/>
<polygon points="548.2,38.7 553.7,35.4 547.9,32.1 542.4,35.4" fill="url(#B440)"/>
<polygon points="536.9,38.7 542.4,35.4 536.7,32.2 531.1,35.5" fill="url(#B441)"/>
<polygon points="491.5,41.1 497.2,37.4 491.7,34.7 485.9,38.4" fill="url(#B442)"/>
<polygon points="525.5,39 531.1,35.5 525.4,32.5 519.8,35.9" fill="url(#B443)"/>
<polygon points="502.8,40.2 508.5,36.5 503,33.7 497.2,37.4" fill="url(#B444)"/>
<polygon points="514.2,39.5 519.8,35.9 514.2,33 508.5,36.5" fill="url(#B445)"/>
<polygon points="588.2,44 593.5,40.9 587.5,37 582.2,40" fill="url(#B446)"/>
<polygon points="576.9,43.2 582.2,40 576.3,36.3 570.9,39.4" fill="url(#B447)"/>
<polygon points="565.5,42.6 570.9,39.4 565,35.7 559.6,38.9" fill="url(#B448)"/>
<polygon points="554.1,42.3 559.6,38.9 553.7,35.4 548.2,38.7" fill="url(#B449)"/>
<polygon points="542.7,42.1 548.2,38.7 542.4,35.4 536.9,38.7" fill="url(#B450)"/>
<polygon points="485.6,45 491.5,41.1 485.9,38.4 480.1,42.3" fill="url(#B451)"/>
<polygon points="531.3,42.2 536.9,38.7 531.1,35.5 525.5,39" fill="url(#B452)"/>
<polygon points="497,44 502.8,40.2 497.2,37.4 491.5,41.1" fill="url(#B453)"/>
<polygon points="519.9,42.6 525.5,39 519.8,35.9 514.2,39.5" fill="url(#B454)"/>
<polygon points="508.4,43.2 514.2,39.5 508.5,36.5 502.8,40.2" fill="url(#B455)"/>
<polygon points="594.3,48.1 599.6,45 593.5,40.9 588.2,44" fill="url(#B456)"/>
<polygon points="582.9,47.2 588.2,44 582.2,40 576.9,43.2" fill="url(#B457)"/>
<polygon points="571.5,46.5 576.9,43.2 570.9,39.4 565.5,42.6" fill="url(#B458)"/>
<polygon points="560,46 565.5,42.6 559.6,38.9 554.1,42.3" fill="url(#B459)"/>
<polygon points="548.6,45.7 554.1,42.3 548.2,38.7 542.7,42.1" fill="url(#B460)"/>
<polygon points="537.1,45.7 542.7,42.1 536.9,38.7 531.3,42.2" fill="url(#B461)"/>
<polygon points="479.7,49.1 485.6,45 480.1,42.3 474.2,46.3" fill="url(#B462)"/>
<polygon points="525.6,45.9 531.3,42.2 525.5,39 519.9,42.6" fill="url(#B463)"/>
<polygon points="491.2,47.9 497,44 491.5,41.1 485.6,45" fill="url(#B464)"/>
<polygon points="514.1,46.3 519.9,42.6 514.2,39.5 508.4,43.2" fill="url(#B465)"/>
<polygon points="502.7,47 508.4,43.2 502.8,40.2 497,44" fill="url(#B466)"/>
<polygon points="600.4,52.5 605.7,49.3 599.6,45 594.3,48.1" fill="url(#B467)"/>
<polygon points="589,51.4 594.3,48.1 588.2,44 582.9,47.2" fill="url(#B468)"/>
<polygon points="577.5,50.5 582.9,47.2 576.9,43.2 571.5,46.5" fill="url(#B469)"/>
<polygon points="566,49.9 571.5,46.5 565.5,42.6 560,46" fill="url(#B470)"/>
<polygon points="554.5,49.5 560,46 554.1,42.3 548.6,45.7" fill="url(#B471)"/>
<polygon points="543,49.3 548.6,45.7 542.7,42.1 537.1,45.7" fill="url(#B472)"/>
<polygon points="473.8,53.2 479.7,49.1 474.2,46.3 468.3,50.4" fill="url(#B473)"/>
<polygon points="531.4,49.4 537.1,45.7 531.3,42.2 525.6,45.9" fill="url(#B474)"/>
<polygon points="485.3,52 491.2,47.9 485.6,45 479.7,49.1" fill="url(#B475)"/>
<polygon points="519.9,49.7 525.6,45.9 519.9,42.6 514.1,46.3" fill="url(#B476)"/>
<polygon points="496.8,51 502.7,47 497,44 491.2,47.9" fill="url(#B477)"/>
<polygon points="508.4,50.2 514.1,46.3 508.4,43.2 502.7,47" fill="url(#B478)"/>
<polygon points="606.6,57 611.9,53.8 605.7,49.3 600.4,52.5" fill="url(#B479)"/>
<polygon points="595.1,55.7 600.4,52.5 594.3,48.1 589,51.4" fill="url(#B480)"/>
<polygon points="583.6,54.7 589,51.4 582.9,47.2 577.5,50.5" fill="url(#B481)"/>
<polygon points="572,53.9 577.5,50.5 571.5,46.5 566,49.9" fill="url(#B482)"/>
<polygon points="560.5,53.4 566,49.9 560,46 554.5,49.5" fill="url(#B483)"/>
<polygon points="548.9,53.1 554.5,49.5 548.6,45.7 543,49.3" fill="url(#B484)"/>
<polygon points="467.8,57.5 473.8,53.2 468.3,50.4 462.3,54.7" fill="url(#B485)"/>
<polygon points="537.3,53 543,49.3 537.1,45.7 531.4,49.4" fill="url(#B486)"/>
<polygon points="479.3,56.2 485.3,52 479.7,49.1 473.8,53.2" fill="url(#B487)"/>
<polygon points="525.7,53.2 531.4,49.4 525.6,45.9 519.9,49.7" fill="url(#B488)"/>
<polygon points="490.9,55.1 496.8,51 491.2,47.9 485.3,52" fill="url(#B489)"/>
<polygon points="514.1,53.6 519.9,49.7 514.1,46.3 508.4,50.2" fill="url(#B490)"/>
<polygon points="502.5,54.2 508.4,50.2 502.7,47 496.8,51" fill="url(#B491)"/>
<polygon points="612.9,61.6 618.1,58.4 611.9,53.8 606.6,57" fill="url(#B492)"/>
<polygon points="601.3,60.3 606.6,57 600.4,52.5 595.1,55.7" fill="url(#B493)"/>
<polygon points="589.7,59.1 595.1,55.7 589,51.4 583.6,54.7" fill="url(#B494)"/>
<polygon points="578.1,58.2 583.6,54.7 577.5,50.5 572,53.9" fill="url(#B495)"/>
<polygon points="566.5,57.5 572,53.9 566,49.9 560.5,53.4" fill="url(#B496)"/>
<polygon points="554.9,57.1 560.5,53.4 554.5,49.5 548.9,53.1" fill="url(#B497)"/>
<polygon points="461.7,62 467.8,57.5 462.3,54.7 456.2,59.1" fill="url(#B498)"/>
<polygon points="543.2,56.9 548.9,53.1 543,49.3 537.3,53" fill="url(#B499)"/>
<polygon points="473.3,60.6 479.3,56.2 473.8,53.2 467.8,57.5" fill="url(#B500)"/>
<polygon points="531.6,56.9 537.3,53 531.4,49.4 525.7,53.2" fill="url(#B501)"/>
<polygon points="485,59.4 490.9,55.1 485.3,52 479.3,56.2" fill="url(#B502)"/>
<polygon points="519.9,57.2 525.7,53.2 519.9,49.7 514.1,53.6" fill="url(#B503)"/>
<polygon points="496.6,58.4 502.5,54.2 496.8,51 490.9,55.1" fill="url(#B504)"/>
<polygon points="508.3,57.7 514.1,53.6 508.4,50.2 502.5,54.2" fill="url(#B505)"/>
<polygon points="619.2,66.5 624.4,63.3 618.1,58.4 612.9,61.6" fill="url(#B506)"/>
<polygon points="607.6,65 612.9,61.6 606.6,57 601.3,60.3" fill="url(#B507)"/>
<polygon points="595.9,63.7 601.3,60.3 595.1,55.7 589.7,59.1" fill="url(#B508)"/>
<polygon points="584.3,62.7 589.7,59.1 583.6,54.7 578.1,58.2" fill="url(#B509)"/>
<polygon points="572.6,61.8 578.1,58.2 572,53.9 566.5,57.5" fill="url(#B510)"/>
<polygon points="560.9,61.3 566.5,57.5 560.5,53.4 554.9,57.1" fill="url(#B511)"/>
<polygon points="455.6,66.6 461.7,62 456.2,59.1 450.1,63.7" fill="url(#B512)"/>
<polygon points="549.2,60.9 554.9,57.1 548.9,53.1 543.2,56.9" fill="url(#B513)"/>
<polygon points="467.2,65.1 473.3,60.6 467.8,57.5 461.7,62" fill="url(#B514)"/>
<polygon points="537.5,60.8 543.2,56.9 537.3,53 531.6,56.9" fill="url(#B515)"/>
<polygon points="478.9,63.8 485,59.4 479.3,56.2 473.3,60.6" fill="url(#B516)"/>
<polygon points="525.8,60.9 531.6,56.9 525.7,53.2 519.9,57.2" fill="url(#B517)"/>
<polygon points="490.7,62.7 496.6,58.4 490.9,55.1 485,59.4" fill="url(#B518)"/>
<polygon points="514.1,61.3 519.9,57.2 514.1,53.6 508.3,57.7" fill="url(#B519)"/>
<polygon points="502.4,61.9 508.3,57.7 502.5,54.2 496.6,58.4" fill="url(#B520)"/>
<polygon points="625.5,71.6 630.7,68.3 624.4,63.3 619.2,66.5" fill="url(#B521)"/>
<polygon points="613.9,69.9 619.2,66.5 612.9,61.6 607.6,65" fill="url(#B522)"/>
<polygon points="602.2,68.5 607.6,65 601.3,60.3 595.9,63.7" fill="url(#B523)"/>
<polygon points="590.5,67.3 595.9,63.7 589.7,59.1 584.3,62.7" fill="url(#B524)"/>
<polygon points="578.8,66.3 584.3,62.7 578.1,58.2 572.6,61.8" fill="url(#B525)"/>
<polygon points="567,65.6 572.6,61.8 566.5,57.5 560.9,61.3" fill="url(#B526)"/>
<polygon points="555.3,65.1 560.9,61.3 554.9,57.1 549.2,60.9" fill="url(#B527)"/>
<polygon points="449.4,71.3 455.6,66.6 450.1,63.7 443.9,68.4" fill="url(#B528)"/>
<polygon points="543.5,64.9 549.2,60.9 543.2,56.9 537.5,60.8" fill="url(#B529)"/>
<polygon points="461.1,69.7 467.2,65.1 461.7,62 455.6,66.6" fill="url(#B530)"/>
<polygon points="631.9,76.9 637.1,73.5 630.7,68.3 625.5,71.6" fill="url(#B531)"/>
<polygon points="531.7,64.8 537.5,60.8 531.6,56.9 525.8,60.9" fill="url(#B532)"/>
<polygon points="472.9,68.3 478.9,63.8 473.3,60.6 467.2,65.1" fill="url(#B533)"/>
<polygon points="520,65.1 525.8,60.9 519.9,57.2 514.1,61.3" fill="url(#B534)"/>
<polygon points="484.6,67.1 490.7,62.7 485,59.4 478.9,63.8" fill="url(#B535)"/>
<polygon points="508.2,65.5 514.1,61.3 508.3,57.7 502.4,61.9" fill="url(#B536)"/>
<polygon points="496.4,66.2 502.4,61.9 496.6,58.4 490.7,62.7" fill="url(#B537)"/>
<polygon points="620.2,75 625.5,71.6 619.2,66.5 613.9,69.9" fill="url(#B538)"/>
<polygon points="608.5,73.5 613.9,69.9 607.6,65 602.2,68.5" fill="url(#B539)"/>
<polygon points="596.8,72.1 602.2,68.5 595.9,63.7 590.5,67.3" fill="url(#B540)"/>
<polygon points="585,71 590.5,67.3 584.3,62.7 578.8,66.3" fill="url(#B541)"/>
<polygon points="573.2,70.1 578.8,66.3 572.6,61.8 567,65.6" fill="url(#B542)"/>
<polygon points="561.4,69.5 567,65.6 560.9,61.3 555.3,65.1" fill="url(#B543)"/>
<polygon points="443.1,76.2 449.4,71.3 443.9,68.4 437.6,73.2" fill="url(#B544)"/>
<polygon points="638.4,82.3 643.6,78.9 637.1,73.5 631.9,76.9" fill="url(#B545)"/>
<polygon points="549.6,69.1 555.3,65.1 549.2,60.9 543.5,64.9" fill="url(#B546)"/>
<polygon points="454.9,74.5 461.1,69.7 455.6,66.6 449.4,71.3" fill="url(#B547)"/>
<polygon points="537.7,69 543.5,64.9 537.5,60.8 531.7,64.8" fill="url(#B548)"/>
<polygon points="466.7,73 472.9,68.3 467.2,65.1 461.1,69.7" fill="url(#B549)"/>
<polygon points="525.9,69 531.7,64.8 525.8,60.9 520,65.1" fill="url(#B550)"/>
<polygon points="478.5,71.7 484.6,67.1 478.9,63.8 472.9,68.3" fill="url(#B551)"/>
<polygon points="514.1,69.3 520,65.1 514.1,61.3 508.2,65.5" fill="url(#B552)"/>
<polygon points="490.4,70.7 496.4,66.2 490.7,62.7 484.6,67.1" fill="url(#B553)"/>
<polygon points="626.6,80.4 631.9,76.9 625.5,71.6 620.2,75" fill="url(#B554)"/>
<polygon points="502.2,69.9 508.2,65.5 502.4,61.9 496.4,66.2" fill="url(#B555)"/>
<polygon points="614.9,78.6 620.2,75 613.9,69.9 608.5,73.5" fill="url(#B556)"/>
<polygon points="603.1,77.2 608.5,73.5 602.2,68.5 596.8,72.1" fill="url(#B557)"/>
<polygon points="591.3,75.9 596.8,72.1 590.5,67.3 585,71" fill="url(#B558)"/>
<polygon points="579.4,74.9 585,71 578.8,66.3 573.2,70.1" fill="url(#B559)"/>
<polygon points="644.9,88 650.1,84.5 643.6,78.9 638.4,82.3" fill="url(#B560)"/>
<polygon points="567.6,74.1 573.2,70.1 567,65.6 561.4,69.5" fill="url(#B561)"/>
<polygon points="436.8,81.3 443.1,76.2 437.6,73.2 431.3,78.2" fill="url(#B562)"/>
<polygon points="555.7,73.6 561.4,69.5 555.3,65.1 549.6,69.1" fill="url(#B563)"/>
<polygon points="448.7,79.4 454.9,74.5 449.4,71.3 443.1,76.2" fill="url(#B564)"/>
<polygon points="633.1,85.9 638.4,82.3 631.9,76.9 626.6,80.4" fill="url(#B565)"/>
<polygon points="543.8,73.3 549.6,69.1 543.5,64.9 537.7,69" fill="url(#B566)"/>
<polygon points="460.5,77.8 466.7,73 461.1,69.7 454.9,74.5" fill="url(#B567)"/>
<polygon points="531.9,73.2 537.7,69 531.7,64.8 525.9,69" fill="url(#B568)"/>
<polygon points="472.4,76.5 478.5,71.7 472.9,68.3 466.7,73" fill="url(#B569)"/>
<polygon points="520,73.4 525.9,69 520,65.1 514.1,69.3" fill="url(#B570)"/>
<polygon points="484.3,75.3 490.4,70.7 484.6,67.1 478.5,71.7" fill="url(#B571)"/>
<polygon points="508.1,73.8 514.1,69.3 508.2,65.5 502.2,69.9" fill="url(#B572)"/>
<polygon points="496.2,74.4 502.2,69.9 496.4,66.2 490.4,70.7" fill="url(#B573)"/>
<polygon points="621.3,84 626.6,80.4 620.2,75 614.9,78.6" fill="url(#B574)"/>
<polygon points="609.5,82.4 614.9,78.6 608.5,73.5 603.1,77.2" fill="url(#B575)"/>
<polygon points="597.6,81 603.1,77.2 596.8,72.1 591.3,75.9" fill="url(#B576)"/>
<polygon points="585.7,79.8 591.3,75.9 585,71 579.4,74.9" fill="url(#B577)"/>
<polygon points="651.4,93.8 656.6,90.3 650.1,84.5 644.9,88" fill="url(#B578)"/>
<polygon points="573.8,78.9 579.4,74.9 573.2,70.1 567.6,74.1" fill="url(#B579)"/>
<polygon points="430.4,86.4 436.8,81.3 431.3,78.2 425,83.3" fill="url(#B580)"/>
<polygon points="639.6,91.6 644.9,88 638.4,82.3 633.1,85.9" fill="url(#B581)"/>
<polygon points="561.9,78.2 567.6,74.1 561.4,69.5 555.7,73.6" fill="url(#B582)"/>
<polygon points="442.3,84.5 448.7,79.4 443.1,76.2 436.8,81.3" fill="url(#B583)"/>
<polygon points="549.9,77.8 555.7,73.6 549.6,69.1 543.8,73.3" fill="url(#B584)"/>
<polygon points="454.3,82.8 460.5,77.8 454.9,74.5 448.7,79.4" fill="url(#B585)"/>
<polygon points="538,77.5 543.8,73.3 537.7,69 531.9,73.2" fill="url(#B586)"/>
<polygon points="466.2,81.3 472.4,76.5 466.7,73 460.5,77.8" fill="url(#B587)"/>
<polygon points="627.8,89.6 633.1,85.9 626.6,80.4 621.3,84" fill="url(#B588)"/>
<polygon points="526,77.6 531.9,73.2 525.9,69 520,73.4" fill="url(#B589)"/>
<polygon points="478.1,80.1 484.3,75.3 478.5,71.7 472.4,76.5" fill="url(#B590)"/>
<polygon points="514,77.9 520,73.4 514.1,69.3 508.1,73.8" fill="url(#B591)"/>
<polygon points="490.1,79.1 496.2,74.4 490.4,70.7 484.3,75.3" fill="url(#B592)"/>
<polygon points="502.1,78.4 508.1,73.8 502.2,69.9 496.2,74.4" fill="url(#B593)"/>
<polygon points="615.9,87.8 621.3,84 614.9,78.6 609.5,82.4" fill="url(#B594)"/>
<polygon points="604,86.2 609.5,82.4 603.1,77.2 597.6,81" fill="url(#B595)"/>
<polygon points="592,84.9 597.6,81 591.3,75.9 585.7,79.8" fill="url(#B596)"/>
<polygon points="580.1,83.9 585.7,79.8 579.4,74.9 573.8,78.9" fill="url(#B597)"/>
<polygon points="646.2,97.5 651.4,93.8 644.9,88 639.6,91.6" fill="url(#B598)"/>
<polygon points="424,91.8 430.4,86.4 425,83.3 418.6,88.6" fill="url(#B599)"/>
<polygon points="568.1,83 573.8,78.9 567.6,74.1 561.9,78.2" fill="url(#B600)"/>
<polygon points="436,89.7 442.3,84.5 436.8,81.3 430.4,86.4" fill="url(#B601)"/>
<polygon points="556.1,82.4 561.9,78.2 555.7,73.6 549.9,77.8" fill="url(#B602)"/>
<polygon points="634.3,95.3 639.6,91.6 633.1,85.9 627.8,89.6" fill="url(#B603)"/>
<polygon points="447.9,87.9 454.3,82.8 448.7,79.4 442.3,84.5" fill="url(#B604)"/>
<polygon points="544.1,82.1 549.9,77.8 543.8,73.3 538,77.5" fill="url(#B605)"/>
<polygon points="459.9,86.4 466.2,81.3 460.5,77.8 454.3,82.8" fill="url(#B606)"/>
<polygon points="532.1,82 538,77.5 531.9,73.2 526,77.6" fill="url(#B607)"/>
<polygon points="471.9,85 478.1,80.1 472.4,76.5 466.2,81.3" fill="url(#B608)"/>
<polygon points="520,82.1 526,77.6 520,73.4 514,77.9" fill="url(#B609)"/>
<polygon points="484,83.9 490.1,79.1 484.3,75.3 478.1,80.1" fill="url(#B610)"/>
<polygon points="508,82.5 514,77.9 508.1,73.8 502.1,78.4" fill="url(#B611)"/>
<polygon points="496,83.1 502.1,78.4 496.2,74.4 490.1,79.1" fill="url(#B612)"/>
<polygon points="622.4,93.4 627.8,89.6 621.3,84 615.9,87.8" fill="url(#B613)"/>
<polygon points="610.4,91.7 615.9,87.8 609.5,82.4 604,86.2" fill="url(#B614)"/>
<polygon points="598.4,90.3 604,86.2 597.6,81 592,84.9" fill="url(#B615)"/>
<polygon points="586.4,89 592,84.9 585.7,79.8 580.1,83.9" fill="url(#B616)"/>
<polygon points="574.4,88.1 580.1,83.9 573.8,78.9 568.1,83" fill="url(#B617)"/>
<polygon points="640.9,101.3 646.2,97.5 639.6,91.6 634.3,95.3" fill="url(#B618)"/>
<polygon points="562.3,87.3 568.1,83 561.9,78.2 556.1,82.4" fill="url(#B619)"/>
<polygon points="429.5,95.1 436,89.7 430.4,86.4 424,91.8" fill="url(#B620)"/>
<polygon points="550.3,86.8 556.1,82.4 549.9,77.8 544.1,82.1" fill="url(#B621)"/>
<polygon points="441.6,93.2 447.9,87.9 442.3,84.5 436,89.7" fill="url(#B622)"/>
<polygon points="538.2,86.6 544.1,82.1 538,77.5 532.1,82" fill="url(#B623)"/>
<polygon points="453.6,91.6 459.9,86.4 454.3,82.8 447.9,87.9" fill="url(#B624)"/>
<polygon points="628.9,99.2 634.3,95.3 627.8,89.6 622.4,93.4" fill="url(#B625)"/>
<polygon points="526.1,86.6 532.1,82 526,77.6 520,82.1" fill="url(#B626)"/>
<polygon points="465.7,90.1 471.9,85 466.2,81.3 459.9,86.4" fill="url(#B627)"/>
<polygon points="514,86.8 520,82.1 514,77.9 508,82.5" fill="url(#B628)"/>
<polygon points="477.7,88.9 484,83.9 478.1,80.1 471.9,85" fill="url(#B629)"/>
<polygon points="501.9,87.3 508,82.5 502.1,78.4 496,83.1" fill="url(#B630)"/>
<polygon points="489.8,88 496,83.1 490.1,79.1 484,83.9" fill="url(#B631)"/>
<polygon points="616.9,97.4 622.4,93.4 615.9,87.8 610.4,91.7" fill="url(#B632)"/>
<polygon points="604.9,95.8 610.4,91.7 604,86.2 598.4,90.3" fill="url(#B633)"/>
<polygon points="592.8,94.4 598.4,90.3 592,84.9 586.4,89" fill="url(#B634)"/>
<polygon points="580.7,93.3 586.4,89 580.1,83.9 574.4,88.1" fill="url(#B635)"/>
<polygon points="568.6,92.4 574.4,88.1 568.1,83 562.3,87.3" fill="url(#B636)"/>
<polygon points="556.5,91.8 562.3,87.3 556.1,82.4 550.3,86.8" fill="url(#B637)"/>
<polygon points="635.5,105.2 640.9,101.3 634.3,95.3 628.9,99.2" fill="url(#B638)"/>
<polygon points="435.1,98.7 441.6,93.2 436,89.7 429.5,95.1" fill="url(#B639)"/>
<polygon points="544.4,91.4 550.3,86.8 544.1,82.1 538.2,86.6" fill="url(#B640)"/>
<polygon points="447.2,96.9 453.6,91.6 447.9,87.9 441.6,93.2" fill="url(#B641)"/>
<polygon points="532.2,91.2 538.2,86.6 532.1,82 526.1,86.6" fill="url(#B642)"/>
<polygon points="459.3,95.4 465.7,90.1 459.9,86.4 453.6,91.6" fill="url(#B643)"/>
<polygon points="520.1,91.3 526.1,86.6 520,82.1 514,86.8" fill="url(#B644)"/>
<polygon points="471.5,94.1 477.7,88.9 471.9,85 465.7,90.1" fill="url(#B645)"/>
<polygon points="623.5,103.2 628.9,99.2 622.4,93.4 616.9,97.4" fill="url(#B646)"/>
<polygon points="507.9,91.6 514,86.8 508,82.5 501.9,87.3" fill="url(#B647)"/>
<polygon points="483.6,93 489.8,88 484,83.9 477.7,88.9" fill="url(#B648)"/>
<polygon points="495.8,92.2 501.9,87.3 496,83.1 489.8,88" fill="url(#B649)"/>
<polygon points="611.4,101.5 616.9,97.4 610.4,91.7 604.9,95.8" fill="url(#B650)"/>
<polygon points="599.3,100 604.9,95.8 598.4,90.3 592.8,94.4" fill="url(#B651)"/>
<polygon points="587.2,98.7 592.8,94.4 586.4,89 580.7,93.3" fill="url(#B652)"/>
<polygon points="575,97.7 580.7,93.3 574.4,88.1 568.6,92.4" fill="url(#B653)"/>
<polygon points="562.8,96.9 568.6,92.4 562.3,87.3 556.5,91.8" fill="url(#B654)"/>
<polygon points="550.6,96.4 556.5,91.8 550.3,86.8 544.4,91.4" fill="url(#B655)"/>
<polygon points="440.8,102.4 447.2,96.9 441.6,93.2 435.1,98.7" fill="url(#B656)"/>
<polygon points="630.1,109.3 635.5,105.2 628.9,99.2 623.5,103.2" fill="url(#B657)"/>
<polygon points="538.4,96.1 544.4,91.4 538.2,86.6 532.2,91.2" fill="url(#B658)"/>
<polygon points="452.9,100.7 459.3,95.4 453.6,91.6 447.2,96.9" fill="url(#B659)"/>
<polygon points="526.2,96 532.2,91.2 526.1,86.6 520.1,91.3" fill="url(#B660)"/>
<polygon points="465.1,99.3 471.5,94.1 465.7,90.1 459.3,95.4" fill="url(#B661)"/>
<polygon points="514,96.2 520.1,91.3 514,86.8 507.9,91.6" fill="url(#B662)"/>
<polygon points="477.3,98.2 483.6,93 477.7,88.9 471.5,94.1" fill="url(#B663)"/>
<polygon points="501.8,96.6 507.9,91.6 501.9,87.3 495.8,92.2" fill="url(#B664)"/>
<polygon points="489.6,97.3 495.8,92.2 489.8,88 483.6,93" fill="url(#B665)"/>
<polygon points="618,107.4 623.5,103.2 616.9,97.4 611.4,101.5" fill="url(#B666)"/>
<polygon points="605.8,105.8 611.4,101.5 604.9,95.8 599.3,100" fill="url(#B667)"/>
<polygon points="593.6,104.3 599.3,100 592.8,94.4 587.2,98.7" fill="url(#B668)"/>
<polygon points="581.4,103.2 587.2,98.7 580.7,93.3 575,97.7" fill="url(#B669)"/>
<polygon points="569.2,102.2 575,97.7 568.6,92.4 562.8,96.9" fill="url(#B670)"/>
<polygon points="556.9,101.5 562.8,96.9 556.5,91.8 550.6,96.4" fill="url(#B671)"/>
<polygon points="544.7,101.1 550.6,96.4 544.4,91.4 538.4,96.1" fill="url(#B672)"/>
<polygon points="446.5,106.3 452.9,100.7 447.2,96.9 440.8,102.4" fill="url(#B673)"/>
<polygon points="532.4,100.9 538.4,96.1 532.2,91.2 526.2,96" fill="url(#B674)"/>
<polygon points="624.6,113.5 630.1,109.3 623.5,103.2 618,107.4" fill="url(#B675)"/>
<polygon points="458.7,104.8 465.1,99.3 459.3,95.4 452.9,100.7" fill="url(#B676)"/>
<polygon points="520.1,100.9 526.2,96 520.1,91.3 514,96.2" fill="url(#B677)"/>
<polygon points="471,103.5 477.3,98.2 471.5,94.1 465.1,99.3" fill="url(#B678)"/>
<polygon points="507.8,101.2 514,96.2 507.9,91.6 501.8,96.6" fill="url(#B679)"/>
<polygon points="483.3,102.5 489.6,97.3 483.6,93 477.3,98.2" fill="url(#B680)"/>
<polygon points="495.6,101.7 501.8,96.6 495.8,92.2 489.6,97.3" fill="url(#B681)"/>
<polygon points="612.4,111.7 618,107.4 611.4,101.5 605.8,105.8" fill="url(#B682)"/>
<polygon points="600.2,110.2 605.8,105.8 599.3,100 593.6,104.3" fill="url(#B683)"/>
<polygon points="587.9,108.9 593.6,104.3 587.2,98.7 581.4,103.2" fill="url(#B684)"/>
<polygon points="575.6,107.8 581.4,103.2 575,97.7 569.2,102.2" fill="url(#B685)"/>
<polygon points="563.3,106.9 569.2,102.2 562.8,96.9 556.9,101.5" fill="url(#B686)"/>
<polygon points="551,106.3 556.9,101.5 550.6,96.4 544.7,101.1" fill="url(#B687)"/>
<polygon points="538.7,106 544.7,101.1 538.4,96.1 532.4,100.9" fill="url(#B688)"/>
<polygon points="452.3,110.4 458.7,104.8 452.9,100.7 446.5,106.3" fill="url(#B689)"/>
<polygon points="526.3,105.9 532.4,100.9 526.2,96 520.1,100.9" fill="url(#B690)"/>
<polygon points="464.6,109 471,103.5 465.1,99.3 458.7,104.8" fill="url(#B691)"/>
<polygon points="514,106 520.1,100.9 514,96.2 507.8,101.2" fill="url(#B692)"/>
<polygon points="476.9,107.9 483.3,102.5 477.3,98.2 471,103.5" fill="url(#B693)"/>
<polygon points="501.6,106.4 507.8,101.2 501.8,96.6 495.6,101.7" fill="url(#B694)"/>
<polygon points="619,117.9 624.6,113.5 618,107.4 612.4,111.7" fill="url(#B695)"/>
<polygon points="489.3,107 495.6,101.7 489.6,97.3 483.3,102.5" fill="url(#B696)"/>
<polygon points="606.7,116.2 612.4,111.7 605.8,105.8 600.2,110.2" fill="url(#B697)"/>
<polygon points="594.4,114.7 600.2,110.2 593.6,104.3 587.9,108.9" fill="url(#B698)"/>
<polygon points="582.1,113.5 587.9,108.9 581.4,103.2 575.6,107.8" fill="url(#B699)"/>
<polygon points="569.8,112.5 575.6,107.8 569.2,102.2 563.3,106.9" fill="url(#B700)"/>
<polygon points="557.4,111.8 563.3,106.9 556.9,101.5 551,106.3" fill="url(#B701)"/>
<polygon points="545,111.3 551,106.3 544.7,101.1 538.7,106" fill="url(#B702)"/>
<polygon points="532.6,111 538.7,106 532.4,100.9 526.3,105.9" fill="url(#B703)"/>
<polygon points="520.2,111 526.3,105.9 520.1,100.9 514,106" fill="url(#B704)"/>
<polygon points="458.1,114.7 464.6,109 458.7,104.8 452.3,110.4" fill="url(#B705)"/>
<polygon points="507.8,111.3 514,106 507.8,101.2 501.6,106.4" fill="url(#B706)"/>
<polygon points="470.5,113.5 476.9,107.9 471,103.5 464.6,109" fill="url(#B707)"/>
<polygon points="495.4,111.8 501.6,106.4 495.6,101.7 489.3,107" fill="url(#B708)"/>
<polygon points="482.9,112.5 489.3,107 483.3,102.5 476.9,107.9" fill="url(#B709)"/>
<polygon points="613.4,122.5 619,117.9 612.4,111.7 606.7,116.2" fill="url(#B710)"/>
<polygon points="601,120.8 606.7,116.2 600.2,110.2 594.4,114.7" fill="url(#B711)"/>
<polygon points="588.7,119.5 594.4,114.7 587.9,108.9 582.1,113.5" fill="url(#B712)"/>
<polygon points="576.2,118.3 582.1,113.5 575.6,107.8 569.8,112.5" fill="url(#B713)"/>
<polygon points="563.8,117.4 569.8,112.5 563.3,106.9 557.4,111.8" fill="url(#B714)"/>
<polygon points="551.4,116.8 557.4,111.8 551,106.3 545,111.3" fill="url(#B715)"/>
<polygon points="538.9,116.4 545,111.3 538.7,106 532.6,111" fill="url(#B716)"/>
<polygon points="526.4,116.3 532.6,111 526.3,105.9 520.2,111" fill="url(#B717)"/>
<polygon points="514,116.3 520.2,111 514,106 507.8,111.3" fill="url(#B718)"/>
<polygon points="464.1,119.2 470.5,113.5 464.6,109 458.1,114.7" fill="url(#B719)"/>
<polygon points="501.5,116.7 507.8,111.3 501.6,106.4 495.4,111.8" fill="url(#B720)"/>
<polygon points="476.5,118.1 482.9,112.5 476.9,107.9 470.5,113.5" fill="url(#B721)"/>
<polygon points="489,117.3 495.4,111.8 489.3,107 482.9,112.5" fill="url(#B722)"/>
<polygon points="607.7,127.1 613.4,122.5 606.7,116.2 601,120.8" fill="url(#B723)"/>
<polygon points="595.3,125.6 601,120.8 594.4,114.7 588.7,119.5" fill="url(#B724)"/>
<polygon points="582.8,124.3 588.7,119.5 582.1,113.5 576.2,118.3" fill="url(#B725)"/>
<polygon points="570.3,123.3 576.2,118.3 569.8,112.5 563.8,117.4" fill="url(#B726)"/>
<polygon points="557.8,122.5 563.8,117.4 557.4,111.8 551.4,116.8" fill="url(#B727)"/>
<polygon points="545.3,122 551.4,116.8 545,111.3 538.9,116.4" fill="url(#B728)"/>
<polygon points="532.8,121.7 538.9,116.4 532.6,111 526.4,116.3" fill="url(#B729)"/>
<polygon points="520.2,121.6 526.4,116.3 520.2,111 514,116.3" fill="url(#B730)"/>
<polygon points="507.7,121.8 514,116.3 507.8,111.3 501.5,116.7" fill="url(#B731)"/>
<polygon points="470.1,123.9 476.5,118.1 470.5,113.5 464.1,119.2" fill="url(#B732)"/>
<polygon points="495.1,122.3 501.5,116.7 495.4,111.8 489,117.3" fill="url(#B733)"/>
<polygon points="482.6,122.9 489,117.3 482.9,112.5 476.5,118.1" fill="url(#B734)"/>
<polygon points="601.9,132 607.7,127.1 601,120.8 595.3,125.6" fill="url(#B735)"/>
<polygon points="589.4,130.6 595.3,125.6 588.7,119.5 582.8,124.3" fill="url(#B736)"/>
<polygon points="576.9,129.4 582.8,124.3 576.2,118.3 570.3,123.3" fill="url(#B737)"/>
<polygon points="564.3,128.4 570.3,123.3 563.8,117.4 557.8,122.5" fill="url(#B738)"/>
<polygon points="551.8,127.7 557.8,122.5 551.4,116.8 545.3,122" fill="url(#B739)"/>
<polygon points="539.2,127.3 545.3,122 538.9,116.4 532.8,121.7" fill="url(#B740)"/>
<polygon points="526.6,127.1 532.8,121.7 526.4,116.3 520.2,121.6" fill="url(#B741)"/>
<polygon points="514,127.1 520.2,121.6 514,116.3 507.7,121.8" fill="url(#B742)"/>
<polygon points="501.3,127.4 507.7,121.8 501.5,116.7 495.1,122.3" fill="url(#B743)"/>
<polygon points="476.1,128.8 482.6,122.9 476.5,118.1 470.1,123.9" fill="url(#B744)"/>
<polygon points="488.7,128 495.1,122.3 489,117.3 482.6,122.9" fill="url(#B745)"/>
<polygon points="596.1,137 601.9,132 595.3,125.6 589.4,130.6" fill="url(#B746)"/>
<polygon points="583.5,135.7 589.4,130.6 582.8,124.3 576.9,129.4" fill="url(#B747)"/>
<polygon points="570.9,134.6 576.9,129.4 570.3,123.3 564.3,128.4" fill="url(#B748)"/>
<polygon points="558.3,133.7 564.3,128.4 557.8,122.5 551.8,127.7" fill="url(#B749)"/>
<polygon points="545.6,133.1 551.8,127.7 545.3,122 539.2,127.3" fill="url(#B750)"/>
<polygon points="533,132.8 539.2,127.3 532.8,121.7 526.6,127.1" fill="url(#B751)"/>
<polygon points="520.3,132.7 526.6,127.1 520.2,121.6 514,127.1" fill="url(#B752)"/>
<polygon points="507.6,132.8 514,127.1 507.7,121.8 501.3,127.4" fill="url(#B753)"/>
<polygon points="494.9,133.2 501.3,127.4 495.1,122.3 488.7,128" fill="url(#B754)"/>
<polygon points="482.3,133.9 488.7,128 482.6,122.9 476.1,128.8" fill="url(#B755)"/>
<polygon points="590.2,142.1 596.1,137 589.4,130.6 583.5,135.7" fill="url(#B756)"/>
<polygon points="577.5,140.9 583.5,135.7 576.9,129.4 570.9,134.6" fill="url(#B757)"/>
<polygon points="564.8,139.9 570.9,134.6 564.3,128.4 558.3,133.7" fill="url(#B758)"/>
<polygon points="552.1,139.2 558.3,133.7 551.8,127.7 545.6,133.1" fill="url(#B759)"/>
<polygon points="539.4,138.7 545.6,133.1 539.2,127.3 533,132.8" fill="url(#B760)"/>
<polygon points="526.7,138.4 533,132.8 526.6,127.1 520.3,132.7" fill="url(#B761)"/>
<polygon points="513.9,138.4 520.3,132.7 514,127.1 507.6,132.8" fill="url(#B762)"/>
<polygon points="501.2,138.7 507.6,132.8 501.3,127.4 494.9,133.2" fill="url(#B763)"/>
<polygon points="488.5,139.2 494.9,133.2 488.7,128 482.3,133.9" fill="url(#B764)"/>
<polygon points="584.2,147.5 590.2,142.1 583.5,135.7 577.5,140.9" fill="url(#B765)"/>
<polygon points="571.5,146.3 577.5,140.9 570.9,134.6 564.8,139.9" fill="url(#B766)"/>
<polygon points="558.7,145.4 564.8,139.9 558.3,133.7 552.1,139.2" fill="url(#B767)"/>
<polygon points="545.9,144.8 552.1,139.2 545.6,133.1 539.4,138.7" fill="url(#B768)"/>
<polygon points="533.1,144.4 539.4,138.7 533,132.8 526.7,138.4" fill="url(#B769)"/>
<polygon points="520.3,144.3 526.7,138.4 520.3,132.7 513.9,138.4" fill="url(#B770)"/>
<polygon points="507.5,144.4 513.9,138.4 507.6,132.8 501.2,138.7" fill="url(#B771)"/>
<polygon points="494.7,144.7 501.2,138.7 494.9,133.2 488.5,139.2" fill="url(#B772)"/>
<polygon points="578.2,153 584.2,147.5 577.5,140.9 571.5,146.3" fill="url(#B773)"/>
<polygon points="565.4,151.9 571.5,146.3 564.8,139.9 558.7,145.4" fill="url(#B774)"/>
<polygon points="552.5,151.1 558.7,145.4 552.1,139.2 545.9,144.8" fill="url(#B775)"/>
<polygon points="539.7,150.6 545.9,144.8 539.4,138.7 533.1,144.4" fill="url(#B776)"/>
<polygon points="526.8,150.3 533.1,144.4 526.7,138.4 520.3,144.3" fill="url(#B777)"/>
<polygon points="513.9,150.2 520.3,144.3 513.9,138.4 507.5,144.4" fill="url(#B778)"/>
<polygon points="501.1,150.4 507.5,144.4 501.2,138.7 494.7,144.7" fill="url(#B779)"/>
<polygon points="572.1,158.6 578.2,153 571.5,146.3 565.4,151.9" fill="url(#B780)"/>
<polygon points="559.2,157.7 565.4,151.9 558.7,145.4 552.5,151.1" fill="url(#B781)"/>
<polygon points="546.3,157 552.5,151.1 545.9,144.8 539.7,150.6" fill="url(#B782)"/>
<polygon points="533.3,156.5 539.7,150.6 533.1,144.4 526.8,150.3" fill="url(#B783)"/>
<polygon points="520.4,156.3 526.8,150.3 520.3,144.3 513.9,150.2" fill="url(#B784)"/>
<polygon points="507.5,156.4 513.9,150.2 507.5,144.4 501.1,150.4" fill="url(#B785)"/>
<polygon points="565.9,164.4 572.1,158.6 565.4,151.9 559.2,157.7" fill="url(#B786)"/>
<polygon points="552.9,163.6 559.2,157.7 552.5,151.1 546.3,157" fill="url(#B787)"/>
<polygon points="539.9,163 546.3,157 539.7,150.6 533.3,156.5" fill="url(#B788)"/>
<polygon points="526.9,162.6 533.3,156.5 526.8,150.3 520.4,156.3" fill="url(#B789)"/>
<polygon points="513.9,162.6 520.4,156.3 513.9,150.2 507.5,156.4" fill="url(#B790)"/>
<polygon points="559.7,170.4 565.9,164.4 559.2,157.7 552.9,163.6" fill="url(#B791)"/>
<polygon points="546.6,169.7 552.9,163.6 546.3,157 539.9,163" fill="url(#B792)"/>
<polygon points="533.5,169.2 539.9,163 533.3,156.5 526.9,162.6" fill="url(#B793)"/>
<polygon points="520.5,168.9 526.9,162.6 520.4,156.3 513.9,162.6" fill="url(#B794)"/>
<polygon points="553.3,176.6 559.7,170.4 552.9,163.6 546.6,169.7" fill="url(#B795)"/>
<polygon points="540.2,175.9 546.6,169.7 539.9,163 533.5,169.2" fill="url(#B796)"/>
<polygon points="527.1,175.5 533.5,169.2 526.9,162.6 520.5,168.9" fill="url(#B797)"/>
<polygon points="546.9,182.9 553.3,176.6 546.6,169.7 540.2,175.9" fill="url(#B798)"/>
<polygon points="533.7,182.4 540.2,175.9 533.5,169.2 527.1,175.5" fill="url(#B799)"/>
<polygon points="540.5,189.4 546.9,182.9 540.2,175.9 533.7,182.4" fill="url(#B800)"/>
<path d="M540.5,189.4 533.7,182.4 527.1,175.5 520.5,168.9 513.9,162.6 507.5,156.4 501.1,150.4 494.7,144.7 488.5,139.2 482.3,133.9 476.1,128.8 470.1,123.9 464.1,119.2 458.1,114.7 452.3,110.4 446.5,106.3 440.8,102.4 435.1,98.7 429.5,95.1 424,91.8 418.6,88.6M540.5,189.4 546.9,182.9 553.3,176.6 559.7,170.4 565.9,164.4 572.1,158.6 578.2,153 584.2,147.5 590.2,142.1 596.1,137 601.9,132 607.7,127.1 613.4,122.5 619,117.9 624.6,113.5 630.1,109.3 635.5,105.2 640.9,101.3 646.2,97.5 651.4,93.8 656.6,90.3M546.9,182.9 540.2,175.9 533.5,169.2 526.9,162.6 520.4,156.3 513.9,150.2 507.5,144.4 501.2,138.7 494.9,133.2 488.7,128 482.6,122.9 476.5,118.1 470.5,113.5 464.6,109 458.7,104.8 452.9,100.7 447.2,96.9 441.6,93.2 436,89.7 430.4,86.4 425,83.3M533.7,182.4 540.2,175.9 546.6,169.7 552.9,163.6 559.2,157.7 565.4,151.9 571.5,146.3 577.5,140.9 583.5,135.7 589.4,130.6 595.3,125.6 601,120.8 606.7,116.2 612.4,111.7 618,107.4 623.5,103.2 628.9,99.2 634.3,95.3 639.6,91.6 644.9,88 650.1,84.5M553.3,176.6 546.6,169.7 539.9,163 533.3,156.5 526.8,150.3 520.3,144.3 513.9,138.4 507.6,132.8 501.3,127.4 495.1,122.3 489,117.3 482.9,112.5 476.9,107.9 471,103.5 465.1,99.3 459.3,95.4 453.6,91.6 447.9,87.9 442.3,84.5 436.8,81.3 431.3,78.2M527.1,175.5 533.5,169.2 539.9,163 546.3,157 552.5,151.1 558.7,145.4 564.8,139.9 570.9,134.6 576.9,129.4 582.8,124.3 588.7,119.5 594.4,114.7 600.2,110.2 605.8,105.8 611.4,101.5 616.9,97.4 622.4,93.4 627.8,89.6 633.1,85.9 638.4,82.3 643.6,78.9M559.7,170.4 552.9,163.6 546.3,157 539.7,150.6 533.1,144.4 526.7,138.4 520.3,132.7 514,127.1 507.7,121.8 501.5,116.7 495.4,111.8 489.3,107 483.3,102.5 477.3,98.2 471.5,94.1 465.7,90.1 459.9,86.4 454.3,82.8 448.7,79.4 443.1,76.2 437.6,73.2M520.5,168.9 526.9,162.6 533.3,156.5 539.7,150.6 545.9,144.8 552.1,139.2 558.3,133.7 564.3,128.4 570.3,123.3 576.2,118.3 582.1,113.5 587.9,108.9 593.6,104.3 599.3,100 604.9,95.8 610.4,91.7 615.9,87.8 621.3,84 626.6,80.4 631.9,76.9 637.1,73.5M565.9,164.4 559.2,157.7 552.5,151.1 545.9,144.8 539.4,138.7 533,132.8 526.6,127.1 520.2,121.6 514,116.3 507.8,111.3 501.6,106.4 495.6,101.7 489.6,97.3 483.6,93 477.7,88.9 471.9,85 466.2,81.3 460.5,77.8 454.9,74.5 449.4,71.3 443.9,68.4M513.9,162.6 520.4,156.3 526.8,150.3 533.1,144.4 539.4,138.7 545.6,133.1 551.8,127.7 557.8,122.5 563.8,117.4 569.8,112.5 575.6,107.8 581.4,103.2 587.2,98.7 592.8,94.4 598.4,90.3 604,86.2 609.5,82.4 614.9,78.6 620.2,75 625.5,71.6 630.7,68.3M572.1,158.6 565.4,151.9 558.7,145.4 552.1,139.2 545.6,133.1 539.2,127.3 532.8,121.7 526.4,116.3 520.2,111 514,106 507.8,101.2 501.8,96.6 495.8,92.2 489.8,88 484,83.9 478.1,80.1 472.4,76.5 466.7,73 461.1,69.7 455.6,66.6 450.1,63.7M507.5,156.4 513.9,150.2 520.3,144.3 526.7,138.4 533,132.8 539.2,127.3 545.3,122 551.4,116.8 557.4,111.8 563.3,106.9 569.2,102.2 575,97.7 580.7,93.3 586.4,89 592,84.9 597.6,81 603.1,77.2 608.5,73.5 613.9,69.9 619.2,66.5 624.4,63.3M578.2,153 571.5,146.3 564.8,139.9 558.3,133.7 551.8,127.7 545.3,122 538.9,116.4 532.6,111 526.3,105.9 520.1,100.9 514,96.2 507.9,91.6 501.9,87.3 496,83.1 490.1,79.1 484.3,75.3 478.5,71.7 472.9,68.3 467.2,65.1 461.7,62 456.2,59.1M501.1,150.4 507.5,144.4 513.9,138.4 520.3,132.7 526.6,127.1 532.8,121.7 538.9,116.4 545,111.3 551,106.3 556.9,101.5 562.8,96.9 568.6,92.4 574.4,88.1 580.1,83.9 585.7,79.8 591.3,75.9 596.8,72.1 602.2,68.5 607.6,65 612.9,61.6 618.1,58.4M584.2,147.5 577.5,140.9 570.9,134.6 564.3,128.4 557.8,122.5 551.4,116.8 545,111.3 538.7,106 532.4,100.9 526.2,96 520.1,91.3 514,86.8 508,82.5 502.1,78.4 496.2,74.4 490.4,70.7 484.6,67.1 478.9,63.8 473.3,60.6 467.8,57.5 462.3,54.7M494.7,144.7 501.2,138.7 507.6,132.8 514,127.1 520.2,121.6 526.4,116.3 532.6,111 538.7,106 544.7,101.1 550.6,96.4 556.5,91.8 562.3,87.3 568.1,83 573.8,78.9 579.4,74.9 585,71 590.5,67.3 595.9,63.7 601.3,60.3 606.6,57 611.9,53.8M590.2,142.1 583.5,135.7 576.9,129.4 570.3,123.3 563.8,117.4 557.4,111.8 551,106.3 544.7,101.1 538.4,96.1 532.2,91.2 526.1,86.6 520,82.1 514,77.9 508.1,73.8 502.2,69.9 496.4,66.2 490.7,62.7 485,59.4 479.3,56.2 473.8,53.2 468.3,50.4M488.5,139.2 494.9,133.2 501.3,127.4 507.7,121.8 514,116.3 520.2,111 526.3,105.9 532.4,100.9 538.4,96.1 544.4,91.4 550.3,86.8 556.1,82.4 561.9,78.2 567.6,74.1 573.2,70.1 578.8,66.3 584.3,62.7 589.7,59.1 595.1,55.7 600.4,52.5 605.7,49.3M596.1,137 589.4,130.6 582.8,124.3 576.2,118.3 569.8,112.5 563.3,106.9 556.9,101.5 550.6,96.4 544.4,91.4 538.2,86.6 532.1,82 526,77.6 520,73.4 514.1,69.3 508.2,65.5 502.4,61.9 496.6,58.4 490.9,55.1 485.3,52 479.7,49.1 474.2,46.3M482.3,133.9 488.7,128 495.1,122.3 501.5,116.7 507.8,111.3 514,106 520.1,100.9 526.2,96 532.2,91.2 538.2,86.6 544.1,82.1 549.9,77.8 555.7,73.6 561.4,69.5 567,65.6 572.6,61.8 578.1,58.2 583.6,54.7 589,51.4 594.3,48.1 599.6,45M601.9,132 595.3,125.6 588.7,119.5 582.1,113.5 575.6,107.8 569.2,102.2 562.8,96.9 556.5,91.8 550.3,86.8 544.1,82.1 538,77.5 531.9,73.2 525.9,69 520,65.1 514.1,61.3 508.3,57.7 502.5,54.2 496.8,51 491.2,47.9 485.6,45 480.1,42.3M476.1,128.8 482.6,122.9 489,117.3 495.4,111.8 501.6,106.4 507.8,101.2 514,96.2 520.1,91.3 526.1,86.6 532.1,82 538,77.5 543.8,73.3 549.6,69.1 555.3,65.1 560.9,61.3 566.5,57.5 572,53.9 577.5,50.5 582.9,47.2 588.2,44 593.5,40.9M607.7,127.1 601,120.8 594.4,114.7 587.9,108.9 581.4,103.2 575,97.7 568.6,92.4 562.3,87.3 556.1,82.4 549.9,77.8 543.8,73.3 537.7,69 531.7,64.8 525.8,60.9 519.9,57.2 514.1,53.6 508.4,50.2 502.7,47 497,44 491.5,41.1 485.9,38.4M470.1,123.9 476.5,118.1 482.9,112.5 489.3,107 495.6,101.7 501.8,96.6 507.9,91.6 514,86.8 520,82.1 526,77.6 531.9,73.2 537.7,69 543.5,64.9 549.2,60.9 554.9,57.1 560.5,53.4 566,49.9 571.5,46.5 576.9,43.2 582.2,40 587.5,37M613.4,122.5 606.7,116.2 600.2,110.2 593.6,104.3 587.2,98.7 580.7,93.3 574.4,88.1 568.1,83 561.9,78.2 555.7,73.6 549.6,69.1 543.5,64.9 537.5,60.8 531.6,56.9 525.7,53.2 519.9,49.7 514.1,46.3 508.4,43.2 502.8,40.2 497.2,37.4 491.7,34.7M464.1,119.2 470.5,113.5 476.9,107.9 483.3,102.5 489.6,97.3 495.8,92.2 501.9,87.3 508,82.5 514,77.9 520,73.4 525.9,69 531.7,64.8 537.5,60.8 543.2,56.9 548.9,53.1 554.5,49.5 560,46 565.5,42.6 570.9,39.4 576.3,36.3 581.6,33.3M619,117.9 612.4,111.7 605.8,105.8 599.3,100 592.8,94.4 586.4,89 580.1,83.9 573.8,78.9 567.6,74.1 561.4,69.5 555.3,65.1 549.2,60.9 543.2,56.9 537.3,53 531.4,49.4 525.6,45.9 519.9,42.6 514.2,39.5 508.5,36.5 503,33.7 497.4,31.1M458.1,114.7 464.6,109 471,103.5 477.3,98.2 483.6,93 489.8,88 496,83.1 502.1,78.4 508.1,73.8 514.1,69.3 520,65.1 525.8,60.9 531.6,56.9 537.3,53 543,49.3 548.6,45.7 554.1,42.3 559.6,38.9 565,35.7 570.4,32.7 575.7,29.7M624.6,113.5 618,107.4 611.4,101.5 604.9,95.8 598.4,90.3 592,84.9 585.7,79.8 579.4,74.9 573.2,70.1 567,65.6 560.9,61.3 554.9,57.1 548.9,53.1 543,49.3 537.1,45.7 531.3,42.2 525.5,39 519.8,35.9 514.2,33 508.6,30.2 503.1,27.7M452.3,110.4 458.7,104.8 465.1,99.3 471.5,94.1 477.7,88.9 484,83.9 490.1,79.1 496.2,74.4 502.2,69.9 508.2,65.5 514.1,61.3 519.9,57.2 525.7,53.2 531.4,49.4 537.1,45.7 542.7,42.1 548.2,38.7 553.7,35.4 559.1,32.3 564.5,29.2 569.8,26.3M630.1,109.3 623.5,103.2 616.9,97.4 610.4,91.7 604,86.2 597.6,81 591.3,75.9 585,71 578.8,66.3 572.6,61.8 566.5,57.5 560.5,53.4 554.5,49.5 548.6,45.7 542.7,42.1 536.9,38.7 531.1,35.5 525.4,32.5 519.8,29.6 514.2,26.9 508.7,24.3M446.5,106.3 452.9,100.7 459.3,95.4 465.7,90.1 471.9,85 478.1,80.1 484.3,75.3 490.4,70.7 496.4,66.2 502.4,61.9 508.3,57.7 514.1,53.6 519.9,49.7 525.6,45.9 531.3,42.2 536.9,38.7 542.4,35.4 547.9,32.1 553.3,29 558.7,26 564,23.1M635.5,105.2 628.9,99.2 622.4,93.4 615.9,87.8 609.5,82.4 603.1,77.2 596.8,72.1 590.5,67.3 584.3,62.7 578.1,58.2 572,53.9 566,49.9 560,46 554.1,42.3 548.2,38.7 542.4,35.4 536.7,32.2 531,29.2 525.4,26.3 519.8,23.6 514.3,21.1M440.8,102.4 447.2,96.9 453.6,91.6 459.9,86.4 466.2,81.3 472.4,76.5 478.5,71.7 484.6,67.1 490.7,62.7 496.6,58.4 502.5,54.2 508.4,50.2 514.1,46.3 519.9,42.6 525.5,39 531.1,35.5 536.7,32.2 542.2,29 547.6,25.9 553,22.9 558.3,20.1M640.9,101.3 634.3,95.3 627.8,89.6 621.3,84 614.9,78.6 608.5,73.5 602.2,68.5 595.9,63.7 589.7,59.1 583.6,54.7 577.5,50.5 571.5,46.5 565.5,42.6 559.6,38.9 553.7,35.4 547.9,32.1 542.2,29 536.5,26 530.8,23.2 525.3,20.5 519.8,18M435.1,98.7 441.6,93.2 447.9,87.9 454.3,82.8 460.5,77.8 466.7,73 472.9,68.3 478.9,63.8 485,59.4 490.9,55.1 496.8,51 502.7,47 508.4,43.2 514.2,39.5 519.8,35.9 525.4,32.5 531,29.2 536.5,26 541.9,22.9 547.3,20 552.6,17.2M646.2,97.5 639.6,91.6 633.1,85.9 626.6,80.4 620.2,75 613.9,69.9 607.6,65 601.3,60.3 595.1,55.7 589,51.4 582.9,47.2 576.9,43.2 570.9,39.4 565,35.7 559.1,32.3 553.3,29 547.6,25.9 541.9,22.9 536.3,20.1 530.7,17.5 525.2,15.1M429.5,95.1 436,89.7 442.3,84.5 448.7,79.4 454.9,74.5 461.1,69.7 467.2,65.1 473.3,60.6 479.3,56.2 485.3,52 491.2,47.9 497,44 502.8,40.2 508.5,36.5 514.2,33 519.8,29.6 525.4,26.3 530.8,23.2 536.3,20.1 541.7,17.2 547,14.5M651.4,93.8 644.9,88 638.4,82.3 631.9,76.9 625.5,71.6 619.2,66.5 612.9,61.6 606.6,57 600.4,52.5 594.3,48.1 588.2,44 582.2,40 576.3,36.3 570.4,32.7 564.5,29.2 558.7,26 553,22.9 547.3,20 541.7,17.2 536.1,14.7 530.6,12.3M424,91.8 430.4,86.4 436.8,81.3 443.1,76.2 449.4,71.3 455.6,66.6 461.7,62 467.8,57.5 473.8,53.2 479.7,49.1 485.6,45 491.5,41.1 497.2,37.4 503,33.7 508.6,30.2 514.2,26.9 519.8,23.6 525.3,20.5 530.7,17.5 536.1,14.7 541.4,11.9M656.6,90.3 650.1,84.5 643.6,78.9 637.1,73.5 630.7,68.3 624.4,63.3 618.1,58.4 611.9,53.8 605.7,49.3 599.6,45 593.5,40.9 587.5,37 581.6,33.3 575.7,29.7 569.8,26.3 564,23.1 558.3,20.1 552.6,17.2 547,14.5 541.4,11.9 535.9,9.5M418.6,88.6 425,83.3 431.3,78.2 437.6,73.2 443.9,68.4 450.1,63.7 456.2,59.1 462.3,54.7 468.3,50.4 474.2,46.3 480.1,42.3 485.9,38.4 491.7,34.7 497.4,31.1 503.1,27.7 508.7,24.3 514.3,21.1 519.8,18 525.2,15.1 530.6,12.3 535.9,9.5" fill="none" stroke="#000" stroke-opacity="0.8" stroke-width="0.85"/>
<circle cx="657.4" cy="90.4" r="2.6" fill="#f8c8c8" stroke="#3a2a2a" stroke-width="0.55"/>
<circle cx="418.4" cy="87.8" r="2.6" fill="#c80000" stroke="#5a0000" stroke-width="0.6"/>
<circle cx="538.1" cy="76.7" r="2.6" fill="#c80000" stroke="#5a0000" stroke-width="0.6"/>
<circle cx="540.0" cy="181.5" r="2.6" fill="#c80000" stroke="#5a0000" stroke-width="0.6"/>
<rect x="373.3" y="228.6" width="131.7" height="10.9" fill="#f6f7fa"/>
<line x1="176.2" y1="466.9" x2="286.1" y2="430.1" stroke="#1a1a1a" stroke-width="0.75"/>
<line x1="286.1" y1="430.1" x2="399.2" y2="465.6" stroke="#1a1a1a" stroke-width="0.75"/>
<line x1="175.5" y1="450.4" x2="286.1" y2="415.2" stroke="#1a1a1a" stroke-width="0.75"/>
<line x1="286.1" y1="415.2" x2="399.9" y2="449.1" stroke="#1a1a1a" stroke-width="0.75"/>
<line x1="174.8" y1="433.8" x2="286.1" y2="400.3" stroke="#1a1a1a" stroke-width="0.75"/>
<line x1="286.1" y1="400.3" x2="400.7" y2="432.6" stroke="#1a1a1a" stroke-width="0.75"/>
<line x1="174.1" y1="417.3" x2="286.1" y2="385.3" stroke="#1a1a1a" stroke-width="0.75"/>
<line x1="286.1" y1="385.3" x2="401.4" y2="416.1" stroke="#1a1a1a" stroke-width="0.75"/>
<line x1="173.4" y1="400.7" x2="286.1" y2="370.4" stroke="#1a1a1a" stroke-width="0.75"/>
<line x1="286.1" y1="370.4" x2="402.2" y2="399.6" stroke="#1a1a1a" stroke-width="0.75"/>
<line x1="172.6" y1="384.1" x2="286.1" y2="355.5" stroke="#1a1a1a" stroke-width="0.75"/>
<line x1="286.1" y1="355.5" x2="402.9" y2="383.1" stroke="#1a1a1a" stroke-width="0.75"/>
<line x1="171.9" y1="367.6" x2="286.1" y2="340.6" stroke="#1a1a1a" stroke-width="0.75"/>
<line x1="286.1" y1="340.6" x2="403.7" y2="366.6" stroke="#1a1a1a" stroke-width="0.75"/>
<line x1="171.2" y1="351" x2="286.1" y2="325.6" stroke="#1a1a1a" stroke-width="0.75"/>
<line x1="286.1" y1="325.6" x2="404.4" y2="350.1" stroke="#1a1a1a" stroke-width="0.75"/>
<line x1="194.5" y1="460.8" x2="190.4" y2="346.8" stroke="#1a1a1a" stroke-width="0.75"/>
<line x1="212.8" y1="454.7" x2="209.5" y2="342.5" stroke="#1a1a1a" stroke-width="0.75"/>
<line x1="231.1" y1="448.5" x2="228.7" y2="338.3" stroke="#1a1a1a" stroke-width="0.75"/>
<line x1="249.4" y1="442.4" x2="247.8" y2="334.1" stroke="#1a1a1a" stroke-width="0.75"/>
<line x1="267.8" y1="436.3" x2="267" y2="329.9" stroke="#1a1a1a" stroke-width="0.75"/>
<line x1="314.3" y1="439" x2="315.7" y2="331.7" stroke="#1a1a1a" stroke-width="0.75"/>
<line x1="342.6" y1="447.9" x2="345.3" y2="337.9" stroke="#1a1a1a" stroke-width="0.75"/>
<line x1="370.9" y1="456.7" x2="374.9" y2="344" stroke="#1a1a1a" stroke-width="0.75"/>
<line x1="177.8" y1="503.1" x2="171.2" y2="351" stroke="#1a1a1a" stroke-width="0.75"/>
<line x1="286" y1="462.7" x2="286.1" y2="325.6" stroke="#1a1a1a" stroke-width="0.75"/>
<line x1="397.5" y1="501.6" x2="404.4" y2="350.1" stroke="#1a1a1a" stroke-width="0.75"/>
<polygon points="177.8,503.1 290.2,552.6 397.5,501.6 286,462.7" fill="#6b6b6b" stroke="#111" stroke-width="0.8"/>
<path d="M272,544.6 L272.8,544.4 L273.1,544.4 L274.2,544.2 L275.2,544 L275.5,543.9 L276.3,543.7 L277.3,543.5 L278.3,543.3 L278.4,543.3 L279.4,543.1 L280.5,542.9 L281,542.7 L281.5,542.6 L282.5,542.4 L283.6,542.2 L283.8,542.1 L284.6,542 L285.6,541.7 L286.6,541.5 L286.7,541.5 L287.7,541.3 L288.7,541.1 L289.6,540.9 L289.7,540.8 L290.7,540.6 L291.7,540.4 L292.5,540.2 L292.7,540.1 L293.7,539.9 L294.7,539.7 L295.5,539.5 L295.7,539.5 L296.6,539.2 L297.6,539 L298.6,538.7 L298.6,538.7 L299.6,538.5 L300.5,538.3 L301.5,538 L301.7,538 L302.5,537.8 L303.4,537.6 L304.4,537.3 L304.9,537.2 L305.3,537.1 L306.3,536.8 L307.2,536.6 L308.2,536.4 L308.2,536.4 L309.1,536.1 L310.1,535.9 L311,535.6 L311.5,535.5 L311.9,535.4 L312.8,535.1 L313.8,534.9 L314.7,534.7 L314.9,534.6 L315.6,534.4 L316.5,534.2 L317.4,533.9 L318.3,533.7 L318.4,533.6 L319.2,533.4 L320.1,533.2 L321,532.9 L321.9,532.7 L322,532.6 L322.8,532.4 L323.7,532.2 L324.6,531.9 L325.5,531.7 L325.7,531.6 L326.3,531.4 L327.2,531.1 L328.1,530.9 L329,530.6 L329.5,530.5 L329.8,530.4 L330.7,530.1 L331.5,529.9 L332.4,529.6 L333.3,529.3 L333.5,529.3 L334.1,529.1 L334.9,528.8 L335.8,528.6 L336.6,528.3 L337.5,528.1 L337.6,528 L338.3,527.8 L339.1,527.5 L340,527.3 L340.8,527 L341.6,526.7 L342,526.6 L342.4,526.5 L343.2,526.2 L344,526 L344.9,525.7 L345.7,525.4 L346.5,525.2 L346.6,525.1 L347.3,524.9 L348.1,524.6 L348.9,524.4 L349.6,524.1 L350.4,523.8 L351.2,523.6 L351.5,523.5" fill="none" stroke="#17e6be" stroke-width="1.3"/>
<path d="M252.2,535.8 L253.3,535.7 L254.1,535.5 L254.4,535.5 L255.5,535.3 L256.5,535.1 L256.6,535.1 L257.6,534.9 L258.7,534.7 L258.9,534.7 L259.8,534.5 L260.9,534.3 L261.4,534.3 L262,534.2 L263,534 L263.9,533.8 L264.1,533.8 L265.2,533.6 L266.2,533.4 L266.4,533.3 L267.3,533.2 L268.3,533 L269,532.9 L269.4,532.8 L270.4,532.6 L271.4,532.4 L271.6,532.3 L272.5,532.2 L273.5,532 L274.2,531.8 L274.5,531.8 L275.5,531.6 L276.6,531.3 L276.9,531.3 L277.6,531.1 L278.6,530.9 L279.6,530.7 L279.6,530.7 L280.6,530.5 L281.6,530.3 L282.4,530.1 L282.6,530.1 L283.6,529.9 L284.6,529.7 L285.2,529.5 L285.5,529.4 L286.5,529.2 L287.5,529 L288.1,528.9 L288.5,528.8 L289.4,528.6 L290.4,528.3 L291,528.2 L291.4,528.1 L292.3,527.9 L293.3,527.7 L294,527.5 L294.2,527.5 L295.2,527.2 L296.1,527 L297.1,526.8 L297.1,526.8 L298,526.6 L298.9,526.3 L299.9,526.1 L300.2,526 L300.8,525.9 L301.7,525.6 L302.6,525.4 L303.4,525.2 L303.5,525.2 L304.4,525 L305.4,524.7 L306.3,524.5 L306.7,524.4 L307.2,524.3 L308.1,524 L309,523.8 L309.8,523.5 L310.1,523.5 L310.7,523.3 L311.6,523.1 L312.5,522.8 L313.4,522.6 L313.6,522.5 L314.3,522.4 L315.1,522.1 L316,521.9 L316.9,521.6 L317.2,521.5 L317.7,521.4 L318.6,521.2 L319.4,520.9 L320.3,520.7 L321,520.5 L321.1,520.4 L322,520.2 L322.8,519.9 L323.7,519.7 L324.5,519.5 L324.9,519.3 L325.3,519.2 L326.2,519 L327,518.7 L327.8,518.5 L328.6,518.2 L329.1,518.1 L329.4,518 L330.2,517.7 L331.1,517.5 L331.9,517.2 L332.7,517 L333.4,516.7 L333.5,516.7 L334.3,516.5 L335.1,516.2 L335.9,516 L336.6,515.7 L337.4,515.5 L338.1,515.2 L338.2,515.2 L339,514.9 L339.8,514.7 L340.5,514.4 L341.3,514.2 L342.1,513.9 L342.8,513.7 L343.1,513.6 L343.6,513.4 L344.4,513.1 L345.1,512.9 L345.9,512.6 L346.6,512.4 L347.4,512.1 L348.1,511.9 L348.7,511.6 L348.8,511.6 L349.6,511.3 L350.3,511.1 L351,510.8 L351.8,510.6 L352.5,510.3 L353.2,510 L353.9,509.8 L354.6,509.5 L355.2,509.3 L355.4,509.2 L356.1,509 L356.8,508.7 L357.5,508.4 L358.2,508.2 L358.9,507.9 L359.6,507.7 L360.3,507.4 L361,507.1 L361.6,506.9 L362.3,506.6 L363,506.3 L363.1,506.3 L363.7,506.1 L364.4,505.8 L365,505.5 L365.7,505.2 L366.4,505 L367,504.7 L367.7,504.4 L368.3,504.2 L369,503.9 L369.7,503.6 L370.3,503.4 L371,503.1 L371.6,502.8 L372.2,502.5 L372.9,502.3 L373.5,502 L374.1,501.7 L374.8,501.5 L375.4,501.2 L376,500.9 L376.7,500.6 L377.3,500.4 L377.3,500.4 L377.9,500.1 L378.5,499.8 L379.1,499.5 L379.7,499.3 L380.3,499 L380.9,498.7 L381.5,498.4 L382.1,498.2 L382.7,497.9 L383.3,497.6 L383.9,497.3 L384.5,497.1" fill="none" stroke="#17e659" stroke-width="1.3"/>
<path d="M229.5,525.9 L230.5,525.7 L230.7,525.7 L231.8,525.6 L232.5,525.5 L233,525.4 L234.2,525.3 L234.5,525.3 L235.3,525.2 L236.4,525 L236.6,525 L237.6,524.9 L238.7,524.7 L238.7,524.7 L239.9,524.6 L240.8,524.4 L241,524.4 L242.1,524.2 L242.9,524.1 L243.2,524.1 L244.3,523.9 L245.1,523.8 L245.4,523.8 L246.5,523.6 L247.3,523.5 L247.6,523.4 L248.7,523.3 L249.5,523.2 L249.8,523.1 L250.9,522.9 L251.7,522.8 L252,522.8 L253,522.6 L254,522.5 L254.1,522.4 L255.2,522.3 L256.2,522.1 L256.3,522.1 L257.3,521.9 L258.3,521.7 L258.7,521.7 L259.4,521.6 L260.4,521.4 L261.1,521.3 L261.5,521.2 L262.5,521 L263.5,520.8 L263.5,520.8 L264.5,520.6 L265.6,520.5 L266,520.4 L266.6,520.3 L267.6,520.1 L268.5,519.9 L268.6,519.9 L269.6,519.7 L270.6,519.5 L271,519.4 L271.6,519.3 L272.6,519.1 L273.6,518.9 L273.6,518.9 L274.6,518.7 L275.5,518.5 L276.3,518.4 L276.5,518.3 L277.5,518.1 L278.5,517.9 L279,517.8 L279.4,517.7 L280.4,517.5 L281.3,517.3 L281.7,517.3 L282.3,517.1 L283.2,516.9 L284.2,516.7 L284.5,516.6 L285.1,516.5 L286,516.3 L287,516.1 L287.4,516 L287.9,515.9 L288.8,515.7 L289.8,515.5 L290.4,515.3 L290.7,515.3 L291.6,515 L292.5,514.8 L293.4,514.6 L293.5,514.6 L294.3,514.4 L295.2,514.2 L296.1,514 L296.6,513.8 L297,513.7 L297.9,513.5 L298.8,513.3 L299.6,513.1 L299.8,513 L300.5,512.9 L301.4,512.6 L302.3,512.4 L303.1,512.2 L303.2,512.2 L304,512 L304.8,511.7 L305.7,511.5 L306.6,511.3 L306.7,511.3 L307.4,511.1 L308.2,510.8 L309.1,510.6 L309.9,510.4 L310.3,510.3 L310.8,510.2 L311.6,509.9 L312.4,509.7 L313.2,509.5 L314.1,509.2 L314.1,509.2 L314.9,509 L315.7,508.8 L316.5,508.5 L317.3,508.3 L318.1,508.1 L318.1,508.1 L318.9,507.8 L319.7,507.6 L320.5,507.3 L321.3,507.1 L322.1,506.9 L322.4,506.8 L322.9,506.6 L323.7,506.4 L324.4,506.1 L325.2,505.9 L326,505.7 L326.8,505.4 L327,505.3 L327.5,505.2 L328.3,504.9 L329,504.7 L329.8,504.5 L330.5,504.2 L331.3,504 L332,503.7 L332.1,503.7 L332.8,503.5 L333.5,503.2 L334.3,503 L335,502.7 L335.7,502.5 L336.5,502.2 L337.2,502 L337.9,501.7 L337.9,501.7 L338.6,501.5 L339.3,501.2 L340,501 L340.8,500.7 L341.5,500.5 L342.2,500.2 L342.9,500 L343.6,499.7 L344.2,499.5 L344.9,499.2 L345,499.2 L345.6,499 L346.3,498.7 L347,498.5 L347.7,498.2 L348.3,497.9 L349,497.7 L349.7,497.4 L350.3,497.2 L351,496.9 L351.7,496.7 L352.3,496.4 L353,496.1 L353.6,495.9 L354.3,495.6 L354.9,495.4 L355.5,495.1 L355.6,495.1 L356.2,494.8 L356.8,494.6 L357.5,494.3 L358.1,494.1 L358.7,493.8 L359.4,493.5 L360,493.3 L360.6,493 L361.2,492.7 L361.8,492.5 L362.4,492.2 L363,492 L363.6,491.7 L364.3,491.4 L364.8,491.2 L365.4,490.9 L366,490.6" fill="none" stroke="#3be617" stroke-width="1.3"/>
<path d="M201.1,513.4 L201.8,513.3 L202.5,513.3 L203.3,513.3 L203.8,513.3 L204.9,513.2 L205.1,513.2 L206.4,513.2 L206.5,513.1 L207.7,513.1 L208,513.1 L209,513 L209.7,513 L210.2,512.9 L211.3,512.9 L211.5,512.9 L212.8,512.8 L212.9,512.8 L214,512.7 L214.6,512.7 L215.3,512.6 L216.3,512.6 L216.5,512.5 L217.7,512.5 L218,512.4 L218.9,512.4 L219.7,512.3 L220.1,512.3 L221.4,512.2 L221.4,512.2 L222.5,512.1 L223.2,512 L223.7,512 L224.9,511.9 L225,511.9 L226.1,511.8 L226.8,511.7 L227.3,511.6 L228.4,511.5 L228.6,511.5 L229.6,511.4 L230.4,511.3 L230.7,511.3 L231.9,511.2 L232.3,511.1 L233,511 L234.2,510.9 L234.2,510.9 L235.3,510.8 L236.1,510.7 L236.4,510.7 L237.5,510.5 L238.1,510.5 L238.6,510.4 L239.7,510.3 L240.1,510.2 L240.8,510.1 L241.9,510 L242.1,510 L243,509.8 L244.1,509.7 L244.1,509.7 L245.2,509.6 L246.2,509.4 L246.2,509.4 L247.3,509.3 L248.3,509.1 L248.4,509.1 L249.4,509 L250.4,508.8 L250.5,508.8 L251.5,508.7 L252.6,508.5 L252.6,508.5 L253.6,508.3 L254.6,508.2 L254.8,508.2 L255.6,508 L256.7,507.9 L257,507.8 L257.7,507.7 L258.7,507.5 L259.3,507.4 L259.7,507.4 L260.7,507.2 L261.7,507 L261.7,507 L262.7,506.8 L263.7,506.7 L264,506.6 L264.6,506.5 L265.6,506.3 L266.5,506.2 L266.6,506.1 L267.6,506 L268.5,505.8 L268.9,505.7 L269.5,505.6 L270.4,505.4 L271.4,505.2 L271.5,505.2 L272.3,505.1 L273.3,504.9 L274.1,504.7 L274.2,504.7 L275.1,504.5 L276.1,504.3 L276.8,504.2 L277,504.1 L277.9,503.9 L278.8,503.7 L279.5,503.6 L279.7,503.5 L280.6,503.3 L281.5,503.1 L282.3,503 L282.4,503 L283.3,502.8 L284.2,502.6 L285.1,502.4 L285.2,502.3 L286,502.2 L286.9,502 L287.7,501.7 L288.3,501.6 L288.6,501.5 L289.5,501.3 L290.3,501.1 L291.2,500.9 L291.4,500.9 L292,500.7 L292.9,500.5 L293.7,500.3 L294.6,500.1 L294.7,500.1 L295.4,499.9 L296.3,499.7 L297.1,499.5 L297.9,499.2 L298.1,499.2 L298.7,499 L299.6,498.8 L300.4,498.6 L301.2,498.4 L301.7,498.2 L302,498.2 L302.8,497.9 L303.6,497.7 L304.4,497.5 L305.2,497.3 L305.6,497.2 L306,497.1 L306.8,496.8 L307.6,496.6 L308.3,496.4 L309.1,496.2 L309.7,496 L309.9,495.9 L310.7,495.7 L311.4,495.5 L312.2,495.3 L312.9,495 L313.7,494.8 L314.3,494.6 L314.4,494.6 L315.2,494.4 L315.9,494.1 L316.7,493.9 L317.4,493.7 L318.2,493.4 L318.9,493.2 L319.4,493 L319.6,493 L320.3,492.7 L321.1,492.5 L321.8,492.3 L322.5,492 L323.2,491.8 L323.9,491.5 L324.6,491.3 L325.3,491.1 L325.5,491 L326,490.8 L326.7,490.6 L327.4,490.4 L328.1,490.1 L328.8,489.9 L329.4,489.6 L330.1,489.4 L330.8,489.1 L331.5,488.9 L332.1,488.7 L332.8,488.4 L333.5,488.2 L333.9,488 L334.1,487.9 L334.8,487.7 L335.4,487.4 L336.1,487.2 L336.7,486.9 L337.3,486.7 L338,486.4 L338.6,486.2 L339.2,485.9 L339.9,485.7 L340.5,485.4 L341.1,485.2 L341.7,484.9 L342.4,484.7 L343,484.4 L343.6,484.2 L344.2,483.9 L344.8,483.7 L345.4,483.4" fill="none" stroke="#a0e617" stroke-width="1.3"/>
<path d="M197.9,495.6 L199.2,495.6 L199.2,495.6 L200.4,495.6 L200.7,495.6 L201.7,495.7 L202.1,495.7 L203,495.7 L203.5,495.7 L204.3,495.7 L204.9,495.7 L205.6,495.7 L206.3,495.7 L206.9,495.7 L207.7,495.7 L208.3,495.7 L209,495.7 L209.6,495.7 L210.3,495.7 L211,495.7 L211.7,495.6 L212.4,495.6 L213,495.6 L213.8,495.6 L214.3,495.6 L215.3,495.6 L215.5,495.5 L216.7,495.5 L216.8,495.5 L218.1,495.5 L218.2,495.4 L219.3,495.4 L219.7,495.4 L220.5,495.3 L221.2,495.3 L221.7,495.3 L222.7,495.2 L223,495.2 L224.2,495.1 L224.3,495.1 L225.3,495.1 L225.9,495 L226.5,495 L227.5,494.9 L227.7,494.9 L228.9,494.8 L229.1,494.8 L230,494.7 L230.8,494.7 L231.2,494.6 L232.3,494.6 L232.5,494.5 L233.4,494.5 L234.2,494.4 L234.5,494.4 L235.6,494.3 L235.9,494.2 L236.8,494.1 L237.7,494.1 L237.8,494 L238.9,493.9 L239.5,493.9 L240,493.8 L241.1,493.7 L241.3,493.7 L242.2,493.6 L243.2,493.5 L243.2,493.5 L244.3,493.3 L245.1,493.2 L245.3,493.2 L246.3,493.1 L247,493 L247.4,492.9 L248.4,492.8 L249,492.7 L249.4,492.7 L250.4,492.5 L251.1,492.4 L251.4,492.4 L252.4,492.3 L253.1,492.2 L253.4,492.1 L254.4,492 L255.2,491.8 L255.4,491.8 L256.4,491.7 L257.3,491.5 L257.4,491.5 L258.3,491.4 L259.3,491.2 L259.6,491.2 L260.2,491.1 L261.2,490.9 L261.9,490.8 L262.1,490.7 L263,490.6 L264,490.4 L264.2,490.4 L264.9,490.2 L265.8,490.1 L266.7,489.9 L266.7,489.9 L267.6,489.7 L268.6,489.6 L269.2,489.5 L269.4,489.4 L270.3,489.2 L271.2,489 L271.7,488.9 L272.1,488.9 L273,488.7 L273.9,488.5 L274.4,488.4 L274.7,488.3 L275.6,488.1 L276.5,488 L277.2,487.8 L277.3,487.8 L278.2,487.6 L279,487.4 L279.9,487.2 L280.2,487.1 L280.7,487 L281.5,486.8 L282.4,486.6 L283.2,486.5 L283.3,486.4 L284,486.3 L284.8,486.1 L285.6,485.9 L286.4,485.7 L286.6,485.6 L287.2,485.5 L288,485.3 L288.8,485.1 L289.6,484.9 L290.1,484.7 L290.4,484.7 L291.2,484.5 L291.9,484.3 L292.7,484 L293.5,483.8 L293.9,483.7 L294.2,483.6 L295,483.4 L295.7,483.2 L296.5,483 L297.2,482.8 L298,482.6 L298.3,482.5 L298.7,482.4 L299.5,482.1 L300.2,481.9 L300.9,481.7 L301.6,481.5 L302.3,481.3 L303.1,481.1 L303.3,481 L303.8,480.8 L304.5,480.6 L305.2,480.4 L305.9,480.2 L306.6,480 L307.3,479.7 L307.9,479.5 L308.6,479.3 L309.3,479.1 L309.8,478.9 L310,478.8 L310.6,478.6 L311.3,478.4 L312,478.1 L312.6,477.9 L313.3,477.7 L313.9,477.4 L314.6,477.2 L315.2,477 L315.9,476.7 L316.5,476.5 L317.1,476.3 L317.8,476 L318.4,475.8 L319,475.6 L319.6,475.3 L320.2,475.1 L320.9,474.9" fill="none" stroke="#e6c617" stroke-width="1.3"/>
<circle cx="290.2" cy="552.6" r="1.15" fill="#000"/>
<circle cx="262.1" cy="540.2" r="1.15" fill="#000"/>
<circle cx="234" cy="527.8" r="1.15" fill="#000"/>
<circle cx="205.9" cy="515.5" r="1.15" fill="#000"/>
<circle cx="177.8" cy="503.1" r="1.15" fill="#000"/>
<circle cx="290.2" cy="552.6" r="1.15" fill="#000"/>
<circle cx="308.1" cy="544.1" r="1.15" fill="#000"/>
<circle cx="326" cy="535.6" r="1.15" fill="#000"/>
<circle cx="343.9" cy="527.1" r="1.15" fill="#000"/>
<circle cx="361.7" cy="518.6" r="1.15" fill="#000"/>
<circle cx="379.6" cy="510.1" r="1.15" fill="#000"/>
<circle cx="397.5" cy="501.6" r="1.15" fill="#000"/>
<circle cx="176.2" cy="466.9" r="1.15" fill="#000"/>
<circle cx="175.5" cy="450.4" r="1.15" fill="#000"/>
<circle cx="174.8" cy="433.8" r="1.15" fill="#000"/>
<circle cx="174.1" cy="417.3" r="1.15" fill="#000"/>
<circle cx="173.4" cy="400.7" r="1.15" fill="#000"/>
<circle cx="172.6" cy="384.1" r="1.15" fill="#000"/>
<circle cx="171.9" cy="367.6" r="1.15" fill="#000"/>
<circle cx="171.2" cy="351" r="1.15" fill="#000"/>
<polygon points="286.3,350.8 291.4,349.4 286.1,347.1 281,348.4" fill="url(#C801)"/>
<polygon points="291.6,353.3 296.7,351.9 291.4,349.4 286.3,350.8" fill="url(#C802)"/>
<polygon points="281.1,352.2 286.3,350.8 281,348.4 275.9,349.8" fill="url(#C803)"/>
<polygon points="296.9,356 302,354.6 296.7,351.9 291.6,353.3" fill="url(#C804)"/>
<polygon points="286.5,354.7 291.6,353.3 286.3,350.8 281.1,352.2" fill="url(#C805)"/>
<polygon points="275.9,353.7 281.1,352.2 275.9,349.8 270.7,351.3" fill="url(#C806)"/>
<polygon points="302.4,358.8 307.4,357.4 302,354.6 296.9,356" fill="url(#C807)"/>
<polygon points="291.8,357.4 296.9,356 291.6,353.3 286.5,354.7" fill="url(#C808)"/>
<polygon points="281.3,356.3 286.5,354.7 281.1,352.2 275.9,353.7" fill="url(#C809)"/>
<polygon points="270.7,355.3 275.9,353.7 270.7,351.3 265.4,352.9" fill="url(#C810)"/>
<polygon points="307.8,361.9 312.9,360.4 307.4,357.4 302.4,358.8" fill="url(#C811)"/>
<polygon points="297.2,360.3 302.4,358.8 296.9,356 291.8,357.4" fill="url(#C812)"/>
<polygon points="286.6,359 291.8,357.4 286.5,354.7 281.3,356.3" fill="url(#C813)"/>
<polygon points="276,357.9 281.3,356.3 275.9,353.7 270.7,355.3" fill="url(#C814)"/>
<polygon points="265.4,357 270.7,355.3 265.4,352.9 260.1,354.6" fill="url(#C815)"/>
<polygon points="313.4,365.1 318.4,363.6 312.9,360.4 307.8,361.9" fill="url(#C816)"/>
<polygon points="302.7,363.4 307.8,361.9 302.4,358.8 297.2,360.3" fill="url(#C817)"/>
<polygon points="292.1,361.9 297.2,360.3 291.8,357.4 286.6,359" fill="url(#C818)"/>
<polygon points="281.4,360.6 286.6,359 281.3,356.3 276,357.9" fill="url(#C819)"/>
<polygon points="270.7,359.6 276,357.9 270.7,355.3 265.4,357" fill="url(#C820)"/>
<polygon points="260,358.8 265.4,357 260.1,354.6 254.7,356.3" fill="url(#C821)"/>
<polygon points="318.9,368.4 324,367 318.4,363.6 313.4,365.1" fill="url(#C822)"/>
<polygon points="308.2,366.6 313.4,365.1 307.8,361.9 302.7,363.4" fill="url(#C823)"/>
<polygon points="297.5,364.9 302.7,363.4 297.2,360.3 292.1,361.9" fill="url(#C824)"/>
<polygon points="286.8,363.5 292.1,361.9 286.6,359 281.4,360.6" fill="url(#C825)"/>
<polygon points="276.1,362.4 281.4,360.6 276,357.9 270.7,359.6" fill="url(#C826)"/>
<polygon points="265.3,361.4 270.7,359.6 265.4,357 260,358.8" fill="url(#C827)"/>
<polygon points="254.6,360.7 260,358.8 254.7,356.3 249.3,358.2" fill="url(#C828)"/>
<polygon points="324.5,372 329.6,370.5 324,367 318.9,368.4" fill="url(#C829)"/>
<polygon points="313.8,370 318.9,368.4 313.4,365.1 308.2,366.6" fill="url(#C830)"/>
<polygon points="303.1,368.2 308.2,366.6 302.7,363.4 297.5,364.9" fill="url(#C831)"/>
<polygon points="292.3,366.6 297.5,364.9 292.1,361.9 286.8,363.5" fill="url(#C832)"/>
<polygon points="281.5,365.3 286.8,363.5 281.4,360.6 276.1,362.4" fill="url(#C833)"/>
<polygon points="270.7,364.2 276.1,362.4 270.7,359.6 265.3,361.4" fill="url(#C834)"/>
<polygon points="259.9,363.3 265.3,361.4 260,358.8 254.6,360.7" fill="url(#C835)"/>
<polygon points="330.2,375.7 335.2,374.2 329.6,370.5 324.5,372" fill="url(#C836)"/>
<polygon points="249.1,362.6 254.6,360.7 249.3,358.2 243.8,360.1" fill="url(#C837)"/>
<polygon points="319.5,373.5 324.5,372 318.9,368.4 313.8,370" fill="url(#C838)"/>
<polygon points="308.7,371.6 313.8,370 308.2,366.6 303.1,368.2" fill="url(#C839)"/>
<polygon points="297.8,369.9 303.1,368.2 297.5,364.9 292.3,366.6" fill="url(#C840)"/>
<polygon points="287,368.4 292.3,366.6 286.8,363.5 281.5,365.3" fill="url(#C841)"/>
<polygon points="276.2,367.1 281.5,365.3 276.1,362.4 270.7,364.2" fill="url(#C842)"/>
<polygon points="336,379.6 341,378.1 335.2,374.2 330.2,375.7" fill="url(#C843)"/>
<polygon points="265.3,366.1 270.7,364.2 265.3,361.4 259.9,363.3" fill="url(#C844)"/>
<polygon points="254.4,365.3 259.9,363.3 254.6,360.7 249.1,362.6" fill="url(#C845)"/>
<polygon points="325.1,377.3 330.2,375.7 324.5,372 319.5,373.5" fill="url(#C846)"/>
<polygon points="243.5,364.7 249.1,362.6 243.8,360.1 238.3,362.2" fill="url(#C847)"/>
<polygon points="314.3,375.2 319.5,373.5 313.8,370 308.7,371.6" fill="url(#C848)"/>
<polygon points="303.4,373.3 308.7,371.6 303.1,368.2 297.8,369.9" fill="url(#C849)"/>
<polygon points="292.6,371.7 297.8,369.9 292.3,366.6 287,368.4" fill="url(#C850)"/>
<polygon points="281.7,370.3 287,368.4 281.5,365.3 276.2,367.1" fill="url(#C851)"/>
<polygon points="341.7,383.7 346.7,382.1 341,378.1 336,379.6" fill="url(#C852)"/>
<polygon points="270.7,369.1 276.2,367.1 270.7,364.2 265.3,366.1" fill="url(#C853)"/>
<polygon points="259.8,368.1 265.3,366.1 259.9,363.3 254.4,365.3" fill="url(#C854)"/>
<polygon points="330.9,381.2 336,379.6 330.2,375.7 325.1,377.3" fill="url(#C855)"/>
<polygon points="248.9,367.4 254.4,365.3 249.1,362.6 243.5,364.7" fill="url(#C856)"/>
<polygon points="237.9,366.8 243.5,364.7 238.3,362.2 232.6,364.3" fill="url(#C857)"/>
<polygon points="320,379 325.1,377.3 319.5,373.5 314.3,375.2" fill="url(#C858)"/>
<polygon points="309.1,376.9 314.3,375.2 308.7,371.6 303.4,373.3" fill="url(#C859)"/>
<polygon points="298.2,375.1 303.4,373.3 297.8,369.9 292.6,371.7" fill="url(#C860)"/>
<polygon points="347.6,388 352.6,386.4 346.7,382.1 341.7,383.7" fill="url(#C861)"/>
<polygon points="287.2,373.6 292.6,371.7 287,368.4 281.7,370.3" fill="url(#C862)"/>
<polygon points="276.2,372.2 281.7,370.3 276.2,367.1 270.7,369.1" fill="url(#C863)"/>
<polygon points="336.7,385.3 341.7,383.7 336,379.6 330.9,381.2" fill="url(#C864)"/>
<polygon points="265.2,371.1 270.7,369.1 265.3,366.1 259.8,368.1" fill="url(#C865)"/>
<polygon points="254.3,370.2 259.8,368.1 254.4,365.3 248.9,367.4" fill="url(#C866)"/>
<polygon points="325.7,382.9 330.9,381.2 325.1,377.3 320,379" fill="url(#C867)"/>
<polygon points="243.2,369.5 248.9,367.4 243.5,364.7 237.9,366.8" fill="url(#C868)"/>
<polygon points="232.2,369.1 237.9,366.8 232.6,364.3 227,366.5" fill="url(#C869)"/>
<polygon points="314.8,380.7 320,379 314.3,375.2 309.1,376.9" fill="url(#C870)"/>
<polygon points="303.8,378.8 309.1,376.9 303.4,373.3 298.2,375.1" fill="url(#C871)"/>
<polygon points="353.4,392.4 358.4,390.8 352.6,386.4 347.6,388" fill="url(#C872)"/>
<polygon points="292.8,377.1 298.2,375.1 292.6,371.7 287.2,373.6" fill="url(#C873)"/>
<polygon points="342.5,389.6 347.6,388 341.7,383.7 336.7,385.3" fill="url(#C874)"/>
<polygon points="281.8,375.5 287.2,373.6 281.7,370.3 276.2,372.2" fill="url(#C875)"/>
<polygon points="270.8,374.3 276.2,372.2 270.7,369.1 265.2,371.1" fill="url(#C876)"/>
<polygon points="331.5,387.1 336.7,385.3 330.9,381.2 325.7,382.9" fill="url(#C877)"/>
<polygon points="259.7,373.2 265.2,371.1 259.8,368.1 254.3,370.2" fill="url(#C878)"/>
<polygon points="248.6,372.4 254.3,370.2 248.9,367.4 243.2,369.5" fill="url(#C879)"/>
<polygon points="320.5,384.7 325.7,382.9 320,379 314.8,380.7" fill="url(#C880)"/>
<polygon points="237.6,371.8 243.2,369.5 237.9,366.8 232.2,369.1" fill="url(#C881)"/>
<polygon points="226.5,371.4 232.2,369.1 227,366.5 221.2,368.9" fill="url(#C882)"/>
<polygon points="359.4,397.1 364.3,395.4 358.4,390.8 353.4,392.4" fill="url(#C883)"/>
<polygon points="309.5,382.6 314.8,380.7 309.1,376.9 303.8,378.8" fill="url(#C884)"/>
<polygon points="298.5,380.7 303.8,378.8 298.2,375.1 292.8,377.1" fill="url(#C885)"/>
<polygon points="348.4,394.1 353.4,392.4 347.6,388 342.5,389.6" fill="url(#C886)"/>
<polygon points="287.4,379.1 292.8,377.1 287.2,373.6 281.8,375.5" fill="url(#C887)"/>
<polygon points="276.3,377.6 281.8,375.5 276.2,372.2 270.8,374.3" fill="url(#C888)"/>
<polygon points="337.4,391.4 342.5,389.6 336.7,385.3 331.5,387.1" fill="url(#C889)"/>
<polygon points="265.2,376.4 270.8,374.3 265.2,371.1 259.7,373.2" fill="url(#C890)"/>
<polygon points="326.4,388.9 331.5,387.1 325.7,382.9 320.5,384.7" fill="url(#C891)"/>
<polygon points="254.1,375.4 259.7,373.2 254.3,370.2 248.6,372.4" fill="url(#C892)"/>
<polygon points="243,374.7 248.6,372.4 243.2,369.5 237.6,371.8" fill="url(#C893)"/>
<polygon points="365.4,401.9 370.3,400.2 364.3,395.4 359.4,397.1" fill="url(#C894)"/>
<polygon points="231.8,374.2 237.6,371.8 232.2,369.1 226.5,371.4" fill="url(#C895)"/>
<polygon points="315.3,386.6 320.5,384.7 314.8,380.7 309.5,382.6" fill="url(#C896)"/>
<polygon points="220.7,373.9 226.5,371.4 221.2,368.9 215.4,371.3" fill="url(#C897)"/>
<polygon points="304.2,384.6 309.5,382.6 303.8,378.8 298.5,380.7" fill="url(#C898)"/>
<polygon points="354.4,398.8 359.4,397.1 353.4,392.4 348.4,394.1" fill="url(#C899)"/>
<polygon points="293.1,382.8 298.5,380.7 292.8,377.1 287.4,379.1" fill="url(#C900)"/>
<polygon points="343.3,395.9 348.4,394.1 342.5,389.6 337.4,391.4" fill="url(#C901)"/>
<polygon points="281.9,381.2 287.4,379.1 281.8,375.5 276.3,377.6" fill="url(#C902)"/>
<polygon points="270.8,379.8 276.3,377.6 270.8,374.3 265.2,376.4" fill="url(#C903)"/>
<polygon points="332.2,393.3 337.4,391.4 331.5,387.1 326.4,388.9" fill="url(#C904)"/>
<polygon points="259.6,378.7 265.2,376.4 259.7,373.2 254.1,375.4" fill="url(#C905)"/>
<polygon points="371.4,406.9 376.3,405.2 370.3,400.2 365.4,401.9" fill="url(#C906)"/>
<polygon points="248.4,377.8 254.1,375.4 248.6,372.4 243,374.7" fill="url(#C907)"/>
<polygon points="321.1,390.8 326.4,388.9 320.5,384.7 315.3,386.6" fill="url(#C908)"/>
<polygon points="237.2,377.1 243,374.7 237.6,371.8 231.8,374.2" fill="url(#C909)"/>
<polygon points="226,376.7 231.8,374.2 226.5,371.4 220.7,373.9" fill="url(#C910)"/>
<polygon points="360.4,403.7 365.4,401.9 359.4,397.1 354.4,398.8" fill="url(#C911)"/>
<polygon points="214.8,376.4 220.7,373.9 215.4,371.3 209.5,373.8" fill="url(#C912)"/>
<polygon points="310,388.6 315.3,386.6 309.5,382.6 304.2,384.6" fill="url(#C913)"/>
<polygon points="298.8,386.6 304.2,384.6 298.5,380.7 293.1,382.8" fill="url(#C914)"/>
<polygon points="349.3,400.6 354.4,398.8 348.4,394.1 343.3,395.9" fill="url(#C915)"/>
<polygon points="287.6,384.9 293.1,382.8 287.4,379.1 281.9,381.2" fill="url(#C916)"/>
<polygon points="338.1,397.8 343.3,395.9 337.4,391.4 332.2,393.3" fill="url(#C917)"/>
<polygon points="276.4,383.4 281.9,381.2 276.3,377.6 270.8,379.8" fill="url(#C918)"/>
<polygon points="377.5,412.1 382.4,410.4 376.3,405.2 371.4,406.9" fill="url(#C919)"/>
<polygon points="265.2,382.1 270.8,379.8 265.2,376.4 259.6,378.7" fill="url(#C920)"/>
<polygon points="327,395.2 332.2,393.3 326.4,388.9 321.1,390.8" fill="url(#C921)"/>
<polygon points="253.9,381 259.6,378.7 254.1,375.4 248.4,377.8" fill="url(#C922)"/>
<polygon points="366.4,408.7 371.4,406.9 365.4,401.9 360.4,403.7" fill="url(#C923)"/>
<polygon points="242.7,380.2 248.4,377.8 243,374.7 237.2,377.1" fill="url(#C924)"/>
<polygon points="315.8,392.9 321.1,390.8 315.3,386.6 310,388.6" fill="url(#C925)"/>
<polygon points="231.4,379.6 237.2,377.1 231.8,374.2 226,376.7" fill="url(#C926)"/>
<polygon points="220.1,379.2 226,376.7 220.7,373.9 214.8,376.4" fill="url(#C927)"/>
<polygon points="208.9,379.1 214.8,376.4 209.5,373.8 203.6,376.5" fill="url(#C928)"/>
<polygon points="355.3,405.5 360.4,403.7 354.4,398.8 349.3,400.6" fill="url(#C929)"/>
<polygon points="304.6,390.7 310,388.6 304.2,384.6 298.8,386.6" fill="url(#C930)"/>
<polygon points="293.3,388.8 298.8,386.6 293.1,382.8 287.6,384.9" fill="url(#C931)"/>
<polygon points="344.1,402.5 349.3,400.6 343.3,395.9 338.1,397.8" fill="url(#C932)"/>
<polygon points="383.6,417.6 388.5,415.8 382.4,410.4 377.5,412.1" fill="url(#C933)"/>
<polygon points="282.1,387.1 287.6,384.9 281.9,381.2 276.4,383.4" fill="url(#C934)"/>
<polygon points="270.8,385.7 276.4,383.4 270.8,379.8 265.2,382.1" fill="url(#C935)"/>
<polygon points="332.9,399.8 338.1,397.8 332.2,393.3 327,395.2" fill="url(#C936)"/>
<polygon points="372.5,414 377.5,412.1 371.4,406.9 366.4,408.7" fill="url(#C937)"/>
<polygon points="259.5,384.5 265.2,382.1 259.6,378.7 253.9,381" fill="url(#C938)"/>
<polygon points="321.7,397.3 327,395.2 321.1,390.8 315.8,392.9" fill="url(#C939)"/>
<polygon points="248.2,383.5 253.9,381 248.4,377.8 242.7,380.2" fill="url(#C940)"/>
<polygon points="236.9,382.7 242.7,380.2 237.2,377.1 231.4,379.6" fill="url(#C941)"/>
<polygon points="361.3,410.6 366.4,408.7 360.4,403.7 355.3,405.5" fill="url(#C942)"/>
<polygon points="225.5,382.2 231.4,379.6 226,376.7 220.1,379.2" fill="url(#C943)"/>
<polygon points="310.4,395 315.8,392.9 310,388.6 304.6,390.7" fill="url(#C944)"/>
<polygon points="214.2,381.9 220.1,379.2 214.8,376.4 208.9,379.1" fill="url(#C945)"/>
<polygon points="202.9,381.9 208.9,379.1 203.6,376.5 197.6,379.2" fill="url(#C946)"/>
<polygon points="389.8,423.2 394.7,421.4 388.5,415.8 383.6,417.6" fill="url(#C947)"/>
<polygon points="299.1,392.9 304.6,390.7 298.8,386.6 293.3,388.8" fill="url(#C948)"/>
<polygon points="350.1,407.5 355.3,405.5 349.3,400.6 344.1,402.5" fill="url(#C949)"/>
<polygon points="287.8,391.1 293.3,388.8 287.6,384.9 282.1,387.1" fill="url(#C950)"/>
<polygon points="338.9,404.6 344.1,402.5 338.1,397.8 332.9,399.8" fill="url(#C951)"/>
<polygon points="378.7,419.4 383.6,417.6 377.5,412.1 372.5,414" fill="url(#C952)"/>
<polygon points="276.5,389.5 282.1,387.1 276.4,383.4 270.8,385.7" fill="url(#C953)"/>
<polygon points="265.1,388.1 270.8,385.7 265.2,382.1 259.5,384.5" fill="url(#C954)"/>
<polygon points="327.6,401.9 332.9,399.8 327,395.2 321.7,397.3" fill="url(#C955)"/>
<polygon points="253.8,386.9 259.5,384.5 253.9,381 248.2,383.5" fill="url(#C956)"/>
<polygon points="367.5,415.9 372.5,414 366.4,408.7 361.3,410.6" fill="url(#C957)"/>
<polygon points="242.4,386 248.2,383.5 242.7,380.2 236.9,382.7" fill="url(#C958)"/>
<polygon points="316.3,399.4 321.7,397.3 315.8,392.9 310.4,395" fill="url(#C959)"/>
<polygon points="231,385.3 236.9,382.7 231.4,379.6 225.5,382.2" fill="url(#C960)"/>
<polygon points="396,429 400.9,427.1 394.7,421.4 389.8,423.2" fill="url(#C961)"/>
<polygon points="219.6,384.9 225.5,382.2 220.1,379.2 214.2,381.9" fill="url(#C962)"/>
<polygon points="356.2,412.6 361.3,410.6 355.3,405.5 350.1,407.5" fill="url(#C963)"/>
<polygon points="208.2,384.7 214.2,381.9 208.9,379.1 202.9,381.9" fill="url(#C964)"/>
<polygon points="305,397.2 310.4,395 304.6,390.7 299.1,392.9" fill="url(#C965)"/>
<polygon points="196.8,384.7 202.9,381.9 197.6,379.2 191.5,382" fill="url(#C966)"/>
<polygon points="293.6,395.2 299.1,392.9 293.3,388.8 287.8,391.1" fill="url(#C967)"/>
<polygon points="384.9,425.1 389.8,423.2 383.6,417.6 378.7,419.4" fill="url(#C968)"/>
<polygon points="344.9,409.5 350.1,407.5 344.1,402.5 338.9,404.6" fill="url(#C969)"/>
<polygon points="282.2,393.4 287.8,391.1 282.1,387.1 276.5,389.5" fill="url(#C970)"/>
<polygon points="333.6,406.7 338.9,404.6 332.9,399.8 327.6,401.9" fill="url(#C971)"/>
<polygon points="270.8,391.9 276.5,389.5 270.8,385.7 265.1,388.1" fill="url(#C972)"/>
<polygon points="373.6,421.4 378.7,419.4 372.5,414 367.5,415.9" fill="url(#C973)"/>
<polygon points="259.4,390.6 265.1,388.1 259.5,384.5 253.8,386.9" fill="url(#C974)"/>
<polygon points="322.3,404.1 327.6,401.9 321.7,397.3 316.3,399.4" fill="url(#C975)"/>
<polygon points="247.9,389.5 253.8,386.9 248.2,383.5 242.4,386" fill="url(#C976)"/>
<polygon points="362.3,417.9 367.5,415.9 361.3,410.6 356.2,412.6" fill="url(#C977)"/>
<polygon points="236.5,388.7 242.4,386 236.9,382.7 231,385.3" fill="url(#C978)"/>
<polygon points="310.9,401.7 316.3,399.4 310.4,395 305,397.2" fill="url(#C979)"/>
<polygon points="225,388.1 231,385.3 225.5,382.2 219.6,384.9" fill="url(#C980)"/>
<polygon points="213.6,387.7 219.6,384.9 214.2,381.9 208.2,384.7" fill="url(#C981)"/>
<polygon points="391.1,430.9 396,429 389.8,423.2 384.9,425.1" fill="url(#C982)"/>
<polygon points="202.1,387.6 208.2,384.7 202.9,381.9 196.8,384.7" fill="url(#C983)"/>
<polygon points="351,414.7 356.2,412.6 350.1,407.5 344.9,409.5" fill="url(#C984)"/>
<polygon points="190.7,387.7 196.8,384.7 191.5,382 185.4,385" fill="url(#C985)"/>
<polygon points="299.5,399.5 305,397.2 299.1,392.9 293.6,395.2" fill="url(#C986)"/>
<polygon points="288,397.6 293.6,395.2 287.8,391.1 282.2,393.4" fill="url(#C987)"/>
<polygon points="339.7,411.7 344.9,409.5 338.9,404.6 333.6,406.7" fill="url(#C988)"/>
<polygon points="379.8,427.1 384.9,425.1 378.7,419.4 373.6,421.4" fill="url(#C989)"/>
<polygon points="276.6,395.9 282.2,393.4 276.5,389.5 270.8,391.9" fill="url(#C990)"/>
<polygon points="328.3,408.9 333.6,406.7 327.6,401.9 322.3,404.1" fill="url(#C991)"/>
<polygon points="265.1,394.4 270.8,391.9 265.1,388.1 259.4,390.6" fill="url(#C992)"/>
<polygon points="368.5,423.5 373.6,421.4 367.5,415.9 362.3,417.9" fill="url(#C993)"/>
<polygon points="253.6,393.2 259.4,390.6 253.8,386.9 247.9,389.5" fill="url(#C994)"/>
<polygon points="316.8,406.4 322.3,404.1 316.3,399.4 310.9,401.7" fill="url(#C995)"/>
<polygon points="242.1,392.2 247.9,389.5 242.4,386 236.5,388.7" fill="url(#C996)"/>
<polygon points="230.6,391.4 236.5,388.7 231,385.3 225,388.1" fill="url(#C997)"/>
<polygon points="357.2,420.1 362.3,417.9 356.2,412.6 351,414.7" fill="url(#C998)"/>
<polygon points="219,390.9 225,388.1 219.6,384.9 213.6,387.7" fill="url(#C999)"/>
<polygon points="305.4,404 310.9,401.7 305,397.2 299.5,399.5" fill="url(#C1000)"/>
<polygon points="207.5,390.6 213.6,387.7 208.2,384.7 202.1,387.6" fill="url(#C1001)"/>
<polygon points="196,390.6 202.1,387.6 196.8,384.7 190.7,387.7" fill="url(#C1002)"/>
<polygon points="184.5,390.8 190.7,387.7 185.4,385 179.2,388" fill="url(#C1003)"/>
<polygon points="386.1,433 391.1,430.9 384.9,425.1 379.8,427.1" fill="url(#C1004)"/>
<polygon points="293.9,401.9 299.5,399.5 293.6,395.2 288,397.6" fill="url(#C1005)"/>
<polygon points="345.8,416.9 351,414.7 344.9,409.5 339.7,411.7" fill="url(#C1006)"/>
<polygon points="282.4,400.1 288,397.6 282.2,393.4 276.6,395.9" fill="url(#C1007)"/>
<polygon points="334.3,413.9 339.7,411.7 333.6,406.7 328.3,408.9" fill="url(#C1008)"/>
<polygon points="374.7,429.2 379.8,427.1 373.6,421.4 368.5,423.5" fill="url(#C1009)"/>
<polygon points="270.8,398.5 276.6,395.9 270.8,391.9 265.1,394.4" fill="url(#C1010)"/>
<polygon points="259.3,397.1 265.1,394.4 259.4,390.6 253.6,393.2" fill="url(#C1011)"/>
<polygon points="322.8,411.2 328.3,408.9 322.3,404.1 316.8,406.4" fill="url(#C1012)"/>
<polygon points="363.4,425.6 368.5,423.5 362.3,417.9 357.2,420.1" fill="url(#C1013)"/>
<polygon points="247.7,395.9 253.6,393.2 247.9,389.5 242.1,392.2" fill="url(#C1014)"/>
<polygon points="236.1,395 242.1,392.2 236.5,388.7 230.6,391.4" fill="url(#C1015)"/>
<polygon points="311.3,408.7 316.8,406.4 310.9,401.7 305.4,404" fill="url(#C1016)"/>
<polygon points="224.5,394.3 230.6,391.4 225,388.1 219,390.9" fill="url(#C1017)"/>
<polygon points="213,393.9 219,390.9 213.6,387.7 207.5,390.6" fill="url(#C1018)"/>
<polygon points="351.9,422.3 357.2,420.1 351,414.7 345.8,416.9" fill="url(#C1019)"/>
<polygon points="299.8,406.5 305.4,404 299.5,399.5 293.9,401.9" fill="url(#C1020)"/>
<polygon points="201.4,393.7 207.5,390.6 202.1,387.6 196,390.6" fill="url(#C1021)"/>
<polygon points="189.8,393.7 196,390.6 190.7,387.7 184.5,390.8" fill="url(#C1022)"/>
<polygon points="178.2,394 184.5,390.8 179.2,388 172.9,391.2" fill="url(#C1023)"/>
<polygon points="288.2,404.5 293.9,401.9 288,397.6 282.4,400.1" fill="url(#C1024)"/>
<polygon points="381,435.1 386.1,433 379.8,427.1 374.7,429.2" fill="url(#C1025)"/>
<polygon points="340.4,419.2 345.8,416.9 339.7,411.7 334.3,413.9" fill="url(#C1026)"/>
<polygon points="276.6,402.7 282.4,400.1 276.6,395.9 270.8,398.5" fill="url(#C1027)"/>
<polygon points="328.9,416.3 334.3,413.9 328.3,408.9 322.8,411.2" fill="url(#C1028)"/>
<polygon points="369.6,431.4 374.7,429.2 368.5,423.5 363.4,425.6" fill="url(#C1029)"/>
<polygon points="265,401.1 270.8,398.5 265.1,394.4 259.3,397.1" fill="url(#C1030)"/>
<polygon points="253.4,399.8 259.3,397.1 253.6,393.2 247.7,395.9" fill="url(#C1031)"/>
<polygon points="317.4,413.7 322.8,411.2 316.8,406.4 311.3,408.7" fill="url(#C1032)"/>
<polygon points="241.8,398.7 247.7,395.9 242.1,392.2 236.1,395" fill="url(#C1033)"/>
<polygon points="358.1,427.9 363.4,425.6 357.2,420.1 351.9,422.3" fill="url(#C1034)"/>
<polygon points="230.1,397.9 236.1,395 230.6,391.4 224.5,394.3" fill="url(#C1035)"/>
<polygon points="305.8,411.2 311.3,408.7 305.4,404 299.8,406.5" fill="url(#C1036)"/>
<polygon points="218.5,397.3 224.5,394.3 219,390.9 213,393.9" fill="url(#C1037)"/>
<polygon points="206.8,396.9 213,393.9 207.5,390.6 201.4,393.7" fill="url(#C1038)"/>
<polygon points="195.2,396.8 201.4,393.7 196,390.6 189.8,393.7" fill="url(#C1039)"/>
<polygon points="346.6,424.6 351.9,422.3 345.8,416.9 340.4,419.2" fill="url(#C1040)"/>
<polygon points="183.5,396.9 189.8,393.7 184.5,390.8 178.2,394" fill="url(#C1041)"/>
<polygon points="294.2,409.1 299.8,406.5 293.9,401.9 288.2,404.5" fill="url(#C1042)"/>
<polygon points="282.5,407.1 288.2,404.5 282.4,400.1 276.6,402.7" fill="url(#C1043)"/>
<polygon points="375.9,437.4 381,435.1 374.7,429.2 369.6,431.4" fill="url(#C1044)"/>
<polygon points="335,421.6 340.4,419.2 334.3,413.9 328.9,416.3" fill="url(#C1045)"/>
<polygon points="270.9,405.4 276.6,402.7 270.8,398.5 265,401.1" fill="url(#C1046)"/>
<polygon points="323.4,418.8 328.9,416.3 322.8,411.2 317.4,413.7" fill="url(#C1047)"/>
<polygon points="259.2,403.9 265,401.1 259.3,397.1 253.4,399.8" fill="url(#C1048)"/>
<polygon points="364.4,433.7 369.6,431.4 363.4,425.6 358.1,427.9" fill="url(#C1049)"/>
<polygon points="247.5,402.7 253.4,399.8 247.7,395.9 241.8,398.7" fill="url(#C1050)"/>
<polygon points="311.8,416.2 317.4,413.7 311.3,408.7 305.8,411.2" fill="url(#C1051)"/>
<polygon points="235.8,401.7 241.8,398.7 236.1,395 230.1,397.9" fill="url(#C1052)"/>
<polygon points="352.8,430.3 358.1,427.9 351.9,422.3 346.6,424.6" fill="url(#C1053)"/>
<polygon points="224,400.9 230.1,397.9 224.5,394.3 218.5,397.3" fill="url(#C1054)"/>
<polygon points="212.3,400.4 218.5,397.3 213,393.9 206.8,396.9" fill="url(#C1055)"/>
<polygon points="300.1,413.8 305.8,411.2 299.8,406.5 294.2,409.1" fill="url(#C1056)"/>
<polygon points="200.6,400.1 206.8,396.9 201.4,393.7 195.2,396.8" fill="url(#C1057)"/>
<polygon points="188.9,400.1 195.2,396.8 189.8,393.7 183.5,396.9" fill="url(#C1058)"/>
<polygon points="341.2,427.1 346.6,424.6 340.4,419.2 335,421.6" fill="url(#C1059)"/>
<polygon points="288.4,411.7 294.2,409.1 288.2,404.5 282.5,407.1" fill="url(#C1060)"/>
<polygon points="276.7,409.8 282.5,407.1 276.6,402.7 270.9,405.4" fill="url(#C1061)"/>
<polygon points="329.6,424.1 335,421.6 328.9,416.3 323.4,418.8" fill="url(#C1062)"/>
<polygon points="370.7,439.7 375.9,437.4 369.6,431.4 364.4,433.7" fill="url(#C1063)"/>
<polygon points="265,408.2 270.9,405.4 265,401.1 259.2,403.9" fill="url(#C1064)"/>
<polygon points="253.2,406.8 259.2,403.9 253.4,399.8 247.5,402.7" fill="url(#C1065)"/>
<polygon points="317.9,421.3 323.4,418.8 317.4,413.7 311.8,416.2" fill="url(#C1066)"/>
<polygon points="359.1,436.1 364.4,433.7 358.1,427.9 352.8,430.3" fill="url(#C1067)"/>
<polygon points="241.5,405.6 247.5,402.7 241.8,398.7 235.8,401.7" fill="url(#C1068)"/>
<polygon points="229.7,404.7 235.8,401.7 230.1,397.9 224,400.9" fill="url(#C1069)"/>
<polygon points="306.2,418.8 311.8,416.2 305.8,411.2 300.1,413.8" fill="url(#C1070)"/>
<polygon points="217.9,404 224,400.9 218.5,397.3 212.3,400.4" fill="url(#C1071)"/>
<polygon points="347.5,432.8 352.8,430.3 346.6,424.6 341.2,427.1" fill="url(#C1072)"/>
<polygon points="206.1,403.6 212.3,400.4 206.8,396.9 200.6,400.1" fill="url(#C1073)"/>
<polygon points="294.4,416.5 300.1,413.8 294.2,409.1 288.4,411.7" fill="url(#C1074)"/>
<polygon points="194.3,403.4 200.6,400.1 195.2,396.8 188.9,400.1" fill="url(#C1075)"/>
<polygon points="282.7,414.5 288.4,411.7 282.5,407.1 276.7,409.8" fill="url(#C1076)"/>
<polygon points="335.8,429.6 341.2,427.1 335,421.6 329.6,424.1" fill="url(#C1077)"/>
<polygon points="270.9,412.7 276.7,409.8 270.9,405.4 265,408.2" fill="url(#C1078)"/>
<polygon points="324,426.7 329.6,424.1 323.4,418.8 317.9,421.3" fill="url(#C1079)"/>
<polygon points="365.4,442.2 370.7,439.7 364.4,433.7 359.1,436.1" fill="url(#C1080)"/>
<polygon points="259.1,411.1 265,408.2 259.2,403.9 253.2,406.8" fill="url(#C1081)"/>
<polygon points="247.2,409.8 253.2,406.8 247.5,402.7 241.5,405.6" fill="url(#C1082)"/>
<polygon points="312.3,424 317.9,421.3 311.8,416.2 306.2,418.8" fill="url(#C1083)"/>
<polygon points="235.4,408.7 241.5,405.6 235.8,401.7 229.7,404.7" fill="url(#C1084)"/>
<polygon points="353.7,438.6 359.1,436.1 352.8,430.3 347.5,432.8" fill="url(#C1085)"/>
<polygon points="223.5,407.9 229.7,404.7 224,400.9 217.9,404" fill="url(#C1086)"/>
<polygon points="300.5,421.6 306.2,418.8 300.1,413.8 294.4,416.5" fill="url(#C1087)"/>
<polygon points="211.7,407.3 217.9,404 212.3,400.4 206.1,403.6" fill="url(#C1088)"/>
<polygon points="199.8,406.9 206.1,403.6 200.6,400.1 194.3,403.4" fill="url(#C1089)"/>
<polygon points="342,435.3 347.5,432.8 341.2,427.1 335.8,429.6" fill="url(#C1090)"/>
<polygon points="288.7,419.4 294.4,416.5 288.4,411.7 282.7,414.5" fill="url(#C1091)"/>
<polygon points="276.8,417.4 282.7,414.5 276.7,409.8 270.9,412.7" fill="url(#C1092)"/>
<polygon points="330.2,432.3 335.8,429.6 329.6,424.1 324,426.7" fill="url(#C1093)"/>
<polygon points="265,415.7 270.9,412.7 265,408.2 259.1,411.1" fill="url(#C1094)"/>
<polygon points="318.4,429.4 324,426.7 317.9,421.3 312.3,424" fill="url(#C1095)"/>
<polygon points="253.1,414.2 259.1,411.1 253.2,406.8 247.2,409.8" fill="url(#C1096)"/>
<polygon points="360.1,444.7 365.4,442.2 359.1,436.1 353.7,438.6" fill="url(#C1097)"/>
<polygon points="241.2,412.9 247.2,409.8 241.5,405.6 235.4,408.7" fill="url(#C1098)"/>
<polygon points="306.6,426.8 312.3,424 306.2,418.8 300.5,421.6" fill="url(#C1099)"/>
<polygon points="229.2,411.9 235.4,408.7 229.7,404.7 223.5,407.9" fill="url(#C1100)"/>
<polygon points="348.3,441.3 353.7,438.6 347.5,432.8 342,435.3" fill="url(#C1101)"/>
<polygon points="217.3,411.1 223.5,407.9 217.9,404 211.7,407.3" fill="url(#C1102)"/>
<polygon points="294.7,424.4 300.5,421.6 294.4,416.5 288.7,419.4" fill="url(#C1103)"/>
<polygon points="205.4,410.6 211.7,407.3 206.1,403.6 199.8,406.9" fill="url(#C1104)"/>
<polygon points="336.5,438 342,435.3 335.8,429.6 330.2,432.3" fill="url(#C1105)"/>
<polygon points="282.8,422.3 288.7,419.4 282.7,414.5 276.8,417.4" fill="url(#C1106)"/>
<polygon points="270.9,420.4 276.8,417.4 270.9,412.7 265,415.7" fill="url(#C1107)"/>
<polygon points="324.7,435 330.2,432.3 324,426.7 318.4,429.4" fill="url(#C1108)"/>
<polygon points="259,418.7 265,415.7 259.1,411.1 253.1,414.2" fill="url(#C1109)"/>
<polygon points="247,417.3 253.1,414.2 247.2,409.8 241.2,412.9" fill="url(#C1110)"/>
<polygon points="312.8,432.2 318.4,429.4 312.3,424 306.6,426.8" fill="url(#C1111)"/>
<polygon points="354.7,447.4 360.1,444.7 353.7,438.6 348.3,441.3" fill="url(#C1112)"/>
<polygon points="235,416.2 241.2,412.9 235.4,408.7 229.2,411.9" fill="url(#C1113)"/>
<polygon points="300.8,429.7 306.6,426.8 300.5,421.6 294.7,424.4" fill="url(#C1114)"/>
<polygon points="223,415.2 229.2,411.9 223.5,407.9 217.3,411.1" fill="url(#C1115)"/>
<polygon points="211,414.5 217.3,411.1 211.7,407.3 205.4,410.6" fill="url(#C1116)"/>
<polygon points="342.8,444 348.3,441.3 342,435.3 336.5,438" fill="url(#C1117)"/>
<polygon points="288.9,427.4 294.7,424.4 288.7,419.4 282.8,422.3" fill="url(#C1118)"/>
<polygon points="276.9,425.3 282.8,422.3 276.8,417.4 270.9,420.4" fill="url(#C1119)"/>
<polygon points="330.9,440.8 336.5,438 330.2,432.3 324.7,435" fill="url(#C1120)"/>
<polygon points="264.9,423.5 270.9,420.4 265,415.7 259,418.7" fill="url(#C1121)"/>
<polygon points="319,437.9 324.7,435 318.4,429.4 312.8,432.2" fill="url(#C1122)"/>
<polygon points="252.9,421.9 259,418.7 253.1,414.2 247,417.3" fill="url(#C1123)"/>
<polygon points="240.9,420.6 247,417.3 241.2,412.9 235,416.2" fill="url(#C1124)"/>
<polygon points="307,435.2 312.8,432.2 306.6,426.8 300.8,429.7" fill="url(#C1125)"/>
<polygon points="228.8,419.5 235,416.2 229.2,411.9 223,415.2" fill="url(#C1126)"/>
<polygon points="349.2,450.2 354.7,447.4 348.3,441.3 342.8,444" fill="url(#C1127)"/>
<polygon points="216.7,418.7 223,415.2 217.3,411.1 211,414.5" fill="url(#C1128)"/>
<polygon points="295,432.7 300.8,429.7 294.7,424.4 288.9,427.4" fill="url(#C1129)"/>
<polygon points="337.3,446.9 342.8,444 336.5,438 330.9,440.8" fill="url(#C1130)"/>
<polygon points="283,430.5 288.9,427.4 282.8,422.3 276.9,425.3" fill="url(#C1131)"/>
<polygon points="270.9,428.5 276.9,425.3 270.9,420.4 264.9,423.5" fill="url(#C1132)"/>
<polygon points="325.3,443.7 330.9,440.8 324.7,435 319,437.9" fill="url(#C1133)"/>
<polygon points="258.9,426.7 264.9,423.5 259,418.7 252.9,421.9" fill="url(#C1134)"/>
<polygon points="313.3,440.9 319,437.9 312.8,432.2 307,435.2" fill="url(#C1135)"/>
<polygon points="246.8,425.2 252.9,421.9 247,417.3 240.9,420.6" fill="url(#C1136)"/>
<polygon points="234.6,424 240.9,420.6 235,416.2 228.8,419.5" fill="url(#C1137)"/>
<polygon points="301.2,438.2 307,435.2 300.8,429.7 295,432.7" fill="url(#C1138)"/>
<polygon points="222.5,423 228.8,419.5 223,415.2 216.7,418.7" fill="url(#C1139)"/>
<polygon points="343.7,453.1 349.2,450.2 342.8,444 337.3,446.9" fill="url(#C1140)"/>
<polygon points="289.1,435.8 295,432.7 288.9,427.4 283,430.5" fill="url(#C1141)"/>
<polygon points="331.6,449.8 337.3,446.9 330.9,440.8 325.3,443.7" fill="url(#C1142)"/>
<polygon points="277,433.7 283,430.5 276.9,425.3 270.9,428.5" fill="url(#C1143)"/>
<polygon points="264.9,431.8 270.9,428.5 264.9,423.5 258.9,426.7" fill="url(#C1144)"/>
<polygon points="319.6,446.8 325.3,443.7 319,437.9 313.3,440.9" fill="url(#C1145)"/>
<polygon points="252.7,430.1 258.9,426.7 252.9,421.9 246.8,425.2" fill="url(#C1146)"/>
<polygon points="307.5,444 313.3,440.9 307,435.2 301.2,438.2" fill="url(#C1147)"/>
<polygon points="240.5,428.7 246.8,425.2 240.9,420.6 234.6,424" fill="url(#C1148)"/>
<polygon points="228.3,427.5 234.6,424 228.8,419.5 222.5,423" fill="url(#C1149)"/>
<polygon points="295.3,441.4 301.2,438.2 295,432.7 289.1,435.8" fill="url(#C1150)"/>
<polygon points="338,456.1 343.7,453.1 337.3,446.9 331.6,449.8" fill="url(#C1151)"/>
<polygon points="283.2,439.1 289.1,435.8 283,430.5 277,433.7" fill="url(#C1152)"/>
<polygon points="271,437 277,433.7 270.9,428.5 264.9,431.8" fill="url(#C1153)"/>
<polygon points="325.9,452.9 331.6,449.8 325.3,443.7 319.6,446.8" fill="url(#C1154)"/>
<polygon points="258.7,435.2 264.9,431.8 258.9,426.7 252.7,430.1" fill="url(#C1155)"/>
<polygon points="313.8,449.9 319.6,446.8 313.3,440.9 307.5,444" fill="url(#C1156)"/>
<polygon points="246.5,433.6 252.7,430.1 246.8,425.2 240.5,428.7" fill="url(#C1157)"/>
<polygon points="234.3,432.2 240.5,428.7 234.6,424 228.3,427.5" fill="url(#C1158)"/>
<polygon points="301.6,447.2 307.5,444 301.2,438.2 295.3,441.4" fill="url(#C1159)"/>
<polygon points="289.4,444.7 295.3,441.4 289.1,435.8 283.2,439.1" fill="url(#C1160)"/>
<polygon points="332.3,459.2 338,456.1 331.6,449.8 325.9,452.9" fill="url(#C1161)"/>
<polygon points="277.1,442.4 283.2,439.1 277,433.7 271,437" fill="url(#C1162)"/>
<polygon points="264.8,440.4 271,437 264.9,431.8 258.7,435.2" fill="url(#C1163)"/>
<polygon points="320.1,456.1 325.9,452.9 319.6,446.8 313.8,449.9" fill="url(#C1164)"/>
<polygon points="252.5,438.7 258.7,435.2 252.7,430.1 246.5,433.6" fill="url(#C1165)"/>
<polygon points="307.9,453.2 313.8,449.9 307.5,444 301.6,447.2" fill="url(#C1166)"/>
<polygon points="240.2,437.2 246.5,433.6 240.5,428.7 234.3,432.2" fill="url(#C1167)"/>
<polygon points="295.6,450.5 301.6,447.2 295.3,441.4 289.4,444.7" fill="url(#C1168)"/>
<polygon points="283.3,448.1 289.4,444.7 283.2,439.1 277.1,442.4" fill="url(#C1169)"/>
<polygon points="326.6,462.5 332.3,459.2 325.9,452.9 320.1,456.1" fill="url(#C1170)"/>
<polygon points="271,445.9 277.1,442.4 271,437 264.8,440.4" fill="url(#C1171)"/>
<polygon points="258.6,444 264.8,440.4 258.7,435.2 252.5,438.7" fill="url(#C1172)"/>
<polygon points="314.3,459.4 320.1,456.1 313.8,449.9 307.9,453.2" fill="url(#C1173)"/>
<polygon points="246.3,442.3 252.5,438.7 246.5,433.6 240.2,437.2" fill="url(#C1174)"/>
<polygon points="302,456.6 307.9,453.2 301.6,447.2 295.6,450.5" fill="url(#C1175)"/>
<polygon points="289.6,454 295.6,450.5 289.4,444.7 283.3,448.1" fill="url(#C1176)"/>
<polygon points="277.2,451.6 283.3,448.1 277.1,442.4 271,445.9" fill="url(#C1177)"/>
<polygon points="320.7,465.8 326.6,462.5 320.1,456.1 314.3,459.4" fill="url(#C1178)"/>
<polygon points="264.8,449.5 271,445.9 264.8,440.4 258.6,444" fill="url(#C1179)"/>
<polygon points="252.4,447.7 258.6,444 252.5,438.7 246.3,442.3" fill="url(#C1180)"/>
<polygon points="308.4,462.8 314.3,459.4 307.9,453.2 302,456.6" fill="url(#C1181)"/>
<polygon points="295.9,460.1 302,456.6 295.6,450.5 289.6,454" fill="url(#C1182)"/>
<polygon points="283.5,457.6 289.6,454 283.3,448.1 277.2,451.6" fill="url(#C1183)"/>
<polygon points="271,455.3 277.2,451.6 271,445.9 264.8,449.5" fill="url(#C1184)"/>
<polygon points="258.5,453.3 264.8,449.5 258.6,444 252.4,447.7" fill="url(#C1185)"/>
<polygon points="314.8,469.3 320.7,465.8 314.3,459.4 308.4,462.8" fill="url(#C1186)"/>
<polygon points="302.4,466.4 308.4,462.8 302,456.6 295.9,460.1" fill="url(#C1187)"/>
<polygon points="289.9,463.7 295.9,460.1 289.6,454 283.5,457.6" fill="url(#C1188)"/>
<polygon points="277.3,461.3 283.5,457.6 277.2,451.6 271,455.3" fill="url(#C1189)"/>
<polygon points="264.8,459.1 271,455.3 264.8,449.5 258.5,453.3" fill="url(#C1190)"/>
<polygon points="308.8,472.9 314.8,469.3 308.4,462.8 302.4,466.4" fill="url(#C1191)"/>
<polygon points="296.3,470.1 302.4,466.4 295.9,460.1 289.9,463.7" fill="url(#C1192)"/>
<polygon points="283.7,467.5 289.9,463.7 283.5,457.6 277.3,461.3" fill="url(#C1193)"/>
<polygon points="271.1,465.1 277.3,461.3 271,455.3 264.8,459.1" fill="url(#C1194)"/>
<polygon points="302.7,476.7 308.8,472.9 302.4,466.4 296.3,470.1" fill="url(#C1195)"/>
<polygon points="290.1,473.9 296.3,470.1 289.9,463.7 283.7,467.5" fill="url(#C1196)"/>
<polygon points="277.4,471.4 283.7,467.5 277.3,461.3 271.1,465.1" fill="url(#C1197)"/>
<polygon points="296.6,480.5 302.7,476.7 296.3,470.1 290.1,473.9" fill="url(#C1198)"/>
<polygon points="283.9,477.8 290.1,473.9 283.7,467.5 277.4,471.4" fill="url(#C1199)"/>
<polygon points="290.4,484.5 296.6,480.5 290.1,473.9 283.9,477.8" fill="url(#C1200)"/>
<path d="M290.4,484.5 283.9,477.8 277.4,471.4 271.1,465.1 264.8,459.1 258.5,453.3 252.4,447.7 246.3,442.3 240.2,437.2 234.3,432.2 228.3,427.5 222.5,423 216.7,418.7 211,414.5 205.4,410.6 199.8,406.9 194.3,403.4 188.9,400.1 183.5,396.9 178.2,394 172.9,391.2M290.4,484.5 296.6,480.5 302.7,476.7 308.8,472.9 314.8,469.3 320.7,465.8 326.6,462.5 332.3,459.2 338,456.1 343.7,453.1 349.2,450.2 354.7,447.4 360.1,444.7 365.4,442.2 370.7,439.7 375.9,437.4 381,435.1 386.1,433 391.1,430.9 396,429 400.9,427.1M296.6,480.5 290.1,473.9 283.7,467.5 277.3,461.3 271,455.3 264.8,449.5 258.6,444 252.5,438.7 246.5,433.6 240.5,428.7 234.6,424 228.8,419.5 223,415.2 217.3,411.1 211.7,407.3 206.1,403.6 200.6,400.1 195.2,396.8 189.8,393.7 184.5,390.8 179.2,388M283.9,477.8 290.1,473.9 296.3,470.1 302.4,466.4 308.4,462.8 314.3,459.4 320.1,456.1 325.9,452.9 331.6,449.8 337.3,446.9 342.8,444 348.3,441.3 353.7,438.6 359.1,436.1 364.4,433.7 369.6,431.4 374.7,429.2 379.8,427.1 384.9,425.1 389.8,423.2 394.7,421.4M302.7,476.7 296.3,470.1 289.9,463.7 283.5,457.6 277.2,451.6 271,445.9 264.8,440.4 258.7,435.2 252.7,430.1 246.8,425.2 240.9,420.6 235,416.2 229.2,411.9 223.5,407.9 217.9,404 212.3,400.4 206.8,396.9 201.4,393.7 196,390.6 190.7,387.7 185.4,385M277.4,471.4 283.7,467.5 289.9,463.7 295.9,460.1 302,456.6 307.9,453.2 313.8,449.9 319.6,446.8 325.3,443.7 330.9,440.8 336.5,438 342,435.3 347.5,432.8 352.8,430.3 358.1,427.9 363.4,425.6 368.5,423.5 373.6,421.4 378.7,419.4 383.6,417.6 388.5,415.8M308.8,472.9 302.4,466.4 295.9,460.1 289.6,454 283.3,448.1 277.1,442.4 271,437 264.9,431.8 258.9,426.7 252.9,421.9 247,417.3 241.2,412.9 235.4,408.7 229.7,404.7 224,400.9 218.5,397.3 213,393.9 207.5,390.6 202.1,387.6 196.8,384.7 191.5,382M271.1,465.1 277.3,461.3 283.5,457.6 289.6,454 295.6,450.5 301.6,447.2 307.5,444 313.3,440.9 319,437.9 324.7,435 330.2,432.3 335.8,429.6 341.2,427.1 346.6,424.6 351.9,422.3 357.2,420.1 362.3,417.9 367.5,415.9 372.5,414 377.5,412.1 382.4,410.4M314.8,469.3 308.4,462.8 302,456.6 295.6,450.5 289.4,444.7 283.2,439.1 277,433.7 270.9,428.5 264.9,423.5 259,418.7 253.1,414.2 247.2,409.8 241.5,405.6 235.8,401.7 230.1,397.9 224.5,394.3 219,390.9 213.6,387.7 208.2,384.7 202.9,381.9 197.6,379.2M264.8,459.1 271,455.3 277.2,451.6 283.3,448.1 289.4,444.7 295.3,441.4 301.2,438.2 307,435.2 312.8,432.2 318.4,429.4 324,426.7 329.6,424.1 335,421.6 340.4,419.2 345.8,416.9 351,414.7 356.2,412.6 361.3,410.6 366.4,408.7 371.4,406.9 376.3,405.2M320.7,465.8 314.3,459.4 307.9,453.2 301.6,447.2 295.3,441.4 289.1,435.8 283,430.5 276.9,425.3 270.9,420.4 265,415.7 259.1,411.1 253.2,406.8 247.5,402.7 241.8,398.7 236.1,395 230.6,391.4 225,388.1 219.6,384.9 214.2,381.9 208.9,379.1 203.6,376.5M258.5,453.3 264.8,449.5 271,445.9 277.1,442.4 283.2,439.1 289.1,435.8 295,432.7 300.8,429.7 306.6,426.8 312.3,424 317.9,421.3 323.4,418.8 328.9,416.3 334.3,413.9 339.7,411.7 344.9,409.5 350.1,407.5 355.3,405.5 360.4,403.7 365.4,401.9 370.3,400.2M326.6,462.5 320.1,456.1 313.8,449.9 307.5,444 301.2,438.2 295,432.7 288.9,427.4 282.8,422.3 276.8,417.4 270.9,412.7 265,408.2 259.2,403.9 253.4,399.8 247.7,395.9 242.1,392.2 236.5,388.7 231,385.3 225.5,382.2 220.1,379.2 214.8,376.4 209.5,373.8M252.4,447.7 258.6,444 264.8,440.4 271,437 277,433.7 283,430.5 288.9,427.4 294.7,424.4 300.5,421.6 306.2,418.8 311.8,416.2 317.4,413.7 322.8,411.2 328.3,408.9 333.6,406.7 338.9,404.6 344.1,402.5 349.3,400.6 354.4,398.8 359.4,397.1 364.3,395.4M332.3,459.2 325.9,452.9 319.6,446.8 313.3,440.9 307,435.2 300.8,429.7 294.7,424.4 288.7,419.4 282.7,414.5 276.7,409.8 270.9,405.4 265,401.1 259.3,397.1 253.6,393.2 247.9,389.5 242.4,386 236.9,382.7 231.4,379.6 226,376.7 220.7,373.9 215.4,371.3M246.3,442.3 252.5,438.7 258.7,435.2 264.9,431.8 270.9,428.5 276.9,425.3 282.8,422.3 288.7,419.4 294.4,416.5 300.1,413.8 305.8,411.2 311.3,408.7 316.8,406.4 322.3,404.1 327.6,401.9 332.9,399.8 338.1,397.8 343.3,395.9 348.4,394.1 353.4,392.4 358.4,390.8M338,456.1 331.6,449.8 325.3,443.7 319,437.9 312.8,432.2 306.6,426.8 300.5,421.6 294.4,416.5 288.4,411.7 282.5,407.1 276.6,402.7 270.8,398.5 265.1,394.4 259.4,390.6 253.8,386.9 248.2,383.5 242.7,380.2 237.2,377.1 231.8,374.2 226.5,371.4 221.2,368.9M240.2,437.2 246.5,433.6 252.7,430.1 258.9,426.7 264.9,423.5 270.9,420.4 276.8,417.4 282.7,414.5 288.4,411.7 294.2,409.1 299.8,406.5 305.4,404 310.9,401.7 316.3,399.4 321.7,397.3 327,395.2 332.2,393.3 337.4,391.4 342.5,389.6 347.6,388 352.6,386.4M343.7,453.1 337.3,446.9 330.9,440.8 324.7,435 318.4,429.4 312.3,424 306.2,418.8 300.1,413.8 294.2,409.1 288.2,404.5 282.4,400.1 276.6,395.9 270.8,391.9 265.1,388.1 259.5,384.5 253.9,381 248.4,377.8 243,374.7 237.6,371.8 232.2,369.1 227,366.5M234.3,432.2 240.5,428.7 246.8,425.2 252.9,421.9 259,418.7 265,415.7 270.9,412.7 276.7,409.8 282.5,407.1 288.2,404.5 293.9,401.9 299.5,399.5 305,397.2 310.4,395 315.8,392.9 321.1,390.8 326.4,388.9 331.5,387.1 336.7,385.3 341.7,383.7 346.7,382.1M349.2,450.2 342.8,444 336.5,438 330.2,432.3 324,426.7 317.9,421.3 311.8,416.2 305.8,411.2 299.8,406.5 293.9,401.9 288,397.6 282.2,393.4 276.5,389.5 270.8,385.7 265.2,382.1 259.6,378.7 254.1,375.4 248.6,372.4 243.2,369.5 237.9,366.8 232.6,364.3M228.3,427.5 234.6,424 240.9,420.6 247,417.3 253.1,414.2 259.1,411.1 265,408.2 270.9,405.4 276.6,402.7 282.4,400.1 288,397.6 293.6,395.2 299.1,392.9 304.6,390.7 310,388.6 315.3,386.6 320.5,384.7 325.7,382.9 330.9,381.2 336,379.6 341,378.1M354.7,447.4 348.3,441.3 342,435.3 335.8,429.6 329.6,424.1 323.4,418.8 317.4,413.7 311.3,408.7 305.4,404 299.5,399.5 293.6,395.2 287.8,391.1 282.1,387.1 276.4,383.4 270.8,379.8 265.2,376.4 259.7,373.2 254.3,370.2 248.9,367.4 243.5,364.7 238.3,362.2M222.5,423 228.8,419.5 235,416.2 241.2,412.9 247.2,409.8 253.2,406.8 259.2,403.9 265,401.1 270.8,398.5 276.6,395.9 282.2,393.4 287.8,391.1 293.3,388.8 298.8,386.6 304.2,384.6 309.5,382.6 314.8,380.7 320,379 325.1,377.3 330.2,375.7 335.2,374.2M360.1,444.7 353.7,438.6 347.5,432.8 341.2,427.1 335,421.6 328.9,416.3 322.8,411.2 316.8,406.4 310.9,401.7 305,397.2 299.1,392.9 293.3,388.8 287.6,384.9 281.9,381.2 276.3,377.6 270.8,374.3 265.2,371.1 259.8,368.1 254.4,365.3 249.1,362.6 243.8,360.1M216.7,418.7 223,415.2 229.2,411.9 235.4,408.7 241.5,405.6 247.5,402.7 253.4,399.8 259.3,397.1 265.1,394.4 270.8,391.9 276.5,389.5 282.1,387.1 287.6,384.9 293.1,382.8 298.5,380.7 303.8,378.8 309.1,376.9 314.3,375.2 319.5,373.5 324.5,372 329.6,370.5M365.4,442.2 359.1,436.1 352.8,430.3 346.6,424.6 340.4,419.2 334.3,413.9 328.3,408.9 322.3,404.1 316.3,399.4 310.4,395 304.6,390.7 298.8,386.6 293.1,382.8 287.4,379.1 281.8,375.5 276.2,372.2 270.7,369.1 265.3,366.1 259.9,363.3 254.6,360.7 249.3,358.2M211,414.5 217.3,411.1 223.5,407.9 229.7,404.7 235.8,401.7 241.8,398.7 247.7,395.9 253.6,393.2 259.4,390.6 265.1,388.1 270.8,385.7 276.4,383.4 281.9,381.2 287.4,379.1 292.8,377.1 298.2,375.1 303.4,373.3 308.7,371.6 313.8,370 318.9,368.4 324,367M370.7,439.7 364.4,433.7 358.1,427.9 351.9,422.3 345.8,416.9 339.7,411.7 333.6,406.7 327.6,401.9 321.7,397.3 315.8,392.9 310,388.6 304.2,384.6 298.5,380.7 292.8,377.1 287.2,373.6 281.7,370.3 276.2,367.1 270.7,364.2 265.3,361.4 260,358.8 254.7,356.3M205.4,410.6 211.7,407.3 217.9,404 224,400.9 230.1,397.9 236.1,395 242.1,392.2 247.9,389.5 253.8,386.9 259.5,384.5 265.2,382.1 270.8,379.8 276.3,377.6 281.8,375.5 287.2,373.6 292.6,371.7 297.8,369.9 303.1,368.2 308.2,366.6 313.4,365.1 318.4,363.6M375.9,437.4 369.6,431.4 363.4,425.6 357.2,420.1 351,414.7 344.9,409.5 338.9,404.6 332.9,399.8 327,395.2 321.1,390.8 315.3,386.6 309.5,382.6 303.8,378.8 298.2,375.1 292.6,371.7 287,368.4 281.5,365.3 276.1,362.4 270.7,359.6 265.4,357 260.1,354.6M199.8,406.9 206.1,403.6 212.3,400.4 218.5,397.3 224.5,394.3 230.6,391.4 236.5,388.7 242.4,386 248.2,383.5 253.9,381 259.6,378.7 265.2,376.4 270.8,374.3 276.2,372.2 281.7,370.3 287,368.4 292.3,366.6 297.5,364.9 302.7,363.4 307.8,361.9 312.9,360.4M381,435.1 374.7,429.2 368.5,423.5 362.3,417.9 356.2,412.6 350.1,407.5 344.1,402.5 338.1,397.8 332.2,393.3 326.4,388.9 320.5,384.7 314.8,380.7 309.1,376.9 303.4,373.3 297.8,369.9 292.3,366.6 286.8,363.5 281.4,360.6 276,357.9 270.7,355.3 265.4,352.9M194.3,403.4 200.6,400.1 206.8,396.9 213,393.9 219,390.9 225,388.1 231,385.3 236.9,382.7 242.7,380.2 248.4,377.8 254.1,375.4 259.7,373.2 265.2,371.1 270.7,369.1 276.2,367.1 281.5,365.3 286.8,363.5 292.1,361.9 297.2,360.3 302.4,358.8 307.4,357.4M386.1,433 379.8,427.1 373.6,421.4 367.5,415.9 361.3,410.6 355.3,405.5 349.3,400.6 343.3,395.9 337.4,391.4 331.5,387.1 325.7,382.9 320,379 314.3,375.2 308.7,371.6 303.1,368.2 297.5,364.9 292.1,361.9 286.6,359 281.3,356.3 275.9,353.7 270.7,351.3M188.9,400.1 195.2,396.8 201.4,393.7 207.5,390.6 213.6,387.7 219.6,384.9 225.5,382.2 231.4,379.6 237.2,377.1 243,374.7 248.6,372.4 254.3,370.2 259.8,368.1 265.3,366.1 270.7,364.2 276.1,362.4 281.4,360.6 286.6,359 291.8,357.4 296.9,356 302,354.6M391.1,430.9 384.9,425.1 378.7,419.4 372.5,414 366.4,408.7 360.4,403.7 354.4,398.8 348.4,394.1 342.5,389.6 336.7,385.3 330.9,381.2 325.1,377.3 319.5,373.5 313.8,370 308.2,366.6 302.7,363.4 297.2,360.3 291.8,357.4 286.5,354.7 281.1,352.2 275.9,349.8M183.5,396.9 189.8,393.7 196,390.6 202.1,387.6 208.2,384.7 214.2,381.9 220.1,379.2 226,376.7 231.8,374.2 237.6,371.8 243.2,369.5 248.9,367.4 254.4,365.3 259.9,363.3 265.3,361.4 270.7,359.6 276,357.9 281.3,356.3 286.5,354.7 291.6,353.3 296.7,351.9M396,429 389.8,423.2 383.6,417.6 377.5,412.1 371.4,406.9 365.4,401.9 359.4,397.1 353.4,392.4 347.6,388 341.7,383.7 336,379.6 330.2,375.7 324.5,372 318.9,368.4 313.4,365.1 307.8,361.9 302.4,358.8 296.9,356 291.6,353.3 286.3,350.8 281,348.4M178.2,394 184.5,390.8 190.7,387.7 196.8,384.7 202.9,381.9 208.9,379.1 214.8,376.4 220.7,373.9 226.5,371.4 232.2,369.1 237.9,366.8 243.5,364.7 249.1,362.6 254.6,360.7 260,358.8 265.4,357 270.7,355.3 275.9,353.7 281.1,352.2 286.3,350.8 291.4,349.4M400.9,427.1 394.7,421.4 388.5,415.8 382.4,410.4 376.3,405.2 370.3,400.2 364.3,395.4 358.4,390.8 352.6,386.4 346.7,382.1 341,378.1 335.2,374.2 329.6,370.5 324,367 318.4,363.6 312.9,360.4 307.4,357.4 302,354.6 296.7,351.9 291.4,349.4 286.1,347.1M172.9,391.2 179.2,388 185.4,385 191.5,382 197.6,379.2 203.6,376.5 209.5,373.8 215.4,371.3 221.2,368.9 227,366.5 232.6,364.3 238.3,362.2 243.8,360.1 249.3,358.2 254.7,356.3 260.1,354.6 265.4,352.9 270.7,351.3 275.9,349.8 281,348.4 286.1,347.1" fill="none" stroke="#000" stroke-opacity="0.8" stroke-width="0.85"/>
<line x1="290.3" y1="484.5" x2="290.3" y2="489.9" stroke="#222" stroke-width="0.95"/>
<circle cx="290.3" cy="489.9" r="2.6" fill="#f8c8c8" stroke="#3a2a2a" stroke-width="0.55"/>
<circle cx="401.1" cy="427.4" r="2.6" fill="#f8c8c8" stroke="#3a2a2a" stroke-width="0.55"/>
<circle cx="172.9" cy="390.5" r="2.6" fill="#c80000" stroke="#5a0000" stroke-width="0.6"/>
<circle cx="286.3" cy="342.3" r="2.6" fill="#c80000" stroke="#5a0000" stroke-width="0.6"/>
<circle cx="288.2" cy="397.5" r="2.6" fill="#c80000" stroke="#5a0000" stroke-width="0.6"/>
<rect x="130.1" y="542.5" width="125.8" height="9.8" fill="#f6f7fa"/>
</g>
<g font-family="Liberation Sans, Arial, sans-serif" font-size="8.4" fill="#3a3a3a">
<text x="42.5" y="152.2" text-anchor="end">10</text>
<text x="41.8" y="135" text-anchor="end">20</text>
<text x="41" y="117.8" text-anchor="end">30</text>
<text x="40.3" y="100.7" text-anchor="end">40</text>
<text x="39.5" y="83.5" text-anchor="end">50</text>
<text x="38.8" y="66.3" text-anchor="end">60</text>
<text x="38.1" y="49.2" text-anchor="end">70</text>
<text x="37.3" y="32" text-anchor="end">80</text>
<text x="160.9" y="252.8" text-anchor="end">2</text>
<text x="141.4" y="244" text-anchor="end">4</text>
<text x="122" y="235.2" text-anchor="end">5</text>
<text x="102.5" y="226.4" text-anchor="end">6</text>
<text x="83" y="217.7" text-anchor="end">7</text>
<text x="63.5" y="208.9" text-anchor="end">8</text>
<text x="44" y="200.1" text-anchor="end">9</text>
<text x="169.5" y="252.8" text-anchor="start">10</text>
<text x="197.5" y="239.2" text-anchor="start">15</text>
<text x="225.5" y="225.6" text-anchor="start">20</text>
<text x="253.5" y="212" text-anchor="start">25</text>
<text x="281.5" y="198.4" text-anchor="start">30</text>
<text x="224.2" y="240.5" textLength="83.9" lengthAdjust="spacingAndGlyphs" font-size="8.3">A: Pyrolysis Time (Min)</text>
<text x="26.4" y="241.8" textLength="74.3" lengthAdjust="spacingAndGlyphs" font-size="8.3">B: Catalyst Conc. (%)</text>
<text x="0" y="0" transform="translate(7.7 140.4) rotate(-90)" textLength="49.8" lengthAdjust="spacingAndGlyphs" font-size="8.3">Burn Out &#160;(%)</text>
<text x="416.9" y="147.1" text-anchor="end">10</text>
<text x="416.1" y="129.7" text-anchor="end">20</text>
<text x="415.3" y="112.4" text-anchor="end">30</text>
<text x="414.5" y="95.1" text-anchor="end">40</text>
<text x="413.7" y="77.7" text-anchor="end">50</text>
<text x="412.9" y="60.4" text-anchor="end">60</text>
<text x="412.1" y="43.1" text-anchor="end">70</text>
<text x="411.3" y="25.7" text-anchor="end">80</text>
<text x="535.8" y="247.7" text-anchor="end">510</text>
<text x="506.5" y="234.8" text-anchor="end">560</text>
<text x="477.2" y="221.8" text-anchor="end">610</text>
<text x="447.8" y="208.9" text-anchor="end">660</text>
<text x="418.5" y="196" text-anchor="end">710</text>
<text x="544.4" y="247.7" text-anchor="start">10</text>
<text x="572.4" y="234.4" text-anchor="start">15</text>
<text x="600.3" y="221.1" text-anchor="start">20</text>
<text x="628.2" y="207.8" text-anchor="start">25</text>
<text x="656.2" y="194.5" text-anchor="start">30</text>
<text x="599.2" y="235.1" textLength="83.9" lengthAdjust="spacingAndGlyphs" font-size="8.3">A: Pyrolysis Time (Min)</text>
<text x="373.4" y="236.2" textLength="130.3" lengthAdjust="spacingAndGlyphs" font-size="8.3">C: Pyrolysis Temp. (Degree Celcius)</text>
<text x="0" y="0" transform="translate(381.4 134.9) rotate(-90)" textLength="50.7" lengthAdjust="spacingAndGlyphs" font-size="8.3">Burn Out &#160;(%)</text>
<text x="171.7" y="464.5" text-anchor="end">10</text>
<text x="171" y="448" text-anchor="end">20</text>
<text x="170.3" y="431.4" text-anchor="end">30</text>
<text x="169.6" y="414.9" text-anchor="end">40</text>
<text x="168.9" y="398.3" text-anchor="end">50</text>
<text x="168.1" y="381.7" text-anchor="end">60</text>
<text x="167.4" y="365.2" text-anchor="end">70</text>
<text x="166.7" y="348.6" text-anchor="end">80</text>
<text x="285.6" y="561" text-anchor="end">510</text>
<text x="257.5" y="548.6" text-anchor="end">560</text>
<text x="229.4" y="536.2" text-anchor="end">610</text>
<text x="201.3" y="523.9" text-anchor="end">660</text>
<text x="173.2" y="511.5" text-anchor="end">710</text>
<text x="294.2" y="561" text-anchor="start">3</text>
<text x="312.1" y="552.5" text-anchor="start">4</text>
<text x="330" y="544" text-anchor="start">5</text>
<text x="347.9" y="535.5" text-anchor="start">6</text>
<text x="365.7" y="527" text-anchor="start">7</text>
<text x="383.6" y="518.5" text-anchor="start">8</text>
<text x="401.5" y="510" text-anchor="start">9</text>
<text x="350.9" y="549.1" textLength="72.6" lengthAdjust="spacingAndGlyphs" font-size="8.3">B: Catalyst Conc. (%)</text>
<text x="130.7" y="550.3" textLength="123.8" lengthAdjust="spacingAndGlyphs" font-size="8.3">C: Pyrolysis Temp. (Degree Celcius)</text>
<text x="0" y="0" transform="translate(138.2 453.4) rotate(-90)" textLength="49" lengthAdjust="spacingAndGlyphs" font-size="8.3">Burn Out &#160;(%)</text>
</g>
<g font-family="Liberation Serif, serif" font-size="18.5" fill="#111">
<text x="142.5" y="284.2" textLength="22.3" lengthAdjust="spacingAndGlyphs">(a)</text>
<text x="516.8" y="284.2" textLength="23.9" lengthAdjust="spacingAndGlyphs">(b)</text>
<text x="269.4" y="600.6" textLength="21.4" lengthAdjust="spacingAndGlyphs">(c)</text>
</g>
<line x1="259" y1="584.6" x2="309" y2="584.6" stroke="#f3f3f3" stroke-width="1"/>
</svg>
</body></html>
